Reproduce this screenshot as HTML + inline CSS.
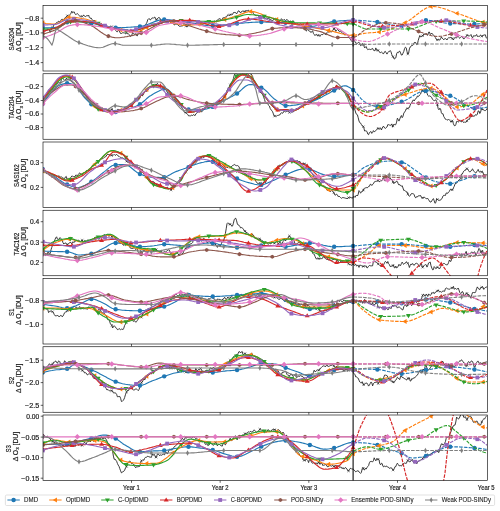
<!DOCTYPE html>
<html><head><meta charset="utf-8"><style>
html,body{margin:0;padding:0;background:#fff;width:500px;height:511px;overflow:hidden}
svg text{font-family:"Liberation Sans", sans-serif;font-size:6.5px;fill:#1a1a1a;stroke:#1a1a1a;stroke-width:0.18px}
svg{will-change:transform}
</style></head><body>
<svg width="500" height="511" viewBox="0 0 500 511" style="position:absolute;left:0;top:0">
<rect width="500" height="511" fill="#fff"/>
<clipPath id="c0"><rect x="43" y="5.5" width="444.35" height="65.5"/></clipPath>
<g clip-path="url(#c0)" fill="none" stroke-linejoin="round">
<path d="M43 33l.8-2.6 .8 .7 .8-.1 .8-.4 .8-.5 .8-1.2 .8 .5 .8 .8 .8 2.1 .8-2 .8-1.9 .8-.9 .8-1.4 .8-1.5 .8-.6 .8-.5 .8-1 .8-.1 .8-1 .8-.1 .8 .7 .8-1.1 .8-1.4 .8-.3 .8 .7 .8 .2 .8-1.9 .8-.8 .8 0 .8-1.6 .8-.2 .8 .5 .8-.7 .8-1 .8-1.2 .8-2 .8 1.6 .8-.6 .8-.3 .8 1.9 .8 .9 .8-.8 .8-.4 .8 .9 .8 .9 .8 1.1 .8-.1 .8-.2 .8 .4 .8-.9 .8-.5 .8 1.2 .8 .3 .8-.7 .8-.2 .8 .1 .8-.8 .8 2.5 .8 .9 .8-.6 .8 1.4 .8 .9 .8 1 .8-.9 .8 1.3 .8 2.4 .8 .5 .8-1.6 .8 1.2 .8 1.3 .8 .3 .8 .9 .8-1.2 .8 .2 .8 .1 .8 1.3 .8-.6 .8-1 .8-.2 .8 2.2 .8 .3 .8-.1 .8 .2 .8-.6 .8-.6 .8 .1 .8 1.2 .8 1.7 .8-.8 .8 .7 .8 1.2 .8 1 .8 .2 .8-1.4 .8-.2 .8 1.8 .8 1.5 .8 0 .8-.6 .8-.3 .8 .3 .8 .1 .8 .5 .8-.7 .8 .4 .8 .3 .8 .5 .8 .7 .8 1.6 .8-.1 .8-1.1 .8-2.4 .8 .6 .8 .8 .8 .3 .8-.9 .8 2.1 .8 .2 .8-2.5 .8-1.2 .8-.7 .8-.5 .8-.3 .8-.6 .8-2.4 .8-1.1 .8-.9 .8-.4 .8-1.4 .8-1.6 .8-2.6 .8-.8 .8-.1 .8 1.3 .8-.5 .8-1.3 .8-.3 .8 .3 .8-.9 .8-.1 .8 1.7 .8 1.4 .8-1.6 .8-.9 .8-.4 .8 .6 .8 1.9 .8 .8 .8-.3 .8 .2 .8 .1 .8-.3 .8-.9 .8 .8 .8 .7 .8-.3 .8 .1 .8 .1 .8 .9 .8 1 .8-.4 .8 .5 .8 1.1 .8 .8 .8 .1 .8-1.8 .8 1.3 .8 .1 .8 .5 .8 1 .8 .4 .8-.2 .8-.3 .8 .4 .8-1.2 .8-.2 .8 .4 .8-.2 .8 1.5 .8 .1 .8-.1 .8-1.7 .8-.8 .8 .4 .8 .2 .8-.8 .8 .2 .8 .3 .8 .5 .8-1.1 .8 .2 .8-1.1 .8-.8 .8-.1 .8-.1 .8 1.2 .8 .8 .8-.3 .8 .4 .8 .5 .8-.9 .8-.6 .8-.8 .8-.6 .8 .9 .8-.8 .8 1.2 .8 .4 .8 .4 .8-1 .8-.7 .8 .3 .8-.5 .8-.1 .8 0 .8-.3 .8-.6 .8-.6 .8-.5 .8-1.2 .8 .5 .8 0 .8 1.4 .8-.5 .8-2.3 .8 .4 .8-.3 .8-.8 .8 .4 .8-1.2 .8-1.4 .8 .5 .8 .2 .8-.6 .8-.9 .8 .8 .8-.3 .8-1.8 .8-.2 .8 .2 .8 .1 .8 1.2 .8-1.3 .8-1.6 .8-.2 .8 1.1 .8 1.2 .8-1.5 .8-.5 .8 .1 .8 .1 .8 .9 .8-1.4 .8 0 .8 0 .8-.2 .8-.4 .8 1.7 .8-.4 .8-.3 .8-.3 .8 .8 .8 1.7 .8 1.1 .8 .5 .8 .6 .8 0 .8-.2 .8 .7 .8 .2 .8-.2 .8 1 .8 .6 .8-.6 .8-.2 .8 1.4 .8 .9 .8-1.1 .8-.3 .8 .7 .8 .5 .8-1.4 .8 1.5 .8 .9 .8-.6 .8 1.3 .8-.3 .8-.8 .8 0 .8-.9 .8 1.1 .8 1.6 .8-.7 .8 1 .8-.4 .8 .1 .8-1.1 .8-1.6 .8 1 .8 .8 .8-.9 .8 0 .8 1.1 .8-.6 .8-.8 .8 1.1 .8 1.3 .8-.2 .8 1.1 .8 .6 .8-1.2 .8-1.2 .8 .1 .8 1.6 .8 1.2 .8 .2 .8 .1 .8-.2 .8 .5 .8 0 .8 0 .8-.4 .8 .2 .8 1.1 .8 .2 .8 .8 .8 1.6 .8 1.1 .8 2.2 .8-.7 .8-.9 .8 1.2 .8 .4 .8 .2 .8 1.3 .8-1.1 .8-.8 .8 2.7 .8 1 .8 1.2 .8-1.1 .8-.1 .8 1.5 .8-1.1 .8 .6 .8 .9 .8-1 .8-.7 .8 0 .8-.1 .8-1.1 .8 .4 .8 .6 .8 .4 .8-2.2 .8-1.1 .8 .6 .8-.5 .8 0 .8 .2 .8 .1 .8-1.3 .8-.9 .8-1.6 .8 1.4 .8 1.9 .8-1.1 .8-.7 .8 .3 .8 1.4 .8 .1 .8-.5 .8 1.4 .8 .7 .8 .3 .8 0 .8 1.7 .8-.2 .8-.4 .8 0 .8 .9 .8 1.4 .8 .7 .8 1.7 .8 1.1 .8 1.3 .8 .3 .8-1.1 .8-1.3 .8 2.4 .8 1.5 .8-.1 .8 .1 .8-.7 .8-.2 .8 .8 .8 2.5 .8-.4 .8-1.2 .8-.5 .8 2 .8 2.3 .8-.8 .8-.7 .8 2.3 .8 1 .8-.4 .8-.1 .8 .4 .8-.3 .8-.3 .8-.6 .8 1.8 .8 .3 .8 .3 .8-2.9 .8 2 .8 1.2 .8-.8 .8 1 .8 1.3 .8 .1 .8-.8 .8 .6 .8 1.3 .8-.3 .8-1.8 .8-.3 .8 1.4 .8 1.3 .8-1.5 .8-1 .8 0 .8-1.1 .8 1.3 .8 2.8 .8 1.9 .8 .4 .8 2.2 .8-.7 .8-.5 .8-4.1 .8-1.5 .8 .5 .8-1.4 .8-.2 .8 1.8 .8 2.1 .8-.1 .8-1.8 .8-1.8 .8-2.9 .8-1.3 .8 .6 .8 3.8 .8 2.5 .8-1 .8-4.2 .8-2 .8-.3 .8-1.4 .8 .3 .8-.9 .8-2 .8-.3 .8 .4 .8 1.9 .8-.2 .8-3.8 .8-2.7 .8-2.4 .8 1.4 .8-.2 .8-1.1 .8 .3 .8-2 .8 .4 .8 .1 .8-1 .8 1.8 .8-.1 .8-2.9 .8-.2 .8 2.3 .8-.2 .8-1 .8 1 .8 1 .8 .8 .8 1.4 .8 .8 .8 1.7 .8 .1 .8-.6 .8 .5 .8 .3 .8-1.5 .8-1.7 .8 1.4 .8 .5 .8 1 .8-1.1 .8-.1 .8 .4 .8 1 .8-1.5 .8-.9 .8 .2 .8-.4 .8 .4 .8 .1 .8 1 .8 1.1 .8-1.9 .8-.6 .8 .3 .8 .2 .8-1.7 .8 .1 .8 1.2 .8 .7 .8-.8 .8-1 .8-.2 .8 1.7 .8 1.1 .8-1.2 .8-.7 .8-.5 .8-1.5 .8 .1 .8 .4 .8 .4 .8-.8 .8-.8 .8 2.5 .8 .8 .8-2 .8 0 .8 .3 .8-.4 .8-1.2 .8 2 .8-.5 .8 .8 .8-.8 .8-.9 .8 .7 .8 .8 .8-1.4 .8 0 .8-.3 .8-.1 .8 3 .8 .4" stroke="#262626" stroke-width="0.9"/>
<path d="M51.4 26.33L53.8 28.73M51.4 28.73L53.8 26.33" stroke="#262626" stroke-width="0.55"/><path d="M66.2 14.53L68.6 16.93M66.2 16.93L68.6 14.53" stroke="#262626" stroke-width="0.55"/><path d="M81 15.27L83.4 17.67M81 17.67L83.4 15.27" stroke="#262626" stroke-width="0.55"/><path d="M95.8 22.44L98.2 24.84M95.8 24.84L98.2 22.44" stroke="#262626" stroke-width="0.55"/><path d="M110.6 25.39L113 27.79M110.6 27.79L113 25.39" stroke="#262626" stroke-width="0.55"/><path d="M125.4 31.77L127.8 34.17M125.4 34.17L127.8 31.77" stroke="#262626" stroke-width="0.55"/><path d="M140.2 29.43L142.6 31.83M140.2 31.83L142.6 29.43" stroke="#262626" stroke-width="0.55"/><path d="M155 18.4L157.4 20.8M155 20.8L157.4 18.4" stroke="#262626" stroke-width="0.55"/><path d="M169.8 21.61L172.2 24.01M169.8 24.01L172.2 21.61" stroke="#262626" stroke-width="0.55"/><path d="M184.6 24.66L187 27.06M184.6 27.06L187 24.66" stroke="#262626" stroke-width="0.55"/><path d="M199.4 22.73L201.8 25.13M199.4 25.13L201.8 22.73" stroke="#262626" stroke-width="0.55"/><path d="M214.2 20.36L216.6 22.76M214.2 22.76L216.6 20.36" stroke="#262626" stroke-width="0.55"/><path d="M229 13.62L231.4 16.02M229 16.02L231.4 13.62" stroke="#262626" stroke-width="0.55"/><path d="M243.8 10.28L246.2 12.68M243.8 12.68L246.2 10.28" stroke="#262626" stroke-width="0.55"/><path d="M258.6 14.92L261 17.32M258.6 17.32L261 14.92" stroke="#262626" stroke-width="0.55"/><path d="M273.4 17.94L275.8 20.34M273.4 20.34L275.8 17.94" stroke="#262626" stroke-width="0.55"/><path d="M288.2 20.32L290.6 22.72M288.2 22.72L290.6 20.32" stroke="#262626" stroke-width="0.55"/><path d="M303 25.82L305.4 28.22M303 28.22L305.4 25.82" stroke="#262626" stroke-width="0.55"/><path d="M317.8 34.21L320.2 36.61M317.8 36.61L320.2 34.21" stroke="#262626" stroke-width="0.55"/><path d="M332.6 27.7L335 30.1M332.6 30.1L335 27.7" stroke="#262626" stroke-width="0.55"/><path d="M347.4 35.54L349.8 37.94M347.4 37.94L349.8 35.54" stroke="#262626" stroke-width="0.55"/><path d="M362.2 43.43L364.6 45.83M362.2 45.83L364.6 43.43" stroke="#262626" stroke-width="0.55"/><path d="M377 49.06L379.4 51.46M377 51.46L379.4 49.06" stroke="#262626" stroke-width="0.55"/><path d="M391.8 55.5L394.2 57.9M391.8 57.9L394.2 55.5" stroke="#262626" stroke-width="0.55"/><path d="M406.6 52.89L409 55.29M406.6 55.29L409 52.89" stroke="#262626" stroke-width="0.55"/><path d="M421.4 34.56L423.8 36.96M421.4 36.96L423.8 34.56" stroke="#262626" stroke-width="0.55"/><path d="M436.2 38.71L438.6 41.11M436.2 41.11L438.6 38.71" stroke="#262626" stroke-width="0.55"/><path d="M451 37.19L453.4 39.59M451 39.59L453.4 37.19" stroke="#262626" stroke-width="0.55"/><path d="M465.8 34.05L468.2 36.45M465.8 36.45L468.2 34.05" stroke="#262626" stroke-width="0.55"/><path d="M480.6 34.99L483 37.39M480.6 37.39L483 34.99" stroke="#262626" stroke-width="0.55"/>
<path d="M43 28l1.5 0 1.5-.1 1.5 0 1.5-.1 1.5-.1 1.5-.1 1.5-.1 1.5-.1 1.5-.2 1.5-.5 1.5-.6 1.5-.7 1.5-.8 1.5-.8 1.5-.8 1.5-.8 1.5-.5 1.5-.5 1.5-.2 1.5 0 1.5 .1 1.5 .1 1.5 .1 1.5 .1 1.5 .2 1.5 .2 1.5 .2 1.5 .3 1.5 .2 1.5 .2 1.5 .2 1.5 .2 1.5 .3 1.5 .3 1.5 .3 1.5 .4 1.5 .3 1.5 .4 1.5 .4 1.5 .3 1.5 .4 1.5 .3 1.5 .3 1.5 .3 1.5 .3 1.5 .1 1.5 .2 1.5 0 1.5 0 1.5 0 1.5 0 1.5 0 1.5-.1 1.5 0 1.5-.1 1.5-.1 1.5-.1 1.5-.1 1.5-.1 1.5-.1 1.5-.1 1.5-.1 1.5-.1 1.5-.2 1.5-.1 1.5-.3 1.5-.3 1.5-.5 1.5-.5 1.5-.5 1.5-.6 1.5-.6 1.5-.6 1.5-.6 1.5-.5 1.5-.5 1.5-.5 1.5-.4 1.5-.2 1.5-.2 1.5-.1 1.5 0 1.5 .1 1.5 .1 1.5 .2 1.5 .1 1.5 .2 1.5 .3 1.5 .2 1.5 .2 1.5 .3 1.5 .2 1.5 .3 1.5 .2 1.5 .2 1.5 .2 1.5 .2 1.5 .3 1.5 .2 1.5 .3 1.5 .3 1.5 .2 1.5 .3 1.5 .3 1.5 .2 1.5 .2 1.5 .3 1.5 .2 1.5 .1 1.5 .2 1.5 .1 1.5 0 1.5 .1 1.5-.1 1.5 0 1.5-.1 1.5-.1 1.5-.1 1.5-.2 1.5-.1 1.5-.2 1.5-.2 1.5-.1 1.5-.2 1.5-.2 1.5-.2 1.5-.1 1.5-.2 1.5-.1 1.5-.1 1.5-.2 1.5-.1 1.5-.1 1.5-.1 1.5-.2 1.5-.1 1.5-.1 1.5-.1 1.5-.1 1.5-.1 1.5-.1 1.5-.1 1.5 0 1.5-.1 1.5 0 1.5 0 1.5 0 1.5 0 1.5 .1 1.5 0 1.5 0 1.5 .1 1.5 0 1.5 .1 1.5 0 1.5 .1 1.5 0 1.5 .1 1.5 .1 1.5 0 1.5 .1 1.5 .1 1.5 .2 1.5 .2 1.5 .2 1.5 .3 1.5 .2 1.5 .4 1.5 .3 1.5 .3 1.5 .3 1.5 .3 1.5 .3 1.5 .2 1.5 .2 1.5 .2 1.5 .1 1.5 0 1.5 0 1.5-.2 1.5-.2 1.5-.3 1.5-.3 1.5-.4 1.5-.4 1.5-.4 1.5-.5 1.5-.4 1.5-.4 1.5-.4 1.5-.4 1.5-.3 1.5-.3 1.5-.1 1.5-.2 1.5-.1 1.5-.2 1.5-.1 1.5-.1 1.5-.1 1.5-.1 1.5-.1 1.5-.1 1.5-.1 1.5 0 1.5 0" stroke="#1f77b4" stroke-width="1.15"/>
<path d="M353.5 20.3l1.5 0 1.5 0 1.5 .1 1.5 0 1.5 .1 1.5 .1 1.5 .1 1.5 .1 1.5 .2 1.5 .1 1.5 .1 1.5 .2 1.5 .1 1.5 .2 1.5 .1 1.5 .2 1.5 .2 1.5 .2 1.5 .3 1.5 .3 1.5 .3 1.5 .4 1.5 .3 1.5 .4 1.5 .3 1.5 .3 1.5 .3 1.5 .2 1.5 .2 1.5 .2 1.5 .1 1.5 0 1.5-.1 1.5-.2 1.5-.3 1.5-.4 1.5-.4 1.5-.5 1.5-.5 1.5-.5 1.5-.5 1.5-.5 1.5-.5 1.5-.4 1.5-.4 1.5-.2 1.5-.2 1.5-.1 1.5 0 1.5 0 1.5 .2 1.5 .1 1.5 .3 1.5 .2 1.5 .3 1.5 .3 1.5 .3 1.5 .3 1.5 .2 1.5 .3 1.5 .2 1.5 .2 1.5 .2 1.5 .1 1.5 0 1.5 .1 1.5 0 1.5 .1 1.5 0 1.5 .1 1.5 0 1.5 0 1.5 .1 1.5 0 1.5 0 1.5 0 1.5 .1 1.5 0 1.5 0 1.5 0 1.5 0 1.5 0 1.5-.1 1.5-.1 1.5-.1 1.5-.2 1.5-.1 1.5-.2 1.5-.2" stroke="#1f77b4" stroke-width="1.15" stroke-dasharray="3.6 1.2"/>
<circle cx="42.83" cy="28" r="2.2" fill="#1f77b4"/><circle cx="67.11" cy="22.2" r="2.2" fill="#1f77b4"/><circle cx="91.38" cy="23.21" r="2.2" fill="#1f77b4"/><circle cx="115.66" cy="27.75" r="2.2" fill="#1f77b4"/><circle cx="139.94" cy="26.46" r="2.2" fill="#1f77b4"/><circle cx="164.21" cy="19.5" r="2.2" fill="#1f77b4"/><circle cx="188.49" cy="22.51" r="2.2" fill="#1f77b4"/><circle cx="212.77" cy="25.75" r="2.2" fill="#1f77b4"/><circle cx="237.04" cy="23.54" r="2.2" fill="#1f77b4"/><circle cx="261.32" cy="22" r="2.2" fill="#1f77b4"/><circle cx="285.6" cy="22.79" r="2.2" fill="#1f77b4"/><circle cx="309.87" cy="26.5" r="2.2" fill="#1f77b4"/><circle cx="334.15" cy="21.46" r="2.2" fill="#1f77b4"/><circle cx="353.1" cy="20.25" r="2.2" fill="#1f77b4"/><circle cx="377.38" cy="21.99" r="2.2" fill="#1f77b4"/><circle cx="401.65" cy="25.99" r="2.2" fill="#1f77b4"/><circle cx="425.93" cy="20.25" r="2.2" fill="#1f77b4"/><circle cx="450.21" cy="23.51" r="2.2" fill="#1f77b4"/><circle cx="474.48" cy="24" r="2.2" fill="#1f77b4"/>
<path d="M43 22.7l1.5 .4 1.5 .4 1.5 .2 1.5 .1 1.5 .1 1.5 .1 1.5 0 1.5 0 1.5-.2 1.5-.5 1.5-.8 1.5-.9 1.5-1 1.5-1 1.5-.9 1.5-.8 1.5-.5 1.5-.2 1.5 0 1.5 .1 1.5 .1 1.5 .2 1.5 .2 1.5 .2 1.5 .2 1.5 .3 1.5 .2 1.5 .3 1.5 .3 1.5 .4 1.5 .5 1.5 .5 1.5 .5 1.5 .6 1.5 .6 1.5 .6 1.5 .5 1.5 .5 1.5 .5 1.5 .5 1.5 .5 1.5 .6 1.5 .5 1.5 .5 1.5 .5 1.5 .5 1.5 .5 1.5 .4 1.5 .4 1.5 .3 1.5 .2 1.5 .2 1.5 .2 1.5 .2 1.5 .2 1.5 .2 1.5 .1 1.5 .2 1.5 .1 1.5 .1 1.5 .1 1.5 0 1.5 0 1.5-.3 1.5-.5 1.5-.6 1.5-.8 1.5-.9 1.5-.8 1.5-.8 1.5-.6 1.5-.5 1.5-.6 1.5-.5 1.5-.5 1.5-.6 1.5-.4 1.5-.5 1.5-.4 1.5-.3 1.5-.2 1.5-.2 1.5 0 1.5 .1 1.5 .3 1.5 .3 1.5 .4 1.5 .5 1.5 .4 1.5 .5 1.5 .4 1.5 .4 1.5 .3 1.5 .1 1.5 0 1.5 0 1.5 0 1.5-.1 1.5-.1 1.5-.1 1.5-.1 1.5-.2 1.5-.2 1.5-.1 1.5-.2 1.5-.2 1.5-.2 1.5-.2 1.5-.2 1.5-.3 1.5-.2 1.5-.2 1.5-.3 1.5-.2 1.5-.3 1.5-.4 1.5-.3 1.5-.4 1.5-.4 1.5-.4 1.5-.4 1.5-.4 1.5-.4 1.5-.5 1.5-.4 1.5-.4 1.5-.5 1.5-.4 1.5-.5 1.5-.5 1.5-.6 1.5-.6 1.5-.7 1.5-.5 1.5-.6 1.5-.4 1.5-.4 1.5-.2 1.5 0 1.5 .1 1.5 .3 1.5 .4 1.5 .4 1.5 .6 1.5 .5 1.5 .6 1.5 .7 1.5 .5 1.5 .6 1.5 .5 1.5 .4 1.5 .5 1.5 .5 1.5 .5 1.5 .5 1.5 .5 1.5 .5 1.5 .5 1.5 .5 1.5 .4 1.5 .4 1.5 .3 1.5 .4 1.5 .3 1.5 .3 1.5 .3 1.5 .3 1.5 .3 1.5 .3 1.5 .3 1.5 .3 1.5 .2 1.5 .3 1.5 .3 1.5 .3 1.5 .3 1.5 .3 1.5 .3 1.5 .2 1.5 .3 1.5 .3 1.5 .3 1.5 .3 1.5 .2 1.5 .3 1.5 .3 1.5 .3 1.5 .3 1.5 .3 1.5 .3 1.5 .3 1.5 .3 1.5 .3 1.5 .4 1.5 .4 1.5 .4 1.5 .4 1.5 .4 1.5 .4 1.5 .3 1.5 .3 1.5 .3 1.5 .3 1.5 .2 1.5 .1 1.5 0" stroke="#ff7f0e" stroke-width="1.15"/>
<path d="M353.5 35.2l1.5-.1 1.5-.2 1.5-.2 1.5-.3 1.5-.4 1.5-.3 1.5-.3 1.5-.2 1.5-.2 1.5-.1 1.5-.2 1.5-.1 1.5 0 1.5-.1 1.5-.1 1.5-.1 1.5-.2 1.5-.2 1.5-.2 1.5-.3 1.5-.4 1.5-.4 1.5-.5 1.5-.5 1.5-.6 1.5-.6 1.5-.6 1.5-.7 1.5-.6 1.5-.7 1.5-.7 1.5-.7 1.5-.7 1.5-.7 1.5-.7 1.5-.9 1.5-.9 1.5-1 1.5-1.1 1.5-1.2 1.5-1.2 1.5-1.2 1.5-1.1 1.5-1.2 1.5-1.1 1.5-1.1 1.5-.9 1.5-.9 1.5-.7 1.5-.6 1.5-.4 1.5-.3 1.5 0 1.5 .1 1.5 .1 1.5 .3 1.5 .3 1.5 .4 1.5 .4 1.5 .4 1.5 .5 1.5 .6 1.5 .5 1.5 .6 1.5 .5 1.5 .6 1.5 .5 1.5 .6 1.5 .4 1.5 .5 1.5 .5 1.5 .5 1.5 .5 1.5 .6 1.5 .5 1.5 .6 1.5 .6 1.5 .5 1.5 .6 1.5 .5 1.5 .5 1.5 .6 1.5 .4 1.5 .5 1.5 .4 1.5 .4 1.5 .3 1.5 .4 1.5 .2" stroke="#ff7f0e" stroke-width="1.15" stroke-dasharray="3.6 1.2"/>
<path d="M40.23 22.64L44.39 20.17L44.39 25.11Z" fill="#ff7f0e"/><path d="M66.21 17.32L70.37 14.85L70.37 19.79Z" fill="#ff7f0e"/><path d="M92.18 22.11L96.34 19.64L96.34 24.58Z" fill="#ff7f0e"/><path d="M118.16 30.1L122.32 27.63L122.32 32.57Z" fill="#ff7f0e"/><path d="M144.13 27.47L148.29 25L148.29 29.94Z" fill="#ff7f0e"/><path d="M170.11 22.39L174.27 19.92L174.27 24.86Z" fill="#ff7f0e"/><path d="M196.09 24.31L200.25 21.84L200.25 26.78Z" fill="#ff7f0e"/><path d="M222.06 19.46L226.22 16.99L226.22 21.93Z" fill="#ff7f0e"/><path d="M248.04 11.51L252.2 9.04L252.2 13.98Z" fill="#ff7f0e"/><path d="M274.01 19.51L278.17 17.04L278.17 21.98Z" fill="#ff7f0e"/><path d="M299.99 25.54L304.15 23.07L304.15 28.01Z" fill="#ff7f0e"/><path d="M325.96 30.46L330.12 27.99L330.12 32.93Z" fill="#ff7f0e"/><path d="M350.5 35.24L354.66 32.77L354.66 37.71Z" fill="#ff7f0e"/><path d="M376.48 32.1L380.64 29.63L380.64 34.57Z" fill="#ff7f0e"/><path d="M402.45 22.73L406.61 20.26L406.61 25.2Z" fill="#ff7f0e"/><path d="M428.43 6.6L432.59 4.13L432.59 9.07Z" fill="#ff7f0e"/><path d="M454.4 13.35L458.56 10.88L458.56 15.82Z" fill="#ff7f0e"/><path d="M480.38 22.12L484.54 19.65L484.54 24.59Z" fill="#ff7f0e"/>
<path d="M43 29.2l1.5 0 1.5-.1 1.5 0 1.5-.1 1.5-.1 1.5-.1 1.5-.2 1.5-.1 1.5-.3 1.5-.6 1.5-.7 1.5-.9 1.5-.9 1.5-1 1.5-.8 1.5-.7 1.5-.4 1.5-.2 1.5 0 1.5 0 1.5 0 1.5 0 1.5 0 1.5 0 1.5 0 1.5 0 1.5 0 1.5 0 1.5 0 1.5 0 1.5 0 1.5 0 1.5 .2 1.5 .2 1.5 .3 1.5 .4 1.5 .4 1.5 .4 1.5 .5 1.5 .5 1.5 .5 1.5 .5 1.5 .5 1.5 .4 1.5 .3 1.5 .4 1.5 .4 1.5 .3 1.5 .5 1.5 .3 1.5 .4 1.5 .4 1.5 .3 1.5 .3 1.5 .3 1.5 .1 1.5 .2 1.5 0 1.5-.1 1.5-.1 1.5-.2 1.5-.4 1.5-.3 1.5-.5 1.5-.4 1.5-.5 1.5-.5 1.5-.5 1.5-.5 1.5-.4 1.5-.5 1.5-.4 1.5-.4 1.5-.5 1.5-.4 1.5-.5 1.5-.5 1.5-.5 1.5-.4 1.5-.3 1.5-.3 1.5-.3 1.5-.1 1.5-.2 1.5-.1 1.5-.1 1.5-.1 1.5-.1 1.5-.1 1.5-.1 1.5-.1 1.5 0 1.5-.1 1.5 0 1.5 0 1.5 0 1.5 .1 1.5 0 1.5 .1 1.5 0 1.5 .1 1.5 .1 1.5 .1 1.5 .1 1.5 .1 1.5 .1 1.5 0 1.5 .1 1.5 0 1.5 .1 1.5 0 1.5 0 1.5-.1 1.5-.1 1.5-.1 1.5-.1 1.5-.2 1.5-.2 1.5-.3 1.5-.3 1.5-.2 1.5-.3 1.5-.3 1.5-.3 1.5-.3 1.5-.3 1.5-.4 1.5-.2 1.5-.4 1.5-.5 1.5-.5 1.5-.5 1.5-.5 1.5-.4 1.5-.3 1.5-.2 1.5 0 1.5 .1 1.5 .1 1.5 .1 1.5 .1 1.5 .2 1.5 .2 1.5 .3 1.5 .2 1.5 .2 1.5 .3 1.5 .2 1.5 .3 1.5 .3 1.5 .3 1.5 .4 1.5 .5 1.5 .4 1.5 .4 1.5 .5 1.5 .4 1.5 .4 1.5 .4 1.5 .3 1.5 .3 1.5 .3 1.5 .2 1.5 .3 1.5 .2 1.5 .2 1.5 .1 1.5 .1 1.5 0 1.5 0 1.5 0 1.5 0 1.5 .1 1.5 0 1.5 0 1.5 0 1.5 0 1.5 0 1.5 0 1.5 0 1.5 0 1.5 .1 1.5 0 1.5 0 1.5 0 1.5 0 1.5 .1 1.5 0 1.5 0 1.5 0 1.5 .1 1.5 0 1.5 0 1.5 0 1.5 .1 1.5 0 1.5 .1 1.5 0 1.5 .1 1.5 0 1.5 .1 1.5 0 1.5 .1 1.5 .1 1.5 .1 1.5 .1" stroke="#2ca02c" stroke-width="1.15"/>
<path d="M353.5 24.1l1.5 .4 1.5 .6 1.5 .6 1.5 .8 1.5 .7 1.5 .7 1.5 .6 1.5 .4 1.5 .1 1.5 0 1.5 0 1.5 0 1.5 0 1.5 0 1.5 0 1.5 0 1.5 0 1.5 0 1.5 0 1.5 0 1.5 0 1.5 0 1.5 0 1.5 0 1.5 0 1.5 0 1.5 0 1.5 0 1.5 0 1.5 0 1.5 0 1.5 0 1.5 0 1.5 0 1.5 0 1.5 0 1.5 0 1.5-.1 1.5-.2 1.5-.3 1.5-.4 1.5-.5 1.5-.6 1.5-.6 1.5-.6 1.5-.6 1.5-.6 1.5-.6 1.5-.6 1.5-.5 1.5-.5 1.5-.3 1.5-.3 1.5-.2 1.5 0 1.5-.1 1.5 0 1.5-.1 1.5 0 1.5 0 1.5-.1 1.5 0 1.5 0 1.5-.1 1.5 0 1.5 0 1.5 0 1.5-.1 1.5 0 1.5 0 1.5 0 1.5 0 1.5 0 1.5 0 1.5 0 1.5 0 1.5 .1 1.5 0 1.5 .1 1.5 0 1.5 .1 1.5 0 1.5 .1 1.5 .1 1.5 .1 1.5 .1 1.5 .1 1.5 .1 1.5 .1" stroke="#2ca02c" stroke-width="1.15" stroke-dasharray="3.6 1.2"/>
<path d="M42.83 31.8L45.3 27.64L40.36 27.64Z" fill="#2ca02c"/><path d="M70.51 24.6L72.98 20.44L68.04 20.44Z" fill="#2ca02c"/><path d="M98.18 25.99L100.65 21.83L95.71 21.83Z" fill="#2ca02c"/><path d="M125.86 33.31L128.33 29.15L123.39 29.15Z" fill="#2ca02c"/><path d="M153.53 27.58L156 23.42L151.06 23.42Z" fill="#2ca02c"/><path d="M181.21 23.16L183.68 19L178.74 19Z" fill="#2ca02c"/><path d="M208.88 24.09L211.35 19.93L206.41 19.93Z" fill="#2ca02c"/><path d="M236.56 19.98L239.03 15.82L234.09 15.82Z" fill="#2ca02c"/><path d="M264.23 18.98L266.7 14.82L261.76 14.82Z" fill="#2ca02c"/><path d="M291.91 25.14L294.38 20.98L289.44 20.98Z" fill="#2ca02c"/><path d="M319.58 25.59L322.05 21.43L317.11 21.43Z" fill="#2ca02c"/><path d="M347.26 26.31L349.73 22.15L344.79 22.15Z" fill="#2ca02c"/><path d="M353.1 26.66L355.57 22.5L350.63 22.5Z" fill="#2ca02c"/><path d="M380.78 31.6L383.25 27.44L378.31 27.44Z" fill="#2ca02c"/><path d="M408.45 31.6L410.92 27.44L405.98 27.44Z" fill="#2ca02c"/><path d="M436.13 24.06L438.6 19.9L433.66 19.9Z" fill="#2ca02c"/><path d="M463.8 23.6L466.27 19.44L461.33 19.44Z" fill="#2ca02c"/>
<path d="M43 31l1.5-.3 1.5-.3 1.5-.3 1.5-.4 1.5-.4 1.5-.4 1.5-.4 1.5-.5 1.5-.6 1.5-.8 1.5-.9 1.5-.9 1.5-1 1.5-.9 1.5-.8 1.5-.7 1.5-.4 1.5-.2 1.5 0 1.5 0 1.5 .1 1.5 0 1.5 .1 1.5 .1 1.5 .1 1.5 .1 1.5 .1 1.5 .1 1.5 .2 1.5 .1 1.5 .2 1.5 .1 1.5 .3 1.5 .4 1.5 .4 1.5 .5 1.5 .5 1.5 .6 1.5 .5 1.5 .6 1.5 .5 1.5 .5 1.5 .5 1.5 .4 1.5 .3 1.5 .3 1.5 .3 1.5 .3 1.5 .3 1.5 .3 1.5 .3 1.5 .3 1.5 .2 1.5 .2 1.5 .2 1.5 .1 1.5 .1 1.5 0 1.5-.1 1.5-.1 1.5-.2 1.5-.3 1.5-.4 1.5-.4 1.5-.5 1.5-.5 1.5-.5 1.5-.5 1.5-.4 1.5-.5 1.5-.5 1.5-.4 1.5-.5 1.5-.5 1.5-.5 1.5-.6 1.5-.5 1.5-.6 1.5-.4 1.5-.5 1.5-.3 1.5-.2 1.5-.1 1.5-.1 1.5-.1 1.5-.1 1.5-.1 1.5 0 1.5-.1 1.5 0 1.5-.1 1.5 0 1.5-.1 1.5 0 1.5 0 1.5 0 1.5 0 1.5-.1 1.5 .1 1.5 .1 1.5 .3 1.5 .3 1.5 .3 1.5 .4 1.5 .4 1.5 .5 1.5 .5 1.5 .5 1.5 .5 1.5 .4 1.5 .5 1.5 .4 1.5 .3 1.5 .3 1.5 .3 1.5 .1 1.5 .1 1.5 0 1.5-.2 1.5-.2 1.5-.4 1.5-.4 1.5-.5 1.5-.5 1.5-.5 1.5-.6 1.5-.6 1.5-.6 1.5-.5 1.5-.6 1.5-.5 1.5-.4 1.5-.4 1.5-.3 1.5-.2 1.5-.1 1.5 0 1.5 .1 1.5 0 1.5 .2 1.5 .1 1.5 .2 1.5 .2 1.5 .2 1.5 .3 1.5 .2 1.5 .3 1.5 .2 1.5 .3 1.5 .2 1.5 .3 1.5 .2 1.5 .2 1.5 .2 1.5 .2 1.5 .1 1.5 .1 1.5 .1 1.5 .2 1.5 .1 1.5 .1 1.5 .1 1.5 .1 1.5 .1 1.5 .1 1.5 .1 1.5 0 1.5 .1 1.5 .1 1.5 0 1.5 0 1.5 0 1.5 0 1.5 0 1.5 0 1.5 0 1.5 0 1.5 0 1.5 0 1.5 0 1.5 0 1.5 0 1.5 0 1.5 0 1.5 0 1.5 0 1.5 0 1.5 0 1.5 0 1.5 0 1.5 0 1.5 0 1.5 0 1.5 0 1.5 0 1.5 0 1.5 0 1.5-.2 1.5-.2 1.5-.3 1.5-.4 1.5-.3 1.5-.4 1.5-.3 1.5-.2 1.5-.2" stroke="#d62728" stroke-width="1.15"/>
<path d="M353.5 21.5l1.5 .1 1.5 .3 1.5 .3 1.5 .4 1.5 .4 1.5 .5 1.5 .5 1.5 .5 1.5 .5 1.5 .5 1.5 .3 1.5 .4 1.5 .2 1.5 .1 1.5 0 1.5 0 1.5-.1 1.5 0 1.5-.1 1.5 0 1.5-.1 1.5-.1 1.5-.1 1.5-.1 1.5-.2 1.5-.1 1.5-.1 1.5-.2 1.5-.1 1.5-.1 1.5-.2 1.5-.1 1.5-.2 1.5-.1 1.5-.2 1.5-.1 1.5-.1 1.5-.1 1.5-.2 1.5-.1 1.5-.2 1.5-.2 1.5-.2 1.5-.1 1.5-.2 1.5-.2 1.5-.2 1.5-.2 1.5-.2 1.5-.2 1.5-.1 1.5-.2 1.5-.1 1.5-.1 1.5-.1 1.5-.1 1.5-.1 1.5 0 1.5 0 1.5 .1 1.5 .1 1.5 .1 1.5 .2 1.5 .3 1.5 .2 1.5 .3 1.5 .3 1.5 .3 1.5 .3 1.5 .3 1.5 .3 1.5 .3 1.5 .3 1.5 .2 1.5 .2 1.5 .2 1.5 .2 1.5 .1 1.5 .1 1.5 .1 1.5 .1 1.5 0 1.5 .1 1.5 .1 1.5 .1 1.5 0 1.5 .1 1.5 0 1.5 0" stroke="#d62728" stroke-width="1.15" stroke-dasharray="3.6 1.2"/>
<path d="M42.83 28.38L45.3 32.54L40.36 32.54Z" fill="#d62728"/><path d="M72.2 18.22L74.67 22.38L69.73 22.38Z" fill="#d62728"/><path d="M101.58 22.75L104.05 26.91L99.11 26.91Z" fill="#d62728"/><path d="M130.95 28.38L133.42 32.54L128.48 32.54Z" fill="#d62728"/><path d="M160.33 19.83L162.8 23.99L157.86 23.99Z" fill="#d62728"/><path d="M189.7 17.65L192.17 21.81L187.23 21.81Z" fill="#d62728"/><path d="M219.08 23.9L221.55 28.06L216.61 28.06Z" fill="#d62728"/><path d="M248.45 16.41L250.92 20.57L245.98 20.57Z" fill="#d62728"/><path d="M277.83 20.17L280.3 24.33L275.36 24.33Z" fill="#d62728"/><path d="M307.2 21.4L309.67 25.56L304.73 25.56Z" fill="#d62728"/><path d="M336.58 21.4L339.05 25.56L334.11 25.56Z" fill="#d62728"/><path d="M353.1 18.9L355.57 23.06L350.63 23.06Z" fill="#d62728"/><path d="M382.47 23.71L384.94 27.87L380 27.87Z" fill="#d62728"/><path d="M411.85 21.23L414.32 25.39L409.38 25.39Z" fill="#d62728"/><path d="M441.22 18.4L443.69 22.56L438.75 22.56Z" fill="#d62728"/><path d="M470.6 22.69L473.07 26.85L468.13 26.85Z" fill="#d62728"/>
<path d="M43 25l1.5 0 1.5-.1 1.5 0 1.5-.1 1.5-.1 1.5-.1 1.5-.1 1.5-.1 1.5-.3 1.5-.4 1.5-.7 1.5-.7 1.5-.8 1.5-.7 1.5-.7 1.5-.6 1.5-.4 1.5-.1 1.5 0 1.5 .1 1.5 0 1.5 .1 1.5 .2 1.5 .1 1.5 .2 1.5 .2 1.5 .2 1.5 .2 1.5 .2 1.5 .2 1.5 .2 1.5 .3 1.5 .3 1.5 .4 1.5 .4 1.5 .5 1.5 .5 1.5 .6 1.5 .5 1.5 .6 1.5 .5 1.5 .5 1.5 .4 1.5 .4 1.5 .3 1.5 .3 1.5 .3 1.5 .3 1.5 .3 1.5 .3 1.5 .3 1.5 .3 1.5 .2 1.5 .2 1.5 .2 1.5 .1 1.5 .1 1.5 0 1.5-.1 1.5-.1 1.5-.3 1.5-.3 1.5-.4 1.5-.4 1.5-.5 1.5-.5 1.5-.5 1.5-.5 1.5-.5 1.5-.4 1.5-.4 1.5-.3 1.5-.4 1.5-.4 1.5-.4 1.5-.4 1.5-.4 1.5-.4 1.5-.3 1.5-.3 1.5-.2 1.5-.1 1.5 0 1.5 0 1.5 0 1.5 0 1.5 0 1.5 0 1.5 0 1.5 .1 1.5 0 1.5 0 1.5 0 1.5 0 1.5 .1 1.5 0 1.5 0 1.5 .1 1.5 0 1.5 0 1.5 .1 1.5 0 1.5 0 1.5 .1 1.5 0 1.5 .1 1.5 .1 1.5 .2 1.5 .1 1.5 .2 1.5 .2 1.5 .3 1.5 .2 1.5 .3 1.5 .2 1.5 .2 1.5 .3 1.5 .2 1.5 .2 1.5 .1 1.5 .2 1.5 .1 1.5 0 1.5 0 1.5 0 1.5-.2 1.5-.2 1.5-.3 1.5-.4 1.5-.4 1.5-.5 1.5-.5 1.5-.5 1.5-.6 1.5-.5 1.5-.5 1.5-.6 1.5-.4 1.5-.5 1.5-.4 1.5-.3 1.5-.3 1.5-.2 1.5-.1 1.5 0 1.5 .1 1.5 .3 1.5 .5 1.5 .5 1.5 .7 1.5 .7 1.5 .7 1.5 .8 1.5 .7 1.5 .7 1.5 .6 1.5 .5 1.5 .4 1.5 .3 1.5 .3 1.5 .3 1.5 .3 1.5 .3 1.5 .2 1.5 .2 1.5 .1 1.5 0 1.5 .1 1.5 .1 1.5 0 1.5 .1 1.5 .1 1.5 0 1.5 .1 1.5 0 1.5 0 1.5 .1 1.5 0 1.5 0 1.5 .1 1.5 0 1.5 0 1.5 0 1.5 0 1.5 0 1.5 0 1.5 0 1.5-.1 1.5-.2 1.5-.3 1.5-.4 1.5-.4 1.5-.5 1.5-.5 1.5-.6 1.5-.5 1.5-.6 1.5-.5 1.5-.6 1.5-.5 1.5-.4 1.5-.4 1.5-.4 1.5-.3 1.5-.2 1.5 0" stroke="#9467bd" stroke-width="1.15"/>
<path d="M353.5 20.3l1.5 .1 1.5 .2 1.5 .3 1.5 .3 1.5 .4 1.5 .4 1.5 .5 1.5 .5 1.5 .6 1.5 .5 1.5 .5 1.5 .5 1.5 .5 1.5 .5 1.5 .4 1.5 .4 1.5 .3 1.5 .3 1.5 .2 1.5 0 1.5 0 1.5 0 1.5-.1 1.5-.1 1.5-.2 1.5-.1 1.5-.2 1.5-.3 1.5-.2 1.5-.2 1.5-.3 1.5-.3 1.5-.2 1.5-.3 1.5-.3 1.5-.3 1.5-.2 1.5-.3 1.5-.2 1.5-.2 1.5-.2 1.5-.2 1.5-.2 1.5-.2 1.5-.2 1.5-.2 1.5-.2 1.5-.2 1.5-.2 1.5-.2 1.5-.2 1.5-.2 1.5-.2 1.5-.2 1.5-.1 1.5-.2 1.5-.1 1.5-.1 1.5-.1 1.5 0 1.5 0 1.5 0 1.5 0 1.5 .1 1.5 .2 1.5 .3 1.5 .2 1.5 .4 1.5 .3 1.5 .4 1.5 .4 1.5 .4 1.5 .5 1.5 .4 1.5 .5 1.5 .4 1.5 .4 1.5 .4 1.5 .4 1.5 .3 1.5 .3 1.5 .3 1.5 .2 1.5 .1 1.5 .2 1.5 .2 1.5 .1 1.5 .2 1.5 .1" stroke="#9467bd" stroke-width="1.15" stroke-dasharray="3.6 1.2"/>
<rect x="40.93" y="23.1" width="3.8" height="3.8" fill="#9467bd"/><rect x="72" y="17.21" width="3.8" height="3.8" fill="#9467bd"/><rect x="103.08" y="23.73" width="3.8" height="3.8" fill="#9467bd"/><rect x="134.15" y="27.29" width="3.8" height="3.8" fill="#9467bd"/><rect x="165.23" y="19.6" width="3.8" height="3.8" fill="#9467bd"/><rect x="196.3" y="20.05" width="3.8" height="3.8" fill="#9467bd"/><rect x="227.37" y="23.34" width="3.8" height="3.8" fill="#9467bd"/><rect x="258.45" y="15.86" width="3.8" height="3.8" fill="#9467bd"/><rect x="289.52" y="25.03" width="3.8" height="3.8" fill="#9467bd"/><rect x="320.6" y="25.85" width="3.8" height="3.8" fill="#9467bd"/><rect x="351.2" y="18.36" width="3.8" height="3.8" fill="#9467bd"/><rect x="382.27" y="25.85" width="3.8" height="3.8" fill="#9467bd"/><rect x="413.35" y="21.57" width="3.8" height="3.8" fill="#9467bd"/><rect x="444.42" y="18.35" width="3.8" height="3.8" fill="#9467bd"/><rect x="475.5" y="25.09" width="3.8" height="3.8" fill="#9467bd"/>
<path d="M43 33.9l1.5-.3 1.5-.4 1.5-.5 1.5-.4 1.5-.6 1.5-.5 1.5-.6 1.5-.6 1.5-.7 1.5-.9 1.5-.9 1.5-1 1.5-1.1 1.5-1 1.5-.9 1.5-.9 1.5-.7 1.5-.5 1.5-.4 1.5-.4 1.5-.1 1.5 .1 1.5 .2 1.5 .3 1.5 .3 1.5 .5 1.5 .5 1.5 .6 1.5 .6 1.5 .6 1.5 .6 1.5 .6 1.5 .8 1.5 .9 1.5 1.1 1.5 1.1 1.5 1.1 1.5 1.1 1.5 1.1 1.5 1 1.5 .9 1.5 .8 1.5 .5 1.5 .5 1.5 .4 1.5 .4 1.5 .3 1.5 .2 1.5 .1 1.5 0 1.5 0 1.5-.2 1.5-.2 1.5-.2 1.5-.3 1.5-.2 1.5-.3 1.5-.3 1.5-.3 1.5-.3 1.5-.4 1.5-.4 1.5-.4 1.5-.4 1.5-.5 1.5-.5 1.5-.6 1.5-.8 1.5-.8 1.5-.8 1.5-.9 1.5-.8 1.5-.9 1.5-.7 1.5-.7 1.5-.7 1.5-.7 1.5-.7 1.5-.7 1.5-.5 1.5-.5 1.5-.4 1.5-.2 1.5-.1 1.5-.1 1.5-.1 1.5-.1 1.5 0 1.5 .1 1.5 .3 1.5 .4 1.5 .5 1.5 .6 1.5 .6 1.5 .7 1.5 .7 1.5 .6 1.5 .5 1.5 .5 1.5 .5 1.5 .5 1.5 .5 1.5 .5 1.5 .5 1.5 .4 1.5 .5 1.5 .4 1.5 .4 1.5 .4 1.5 .4 1.5 .4 1.5 .4 1.5 .4 1.5 .3 1.5 .3 1.5 .3 1.5 .2 1.5 .2 1.5 .1 1.5 .2 1.5 .1 1.5 .2 1.5 .1 1.5 .1 1.5 .1 1.5 .1 1.5 .1 1.5 0 1.5 .1 1.5 0 1.5 0 1.5 0 1.5 0 1.5-.2 1.5-.1 1.5-.2 1.5-.3 1.5-.3 1.5-.3 1.5-.3 1.5-.3 1.5-.3 1.5-.4 1.5-.3 1.5-.3 1.5-.4 1.5-.5 1.5-.4 1.5-.5 1.5-.5 1.5-.4 1.5-.4 1.5-.2 1.5-.2 1.5-.1 1.5-.1 1.5-.2 1.5-.1 1.5-.1 1.5-.1 1.5-.1 1.5 0 1.5-.1 1.5 0 1.5 0 1.5 0 1.5 .1 1.5 0 1.5 .1 1.5 .2 1.5 .1 1.5 .1 1.5 .2 1.5 .1 1.5 .2 1.5 .1 1.5 .3 1.5 .2 1.5 .3 1.5 .3 1.5 .4 1.5 .3 1.5 .4 1.5 .3 1.5 .4 1.5 .5 1.5 .6 1.5 .6 1.5 .7 1.5 .7 1.5 .7 1.5 .6 1.5 .6 1.5 .4 1.5 .3 1.5 .2 1.5 0 1.5 0 1.5 0 1.5 0 1.5 0 1.5 0 1.5 0 1.5 0 1.5 0 1.5 0" stroke="#8c564b" stroke-width="1.15"/>
<path d="M353.5 37.5l1.5-.5 1.5-.7 1.5-1.1 1.5-1.2 1.5-1.2 1.5-1.2 1.5-1.1 1.5-.7 1.5-.8 1.5-.7 1.5-.7 1.5-.8 1.5-.7 1.5-.7 1.5-.6 1.5-.6 1.5-.5 1.5-.4 1.5-.3 1.5-.2 1.5 0 1.5 0 1.5 0 1.5 .1 1.5 .1 1.5 .1 1.5 .2 1.5 .1 1.5 .2 1.5 .2 1.5 .2 1.5 .3 1.5 .4 1.5 .5 1.5 .6 1.5 .6 1.5 .7 1.5 .8 1.5 .7 1.5 .7 1.5 .7 1.5 .7 1.5 .5 1.5 .5 1.5 .6 1.5 .5 1.5 .5 1.5 .6 1.5 .5 1.5 .5 1.5 .4 1.5 .4 1.5 .3 1.5 .3 1.5 .1 1.5 .1 1.5-.1 1.5-.1 1.5-.2 1.5-.3 1.5-.3 1.5-.4 1.5-.4 1.5-.3 1.5-.4 1.5-.4 1.5-.4 1.5-.4 1.5-.5 1.5-.5 1.5-.5 1.5-.6 1.5-.5 1.5-.5 1.5-.5 1.5-.5 1.5-.4 1.5-.4 1.5-.4 1.5-.4 1.5-.4 1.5-.4 1.5-.3 1.5-.4 1.5-.3 1.5-.3 1.5-.3 1.5-.3 1.5-.3" stroke="#8c564b" stroke-width="1.15" stroke-dasharray="3.6 1.2"/>
<path d="M42.83 31.87L44.65 32.92L44.65 35.02L42.83 36.07L41.01 35.02L41.01 32.92Z" fill="#8c564b"/><path d="M75.6 18.44L77.42 19.49L77.42 21.59L75.6 22.64L73.78 21.59L73.78 19.49Z" fill="#8c564b"/><path d="M108.38 34.01L110.2 35.06L110.2 37.16L108.38 38.21L106.56 37.16L106.56 35.06Z" fill="#8c564b"/><path d="M141.15 30.95L142.97 32L142.97 34.1L141.15 35.15L139.33 34.1L139.33 32Z" fill="#8c564b"/><path d="M173.92 18.91L175.74 19.96L175.74 22.06L173.92 23.11L172.1 22.06L172.1 19.96Z" fill="#8c564b"/><path d="M206.7 29.08L208.52 30.13L208.52 32.23L206.7 33.28L204.88 32.23L204.88 30.13Z" fill="#8c564b"/><path d="M239.47 33.15L241.29 34.2L241.29 36.3L239.47 37.35L237.65 36.3L237.65 34.2Z" fill="#8c564b"/><path d="M272.24 26.53L274.06 27.58L274.06 29.68L272.24 30.73L270.42 29.68L270.42 27.58Z" fill="#8c564b"/><path d="M305.02 26.4L306.84 27.45L306.84 29.55L305.02 30.6L303.2 29.55L303.2 27.45Z" fill="#8c564b"/><path d="M337.79 35.4L339.61 36.45L339.61 38.55L337.79 39.6L335.97 38.55L335.97 36.45Z" fill="#8c564b"/><path d="M353.1 35.4L354.92 36.45L354.92 38.55L353.1 39.6L351.28 38.55L351.28 36.45Z" fill="#8c564b"/><path d="M385.87 20.66L387.69 21.71L387.69 23.81L385.87 24.86L384.05 23.81L384.05 21.71Z" fill="#8c564b"/><path d="M418.65 29.37L420.47 30.42L420.47 32.52L418.65 33.57L416.83 32.52L416.83 30.42Z" fill="#8c564b"/><path d="M451.42 31.8L453.24 32.85L453.24 34.95L451.42 36L449.6 34.95L449.6 32.85Z" fill="#8c564b"/><path d="M484.19 22.52L486.01 23.57L486.01 25.67L484.19 26.72L482.37 25.67L482.37 23.57Z" fill="#8c564b"/>
<path d="M43 37.5l1.5-.4 1.5-.4 1.5-.5 1.5-.5 1.5-.5 1.5-.6 1.5-.6 1.5-.6 1.5-.7 1.5-.8 1.5-.9 1.5-1 1.5-.9 1.5-1 1.5-.8 1.5-.8 1.5-.6 1.5-.4 1.5-.3 1.5-.3 1.5-.2 1.5-.2 1.5 0 1.5 0 1.5 .1 1.5 .1 1.5 .1 1.5 .1 1.5 .1 1.5 .2 1.5 .2 1.5 .1 1.5 .2 1.5 .2 1.5 .2 1.5 .2 1.5 .2 1.5 .3 1.5 .2 1.5 .3 1.5 .3 1.5 .3 1.5 .3 1.5 .3 1.5 .3 1.5 .2 1.5 .2 1.5 .2 1.5 .2 1.5 .2 1.5 .2 1.5 .2 1.5 .2 1.5 .1 1.5 .2 1.5 .2 1.5 .2 1.5 .1 1.5 .3 1.5 .2 1.5 .2 1.5 .2 1.5 .2 1.5 .1 1.5 .2 1.5 .1 1.5 0 1.5 0 1.5-.2 1.5-.6 1.5-.8 1.5-.9 1.5-1 1.5-1 1.5-1 1.5-.8 1.5-.7 1.5-.5 1.5-.2 1.5-.3 1.5-.3 1.5-.2 1.5-.3 1.5-.2 1.5-.2 1.5-.2 1.5-.2 1.5-.1 1.5-.1 1.5-.1 1.5 0 1.5 0 1.5 0 1.5 .1 1.5 .1 1.5 .2 1.5 .2 1.5 .2 1.5 .2 1.5 .3 1.5 .3 1.5 .3 1.5 .2 1.5 .3 1.5 .3 1.5 .3 1.5 .3 1.5 .4 1.5 .4 1.5 .3 1.5 .4 1.5 .4 1.5 .4 1.5 .4 1.5 .3 1.5 .4 1.5 .3 1.5 .4 1.5 .4 1.5 .4 1.5 .3 1.5 .4 1.5 .3 1.5 .4 1.5 .3 1.5 .3 1.5 .3 1.5 .3 1.5 .4 1.5 .3 1.5 .3 1.5 .3 1.5 .3 1.5 .3 1.5 .2 1.5 .2 1.5 .1 1.5 0 1.5 0 1.5-.1 1.5-.1 1.5-.1 1.5-.2 1.5-.2 1.5-.2 1.5-.3 1.5-.2 1.5-.3 1.5-.2 1.5-.3 1.5-.3 1.5-.4 1.5-.5 1.5-.5 1.5-.5 1.5-.5 1.5-.5 1.5-.5 1.5-.4 1.5-.5 1.5-.3 1.5-.4 1.5-.3 1.5-.3 1.5-.3 1.5-.3 1.5-.3 1.5-.3 1.5-.2 1.5-.2 1.5-.2 1.5-.2 1.5-.2 1.5-.2 1.5-.2 1.5-.1 1.5-.2 1.5-.1 1.5-.2 1.5-.1 1.5 0 1.5-.1 1.5 0 1.5 0 1.5 .1 1.5 .2 1.5 .1 1.5 .3 1.5 .2 1.5 .4 1.5 .3 1.5 .3 1.5 .4 1.5 .4 1.5 .4 1.5 .6 1.5 .7 1.5 .9 1.5 .9 1.5 1 1.5 1 1.5 1.1 1.5 1.3 1.5 1.5 1.5 1.3 1.5 .9" stroke="#e377c2" stroke-width="1.15"/>
<path d="M353.5 39.3l1.5 .4 1.5 .4 1.5 .3 1.5 .3 1.5 .3 1.5 .2 1.5 .1 1.5 .1 1.5 .1 1.5 0 1.5-.2 1.5-.3 1.5-.4 1.5-.6 1.5-.6 1.5-.6 1.5-.7 1.5-.8 1.5-.7 1.5-.8 1.5-.7 1.5-.7 1.5-.6 1.5-.7 1.5-.7 1.5-.7 1.5-.7 1.5-.8 1.5-.7 1.5-.7 1.5-.8 1.5-.6 1.5-.6 1.5-.6 1.5-.6 1.5-.5 1.5-.6 1.5-.6 1.5-.5 1.5-.5 1.5-.5 1.5-.3 1.5-.3 1.5-.2 1.5-.1 1.5 .1 1.5 .2 1.5 .3 1.5 .4 1.5 .5 1.5 .5 1.5 .6 1.5 .7 1.5 .7 1.5 .7 1.5 .7 1.5 .6 1.5 .7 1.5 .6 1.5 .6 1.5 .6 1.5 .6 1.5 .7 1.5 .6 1.5 .7 1.5 .6 1.5 .6 1.5 .5 1.5 .5 1.5 .5 1.5 .5 1.5 .5 1.5 .4 1.5 .4 1.5 .4 1.5 .4 1.5 .4 1.5 .3 1.5 .3 1.5 .3 1.5 .3 1.5 .3 1.5 .3 1.5 .3 1.5 .2 1.5 .3 1.5 .2 1.5 .2 1.5 .2" stroke="#e377c2" stroke-width="1.15" stroke-dasharray="3.6 1.2"/>
<path d="M42.83 34.82L45.58 37.57L42.83 40.32L40.08 37.57Z" fill="#e377c2"/><path d="M77.3 21.75L80.05 24.5L77.3 27.25L74.55 24.5Z" fill="#e377c2"/><path d="M111.78 26.22L114.53 28.97L111.78 31.72L109.03 28.97Z" fill="#e377c2"/><path d="M146.25 29.77L149 32.52L146.25 35.27L143.5 32.52Z" fill="#e377c2"/><path d="M180.72 20L183.47 22.75L180.72 25.5L177.97 22.75Z" fill="#e377c2"/><path d="M215.19 26.3L217.94 29.05L215.19 31.8L212.44 29.05Z" fill="#e377c2"/><path d="M249.67 33.25L252.42 36L249.67 38.75L246.92 36Z" fill="#e377c2"/><path d="M284.14 26.22L286.89 28.97L284.14 31.72L281.39 28.97Z" fill="#e377c2"/><path d="M318.61 21.77L321.36 24.52L318.61 27.27L315.86 24.52Z" fill="#e377c2"/><path d="M353.1 36.43L355.85 39.18L353.1 41.93L350.35 39.18Z" fill="#e377c2"/><path d="M387.57 31.22L390.32 33.97L387.57 36.72L384.82 33.97Z" fill="#e377c2"/><path d="M422.05 18.78L424.8 21.53L422.05 24.28L419.3 21.53Z" fill="#e377c2"/><path d="M456.52 31.92L459.27 34.67L456.52 37.42L453.77 34.67Z" fill="#e377c2"/>
<path d="M43 36.1l1.5 .5 1.5 .9 1.5 1.3 1.5 1.9 1.5 2.2 1.5 2.3 1.5-4.9 1.5-7.8 1.5-3.4 1.5 .6 1.5 1 1.5 .9 1.5 .8 1.5 1 1.5 1 1.5 1 1.5 1.1 1.5 1 1.5 1 1.5 1 1.5 .9 1.5 .8 1.5 .7 1.5 .7 1.5 .5 1.5 .5 1.5 .6 1.5 .5 1.5 .5 1.5 .5 1.5 .4 1.5 .4 1.5 .4 1.5 .3 1.5 .3 1.5 .1 1.5 .1 1.5 0 1.5-.2 1.5-.3 1.5-.6 1.5-.6 1.5-.6 1.5-.6 1.5-.6 1.5-.4 1.5-.2 1.5-.1 1.5 .2 1.5 .3 1.5 .4 1.5 .4 1.5 .3 1.5 .1 1.5 0 1.5 0 1.5 0 1.5 0 1.5 0 1.5 0 1.5 0 1.5 0 1.5 0 1.5 0 1.5 0 1.5 0 1.5 0 1.5 0 1.5 0 1.5 0 1.5 0 1.5 0 1.5 0 1.5 0 1.5-.1 1.5-.2 1.5-.2 1.5-.1 1.5-.2 1.5-.2 1.5-.1 1.5-.1 1.5 0 1.5 0 1.5 .1 1.5 .1 1.5 .1 1.5 .1 1.5 .2 1.5 .1 1.5 .1 1.5 .2 1.5 .1 1.5 .1 1.5 0 1.5 0 1.5 0 1.5 0 1.5 0 1.5 0 1.5 0 1.5-.1 1.5 0 1.5 0 1.5-.1 1.5 0 1.5-.1 1.5 0 1.5 0 1.5-.1 1.5 0 1.5-.1 1.5 0 1.5-.1 1.5 0 1.5 0 1.5-.1 1.5 0 1.5 0 1.5 0 1.5 0 1.5 0 1.5 0 1.5 0 1.5 0 1.5 0 1.5 0 1.5 0 1.5 0 1.5 0 1.5 0 1.5 0 1.5 0 1.5 0 1.5 0 1.5 0 1.5 0 1.5 0 1.5 0 1.5 0 1.5 0 1.5 0 1.5 0 1.5 0 1.5 0 1.5 0 1.5 0 1.5 0 1.5 0 1.5 0 1.5 0 1.5 0 1.5 0 1.5 0 1.5 0 1.5 0 1.5 0 1.5 0 1.5 0 1.5 0 1.5 0 1.5 0 1.5 0 1.5 0 1.5 0 1.5 0 1.5 0 1.5 0 1.5 0 1.5 0 1.5 0 1.5 0 1.5 0 1.5 0 1.5 0 1.5 0 1.5 0 1.5 0 1.5 0 1.5 0 1.5 0 1.5 0 1.5 0 1.5 0 1.5 0 1.5 0 1.5 0 1.5 0 1.5 0 1.5 0 1.5 0 1.5 0 1.5 0 1.5 0 1.5 0 1.5 0 1.5 0 1.5 0 1.5 0 1.5 0 1.5 0 1.5 0 1.5 0 1.5 0 1.5 0 1.5 0" stroke="#7f7f7f" stroke-width="1.15"/>
<path d="M353.5 44.5l1.5 0 1.5 0 1.5 0 1.5-.1 1.5 0 1.5 0 1.5 0 1.5-.1 1.5 0 1.5 0 1.5 0 1.5-.1 1.5 0 1.5 0 1.5-.1 1.5 0 1.5 0 1.5 0 1.5-.1 1.5 0 1.5 0 1.5 0 1.5 0 1.5 0 1.5 0 1.5 0 1.5 0 1.5 0 1.5 0 1.5 0 1.5 0 1.5 0 1.5 0 1.5 0 1.5 0 1.5 0 1.5 0 1.5 0 1.5 0 1.5 0 1.5 0 1.5 0 1.5 0 1.5 0 1.5 0 1.5 0 1.5 0 1.5 0 1.5 0 1.5 0 1.5 0 1.5 0 1.5 0 1.5 0 1.5 0 1.5 0 1.5 0 1.5 0 1.5 0 1.5 0 1.5 0 1.5 0 1.5 0 1.5 0 1.5 0 1.5 0 1.5 0 1.5 0 1.5 0 1.5 0 1.5 0 1.5 0 1.5 0 1.5 0 1.5 0 1.5 0 1.5 0 1.5 0 1.5 0 1.5 0 1.5 0 1.5 0 1.5 0 1.5 0 1.5 0 1.5 0 1.5 0 1.5 0 1.5 0" stroke="#7f7f7f" stroke-width="1.15" stroke-dasharray="3.6 1.2"/>
<path d="M42.83 33.22L44.33 36.02L42.83 38.82L41.33 36.02Z" fill="#7f7f7f"/><path d="M79 39.77L80.5 42.57L79 45.37L77.5 42.57Z" fill="#7f7f7f"/><path d="M115.17 40.72L116.67 43.52L115.17 46.32L113.67 43.52Z" fill="#7f7f7f"/><path d="M151.35 42.45L152.85 45.25L151.35 48.05L149.85 45.25Z" fill="#7f7f7f"/><path d="M187.52 42.45L189.02 45.25L187.52 48.05L186.02 45.25Z" fill="#7f7f7f"/><path d="M223.69 41.7L225.19 44.5L223.69 47.3L222.19 44.5Z" fill="#7f7f7f"/><path d="M259.86 41.7L261.36 44.5L259.86 47.3L258.36 44.5Z" fill="#7f7f7f"/><path d="M296.03 41.7L297.53 44.5L296.03 47.3L294.53 44.5Z" fill="#7f7f7f"/><path d="M332.21 41.7L333.71 44.5L332.21 47.3L330.71 44.5Z" fill="#7f7f7f"/><path d="M353.1 41.7L354.6 44.5L353.1 47.3L351.6 44.5Z" fill="#7f7f7f"/><path d="M389.27 41.2L390.77 44L389.27 46.8L387.77 44Z" fill="#7f7f7f"/><path d="M425.44 41.2L426.94 44L425.44 46.8L423.94 44Z" fill="#7f7f7f"/><path d="M461.62 41.2L463.12 44L461.62 46.8L460.12 44Z" fill="#7f7f7f"/>
</g>
<line x1="353.1" y1="5.5" x2="353.1" y2="71" stroke="#000" stroke-width="1.05"/>
<rect x="43" y="5.5" width="444.35" height="65.5" fill="none" stroke="#000" stroke-width="0.62"/>
<line x1="40.7" y1="18.2" x2="43" y2="18.2" stroke="#000" stroke-width="0.62"/>
<text x="39.3" y="20.65" text-anchor="end" textLength="14.2" lengthAdjust="spacingAndGlyphs">−0.8</text>
<line x1="40.7" y1="32.9" x2="43" y2="32.9" stroke="#000" stroke-width="0.62"/>
<text x="39.3" y="35.35" text-anchor="end" textLength="14.2" lengthAdjust="spacingAndGlyphs">−1.0</text>
<line x1="40.7" y1="47.7" x2="43" y2="47.7" stroke="#000" stroke-width="0.62"/>
<text x="39.3" y="50.15" text-anchor="end" textLength="14.2" lengthAdjust="spacingAndGlyphs">−1.2</text>
<line x1="40.7" y1="62.6" x2="43" y2="62.6" stroke="#000" stroke-width="0.62"/>
<text x="39.3" y="65.05" text-anchor="end" textLength="14.2" lengthAdjust="spacingAndGlyphs">−1.4</text>
<line x1="131.5" y1="71" x2="131.5" y2="73.3" stroke="#000" stroke-width="0.62"/>
<line x1="220.17" y1="71" x2="220.17" y2="73.3" stroke="#000" stroke-width="0.62"/>
<line x1="308.84" y1="71" x2="308.84" y2="73.3" stroke="#000" stroke-width="0.62"/>
<line x1="397.51" y1="71" x2="397.51" y2="73.3" stroke="#000" stroke-width="0.62"/>
<text transform="translate(14.4 39.25) rotate(-90)" text-anchor="middle" textLength="22.59" lengthAdjust="spacingAndGlyphs">SAS204</text>
<text transform="translate(21.4 37.05) rotate(-90)" text-anchor="middle" textLength="29.5" lengthAdjust="spacingAndGlyphs">Δ O<tspan font-size="4.1" dy="1.2">3</tspan><tspan dy="-1.2"> [DU]</tspan></text>
<clipPath id="c1"><rect x="43" y="73.75" width="444.35" height="65.5"/></clipPath>
<g clip-path="url(#c1)" fill="none" stroke-linejoin="round">
<path d="M43 100l.8-.5 .8-2 .8-.3 .8 .7 .8-1.9 .8-4.1 .8-2.1 .8 1.4 .8 1 .8-1.5 .8-1 .8-.6 .8-1.7 .8-.3 .8-.2 .8-1 .8-1.2 .8-1.3 .8-.4 .8-.7 .8 .7 .8 0 .8-3.5 .8-2.1 .8 .9 .8 1.2 .8 .8 .8-.3 .8-1.5 .8 .2 .8 1.1 .8-.6 .8 .9 .8 .2 .8 .9 .8 .9 .8 .7 .8 .3 .8-.3 .8 1.2 .8 .9 .8 1.2 .8 1.3 .8-.2 .8 .1 .8 .9 .8 1.6 .8 1.5 .8 .5 .8 1.9 .8 .6 .8-.2 .8 .2 .8 1.9 .8 1 .8-.4 .8 2.8 .8 1.6 .8-.2 .8 1 .8 2.1 .8-.4 .8-1.2 .8 .7 .8 .6 .8-.1 .8-.5 .8 2.1 .8 .4 .8 .7 .8 .7 .8 .8 .8-.4 .8 0 .8 1.5 .8 .9 .8-.5 .8 .8 .8-.5 .8-.2 .8 1 .8-.7 .8 .6 .8-.3 .8 0 .8-.9 .8 .5 .8 1.6 .8-.2 .8-.5 .8-.1 .8 .1 .8-1.2 .8-.1 .8 .6 .8-.4 .8 0 .8 .3 .8-.1 .8 .2 .8 1.1 .8-.2 .8-.6 .8-1.5 .8-1.5 .8-1.2 .8-.4 .8-1.4 .8 .5 .8 1.1 .8 .2 .8-1.5 .8-2.1 .8-.5 .8-1.1 .8-.1 .8-.9 .8 .1 .8 .5 .8-1.3 .8-.7 .8-2.2 .8-1.2 .8 .8 .8-.5 .8-2.2 .8-1.1 .8-1.3 .8 .3 .8 .4 .8-1.3 .8-1.8 .8-1.2 .8 .5 .8 0 .8-.9 .8-1.5 .8-1 .8 1.4 .8-.7 .8-.2 .8 .1 .8-1.4 .8 1.2 .8 1 .8 1 .8 1 .8-.6 .8-1.2 .8 1.4 .8 1.5 .8 .5 .8-.5 .8 .7 .8 2.5 .8 1.2 .8 .1 .8 .2 .8 2 .8-1.4 .8 2.3 .8 3 .8-.2 .8 .3 .8 .5 .8 1.9 .8-.2 .8 1.5 .8 .9 .8 .3 .8 1.5 .8-.3 .8 1.1 .8 1.7 .8 1.1 .8 1.8 .8 1.3 .8 0 .8 .3 .8 .8 .8 1.1 .8 1.2 .8-.1 .8 .2 .8-.5 .8-.4 .8 .5 .8-1 .8 .5 .8 .6 .8-1.8 .8-.5 .8-1.1 .8-.2 .8-.8 .8 0 .8-.3 .8 .2 .8 .3 .8-1.2 .8-.9 .8-1.1 .8-1 .8-1.2 .8-.8 .8 1.5 .8 1.2 .8-1.1 .8-.9 .8 .7 .8-1.5 .8-1.2 .8-.8 .8 0 .8 .9 .8 1.1 .8-1.9 .8-1.5 .8-.2 .8-.4 .8-1.1 .8 .7 .8 .3 .8-.7 .8-1.2 .8-2.8 .8-1.4 .8 .7 .8-1.8 .8-3.6 .8-1.2 .8-1.2 .8-1.3 .8-1.7 .8-1.9 .8-1.1 .8-1.3 .8-2 .8-3.2 .8-1.9 .8 .4 .8-.2 .8 1.1 .8 .5 .8-.7 .8-.8 .8 .3 .8 .3 .8-.9 .8 .8 .8 .1 .8 0 .8 .3 .8-1 .8 .3 .8-1 .8-.4 .8 .3 .8 1 .8 0 .8 1.2 .8 1.3 .8 3.3 .8 2.6 .8 .9 .8 2 .8 1.4 .8 1.9 .8-.3 .8 .4 .8 3.1 .8 .7 .8 .4 .8 1.3 .8 1.2 .8 2.3 .8 1.9 .8 3.3 .8 .8 .8-.7 .8 .9 .8 1.6 .8 .7 .8 2.3 .8 1.5 .8 .6 .8 1.3 .8 2.1 .8 1.9 .8 .6 .8-.5 .8 .2 .8-.6 .8 0 .8-.6 .8 .1 .8-1.6 .8-.6 .8 .5 .8-.3 .8-1.7 .8 0 .8 .6 .8-.2 .8-.7 .8 .3 .8 .3 .8 .9 .8-.8 .8-2.2 .8-.8 .8 1.8 .8 1.1 .8-.6 .8-.4 .8-1.6 .8-.9 .8 1 .8-.2 .8-.7 .8-1.6 .8 0 .8-.3 .8 .1 .8-1.2 .8-.9 .8 .1 .8 .8 .8-1.2 .8-1.5 .8-.9 .8 .1 .8 .7 .8-2.2 .8-.2 .8 1.2 .8 0 .8-1.2 .8 0 .8-.2 .8-.6 .8-.7 .8 .2 .8-.8 .8-.5 .8-1.7 .8-.1 .8-1.7 .8-.7 .8 .9 .8-.7 .8-.1 .8-.6 .8 .9 .8-1.4 .8-1.5 .8 .5 .8 .1 .8-1.3 .8 .7 .8 .9 .8-1.1 .8-1.6 .8-.6 .8 0 .8-2 .8-1.3 .8 1.4 .8 1.1 .8 2 .8-.6 .8-1.1 .8 .4 .8 1.5 .8 .1 .8 .6 .8 1.2 .8 1 .8 .9 .8 1.1 .8 1.9 .8 .7 .8-.3 .8 3.4 .8 .9 .8 1.3 .8 .6 .8 2.3 .8 2.3 .8 2.4 .8 2.9 .8 1.4 .8 .4 .8 2.9 .8 3.3 .8 1.7 .8 .4 .8 1.4 .8 1.3 .8 .1 .8 1.7 .8 3.4 .8-.2 .8 .2 .8 .5 .8 2.6 .8 .6 .8-2.1 .8-.6 .8-.5 .8 1.9 .8-.9 .8-1.9 .8 1.2 .8-.5 .8-.6 .8-.8 .8-1.5 .8-.1 .8 1 .8-1 .8-.4 .8 2.1 .8-1.9 .8-1.6 .8 0 .8 1.5 .8 .4 .8-.7 .8-.7 .8-2.4 .8 .1 .8 .3 .8 .5 .8-.5 .8-1.1 .8 3.3 .8-2.6 .8-.3 .8 .7 .8-.4 .8-2.5 .8-3.9 .8 1.2 .8 1.7 .8-2.1 .8-2.2 .8-1.3 .8 2.2 .8-1.4 .8-3.2 .8-1 .8-1.2 .8-2.1 .8-.3 .8-.1 .8-.3 .8-.6 .8-2.4 .8-1.8 .8-.5 .8-2 .8-1 .8 1.2 .8-1.6 .8-.6 .8-.8 .8-2 .8 .5 .8-.5 .8-1.3 .8-.7 .8-2.4 .8-1.9 .8 1.1 .8 .5 .8 1.6 .8-.4 .8-.7 .8 1.3 .8 2.3 .8 .7 .8-.2 .8 .4 .8 .3 .8 1.2 .8 1.7 .8 .7 .8 .7 .8-.8 .8-.2 .8 1.4 .8 3.5 .8 3.9 .8 1.1 .8-1.6 .8 .8 .8 3.8 .8 1.1 .8-.2 .8 2.9 .8 1.2 .8 1.4 .8 .2 .8 .8 .8-.3 .8-.8 .8 .8 .8 .9 .8 1.5 .8-1.4 .8-.1 .8 2.9 .8 1.8 .8 .4 .8-1.3 .8-3.1 .8-.1 .8 .6 .8-.4 .8-1.7 .8 1.6 .8 .5 .8-1.2 .8 .9 .8 1 .8-.8 .8 .4 .8-.2 .8-1.2 .8-1.1 .8-.8 .8 .4 .8-2.1 .8-1 .8 .5 .8-1.3 .8 .6 .8 .3 .8-1.3 .8-.4 .8 .5 .8-1.2 .8-3.1 .8 .1 .8 2.5 .8-1.4 .8-3.4 .8 .1 .8 1.3 .8-.4 .8 .9 .8 0 .8-.6 .8-1.6" stroke="#262626" stroke-width="0.9"/>
<path d="M51.4 87.9L53.8 90.3M51.4 90.3L53.8 87.9" stroke="#262626" stroke-width="0.55"/><path d="M66.2 78.06L68.6 80.46M66.2 80.46L68.6 78.06" stroke="#262626" stroke-width="0.55"/><path d="M81 90.61L83.4 93.01M81 93.01L83.4 90.61" stroke="#262626" stroke-width="0.55"/><path d="M95.8 103.06L98.2 105.46M95.8 105.46L98.2 103.06" stroke="#262626" stroke-width="0.55"/><path d="M110.6 108L113 110.4M110.6 110.4L113 108" stroke="#262626" stroke-width="0.55"/><path d="M125.4 106.71L127.8 109.11M125.4 109.11L127.8 106.71" stroke="#262626" stroke-width="0.55"/><path d="M140.2 93.81L142.6 96.21M140.2 96.21L142.6 93.81" stroke="#262626" stroke-width="0.55"/><path d="M155 83.52L157.4 85.92M155 85.92L157.4 83.52" stroke="#262626" stroke-width="0.55"/><path d="M169.8 92.78L172.2 95.18M169.8 95.18L172.2 92.78" stroke="#262626" stroke-width="0.55"/><path d="M184.6 111.47L187 113.87M184.6 113.87L187 111.47" stroke="#262626" stroke-width="0.55"/><path d="M199.4 109.8L201.8 112.2M199.4 112.2L201.8 109.8" stroke="#262626" stroke-width="0.55"/><path d="M214.2 103.43L216.6 105.83M214.2 105.83L216.6 103.43" stroke="#262626" stroke-width="0.55"/><path d="M229 83.66L231.4 86.06M229 86.06L231.4 83.66" stroke="#262626" stroke-width="0.55"/><path d="M243.8 73.3L246.2 75.7M243.8 75.7L246.2 73.3" stroke="#262626" stroke-width="0.55"/><path d="M258.6 90.5L261 92.9M258.6 92.9L261 90.5" stroke="#262626" stroke-width="0.55"/><path d="M273.4 114.9L275.8 117.3M273.4 117.3L275.8 114.9" stroke="#262626" stroke-width="0.55"/><path d="M288.2 111.34L290.6 113.74M288.2 113.74L290.6 111.34" stroke="#262626" stroke-width="0.55"/><path d="M303 103.16L305.4 105.56M303 105.56L305.4 103.16" stroke="#262626" stroke-width="0.55"/><path d="M317.8 96.2L320.2 98.6M317.8 98.6L320.2 96.2" stroke="#262626" stroke-width="0.55"/><path d="M332.6 87.41L335 89.81M332.6 89.81L335 87.41" stroke="#262626" stroke-width="0.55"/><path d="M347.4 96.05L349.8 98.45M347.4 98.45L349.8 96.05" stroke="#262626" stroke-width="0.55"/><path d="M362.2 125.54L364.6 127.94M362.2 127.94L364.6 125.54" stroke="#262626" stroke-width="0.55"/><path d="M377 127.14L379.4 129.54M377 129.54L379.4 127.14" stroke="#262626" stroke-width="0.55"/><path d="M391.8 124.71L394.2 127.11M391.8 127.11L394.2 124.71" stroke="#262626" stroke-width="0.55"/><path d="M406.6 107.21L409 109.61M406.6 109.61L409 107.21" stroke="#262626" stroke-width="0.55"/><path d="M421.4 89.08L423.8 91.48M421.4 91.48L423.8 89.08" stroke="#262626" stroke-width="0.55"/><path d="M436.2 103.6L438.6 106M436.2 106L438.6 103.6" stroke="#262626" stroke-width="0.55"/><path d="M451 119.62L453.4 122.02M451 122.02L453.4 119.62" stroke="#262626" stroke-width="0.55"/><path d="M465.8 119.69L468.2 122.09M465.8 122.09L468.2 119.69" stroke="#262626" stroke-width="0.55"/><path d="M480.6 107.54L483 109.94M480.6 109.94L483 107.54" stroke="#262626" stroke-width="0.55"/>
<path d="M43 103.5l1.5-2.2 1.5-2.1 1.5-1.9 1.5-1.9 1.5-1.8 1.5-1.6 1.5-1.6 1.5-1.6 1.5-1.4 1.5-1.3 1.5-.9 1.5-.6 1.5-.5 1.5-.4 1.5-.3 1.5-.2 1.5 .2 1.5 .2 1.5 .5 1.5 .5 1.5 .6 1.5 1.2 1.5 1.6 1.5 1.9 1.5 2.2 1.5 2.1 1.5 2.1 1.5 1.7 1.5 1.5 1.5 1.6 1.5 1.5 1.5 1.4 1.5 1.3 1.5 1.1 1.5 .9 1.5 .8 1.5 .7 1.5 .7 1.5 .6 1.5 .5 1.5 .3 1.5 .3 1.5 .2 1.5 .2 1.5 .2 1.5 .1 1.5 .1 1.5 0 1.5-.1 1.5-.2 1.5-.3 1.5-.3 1.5-.4 1.5-.4 1.5-.4 1.5-.4 1.5-.5 1.5-.5 1.5-.5 1.5-.5 1.5-.6 1.5-.7 1.5-.7 1.5-.7 1.5-.9 1.5-1.1 1.5-1.3 1.5-1.3 1.5-1.4 1.5-1.3 1.5-1.2 1.5-.9 1.5-1 1.5-.8 1.5-.9 1.5-.8 1.5-.7 1.5-.8 1.5-.7 1.5-.7 1.5-.7 1.5 .1 1.5 .8 1.5 1.2 1.5 1.6 1.5 1.7 1.5 1.8 1.5 1.5 1.5 1.6 1.5 1.8 1.5 1.9 1.5 2 1.5 1.8 1.5 1.5 1.5 1.2 1.5 .6 1.5 .2 1.5 .1 1.5 .1 1.5 0 1.5 .1 1.5 0 1.5 .1 1.5 0 1.5 0 1.5-.1 1.5-.2 1.5-.4 1.5-.3 1.5-.5 1.5-.5 1.5-.5 1.5-.5 1.5-.6 1.5-.7 1.5-.8 1.5-.9 1.5-1 1.5-.9 1.5-.9 1.5-.9 1.5-.8 1.5-.8 1.5-.8 1.5-.8 1.5-.7 1.5-.8 1.5-.9 1.5-.9 1.5-1 1.5-1.3 1.5-1.3 1.5-1.4 1.5-1.3 1.5-1.2 1.5-.9 1.5-.7 1.5-.2 1.5 .1 1.5 .2 1.5 .3 1.5 .5 1.5 .5 1.5 .6 1.5 .7 1.5 .6 1.5 .8 1.5 1.1 1.5 1.3 1.5 1.5 1.5 1.6 1.5 1.6 1.5 1.5 1.5 1.3 1.5 1.1 1.5 1.1 1.5 1.2 1.5 1.1 1.5 .9 1.5 .8 1.5 .6 1.5 .2 1.5 0 1.5 0 1.5-.1 1.5-.2 1.5-.1 1.5-.2 1.5-.2 1.5-.3 1.5-.3 1.5-.3 1.5-.3 1.5-.3 1.5-.3 1.5-.4 1.5-.3 1.5-.4 1.5-.4 1.5-.5 1.5-.5 1.5-.7 1.5-.6 1.5-.8 1.5-.7 1.5-.8 1.5-.9 1.5-.8 1.5-.8 1.5-.8 1.5-.8 1.5-.8 1.5-.8 1.5-.7 1.5-.7 1.5-.9 1.5-.9 1.5-.8 1.5-.7 1.5-.6 1.5-.2 1.5 .1 1.5 .5 1.5 .8 1.5 .9 1.5 1.1" stroke="#1f77b4" stroke-width="1.15"/>
<path d="M353.5 90.2l1.5 1.4 1.5 1.7 1.5 1.7 1.5 1.8 1.5 1.8 1.5 1.5 1.5 1.3 1.5 .9 1.5 .8 1.5 .7 1.5 .7 1.5 .7 1.5 .5 1.5 .4 1.5 .3 1.5 .1 1.5 0 1.5-.1 1.5-.1 1.5-.2 1.5-.2 1.5-.3 1.5-.3 1.5-.3 1.5-.4 1.5-.3 1.5-.4 1.5-.4 1.5-.4 1.5-.4 1.5-.4 1.5-.4 1.5-.6 1.5-.6 1.5-.7 1.5-.8 1.5-.9 1.5-.9 1.5-.9 1.5-1 1.5-.9 1.5-.8 1.5-.8 1.5-.7 1.5-.6 1.5-.5 1.5-.3 1.5-.1 1.5 0 1.5 0 1.5 .2 1.5 .1 1.5 .3 1.5 .2 1.5 .3 1.5 .4 1.5 .3 1.5 .4 1.5 .4 1.5 .4 1.5 .5 1.5 .4 1.5 .5 1.5 .4 1.5 .5 1.5 .6 1.5 .7 1.5 .9 1.5 .9 1.5 1 1.5 1 1.5 1 1.5 1.1 1.5 .9 1.5 1 1.5 .8 1.5 .8 1.5 .6 1.5 .4 1.5 .3 1.5 .1 1.5 0 1.5 0 1.5 0 1.5-.1 1.5-.1 1.5-.2 1.5-.3 1.5-.4" stroke="#1f77b4" stroke-width="1.15" stroke-dasharray="3.6 1.2"/>
<circle cx="42.83" cy="103.8" r="2.2" fill="#1f77b4"/><circle cx="67.11" cy="83.25" r="2.2" fill="#1f77b4"/><circle cx="91.38" cy="104.35" r="2.2" fill="#1f77b4"/><circle cx="115.66" cy="111.99" r="2.2" fill="#1f77b4"/><circle cx="139.94" cy="104.26" r="2.2" fill="#1f77b4"/><circle cx="164.21" cy="88.39" r="2.2" fill="#1f77b4"/><circle cx="188.49" cy="109.57" r="2.2" fill="#1f77b4"/><circle cx="212.77" cy="106.91" r="2.2" fill="#1f77b4"/><circle cx="237.04" cy="93.49" r="2.2" fill="#1f77b4"/><circle cx="261.32" cy="87.72" r="2.2" fill="#1f77b4"/><circle cx="285.6" cy="105.71" r="2.2" fill="#1f77b4"/><circle cx="309.87" cy="102.03" r="2.2" fill="#1f77b4"/><circle cx="334.15" cy="90.56" r="2.2" fill="#1f77b4"/><circle cx="353.1" cy="89.92" r="2.2" fill="#1f77b4"/><circle cx="377.38" cy="106.5" r="2.2" fill="#1f77b4"/><circle cx="401.65" cy="101.81" r="2.2" fill="#1f77b4"/><circle cx="425.93" cy="90.75" r="2.2" fill="#1f77b4"/><circle cx="450.21" cy="95.81" r="2.2" fill="#1f77b4"/><circle cx="474.48" cy="108.24" r="2.2" fill="#1f77b4"/>
<path d="M43 100.5l1.5-2.2 1.5-2.2 1.5-2.2 1.5-2 1.5-2 1.5-1.9 1.5-1.9 1.5-1.9 1.5-1.9 1.5-1.6 1.5-1.3 1.5-1.1 1.5-1 1.5-.8 1.5-.5 1.5 .1 1.5 .3 1.5 .6 1.5 .8 1.5 .8 1.5 1.4 1.5 1.7 1.5 2 1.5 2.1 1.5 2.2 1.5 2 1.5 2.1 1.5 2.2 1.5 2.3 1.5 2.3 1.5 2.2 1.5 1.8 1.5 1.6 1.5 1.4 1.5 1.3 1.5 1.2 1.5 .9 1.5 .7 1.5 .5 1.5 .4 1.5 .4 1.5 .3 1.5 .2 1.5 .2 1.5 0 1.5-.1 1.5-.1 1.5-.3 1.5-.2 1.5-.4 1.5-.3 1.5-.4 1.5-.4 1.5-.6 1.5-.7 1.5-.8 1.5-.8 1.5-.9 1.5-1 1.5-1.3 1.5-1.5 1.5-1.5 1.5-1.6 1.5-1.6 1.5-1.6 1.5-1.4 1.5-1.5 1.5-1.6 1.5-1.7 1.5-1.5 1.5-1.2 1.5-.8 1.5-.2 1.5-.1 1.5-.1 1.5 0 1.5 0 1.5 .2 1.5 .5 1.5 .7 1.5 .8 1.5 .9 1.5 .9 1.5 1.3 1.5 1.6 1.5 1.8 1.5 1.8 1.5 1.7 1.5 1.6 1.5 1.6 1.5 1.7 1.5 1.5 1.5 1.5 1.5 1.3 1.5 1.2 1.5 1.1 1.5 1.1 1.5 .9 1.5 .5 1.5-.1 1.5-.2 1.5-.4 1.5-.5 1.5-.5 1.5-.5 1.5-.5 1.5-.6 1.5-.6 1.5-.7 1.5-.7 1.5-.7 1.5-.7 1.5-.6 1.5-.6 1.5-.6 1.5-.7 1.5-.7 1.5-.8 1.5-1 1.5-1.3 1.5-2 1.5-2.7 1.5-2.9 1.5-2.8 1.5-2.3 1.5-2.2 1.5-2.1 1.5-1.9 1.5-1.6 1.5-1.4 1.5-1.3 1.5-1.2 1.5-.6 1.5 .1 1.5 .4 1.5 .7 1.5 .9 1.5 .9 1.5 1.2 1.5 1.6 1.5 1.9 1.5 2.2 1.5 2.1 1.5 2.2 1.5 1.9 1.5 2.1 1.5 2.1 1.5 2.1 1.5 2.1 1.5 2 1.5 2 1.5 1.7 1.5 1.6 1.5 1.5 1.5 1.4 1.5 1.1 1.5 .2 1.5-.1 1.5-.1 1.5-.2 1.5-.1 1.5 .1 1.5 .2 1.5 .4 1.5 .3 1.5 .2 1.5 0 1.5-.4 1.5-.6 1.5-.8 1.5-.9 1.5-1 1.5-1 1.5-.9 1.5-.9 1.5-.8 1.5-.8 1.5-.9 1.5-.9 1.5-.9 1.5-.8 1.5-.9 1.5-.9 1.5-.9 1.5-.8 1.5-.8 1.5-.9 1.5-.9 1.5-1 1.5-1 1.5-.9 1.5-.9 1.5-.8 1.5-.7 1.5-.5 1.5-.2 1.5 .1 1.5 .5 1.5 1 1.5 1.2 1.5 1.4 1.5 1.6 1.5 1.7 1.5 2.5 1.5 3.3 1.5 3" stroke="#ff7f0e" stroke-width="1.15"/>
<path d="M353.5 105l1.5 1.3 1.5 1.1 1.5 1.1 1.5 1 1.5 .8 1.5 .7 1.5 .5 1.5 .3 1.5 .2 1.5-.1 1.5-.2 1.5-.5 1.5-.7 1.5-.7 1.5-.8 1.5-.8 1.5-.7 1.5-.7 1.5-.7 1.5-.8 1.5-.7 1.5-.9 1.5-.8 1.5-.8 1.5-.9 1.5-.8 1.5-.8 1.5-.9 1.5-.7 1.5-.8 1.5-.7 1.5-.7 1.5-.6 1.5-.5 1.5-.5 1.5-.5 1.5-.5 1.5-.5 1.5-.5 1.5-.5 1.5-.5 1.5-.5 1.5-.4 1.5-.4 1.5-.4 1.5-.3 1.5-.3 1.5-.2 1.5-.2 1.5-.2 1.5 0 1.5 0 1.5 .3 1.5 .6 1.5 .8 1.5 1 1.5 1.2 1.5 1.2 1.5 1.3 1.5 1.2 1.5 1.1 1.5 1.2 1.5 1.5 1.5 1.6 1.5 1.5 1.5 1.5 1.5 1.3 1.5 .9 1.5 .5 1.5 0 1.5-.2 1.5-.2 1.5-.3 1.5-.4 1.5-.5 1.5-.5 1.5-.5 1.5-.6 1.5-.8 1.5-1.1 1.5-1.2 1.5-1.3 1.5-1.4 1.5-1.3 1.5-1.2 1.5-1 1.5-.9 1.5-.7 1.5-.8" stroke="#ff7f0e" stroke-width="1.15" stroke-dasharray="3.6 1.2"/>
<path d="M40.23 100.8L44.39 98.33L44.39 103.27Z" fill="#ff7f0e"/><path d="M66.21 76.56L70.37 74.09L70.37 79.03Z" fill="#ff7f0e"/><path d="M92.18 106.61L96.34 104.14L96.34 109.08Z" fill="#ff7f0e"/><path d="M118.16 110.31L122.32 107.84L122.32 112.78Z" fill="#ff7f0e"/><path d="M144.13 89.5L148.29 87.03L148.29 91.97Z" fill="#ff7f0e"/><path d="M170.11 95.39L174.27 92.92L174.27 97.86Z" fill="#ff7f0e"/><path d="M196.09 110.43L200.25 107.96L200.25 112.9Z" fill="#ff7f0e"/><path d="M222.06 96.75L226.22 94.28L226.22 99.22Z" fill="#ff7f0e"/><path d="M248.04 77.44L252.2 74.97L252.2 79.91Z" fill="#ff7f0e"/><path d="M274.01 109.57L278.17 107.1L278.17 112.04Z" fill="#ff7f0e"/><path d="M299.99 105.94L304.15 103.47L304.15 108.41Z" fill="#ff7f0e"/><path d="M325.96 90.67L330.12 88.2L330.12 93.14Z" fill="#ff7f0e"/><path d="M350.5 104.68L354.66 102.21L354.66 107.15Z" fill="#ff7f0e"/><path d="M376.48 107.43L380.64 104.96L380.64 109.9Z" fill="#ff7f0e"/><path d="M402.45 94.48L406.61 92.01L406.61 96.95Z" fill="#ff7f0e"/><path d="M428.43 88.25L432.59 85.78L432.59 90.72Z" fill="#ff7f0e"/><path d="M454.4 106.97L458.56 104.5L458.56 109.44Z" fill="#ff7f0e"/><path d="M480.38 94.22L484.54 91.75L484.54 96.69Z" fill="#ff7f0e"/>
<path d="M43 101.5l1.5-2.2 1.5-2.2 1.5-2.2 1.5-2 1.5-2 1.5-1.9 1.5-1.9 1.5-1.9 1.5-1.9 1.5-1.6 1.5-1.3 1.5-1.1 1.5-1 1.5-.8 1.5-.5 1.5 0 1.5 .2 1.5 .3 1.5 .4 1.5 .5 1.5 1.3 1.5 1.7 1.5 2 1.5 2.3 1.5 2.2 1.5 2.1 1.5 2.1 1.5 2.2 1.5 2.3 1.5 2.3 1.5 2.2 1.5 1.8 1.5 1.6 1.5 1.4 1.5 1.3 1.5 1.2 1.5 .9 1.5 .7 1.5 .5 1.5 .4 1.5 .4 1.5 .3 1.5 .2 1.5 .2 1.5 0 1.5-.1 1.5-.1 1.5-.3 1.5-.2 1.5-.4 1.5-.3 1.5-.4 1.5-.4 1.5-.6 1.5-.7 1.5-.8 1.5-.8 1.5-.9 1.5-1 1.5-1.3 1.5-1.5 1.5-1.5 1.5-1.6 1.5-1.6 1.5-1.6 1.5-1.4 1.5-1.5 1.5-1.6 1.5-1.7 1.5-1.5 1.5-1.2 1.5-.8 1.5-.2 1.5-.1 1.5-.1 1.5 0 1.5 0 1.5 .2 1.5 .5 1.5 .7 1.5 .8 1.5 .9 1.5 .9 1.5 1.3 1.5 1.6 1.5 1.8 1.5 1.8 1.5 1.7 1.5 1.6 1.5 1.6 1.5 1.7 1.5 1.5 1.5 1.5 1.5 1.3 1.5 1.2 1.5 1.1 1.5 1.1 1.5 .9 1.5 .5 1.5-.1 1.5-.2 1.5-.4 1.5-.5 1.5-.5 1.5-.5 1.5-.5 1.5-.6 1.5-.6 1.5-.7 1.5-.7 1.5-.7 1.5-.7 1.5-.6 1.5-.6 1.5-.6 1.5-.6 1.5-.8 1.5-.8 1.5-1 1.5-1.3 1.5-2.1 1.5-2.9 1.5-3.2 1.5-3 1.5-2.6 1.5-2.6 1.5-2.5 1.5-2.2 1.5-1.6 1.5-.8 1.5-.7 1.5-.5 1.5-.3 1.5 .1 1.5 .2 1.5 .5 1.5 .5 1.5 .7 1.5 1.1 1.5 1.6 1.5 2.2 1.5 2.4 1.5 2.4 1.5 2.4 1.5 2.1 1.5 2 1.5 2.2 1.5 2.1 1.5 2.1 1.5 2 1.5 1.9 1.5 1.7 1.5 1.6 1.5 1.5 1.5 1.4 1.5 1.1 1.5 .2 1.5-.1 1.5-.1 1.5-.2 1.5-.1 1.5 .1 1.5 .2 1.5 .4 1.5 .3 1.5 .2 1.5 0 1.5-.4 1.5-.6 1.5-.8 1.5-.9 1.5-1 1.5-1 1.5-.9 1.5-.9 1.5-.8 1.5-.8 1.5-.9 1.5-.9 1.5-.9 1.5-.8 1.5-.9 1.5-.9 1.5-.9 1.5-.8 1.5-.8 1.5-.9 1.5-.9 1.5-1 1.5-1 1.5-.9 1.5-.9 1.5-.8 1.5-.7 1.5-.5 1.5-.2 1.5 .1 1.5 .8 1.5 1.1 1.5 1.6 1.5 1.7 1.5 1.9 1.5 1.8 1.5 2.3 1.5 2.7 1.5 2.5" stroke="#2ca02c" stroke-width="1.15"/>
<path d="M353.5 105l1.5 1.2 1.5 1.2 1.5 1 1.5 1 1.5 .8 1.5 .7 1.5 .5 1.5 .4 1.5 .2 1.5-.1 1.5-.2 1.5-.5 1.5-.6 1.5-.7 1.5-.8 1.5-.8 1.5-.8 1.5-.7 1.5-.8 1.5-.7 1.5-.9 1.5-.8 1.5-.9 1.5-.8 1.5-1 1.5-.9 1.5-.9 1.5-1 1.5-.9 1.5-1 1.5-.9 1.5-1 1.5-.9 1.5-.9 1.5-.9 1.5-.8 1.5-1 1.5-1 1.5-1.1 1.5-1.1 1.5-1.1 1.5-.9 1.5-.7 1.5-.5 1.5-.2 1.5 .3 1.5 .8 1.5 1.1 1.5 1.4 1.5 1.5 1.5 1.6 1.5 1.6 1.5 1.5 1.5 1.2 1.5 .9 1.5 .9 1.5 .9 1.5 .8 1.5 .8 1.5 .7 1.5 .8 1.5 .6 1.5 .7 1.5 .5 1.5 .6 1.5 .5 1.5 .6 1.5 .5 1.5 .5 1.5 .5 1.5 .3 1.5 .3 1.5 .1 1.5 0 1.5 0 1.5-.2 1.5-.2 1.5-.2 1.5-.4 1.5-.4 1.5-.4 1.5-.6 1.5-.6 1.5-.7 1.5-.8 1.5-.9 1.5-.9 1.5-1.1 1.5-1.1" stroke="#2ca02c" stroke-width="1.15" stroke-dasharray="3.6 1.2"/>
<path d="M42.83 104.4L45.3 100.24L40.36 100.24Z" fill="#2ca02c"/><path d="M70.51 80.21L72.98 76.05L68.04 76.05Z" fill="#2ca02c"/><path d="M98.18 111.77L100.65 107.61L95.71 107.61Z" fill="#2ca02c"/><path d="M125.86 110.91L128.33 106.75L123.39 106.75Z" fill="#2ca02c"/><path d="M153.53 88.5L156 84.34L151.06 84.34Z" fill="#2ca02c"/><path d="M181.21 107.25L183.68 103.09L178.74 103.09Z" fill="#2ca02c"/><path d="M208.88 108.87L211.35 104.71L206.41 104.71Z" fill="#2ca02c"/><path d="M236.56 78.88L239.03 74.72L234.09 74.72Z" fill="#2ca02c"/><path d="M264.23 97.99L266.7 93.83L261.76 93.83Z" fill="#2ca02c"/><path d="M291.91 113.33L294.38 109.17L289.44 109.17Z" fill="#2ca02c"/><path d="M319.58 98.7L322.05 94.54L317.11 94.54Z" fill="#2ca02c"/><path d="M347.26 98.31L349.73 94.15L344.79 94.15Z" fill="#2ca02c"/><path d="M353.1 107.27L355.57 103.11L350.63 103.11Z" fill="#2ca02c"/><path d="M380.78 109.23L383.25 105.07L378.31 105.07Z" fill="#2ca02c"/><path d="M408.45 92.77L410.92 88.61L405.98 88.61Z" fill="#2ca02c"/><path d="M436.13 97.79L438.6 93.63L433.66 93.63Z" fill="#2ca02c"/><path d="M463.8 108.35L466.27 104.19L461.33 104.19Z" fill="#2ca02c"/>
<path d="M43 99.5l1.5-2.2 1.5-2.2 1.5-2.2 1.5-2 1.5-2 1.5-1.9 1.5-1.9 1.5-2 1.5-1.9 1.5-1.6 1.5-1.3 1.5-.9 1.5-.8 1.5-.7 1.5-.4 1.5 .1 1.5 .2 1.5 .5 1.5 .5 1.5 .7 1.5 1.3 1.5 1.7 1.5 2.1 1.5 2.2 1.5 2.1 1.5 2.1 1.5 2.1 1.5 2.2 1.5 2.3 1.5 2.3 1.5 2.2 1.5 1.8 1.5 1.6 1.5 1.4 1.5 1.2 1.5 1.2 1.5 .9 1.5 .8 1.5 .7 1.5 .6 1.5 .6 1.5 .5 1.5 .3 1.5 .3 1.5 0 1.5-.1 1.5-.1 1.5-.3 1.5-.2 1.5-.4 1.5-.3 1.5-.4 1.5-.4 1.5-.6 1.5-.7 1.5-.8 1.5-.8 1.5-.9 1.5-1 1.5-1.3 1.5-1.5 1.5-1.6 1.5-1.6 1.5-1.6 1.5-1.5 1.5-1.4 1.5-1.4 1.5-1.4 1.5-1.5 1.5-1.3 1.5-1.2 1.5-.8 1.5-.5 1.5-.4 1.5-.3 1.5-.2 1.5 0 1.5 .3 1.5 .5 1.5 .8 1.5 .8 1.5 1 1.5 .9 1.5 1.4 1.5 1.6 1.5 1.7 1.5 1.8 1.5 1.7 1.5 1.6 1.5 1.6 1.5 1.7 1.5 1.5 1.5 1.5 1.5 1.3 1.5 1.2 1.5 1.1 1.5 1.1 1.5 .9 1.5 .5 1.5-.1 1.5-.2 1.5-.4 1.5-.5 1.5-.5 1.5-.5 1.5-.5 1.5-.6 1.5-.6 1.5-.7 1.5-.7 1.5-.7 1.5-.7 1.5-.6 1.5-.6 1.5-.6 1.5-.7 1.5-.7 1.5-.8 1.5-1 1.5-1.3 1.5-2 1.5-2.7 1.5-2.9 1.5-2.8 1.5-2.3 1.5-2.3 1.5-2.1 1.5-2 1.5-1.5 1.5-1.1 1.5-1 1.5-.8 1.5-.5 1.5 .1 1.5 .2 1.5 .5 1.5 .5 1.5 .7 1.5 1 1.5 1.6 1.5 1.9 1.5 2.2 1.5 2.3 1.5 2.2 1.5 1.9 1.5 2.1 1.5 2.1 1.5 2.1 1.5 2.1 1.5 2 1.5 2 1.5 1.7 1.5 1.6 1.5 1.5 1.5 1.4 1.5 1.1 1.5 .2 1.5-.1 1.5-.1 1.5-.2 1.5-.1 1.5 .1 1.5 .2 1.5 .4 1.5 .3 1.5 .2 1.5 0 1.5-.4 1.5-.6 1.5-.8 1.5-.9 1.5-1 1.5-1 1.5-.9 1.5-.9 1.5-.8 1.5-.8 1.5-.9 1.5-.9 1.5-.9 1.5-.8 1.5-.9 1.5-.9 1.5-.9 1.5-.8 1.5-.8 1.5-.9 1.5-.9 1.5-1 1.5-1 1.5-.9 1.5-.9 1.5-.8 1.5-.7 1.5-.5 1.5-.2 1.5 .1 1.5 .5 1.5 1 1.5 1.2 1.5 1.4 1.5 1.6 1.5 1.7 1.5 2.4 1.5 3.3 1.5 3" stroke="#d62728" stroke-width="1.15"/>
<path d="M353.5 105.2l1.5 1.6 1.5 1.5 1.5 1.5 1.5 1.4 1.5 1.3 1.5 1.1 1.5 1 1.5 .8 1.5 .6 1.5 .4 1.5 .1 1.5-.1 1.5-.4 1.5-.6 1.5-.8 1.5-.9 1.5-1 1.5-1.1 1.5-2.1 1.5-3 1.5-3.4 1.5-3.3 1.5-2.9 1.5-2 1.5-1 1.5-.7 1.5-.6 1.5-.5 1.5-.5 1.5-.4 1.5-.4 1.5-.5 1.5-.5 1.5-.5 1.5-.5 1.5-.5 1.5-.5 1.5-.5 1.5-.5 1.5-.5 1.5-.5 1.5-.4 1.5-.4 1.5-.4 1.5-.3 1.5-.3 1.5-.3 1.5-.2 1.5-.1 1.5-.1 1.5-.1 1.5 .3 1.5 .7 1.5 1.1 1.5 1.3 1.5 1.5 1.5 1.6 1.5 1.6 1.5 2 1.5 2.4 1.5 2.6 1.5 2.7 1.5 2.7 1.5 2.5 1.5 2.4 1.5 2.6 1.5 2.8 1.5 2.6 1.5 2.1 1.5 1.5 1.5 .6 1.5-.2 1.5-.5 1.5-.7 1.5-.9 1.5-1 1.5-1 1.5-1.1 1.5-1.3 1.5-1.5 1.5-1.8 1.5-1.9 1.5-2.2 1.5-2.3 1.5-2.5 1.5-2.7 1.5-2.9 1.5-3 1.5-3.2" stroke="#d62728" stroke-width="1.15" stroke-dasharray="3.6 1.2"/>
<path d="M42.83 97.2L45.3 101.36L40.36 101.36Z" fill="#d62728"/><path d="M72.2 74.49L74.67 78.65L69.73 78.65Z" fill="#d62728"/><path d="M101.58 107.09L104.05 111.25L99.11 111.25Z" fill="#d62728"/><path d="M130.95 102.76L133.42 106.92L128.48 106.92Z" fill="#d62728"/><path d="M160.33 83.28L162.8 87.44L157.86 87.44Z" fill="#d62728"/><path d="M189.7 108.75L192.17 112.91L187.23 112.91Z" fill="#d62728"/><path d="M219.08 99.19L221.55 103.35L216.61 103.35Z" fill="#d62728"/><path d="M248.45 73.73L250.92 77.89L245.98 77.89Z" fill="#d62728"/><path d="M277.83 107.39L280.3 111.55L275.36 111.55Z" fill="#d62728"/><path d="M307.2 100.7L309.67 104.86L304.73 104.86Z" fill="#d62728"/><path d="M336.58 84.45L339.05 88.61L334.11 88.61Z" fill="#d62728"/><path d="M353.1 102.12L355.57 106.28L350.63 106.28Z" fill="#d62728"/><path d="M382.47 106L384.94 110.16L380 110.16Z" fill="#d62728"/><path d="M411.85 84.22L414.32 88.38L409.38 88.38Z" fill="#d62728"/><path d="M441.22 89.59L443.69 93.75L438.75 93.75Z" fill="#d62728"/><path d="M470.6 112.7L473.07 116.86L468.13 116.86Z" fill="#d62728"/>
<path d="M43 97.6l1.5-2.1 1.5-1.9 1.5-2 1.5-1.9 1.5-1.9 1.5-1.8 1.5-1.9 1.5-2 1.5-1.9 1.5-1.7 1.5-1.2 1.5-.8 1.5-.7 1.5-.5 1.5-.3 1.5 .1 1.5 .3 1.5 .6 1.5 .8 1.5 .8 1.5 1.4 1.5 1.7 1.5 2 1.5 2.1 1.5 2.2 1.5 2 1.5 2.1 1.5 2.3 1.5 2.4 1.5 2.3 1.5 2.1 1.5 1.8 1.5 1.4 1.5 1.2 1.5 1 1.5 .9 1.5 .8 1.5 .7 1.5 .6 1.5 .7 1.5 .5 1.5 .5 1.5 .4 1.5 .3 1.5 0 1.5-.1 1.5 0 1.5-.2 1.5-.2 1.5-.2 1.5-.2 1.5-.3 1.5-.5 1.5-.7 1.5-.8 1.5-.9 1.5-.9 1.5-1 1.5-1.1 1.5-1.3 1.5-1.4 1.5-1.5 1.5-1.5 1.5-1.5 1.5-1.4 1.5-1.3 1.5-1.3 1.5-1.4 1.5-1.4 1.5-1.2 1.5-1 1.5-.6 1.5-.1 1.5 .1 1.5 .1 1.5 .2 1.5 .3 1.5 .3 1.5 .7 1.5 1.3 1.5 1.6 1.5 1.9 1.5 1.9 1.5 1.7 1.5 1.3 1.5 1.2 1.5 1.2 1.5 1.1 1.5 1.2 1.5 1 1.5 1 1.5 .9 1.5 .8 1.5 .8 1.5 .6 1.5 .6 1.5 .6 1.5 .6 1.5 .5 1.5 .3 1.5 .2 1.5-.1 1.5-.2 1.5-.4 1.5-.5 1.5-.6 1.5-.6 1.5-.6 1.5-.6 1.5-.6 1.5-.7 1.5-.8 1.5-.8 1.5-.9 1.5-.9 1.5-1.2 1.5-1.2 1.5-1.5 1.5-1.4 1.5-1.6 1.5-1.6 1.5-1.5 1.5-1.5 1.5-1.4 1.5-1.6 1.5-1.7 1.5-1.8 1.5-1.7 1.5-1.4 1.5-1 1.5-.6 1.5 0 1.5 0 1.5 0 1.5 0 1.5 0 1.5 .2 1.5 .7 1.5 .9 1.5 1.2 1.5 1.4 1.5 1.6 1.5 1.5 1.5 1.5 1.5 1.5 1.5 1.6 1.5 1.8 1.5 1.9 1.5 1.9 1.5 1.9 1.5 1.8 1.5 1.6 1.5 1.5 1.5 1.4 1.5 1.4 1.5 1.3 1.5 .9 1.5 .5 1.5 .2 1.5 .2 1.5 .1 1.5 .1 1.5 .1 1.5 0 1.5 0 1.5-.2 1.5-.3 1.5-.6 1.5-.7 1.5-.8 1.5-.9 1.5-.9 1.5-.9 1.5-.8 1.5-.9 1.5-.9 1.5-1 1.5-1.2 1.5-1.1 1.5-1.3 1.5-1.1 1.5-1.2 1.5-1.1 1.5-1 1.5-.9 1.5-.7 1.5-.6 1.5-.6 1.5-.5 1.5-.6 1.5-.5 1.5-.4 1.5-.4 1.5-.3 1.5-.2 1.5-.1 1.5 .1 1.5 .2 1.5 .5 1.5 .6 1.5 .8 1.5 .9 1.5 .9 1.5 1.4 1.5 1.9 1.5 1.9" stroke="#9467bd" stroke-width="1.15"/>
<path d="M353.5 98.9l1.5 1.6 1.5 1.7 1.5 1.7 1.5 1.7 1.5 1.5 1.5 1.4 1.5 1.1 1.5 .7 1.5 .4 1.5 0 1.5-.1 1.5-.1 1.5-.2 1.5-.3 1.5-.3 1.5-.4 1.5-.4 1.5-.4 1.5-.5 1.5-.5 1.5-.5 1.5-.7 1.5-.8 1.5-1.1 1.5-1.3 1.5-1.3 1.5-1.5 1.5-1.4 1.5-1.4 1.5-1.3 1.5-1.2 1.5-1.2 1.5-1.3 1.5-1.4 1.5-1.4 1.5-1.3 1.5-1.3 1.5-1 1.5-.9 1.5-.5 1.5-.2 1.5 0 1.5 .2 1.5 .2 1.5 .3 1.5 .4 1.5 .4 1.5 .5 1.5 .4 1.5 .6 1.5 .5 1.5 .7 1.5 .8 1.5 1.1 1.5 1.1 1.5 1.3 1.5 1.4 1.5 1.4 1.5 1.4 1.5 1.4 1.5 1.3 1.5 1.3 1.5 1.4 1.5 1.6 1.5 1.6 1.5 1.5 1.5 1.2 1.5 1 1.5 .5 1.5 0 1.5-.1 1.5-.1 1.5-.1 1.5-.2 1.5-.2 1.5-.2 1.5-.2 1.5-.3 1.5-.3 1.5-.4 1.5-.3 1.5-.4 1.5-.3 1.5-.5 1.5-.7 1.5-.8 1.5-.9 1.5-.9 1.5-.9" stroke="#9467bd" stroke-width="1.15" stroke-dasharray="3.6 1.2"/>
<rect x="40.93" y="95.92" width="3.8" height="3.8" fill="#9467bd"/><rect x="72" y="76.48" width="3.8" height="3.8" fill="#9467bd"/><rect x="103.08" y="108.11" width="3.8" height="3.8" fill="#9467bd"/><rect x="134.15" y="97.77" width="3.8" height="3.8" fill="#9467bd"/><rect x="165.23" y="93.04" width="3.8" height="3.8" fill="#9467bd"/><rect x="196.3" y="108.64" width="3.8" height="3.8" fill="#9467bd"/><rect x="227.37" y="87.6" width="3.8" height="3.8" fill="#9467bd"/><rect x="258.45" y="88.43" width="3.8" height="3.8" fill="#9467bd"/><rect x="289.52" y="108.75" width="3.8" height="3.8" fill="#9467bd"/><rect x="320.6" y="90.1" width="3.8" height="3.8" fill="#9467bd"/><rect x="351.2" y="96.55" width="3.8" height="3.8" fill="#9467bd"/><rect x="382.27" y="105.38" width="3.8" height="3.8" fill="#9467bd"/><rect x="413.35" y="82.6" width="3.8" height="3.8" fill="#9467bd"/><rect x="444.42" y="99.11" width="3.8" height="3.8" fill="#9467bd"/><rect x="475.5" y="105.13" width="3.8" height="3.8" fill="#9467bd"/>
<path d="M43 99.7l1.5-1.4 1.5-1.4 1.5-1.3 1.5-1.3 1.5-1.2 1.5-1.1 1.5-1 1.5-1 1.5-1 1.5-1 1.5-1 1.5-.8 1.5-.7 1.5-.4 1.5-.1 1.5 0 1.5 0 1.5 0 1.5 0 1.5 .1 1.5 .6 1.5 1 1.5 1.2 1.5 1.4 1.5 1.4 1.5 1.3 1.5 1.3 1.5 1.3 1.5 1.5 1.5 1.5 1.5 1.5 1.5 1.5 1.5 1.4 1.5 1.2 1.5 1.2 1.5 1.1 1.5 1 1.5 1 1.5 .9 1.5 .8 1.5 .6 1.5 .5 1.5 .4 1.5 .4 1.5 .4 1.5 .3 1.5 .1 1.5 .1 1.5 0 1.5-.1 1.5 0 1.5-.1 1.5-.1 1.5-.1 1.5-.2 1.5-.1 1.5-.1 1.5-.2 1.5-.2 1.5-.2 1.5-.3 1.5-.4 1.5-.3 1.5-.5 1.5-.4 1.5-.5 1.5-.5 1.5-.6 1.5-.7 1.5-.8 1.5-.8 1.5-.8 1.5-.8 1.5-.7 1.5-.7 1.5-.7 1.5-.7 1.5-.7 1.5-.7 1.5-.6 1.5-.6 1.5-.5 1.5-.4 1.5-.5 1.5-.4 1.5-.2 1.5 0 1.5 .1 1.5 .3 1.5 .3 1.5 .4 1.5 .4 1.5 .5 1.5 .5 1.5 .5 1.5 .4 1.5 .4 1.5 .4 1.5 .3 1.5 .4 1.5 .3 1.5 .3 1.5 .4 1.5 .3 1.5 .3 1.5 .3 1.5 .2 1.5 .2 1.5 .2 1.5 .1 1.5 .1 1.5 .1 1.5 .1 1.5 .1 1.5 .1 1.5 0 1.5 .1 1.5 .1 1.5 .1 1.5 0 1.5 .1 1.5 0 1.5 .1 1.5 0 1.5 .1 1.5 0 1.5 0 1.5 .1 1.5 0 1.5 0 1.5 0 1.5 0 1.5 0 1.5-.1 1.5 0 1.5-.1 1.5-.1 1.5-.1 1.5 0 1.5-.2 1.5-.1 1.5-.1 1.5-.1 1.5-.1 1.5-.1 1.5-.2 1.5-.1 1.5-.1 1.5-.1 1.5-.1 1.5-.1 1.5 0 1.5-.1 1.5-.1 1.5 0 1.5 0 1.5 0 1.5 0 1.5 0 1.5 .1 1.5 0 1.5 0 1.5 .1 1.5 0 1.5 .1 1.5 0 1.5 .1 1.5 0 1.5 0 1.5 .1 1.5 0 1.5 0 1.5 0 1.5 0 1.5 .1 1.5 0 1.5 0 1.5 0 1.5 0 1.5 0 1.5 0 1.5 0 1.5 0 1.5 0 1.5 0 1.5 0 1.5 .1 1.5 0 1.5 0 1.5 0 1.5 0 1.5 0 1.5 0 1.5 0 1.5 0 1.5 0 1.5 .1 1.5 0 1.5 0 1.5 0 1.5 .1 1.5 0 1.5 0 1.5 .1 1.5 0 1.5 0" stroke="#8c564b" stroke-width="1.15"/>
<path d="M353.5 103.5l1.5 0 1.5 0 1.5 0 1.5 0 1.5 0 1.5 0 1.5 0 1.5 0 1.5 0 1.5 0 1.5 0 1.5 0 1.5 0 1.5 0 1.5-.1 1.5 0 1.5 0 1.5 0 1.5 0 1.5 0 1.5 0 1.5 0 1.5 0 1.5 0 1.5 0 1.5 0 1.5 0 1.5 0 1.5 0 1.5-.1 1.5 0 1.5 0 1.5 0 1.5 0 1.5 0 1.5 0 1.5 0 1.5 0 1.5 0 1.5 0 1.5 0 1.5 0 1.5 0 1.5-.1 1.5 0 1.5 0 1.5 0 1.5 0 1.5 0 1.5 0 1.5 0 1.5 0 1.5 0 1.5 0 1.5 0 1.5 0 1.5 0 1.5 0 1.5 0 1.5 0 1.5 0 1.5-.1 1.5 0 1.5 0 1.5 0 1.5 0 1.5 0 1.5 0 1.5 0 1.5 0 1.5 0 1.5 0 1.5 0 1.5 0 1.5 0 1.5 0 1.5 0 1.5 0 1.5 0 1.5-.1 1.5 0 1.5 0 1.5 0 1.5 0 1.5 0 1.5 0 1.5 0 1.5 0 1.5 0" stroke="#8c564b" stroke-width="1.15" stroke-dasharray="3.6 1.2"/>
<path d="M42.83 97.77L44.65 98.82L44.65 100.92L42.83 101.97L41.01 100.92L41.01 98.82Z" fill="#8c564b"/><path d="M75.6 84.31L77.42 85.36L77.42 87.46L75.6 88.51L73.78 87.46L73.78 85.36Z" fill="#8c564b"/><path d="M108.38 108.87L110.2 109.92L110.2 112.02L108.38 113.07L106.56 112.02L106.56 109.92Z" fill="#8c564b"/><path d="M141.15 106.41L142.97 107.46L142.97 109.56L141.15 110.61L139.33 109.56L139.33 107.46Z" fill="#8c564b"/><path d="M173.92 93.71L175.74 94.76L175.74 96.86L173.92 97.91L172.1 96.86L172.1 94.76Z" fill="#8c564b"/><path d="M206.7 101.09L208.52 102.14L208.52 104.24L206.7 105.29L204.88 104.24L204.88 102.14Z" fill="#8c564b"/><path d="M239.47 102.4L241.29 103.45L241.29 105.55L239.47 106.6L237.65 105.55L237.65 103.45Z" fill="#8c564b"/><path d="M272.24 100.51L274.06 101.56L274.06 103.66L272.24 104.71L270.42 103.66L270.42 101.56Z" fill="#8c564b"/><path d="M305.02 100.95L306.84 102L306.84 104.1L305.02 105.15L303.2 104.1L303.2 102Z" fill="#8c564b"/><path d="M337.79 101.15L339.61 102.2L339.61 104.3L337.79 105.35L335.97 104.3L335.97 102.2Z" fill="#8c564b"/><path d="M353.1 101.4L354.92 102.45L354.92 104.55L353.1 105.6L351.28 104.55L351.28 102.45Z" fill="#8c564b"/><path d="M385.87 101.31L387.69 102.36L387.69 104.46L385.87 105.51L384.05 104.46L384.05 102.36Z" fill="#8c564b"/><path d="M418.65 101.15L420.47 102.2L420.47 104.3L418.65 105.35L416.83 104.3L416.83 102.2Z" fill="#8c564b"/><path d="M451.42 101.03L453.24 102.08L453.24 104.18L451.42 105.23L449.6 104.18L449.6 102.08Z" fill="#8c564b"/><path d="M484.19 100.91L486.01 101.96L486.01 104.06L484.19 105.11L482.37 104.06L482.37 101.96Z" fill="#8c564b"/>
<path d="M43 103.7l1.5-1.7 1.5-1.6 1.5-1.5 1.5-1.5 1.5-1.5 1.5-1.3 1.5-1.4 1.5-1.2 1.5-1.3 1.5-1.3 1.5-1.3 1.5-1.2 1.5-1 1.5-.7 1.5-.3 1.5-.1 1.5-.2 1.5-.1 1.5 0 1.5 .1 1.5 .4 1.5 .7 1.5 .8 1.5 .9 1.5 .9 1.5 1.2 1.5 1.4 1.5 1.5 1.5 1.7 1.5 1.7 1.5 1.7 1.5 1.6 1.5 1.3 1.5 1.4 1.5 1.3 1.5 1.2 1.5 1.2 1.5 1.1 1.5 1.1 1.5 1 1.5 1 1.5 1.1 1.5 .9 1.5 .8 1.5 .6 1.5 .1 1.5 0 1.5-.2 1.5-.4 1.5-.4 1.5-.5 1.5-.5 1.5-.5 1.5-.4 1.5-.4 1.5-.4 1.5-.4 1.5-.4 1.5-.4 1.5-.4 1.5-.3 1.5-.5 1.5-.4 1.5-.4 1.5-.5 1.5-.4 1.5-.5 1.5-.6 1.5-.7 1.5-.8 1.5-.8 1.5-1 1.5-.9 1.5-.9 1.5-.7 1.5-.7 1.5-.5 1.5-.3 1.5-.2 1.5-.1 1.5-.2 1.5-.1 1.5-.1 1.5-.1 1.5-.1 1.5-.1 1.5-.1 1.5-.1 1.5 0 1.5 0 1.5 0 1.5 0 1.5 .2 1.5 .3 1.5 .5 1.5 .5 1.5 .6 1.5 .7 1.5 .7 1.5 .7 1.5 .7 1.5 .6 1.5 .5 1.5 .5 1.5 .6 1.5 .5 1.5 .6 1.5 .6 1.5 .6 1.5 .5 1.5 .5 1.5 .3 1.5 .3 1.5 .2 1.5 0 1.5 0 1.5 0 1.5-.1 1.5 0 1.5-.1 1.5-.1 1.5-.1 1.5-.1 1.5-.1 1.5-.1 1.5-.1 1.5-.1 1.5-.1 1.5-.1 1.5-.2 1.5-.2 1.5-.2 1.5-.3 1.5-.2 1.5-.2 1.5-.2 1.5-.2 1.5-.2 1.5-.1 1.5-.2 1.5-.1 1.5-.2 1.5-.1 1.5-.2 1.5-.1 1.5-.2 1.5-.1 1.5-.2 1.5-.1 1.5-.1 1.5-.1 1.5-.1 1.5-.1 1.5-.1 1.5-.1 1.5-.1 1.5-.1 1.5 0 1.5-.1 1.5 0 1.5 0 1.5 0 1.5 0 1.5 .1 1.5 .1 1.5 .1 1.5 .1 1.5 .2 1.5 .1 1.5 .2 1.5 .1 1.5 .2 1.5 .2 1.5 .2 1.5 .1 1.5 .2 1.5 .1 1.5 .2 1.5 .1 1.5 .1 1.5 0 1.5 .1 1.5 0 1.5 0 1.5 0 1.5 0 1.5-.1 1.5 0 1.5 0 1.5-.1 1.5 0 1.5 0 1.5-.1 1.5 0 1.5-.1 1.5 0 1.5-.1 1.5 0 1.5-.1 1.5 0 1.5-.1 1.5 0 1.5 0 1.5 0 1.5 0 1.5 0" stroke="#e377c2" stroke-width="1.15"/>
<path d="M353.5 103.2l1.5 0 1.5 0 1.5 0 1.5 0 1.5 0 1.5 0 1.5 0 1.5 0 1.5 0 1.5 0 1.5 0 1.5 0 1.5 0 1.5 0 1.5 0 1.5 0 1.5 0 1.5 0 1.5 0 1.5 0 1.5 0 1.5 0 1.5 0 1.5 0 1.5 0 1.5 0 1.5 0 1.5 0 1.5 0 1.5 0 1.5 0 1.5 0 1.5 0 1.5 0 1.5 0 1.5 0 1.5 0 1.5 0 1.5 0 1.5 0 1.5 0 1.5 0 1.5 0 1.5 0 1.5 0 1.5 0 1.5 0 1.5 0 1.5 0 1.5 0 1.5 0 1.5 0 1.5 0 1.5 0 1.5 0 1.5 0 1.5 0 1.5 0 1.5 0 1.5 0 1.5 0 1.5 0 1.5 0 1.5 0 1.5 0 1.5-.1 1.5 0 1.5 0 1.5 0 1.5 0 1.5 0 1.5 0 1.5 0 1.5 0 1.5 0 1.5 0 1.5 0 1.5 0 1.5 0 1.5 0 1.5 0 1.5-.1 1.5 0 1.5 0 1.5 0 1.5 0 1.5 0 1.5 0 1.5 0" stroke="#e377c2" stroke-width="1.15" stroke-dasharray="3.6 1.2"/>
<path d="M42.83 101.1L45.58 103.85L42.83 106.6L40.08 103.85Z" fill="#e377c2"/><path d="M77.3 83.62L80.05 86.37L77.3 89.12L74.55 86.37Z" fill="#e377c2"/><path d="M111.78 110.5L114.53 113.25L111.78 116L109.03 113.25Z" fill="#e377c2"/><path d="M146.25 101.01L149 103.76L146.25 106.51L143.5 103.76Z" fill="#e377c2"/><path d="M180.72 93.02L183.47 95.77L180.72 98.52L177.97 95.77Z" fill="#e377c2"/><path d="M215.19 104.25L217.94 107L215.19 109.75L212.44 107Z" fill="#e377c2"/><path d="M249.67 101.28L252.42 104.03L249.67 106.78L246.92 104.03Z" fill="#e377c2"/><path d="M284.14 98.75L286.89 101.5L284.14 104.25L281.39 101.5Z" fill="#e377c2"/><path d="M318.61 101.25L321.36 104L318.61 106.75L315.86 104Z" fill="#e377c2"/><path d="M353.1 100.5L355.85 103.25L353.1 106L350.35 103.25Z" fill="#e377c2"/><path d="M387.57 100.5L390.32 103.25L387.57 106L384.82 103.25Z" fill="#e377c2"/><path d="M422.05 100.48L424.8 103.23L422.05 105.98L419.3 103.23Z" fill="#e377c2"/><path d="M456.52 100.38L459.27 103.13L456.52 105.88L453.77 103.13Z" fill="#e377c2"/>
<path d="M43 101.6l1.5-2 1.5-1.9 1.5-1.8 1.5-1.7 1.5-1.7 1.5-1.6 1.5-1.5 1.5-1.4 1.5-1.4 1.5-1.4 1.5-1.3 1.5-1.2 1.5-1 1.5-.7 1.5-.6 1.5-.5 1.5-.3 1.5 0 1.5 .7 1.5 1.5 1.5 2 1.5 2.2 1.5 2.2 1.5 2 1.5 1.6 1.5 1.7 1.5 1.6 1.5 1.7 1.5 1.5 1.5 1.5 1.5 1.4 1.5 1.1 1.5 1 1.5 .9 1.5 .9 1.5 .9 1.5 .9 1.5 .7 1.5 .7 1.5 .5 1.5 .4 1.5 .3 1.5 0 1.5-.7 1.5-1 1.5-1.1 1.5-.8 1.5-.1 1.5 .1 1.5 .2 1.5 .3 1.5 .2 1.5 .3 1.5 .1 1.5-.1 1.5-.5 1.5-.9 1.5-1.1 1.5-1.2 1.5-1.4 1.5-1.4 1.5-1.3 1.5-1.7 1.5-1.9 1.5-2 1.5-2 1.5-1.9 1.5-1.6 1.5-1.6 1.5-1.7 1.5-1.5 1.5-1 1.5-.2 1.5 0 1.5 0 1.5 0 1.5 0 1.5 0 1.5 .6 1.5 1.5 1.5 2.1 1.5 2.5 1.5 2.6 1.5 2.4 1.5 1.9 1.5 1.9 1.5 2.1 1.5 2.1 1.5 2.1 1.5 1.9 1.5 1.7 1.5 1.5 1.5 1.1 1.5 .6 1.5 .1 1.5-.1 1.5-.2 1.5-.3 1.5-.4 1.5-.5 1.5-.5 1.5-.5 1.5-.5 1.5-.4 1.5-.4 1.5-.4 1.5-.3 1.5-.4 1.5-.3 1.5-.3 1.5-.3 1.5-.3 1.5-.4 1.5-.3 1.5-.4 1.5-.4 1.5-.5 1.5-.4 1.5-.6 1.5-.5 1.5-.7 1.5-.8 1.5-.9 1.5-1.1 1.5-1.2 1.5-1.4 1.5-1.4 1.5-1.6 1.5-2 1.5-2.4 1.5-2.4 1.5-2.1 1.5-2.3 1.5-2.3 1.5-1.7 1.5-1 1.5 .3 1.5 1.4 1.5 2.3 1.5 3 1.5 3.1 1.5 4.1 1.5 6.4 1.5 5.5 1.5 1.3 1.5 0 1.5 0 1.5 0 1.5 0 1.5 0 1.5-.1 1.5 0 1.5 0 1.5-.1 1.5 0 1.5-.2 1.5-.2 1.5-.4 1.5-.4 1.5-.4 1.5-.5 1.5-.5 1.5-.7 1.5-.9 1.5-.9 1.5-.8 1.5-.8 1.5-.4 1.5-.1 1.5 .3 1.5 .8 1.5 1 1.5 .9 1.5 .6 1.5 .1 1.5-.1 1.5-.3 1.5-.4 1.5-.6 1.5-.6 1.5-.7 1.5-.8 1.5-.9 1.5-.9 1.5-.9 1.5-1 1.5-1.1 1.5-1.9 1.5-2.2 1.5-2.3 1.5-2 1.5-1.5 1.5-.5 1.5 .2 1.5 .7 1.5 1 1.5 1.4 1.5 1.6 1.5 1.8 1.5 1.9 1.5 1.9 1.5 2.5 1.5 3.9 1.5 4.4 1.5 3.8 1.5 2.2" stroke="#7f7f7f" stroke-width="1.15"/>
<path d="M353.5 108.2l1.5 0 1.5-.1 1.5-.2 1.5-.1 1.5-.2 1.5-.3 1.5-.2 1.5-.3 1.5-.3 1.5-.2 1.5-.3 1.5-.3 1.5-.3 1.5-.3 1.5-.4 1.5-.4 1.5-.4 1.5-.4 1.5-.5 1.5-.5 1.5-.5 1.5-.6 1.5-.6 1.5-.6 1.5-.7 1.5-.7 1.5-.9 1.5-1 1.5-1.1 1.5-1.2 1.5-1.2 1.5-1.2 1.5-1.3 1.5-1.3 1.5-1.3 1.5-1.3 1.5-1.5 1.5-1.8 1.5-2 1.5-2 1.5-1.8 1.5-1.6 1.5-1.2 1.5-.6 1.5 .5 1.5 2.3 1.5 3 1.5 2.5 1.5 2.4 1.5 2.6 1.5 2.5 1.5 2.4 1.5 2.1 1.5 1.7 1.5 1.4 1.5 1.3 1.5 1.2 1.5 1.2 1.5 1.1 1.5 .9 1.5 .8 1.5 .7 1.5 .4 1.5 .2 1.5 0 1.5-.3 1.5-.4 1.5-.6 1.5-.7 1.5-.6 1.5-.7 1.5-.6 1.5-.7 1.5-.8 1.5-.9 1.5-.9 1.5-.9 1.5-.7 1.5-.6 1.5-.4 1.5-.1 1.5 0 1.5 .2 1.5 .3 1.5 .4 1.5 .6 1.5 .7 1.5 .8 1.5 1" stroke="#7f7f7f" stroke-width="1.15" stroke-dasharray="3.6 1.2"/>
<path d="M42.83 99.03L44.33 101.83L42.83 104.63L41.33 101.83Z" fill="#7f7f7f"/><path d="M79 87.4L80.5 90.2L79 93L77.5 90.2Z" fill="#7f7f7f"/><path d="M115.17 102.97L116.67 105.77L115.17 108.57L113.67 105.77Z" fill="#7f7f7f"/><path d="M151.35 79.29L152.85 82.09L151.35 84.89L149.85 82.09Z" fill="#7f7f7f"/><path d="M187.52 107.76L189.02 110.56L187.52 113.36L186.02 110.56Z" fill="#7f7f7f"/><path d="M223.69 97.97L225.19 100.77L223.69 103.57L222.19 100.77Z" fill="#7f7f7f"/><path d="M259.86 100.42L261.36 103.22L259.86 106.02L258.36 103.22Z" fill="#7f7f7f"/><path d="M296.03 92.95L297.53 95.75L296.03 98.55L294.53 95.75Z" fill="#7f7f7f"/><path d="M332.21 77.97L333.71 80.77L332.21 83.57L330.71 80.77Z" fill="#7f7f7f"/><path d="M353.1 105.45L354.6 108.25L353.1 111.05L351.6 108.25Z" fill="#7f7f7f"/><path d="M389.27 97.51L390.77 100.31L389.27 103.11L387.77 100.31Z" fill="#7f7f7f"/><path d="M425.44 79.88L426.94 82.68L425.44 85.48L423.94 82.68Z" fill="#7f7f7f"/><path d="M461.62 98.95L463.12 101.75L461.62 104.55L460.12 101.75Z" fill="#7f7f7f"/>
</g>
<line x1="353.1" y1="73.75" x2="353.1" y2="139.25" stroke="#000" stroke-width="1.05"/>
<rect x="43" y="73.75" width="444.35" height="65.5" fill="none" stroke="#000" stroke-width="0.62"/>
<line x1="40.7" y1="86.6" x2="43" y2="86.6" stroke="#000" stroke-width="0.62"/>
<text x="39.3" y="89.05" text-anchor="end" textLength="14.2" lengthAdjust="spacingAndGlyphs">−0.2</text>
<line x1="40.7" y1="100.5" x2="43" y2="100.5" stroke="#000" stroke-width="0.62"/>
<text x="39.3" y="102.95" text-anchor="end" textLength="14.2" lengthAdjust="spacingAndGlyphs">−0.4</text>
<line x1="40.7" y1="114" x2="43" y2="114" stroke="#000" stroke-width="0.62"/>
<text x="39.3" y="116.45" text-anchor="end" textLength="14.2" lengthAdjust="spacingAndGlyphs">−0.6</text>
<line x1="40.7" y1="127.6" x2="43" y2="127.6" stroke="#000" stroke-width="0.62"/>
<text x="39.3" y="130.05" text-anchor="end" textLength="14.2" lengthAdjust="spacingAndGlyphs">−0.8</text>
<line x1="131.5" y1="139.25" x2="131.5" y2="141.55" stroke="#000" stroke-width="0.62"/>
<line x1="220.17" y1="139.25" x2="220.17" y2="141.55" stroke="#000" stroke-width="0.62"/>
<line x1="308.84" y1="139.25" x2="308.84" y2="141.55" stroke="#000" stroke-width="0.62"/>
<line x1="397.51" y1="139.25" x2="397.51" y2="141.55" stroke="#000" stroke-width="0.62"/>
<text transform="translate(14.4 107.5) rotate(-90)" text-anchor="middle" textLength="22.82" lengthAdjust="spacingAndGlyphs">TAC204</text>
<text transform="translate(21.4 105.3) rotate(-90)" text-anchor="middle" textLength="29.5" lengthAdjust="spacingAndGlyphs">Δ O<tspan font-size="4.1" dy="1.2">3</tspan><tspan dy="-1.2"> [DU]</tspan></text>
<clipPath id="c2"><rect x="43" y="142" width="444.35" height="65.5"/></clipPath>
<g clip-path="url(#c2)" fill="none" stroke-linejoin="round">
<path d="M43 171.2l.8 .9 .8-.7 .8 1.3 .8 .7 .8-.1 .8-.5 .8-.5 .8 .7 .8 1.7 .8 1 .8 .5 .8 .2 .8-.1 .8-.8 .8-.3 .8 1.3 .8 .7 .8-.4 .8-.9 .8 .3 .8 .1 .8 .8 .8-.2 .8 .6 .8 .6 .8 .3 .8 .3 .8-1.7 .8-.7 .8 2.3 .8 1.1 .8-.3 .8-.9 .8-.4 .8-.9 .8-1.2 .8 .2 .8 .4 .8-.1 .8 .4 .8-1.9 .8 .1 .8 .8 .8-1.3 .8-1.2 .8-.4 .8 .7 .8 1.3 .8-.6 .8-.8 .8-.8 .8 .2 .8-.9 .8-1.4 .8-.3 .8 .2 .8-.1 .8-1.2 .8-.2 .8-.2 .8-2.6 .8-1.2 .8 .8 .8-.7 .8-1.1 .8-.6 .8-.7 .8-.3 .8-.8 .8-.4 .8-1.7 .8-.6 .8 .1 .8-.4 .8 0 .8-.8 .8-.8 .8-.1 .8-1 .8-1.3 .8-.3 .8 .1 .8 .1 .8 .4 .8 .3 .8 0 .8 .5 .8-.6 .8-.8 .8 .9 .8-.1 .8-.9 .8 .8 .8 1 .8 .2 .8 .8 .8 .3 .8 .4 .8-.1 .8 .6 .8 .3 .8 .6 .8-.5 .8 1.7 .8 1.6 .8 .1 .8 .1 .8 .5 .8-.4 .8 .3 .8 .9 .8 1.1 .8 1 .8-.2 .8 .8 .8-.7 .8 .6 .8 1.6 .8 1.2 .8-.8 .8-.4 .8 2 .8 .7 .8-.3 .8 .6 .8 1.2 .8 1.7 .8 .9 .8 .4 .8 2.6 .8 0 .8 .3 .8 1.4 .8 1.2 .8 1.9 .8-.1 .8-.8 .8 .2 .8 .5 .8 .9 .8 1 .8 .4 .8 1.4 .8-.2 .8 .2 .8 .5 .8-1.3 .8 .8 .8 1.5 .8 .3 .8 .2 .8 .3 .8-.3 .8 0 .8-.7 .8 .3 .8 1.8 .8-.7 .8 .1 .8 1.4 .8-.4 .8-1.8 .8-.9 .8-.6 .8-1 .8-.1 .8-.9 .8-.9 .8-.5 .8-.5 .8-.2 .8-1.6 .8-2.9 .8-.3 .8-2.1 .8-1.3 .8 0 .8-1.5 .8-.9 .8-.4 .8-2.1 .8-1.3 .8 .2 .8 0 .8-1.6 .8-2.3 .8-.5 .8 .3 .8 .7 .8-1 .8-.9 .8-.8 .8-1.5 .8-.4 .8-.8 .8-1.3 .8 0 .8-.2 .8-1 .8 .7 .8 .1 .8-.5 .8-1.4 .8 .3 .8 1 .8-.6 .8-1 .8 .9 .8 1 .8-.3 .8 .9 .8 1.6 .8-1 .8-.3 .8-.1 .8 1.2 .8 1.9 .8-.4 .8-.5 .8 .7 .8 1.5 .8 .9 .8 .1 .8 1.1 .8 .4 .8 1 .8 1 .8 .4 .8-.3 .8 .4 .8 .1 .8-.9 .8 .5 .8 .4 .8-.2 .8-1.1 .8-.7 .8-.3 .8-.7 .8 .3 .8 .7 .8 .2 .8-.2 .8 .6 .8 .5 .8 2.4 .8 .9 .8 .8 .8 .3 .8 1.1 .8 1.4 .8 .5 .8-.5 .8 1.3 .8 .1 .8 .1 .8 1.1 .8 .2 .8 .2 .8 .4 .8 1 .8 .5 .8 .1 .8 0 .8 1 .8 1.6 .8 1.4 .8 .3 .8 1.2 .8-.5 .8-.5 .8 .6 .8-.7 .8 .4 .8 0 .8-1.4 .8-.2 .8 .9 .8-1.7 .8-1.2 .8-.7 .8-1.5 .8-1.1 .8-1.3 .8-2.1 .8 .6 .8-1.9 .8-1.1 .8 .3 .8-1.1 .8-1.4 .8-.2 .8-1.2 .8-.8 .8-1 .8 .1 .8 .4 .8-.4 .8-.2 .8-.3 .8-1.2 .8-1 .8 .2 .8 .7 .8-1.1 .8-.7 .8-.6 .8-.1 .8-.2 .8-.6 .8-.5 .8-.6 .8 .2 .8 1.1 .8 .8 .8 .2 .8-.6 .8-.3 .8 1.2 .8 .2 .8-.6 .8 1.5 .8 1.1 .8 .5 .8-1.4 .8 .2 .8 1.4 .8-.7 .8 .7 .8 .7 .8 .6 .8 .7 .8 2.3 .8 2.3 .8 1 .8 .7 .8 1 .8 2.1 .8 1 .8 .6 .8-.4 .8 1.4 .8 .6 .8 1.5 .8 .8 .8 .1 .8 1.7 .8 1.8 .8 .5 .8 .4 .8-.3 .8 .4 .8 .8 .8 1.7 .8 1.6 .8 .2 .8-.2 .8 0 .8 1.2 .8-.1 .8-.9 .8 .5 .8 1.4 .8 1.1 .8 1.8 .8-.4 .8-.7 .8 1.1 .8 1.4 .8-.6 .8 .9 .8 .7 .8 .7 .8-.5 .8-.5 .8 .5 .8 .1 .8 .3 .8 0 .8 .8 .8-1 .8-.4 .8-.4 .8 .2 .8 .2 .8 .3 .8 .2 .8-1.3 .8-.4 .8 1 .8-1.5 .8-.9 .8 1 .8-1.7 .8-3.7 .8 1 .8 1.5 .8-.7 .8-1.4 .8 .2 .8-2.3 .8-.8 .8-.2 .8-.4 .8 .4 .8-.4 .8-1.1 .8-.1 .8-2 .8 0 .8 1.2 .8-1.2 .8-.5 .8-1.7 .8-.7 .8 0 .8-.2 .8-.6 .8 .1 .8 .8 .8 .2 .8-1 .8 .1 .8-.4 .8-2.5 .8-.2 .8 3 .8 .3 .8-1.5 .8-.6 .8-1.5 .8-.3 .8 1.2 .8-.3 .8 1.6 .8-.2 .8 1.4 .8 2.5 .8 .1 .8-1.4 .8 .3 .8-1.2 .8 .5 .8 2.1 .8 1.4 .8-.6 .8 1.2 .8 .4 .8-.4 .8 2.3 .8 2.5 .8-.2 .8 .9 .8 .7 .8-.2 .8 2.3 .8 1.6 .8 .6 .8-.5 .8-1.7 .8-.5 .8 .1 .8 .1 .8 1.1 .8 2.4 .8 .7 .8-1.3 .8 .3 .8-1.1 .8 .2 .8-.4 .8-.1 .8 1.9 .8 .6 .8-.3 .8-.3 .8 0 .8 .8 .8 .3 .8 .4 .8-.5 .8 1.3 .8 1.3 .8 1.1 .8-.1 .8-1.1 .8-1.5 .8-.8 .8 2.2 .8 2.5 .8-.7 .8-3.8 .8 .6 .8 .8 .8-.4 .8 .7 .8-.4 .8-1.1 .8-.9 .8-2.1 .8-.7 .8 .1 .8 .1 .8-2.5 .8 0 .8 .3 .8-1.2 .8-.8 .8-1.8 .8-.1 .8 .4 .8 .1 .8-2 .8-1.5 .8-2.3 .8-1.1 .8 .2 .8-1.3 .8-.9 .8-1.2 .8 0 .8-1.8 .8-3.8 .8 0 .8-1.6 .8-1.5 .8-.7 .8 0 .8-1.6 .8-.2 .8 .6 .8 1.5 .8 1.1 .8 0 .8-.7 .8-1.5 .8-.7 .8 2 .8 .7 .8 .7 .8 .8 .8-1.3 .8-1.2 .8-1.2 .8 2.3 .8 .3 .8-.4 .8 .6 .8-.8 .8 1.1 .8 2.7 .8-.2 .8-.1 .8 0 .8-.2" stroke="#262626" stroke-width="0.9"/>
<path d="M51.4 175.24L53.8 177.64M51.4 177.64L53.8 175.24" stroke="#262626" stroke-width="0.55"/><path d="M66.2 177.9L68.6 180.3M66.2 180.3L68.6 177.9" stroke="#262626" stroke-width="0.55"/><path d="M81 173.21L83.4 175.61M81 175.61L83.4 173.21" stroke="#262626" stroke-width="0.55"/><path d="M95.8 161.42L98.2 163.82M95.8 163.82L98.2 161.42" stroke="#262626" stroke-width="0.55"/><path d="M110.6 154.11L113 156.51M110.6 156.51L113 154.11" stroke="#262626" stroke-width="0.55"/><path d="M125.4 160.01L127.8 162.41M125.4 162.41L127.8 160.01" stroke="#262626" stroke-width="0.55"/><path d="M140.2 169.19L142.6 171.59M140.2 171.59L142.6 169.19" stroke="#262626" stroke-width="0.55"/><path d="M155 183.02L157.4 185.42M155 185.42L157.4 183.02" stroke="#262626" stroke-width="0.55"/><path d="M169.8 188.84L172.2 191.24M169.8 191.24L172.2 188.84" stroke="#262626" stroke-width="0.55"/><path d="M184.6 170.84L187 173.24M184.6 173.24L187 170.84" stroke="#262626" stroke-width="0.55"/><path d="M199.4 156.67L201.8 159.07M199.4 159.07L201.8 156.67" stroke="#262626" stroke-width="0.55"/><path d="M214.2 157.41L216.6 159.81M214.2 159.81L216.6 157.41" stroke="#262626" stroke-width="0.55"/><path d="M229 166.28L231.4 168.68M229 168.68L231.4 166.28" stroke="#262626" stroke-width="0.55"/><path d="M243.8 172.54L246.2 174.94M243.8 174.94L246.2 172.54" stroke="#262626" stroke-width="0.55"/><path d="M258.6 181.85L261 184.25M258.6 184.25L261 181.85" stroke="#262626" stroke-width="0.55"/><path d="M273.4 169.14L275.8 171.54M273.4 171.54L275.8 169.14" stroke="#262626" stroke-width="0.55"/><path d="M288.2 159.78L290.6 162.18M288.2 162.18L290.6 159.78" stroke="#262626" stroke-width="0.55"/><path d="M303 162.68L305.4 165.08M303 165.08L305.4 162.68" stroke="#262626" stroke-width="0.55"/><path d="M317.8 180.29L320.2 182.69M317.8 182.69L320.2 180.29" stroke="#262626" stroke-width="0.55"/><path d="M332.6 191.64L335 194.04M332.6 194.04L335 191.64" stroke="#262626" stroke-width="0.55"/><path d="M347.4 196.45L349.8 198.85M347.4 198.85L349.8 196.45" stroke="#262626" stroke-width="0.55"/><path d="M362.2 188.85L364.6 191.25M362.2 191.25L364.6 188.85" stroke="#262626" stroke-width="0.55"/><path d="M377 179.52L379.4 181.92M377 181.92L379.4 179.52" stroke="#262626" stroke-width="0.55"/><path d="M391.8 180.85L394.2 183.25M391.8 183.25L394.2 180.85" stroke="#262626" stroke-width="0.55"/><path d="M406.6 192.8L409 195.2M406.6 195.2L409 192.8" stroke="#262626" stroke-width="0.55"/><path d="M421.4 196.65L423.8 199.05M421.4 199.05L423.8 196.65" stroke="#262626" stroke-width="0.55"/><path d="M436.2 198.18L438.6 200.58M436.2 200.58L438.6 198.18" stroke="#262626" stroke-width="0.55"/><path d="M451 188.64L453.4 191.04M451 191.04L453.4 188.64" stroke="#262626" stroke-width="0.55"/><path d="M465.8 167.44L468.2 169.84M465.8 169.84L468.2 167.44" stroke="#262626" stroke-width="0.55"/><path d="M480.6 170.63L483 173.03M480.6 173.03L483 170.63" stroke="#262626" stroke-width="0.55"/>
<path d="M43 169.2l1.5 1 1.5 1 1.5 1 1.5 .9 1.5 1 1.5 1 1.5 .9 1.5 1 1.5 1 1.5 1 1.5 1.1 1.5 1 1.5 1 1.5 .9 1.5 .8 1.5 .7 1.5 .6 1.5 .6 1.5 .6 1.5 .5 1.5 .4 1.5 .3 1.5 0 1.5-.2 1.5-.3 1.5-.5 1.5-.6 1.5-.7 1.5-.8 1.5-.9 1.5-.8 1.5-.9 1.5-.8 1.5-1 1.5-1.1 1.5-1.2 1.5-1.2 1.5-1.3 1.5-1.3 1.5-1.2 1.5-1.1 1.5-1.2 1.5-1.3 1.5-1.2 1.5-1.2 1.5-.9 1.5-.6 1.5-.2 1.5-.2 1.5-.1 1.5-.1 1.5 0 1.5-.1 1.5 0 1.5 .1 1.5 .4 1.5 .8 1.5 1 1.5 1.2 1.5 1.2 1.5 1.3 1.5 1.1 1.5 1.1 1.5 .8 1.5 .7 1.5 .6 1.5 .6 1.5 .5 1.5 .5 1.5 .3 1.5 .3 1.5 .1 1.5 .1 1.5 .1 1.5 0 1.5 .1 1.5 0 1.5 .1 1.5 0 1.5 0 1.5-.3 1.5-.5 1.5-.7 1.5-.8 1.5-.8 1.5-.9 1.5-.8 1.5-.7 1.5-.6 1.5-.5 1.5-.6 1.5-.5 1.5-.5 1.5-.6 1.5-.5 1.5-.5 1.5-.6 1.5-.6 1.5-.6 1.5-.6 1.5-.5 1.5-.6 1.5-.5 1.5-.4 1.5-.4 1.5-.4 1.5-.3 1.5-.4 1.5-.2 1.5-.2 1.5-.1 1.5 0 1.5 .4 1.5 .6 1.5 .8 1.5 1 1.5 1.1 1.5 1.1 1.5 1.2 1.5 1.1 1.5 1.1 1.5 1 1.5 1 1.5 1.2 1.5 1.2 1.5 1.1 1.5 1.1 1.5 1.1 1.5 .9 1.5 .7 1.5 .6 1.5 .6 1.5 .6 1.5 .5 1.5 .5 1.5 .4 1.5 .4 1.5 .4 1.5 .4 1.5 .4 1.5 .4 1.5 .3 1.5 .3 1.5 .2 1.5 0 1.5-.2 1.5-.3 1.5-.5 1.5-.6 1.5-.7 1.5-.6 1.5-.7 1.5-.6 1.5-.6 1.5-.7 1.5-.8 1.5-.7 1.5-.8 1.5-.7 1.5-.7 1.5-.6 1.5-.6 1.5-.6 1.5-.6 1.5-.7 1.5-.6 1.5-.6 1.5-.6 1.5-.5 1.5-.5 1.5-.4 1.5-.3 1.5-.3 1.5-.1 1.5 0 1.5 .1 1.5 .3 1.5 .3 1.5 .4 1.5 .5 1.5 .5 1.5 .7 1.5 .7 1.5 .6 1.5 .7 1.5 .5 1.5 .5 1.5 .4 1.5 .3 1.5 .3 1.5 .3 1.5 .2 1.5 .1 1.5 0 1.5 0 1.5 0 1.5 0 1.5-.1 1.5-.1 1.5-.1 1.5-.1 1.5-.1 1.5-.1 1.5-.2 1.5-.2 1.5-.1" stroke="#1f77b4" stroke-width="1.15"/>
<path d="M353.5 174.8l1.5-.7 1.5-.9 1.5-1.1 1.5-1.2 1.5-1.2 1.5-1.2 1.5-1 1.5-.7 1.5-.7 1.5-.7 1.5-.6 1.5-.6 1.5-.5 1.5-.5 1.5-.4 1.5-.3 1.5-.3 1.5-.2 1.5-.3 1.5-.2 1.5-.2 1.5-.1 1.5-.1 1.5-.1 1.5 0 1.5 .1 1.5 .1 1.5 .1 1.5 .2 1.5 .3 1.5 .2 1.5 .3 1.5 .3 1.5 .5 1.5 .7 1.5 .9 1.5 1 1.5 1.1 1.5 1.1 1.5 1.1 1.5 1 1.5 1 1.5 1.1 1.5 1.1 1.5 1.1 1.5 1.1 1.5 1 1.5 .8 1.5 .8 1.5 .7 1.5 .7 1.5 .7 1.5 .6 1.5 .5 1.5 .4 1.5 .4 1.5 .3 1.5 .3 1.5 .3 1.5 .3 1.5 .2 1.5 .2 1.5 .1 1.5 0 1.5 0 1.5-.2 1.5-.5 1.5-.5 1.5-.6 1.5-.6 1.5-.6 1.5-.5 1.5-.5 1.5-.5 1.5-.6 1.5-.5 1.5-.6 1.5-.4 1.5-.4 1.5-.3 1.5-.2 1.5 0 1.5-.1 1.5 0 1.5 0 1.5-.1 1.5 0 1.5 0 1.5 0" stroke="#1f77b4" stroke-width="1.15" stroke-dasharray="3.6 1.2"/>
<circle cx="42.83" cy="169.09" r="2.2" fill="#1f77b4"/><circle cx="67.11" cy="184.54" r="2.2" fill="#1f77b4"/><circle cx="91.38" cy="181.59" r="2.2" fill="#1f77b4"/><circle cx="115.66" cy="164.9" r="2.2" fill="#1f77b4"/><circle cx="139.94" cy="173.93" r="2.2" fill="#1f77b4"/><circle cx="164.21" cy="177.3" r="2.2" fill="#1f77b4"/><circle cx="188.49" cy="167.13" r="2.2" fill="#1f77b4"/><circle cx="212.77" cy="161.77" r="2.2" fill="#1f77b4"/><circle cx="237.04" cy="178.53" r="2.2" fill="#1f77b4"/><circle cx="261.32" cy="184.92" r="2.2" fill="#1f77b4"/><circle cx="285.6" cy="174.77" r="2.2" fill="#1f77b4"/><circle cx="309.87" cy="169.47" r="2.2" fill="#1f77b4"/><circle cx="334.15" cy="176.25" r="2.2" fill="#1f77b4"/><circle cx="353.1" cy="174.89" r="2.2" fill="#1f77b4"/><circle cx="377.38" cy="162.52" r="2.2" fill="#1f77b4"/><circle cx="401.65" cy="162.33" r="2.2" fill="#1f77b4"/><circle cx="425.93" cy="177.46" r="2.2" fill="#1f77b4"/><circle cx="450.21" cy="183.75" r="2.2" fill="#1f77b4"/><circle cx="474.48" cy="176.28" r="2.2" fill="#1f77b4"/>
<path d="M43 171.1l1.5 .5 1.5 .4 1.5 .5 1.5 .6 1.5 .5 1.5 .5 1.5 .5 1.5 .6 1.5 .7 1.5 .7 1.5 .8 1.5 .8 1.5 .7 1.5 .6 1.5 .4 1.5 .1 1.5-.1 1.5-.2 1.5-.4 1.5-.6 1.5-.6 1.5-.7 1.5-.8 1.5-.9 1.5-.9 1.5-.8 1.5-.9 1.5-.9 1.5-1 1.5-1.1 1.5-1.2 1.5-1.3 1.5-1.3 1.5-1.3 1.5-1.3 1.5-1.2 1.5-1.3 1.5-1.4 1.5-1.5 1.5-1.5 1.5-1.5 1.5-1.4 1.5-1.2 1.5-.9 1.5-.6 1.5-.2 1.5 .1 1.5 .2 1.5 .4 1.5 .4 1.5 .6 1.5 .6 1.5 .7 1.5 1.2 1.5 1.6 1.5 1.8 1.5 1.7 1.5 1.4 1.5 1.2 1.5 1.2 1.5 1.1 1.5 1.1 1.5 1.1 1.5 1.2 1.5 1.3 1.5 1.3 1.5 1.8 1.5 2 1.5 2.3 1.5 2.2 1.5 1.9 1.5 1.6 1.5 1 1.5 .8 1.5 .7 1.5 .6 1.5 .5 1.5 .4 1.5 .4 1.5 .3 1.5 .3 1.5 .3 1.5 .3 1.5 .1 1.5 0 1.5-.5 1.5-1.1 1.5-1.4 1.5-1.7 1.5-1.7 1.5-1.8 1.5-1.7 1.5-2 1.5-2.2 1.5-2.3 1.5-2.3 1.5-2 1.5-1.8 1.5-1.5 1.5-1.5 1.5-1.5 1.5-1.5 1.5-1.2 1.5-1.1 1.5-.9 1.5-.6 1.5-.4 1.5-.3 1.5-.2 1.5 0 1.5 .3 1.5 .7 1.5 .8 1.5 1.1 1.5 1.1 1.5 1.1 1.5 1 1.5 .9 1.5 .8 1.5 .7 1.5 .8 1.5 .7 1.5 .8 1.5 .7 1.5 .8 1.5 .7 1.5 .7 1.5 .8 1.5 .8 1.5 .7 1.5 .7 1.5 .8 1.5 .8 1.5 .8 1.5 .9 1.5 1 1.5 1 1.5 .9 1.5 .8 1.5 .5 1.5 .3 1.5 0 1.5 0 1.5 0 1.5 0 1.5 0 1.5 0 1.5 0 1.5-.5 1.5-1.1 1.5-1.7 1.5-2 1.5-2 1.5-1.8 1.5-1.3 1.5-1.3 1.5-1.2 1.5-1.2 1.5-1 1.5-1 1.5-.7 1.5-.6 1.5-.5 1.5-.5 1.5-.4 1.5-.2 1.5 .1 1.5 .5 1.5 .9 1.5 1.1 1.5 1.3 1.5 1.5 1.5 1.4 1.5 1.4 1.5 1.2 1.5 1.3 1.5 1.3 1.5 1.3 1.5 1.4 1.5 1.4 1.5 1.4 1.5 1.3 1.5 1.2 1.5 1.3 1.5 1.4 1.5 1.4 1.5 1.4 1.5 1.3 1.5 1 1.5 .8 1.5 .4 1.5 0 1.5 0 1.5 0 1.5 0 1.5 0 1.5 0 1.5 0 1.5 0 1.5 0 1.5 0 1.5 0 1.5 0 1.5 0 1.5 0 1.5 0" stroke="#ff7f0e" stroke-width="1.15"/>
<path d="M353.5 189.8l1.5-1.1 1.5-1.9 1.5-2.3 1.5-2.6 1.5-2.8 1.5-2.6 1.5-2.3 1.5-1.7 1.5-1.6 1.5-1.6 1.5-1.5 1.5-1.3 1.5-1.3 1.5-1.1 1.5-1 1.5-1.1 1.5-1.1 1.5-.9 1.5-.8 1.5-.5 1.5-.2 1.5 .1 1.5 .3 1.5 .5 1.5 .6 1.5 .7 1.5 .8 1.5 .8 1.5 .9 1.5 .9 1.5 .9 1.5 .9 1.5 1.2 1.5 1.2 1.5 1.3 1.5 1.3 1.5 1.3 1.5 1.3 1.5 1.1 1.5 1.1 1.5 1 1.5 .9 1.5 .9 1.5 .9 1.5 .9 1.5 .8 1.5 .9 1.5 .8 1.5 .9 1.5 1 1.5 .9 1.5 .5 1.5 .1 1.5-.2 1.5-.5 1.5-.6 1.5-.9 1.5-.9 1.5-1 1.5-1.1 1.5-1 1.5-1.1 1.5-1.4 1.5-1.6 1.5-1.6 1.5-1.7 1.5-1.7 1.5-1.6 1.5-1.4 1.5-1.3 1.5-1.3 1.5-1.4 1.5-1.4 1.5-1.3 1.5-1.1 1.5-.8 1.5-.5 1.5 0 1.5 .2 1.5 .3 1.5 .6 1.5 .7 1.5 .7 1.5 .9 1.5 .8 1.5 .8 1.5 .7 1.5 .7 1.5 .7" stroke="#ff7f0e" stroke-width="1.15" stroke-dasharray="3.6 1.2"/>
<path d="M40.23 171.04L44.39 168.57L44.39 173.51Z" fill="#ff7f0e"/><path d="M66.21 179.87L70.37 177.4L70.37 182.34Z" fill="#ff7f0e"/><path d="M92.18 164.33L96.34 161.86L96.34 166.8Z" fill="#ff7f0e"/><path d="M118.16 153.21L122.32 150.74L122.32 155.68Z" fill="#ff7f0e"/><path d="M144.13 177.61L148.29 175.14L148.29 180.08Z" fill="#ff7f0e"/><path d="M170.11 187.74L174.27 185.27L174.27 190.21Z" fill="#ff7f0e"/><path d="M196.09 158.07L200.25 155.6L200.25 160.54Z" fill="#ff7f0e"/><path d="M222.06 164.87L226.22 162.4L226.22 167.34Z" fill="#ff7f0e"/><path d="M248.04 178.74L252.2 176.27L252.2 181.21Z" fill="#ff7f0e"/><path d="M274.01 168.66L278.17 166.19L278.17 171.13Z" fill="#ff7f0e"/><path d="M299.99 167.88L304.15 165.41L304.15 170.35Z" fill="#ff7f0e"/><path d="M325.96 189.79L330.12 187.32L330.12 192.26Z" fill="#ff7f0e"/><path d="M350.5 189.92L354.66 187.45L354.66 192.39Z" fill="#ff7f0e"/><path d="M376.48 160.89L380.64 158.42L380.64 163.36Z" fill="#ff7f0e"/><path d="M402.45 168.76L406.61 166.29L406.61 171.23Z" fill="#ff7f0e"/><path d="M428.43 186L432.59 183.53L432.59 188.47Z" fill="#ff7f0e"/><path d="M454.4 167.92L458.56 165.45L458.56 170.39Z" fill="#ff7f0e"/><path d="M480.38 164.04L484.54 161.57L484.54 166.51Z" fill="#ff7f0e"/>
<path d="M43 171.1l1.5 .5 1.5 .4 1.5 .5 1.5 .6 1.5 .5 1.5 .5 1.5 .5 1.5 .6 1.5 .7 1.5 .7 1.5 .8 1.5 .8 1.5 .7 1.5 .6 1.5 .4 1.5 .1 1.5-.1 1.5-.2 1.5-.4 1.5-.6 1.5-.6 1.5-.7 1.5-.8 1.5-.9 1.5-.9 1.5-.8 1.5-.9 1.5-.9 1.5-1 1.5-1.1 1.5-1.2 1.5-1.3 1.5-1.3 1.5-1.3 1.5-1.3 1.5-1.2 1.5-1.3 1.5-1.5 1.5-1.6 1.5-1.6 1.5-1.5 1.5-1.4 1.5-1.3 1.5-.9 1.5-.7 1.5-.2 1.5 .1 1.5 .3 1.5 .4 1.5 .6 1.5 .6 1.5 .8 1.5 .7 1.5 1.3 1.5 1.5 1.5 1.8 1.5 1.7 1.5 1.4 1.5 1.2 1.5 1.2 1.5 1.1 1.5 1.1 1.5 1.1 1.5 1.2 1.5 1.3 1.5 1.3 1.5 1.8 1.5 2 1.5 2.3 1.5 2.2 1.5 1.9 1.5 1.6 1.5 1 1.5 .8 1.5 .6 1.5 .6 1.5 .4 1.5 .5 1.5 .4 1.5 .5 1.5 .6 1.5 .4 1.5 .2 1.5-.2 1.5-.6 1.5-.9 1.5-1.1 1.5-1.3 1.5-1.4 1.5-1.5 1.5-1.5 1.5-1.6 1.5-1.9 1.5-2.2 1.5-2.4 1.5-2.3 1.5-2.1 1.5-1.8 1.5-1.5 1.5-1.6 1.5-1.5 1.5-1.4 1.5-1.3 1.5-1.1 1.5-.9 1.5-.5 1.5-.3 1.5-.3 1.5-.2 1.5-.1 1.5 0 1.5 .4 1.5 .6 1.5 .8 1.5 .9 1.5 1 1.5 .9 1.5 .9 1.5 .8 1.5 .8 1.5 .9 1.5 .9 1.5 .8 1.5 .9 1.5 .9 1.5 .9 1.5 .9 1.5 .8 1.5 .9 1.5 .8 1.5 .8 1.5 .8 1.5 .8 1.5 .7 1.5 .7 1.5 .7 1.5 .6 1.5 .6 1.5 .7 1.5 .6 1.5 .6 1.5 .5 1.5 .3 1.5 .3 1.5 0 1.5-.2 1.5-.3 1.5-.4 1.5-.6 1.5-.6 1.5-.7 1.5-.8 1.5-1.5 1.5-1.8 1.5-2 1.5-2 1.5-1.8 1.5-1.3 1.5-1 1.5-1 1.5-.9 1.5-.8 1.5-.6 1.5-.4 1.5 0 1.5 .2 1.5 .5 1.5 .7 1.5 .8 1.5 1 1.5 1.1 1.5 1.2 1.5 1.2 1.5 1.2 1.5 1.2 1.5 1.5 1.5 1.7 1.5 2 1.5 1.9 1.5 2 1.5 1.7 1.5 1.5 1.5 1.1 1.5 .7 1.5 .8 1.5 .6 1.5 .6 1.5 .6 1.5 .5 1.5 .5 1.5 .4 1.5 .5 1.5 .4 1.5 .3 1.5 .4 1.5 .4 1.5 .4 1.5 .4 1.5 .4 1.5 .3 1.5 .3 1.5 .1 1.5 .1 1.5-.4 1.5-1.1 1.5-1.4" stroke="#2ca02c" stroke-width="1.15"/>
<path d="M353.5 188.2l1.5-1.7 1.5-2 1.5-2.2 1.5-2.3 1.5-2.2 1.5-2.2 1.5-2 1.5-1.6 1.5-1.5 1.5-1.5 1.5-1.4 1.5-1.3 1.5-1.1 1.5-1.1 1.5-1 1.5-1.1 1.5-1 1.5-1 1.5-.8 1.5-.5 1.5-.2 1.5 .1 1.5 .3 1.5 .5 1.5 .6 1.5 .7 1.5 .8 1.5 .8 1.5 .9 1.5 .9 1.5 .9 1.5 .9 1.5 1.2 1.5 1.2 1.5 1.3 1.5 1.3 1.5 1.3 1.5 1.3 1.5 1.1 1.5 1.1 1.5 1 1.5 .9 1.5 .9 1.5 .9 1.5 .9 1.5 .8 1.5 .9 1.5 .8 1.5 .9 1.5 1 1.5 .9 1.5 .5 1.5 .1 1.5-.2 1.5-.5 1.5-.6 1.5-.9 1.5-.9 1.5-1 1.5-1.1 1.5-1 1.5-1.1 1.5-1.4 1.5-1.6 1.5-1.6 1.5-1.7 1.5-1.7 1.5-1.6 1.5-1.4 1.5-1.3 1.5-1.3 1.5-1.4 1.5-1.4 1.5-1.3 1.5-1.1 1.5-.8 1.5-.5 1.5 0 1.5 0 1.5 .1 1.5 .1 1.5 .2 1.5 .4 1.5 .4 1.5 .6 1.5 .8 1.5 .9 1.5 1.1 1.5 1.3" stroke="#2ca02c" stroke-width="1.15" stroke-dasharray="3.6 1.2"/>
<path d="M42.83 173.64L45.3 169.48L40.36 169.48Z" fill="#2ca02c"/><path d="M70.51 182.14L72.98 177.98L68.04 177.98Z" fill="#2ca02c"/><path d="M98.18 164.09L100.65 159.93L95.71 159.93Z" fill="#2ca02c"/><path d="M125.86 159.85L128.33 155.69L123.39 155.69Z" fill="#2ca02c"/><path d="M153.53 187.16L156 183L151.06 183Z" fill="#2ca02c"/><path d="M181.21 181.29L183.68 177.13L178.74 177.13Z" fill="#2ca02c"/><path d="M208.88 158.1L211.35 153.94L206.41 153.94Z" fill="#2ca02c"/><path d="M236.56 173.09L239.03 168.93L234.09 168.93Z" fill="#2ca02c"/><path d="M264.23 181.93L266.7 177.77L261.76 177.77Z" fill="#2ca02c"/><path d="M291.91 164.08L294.38 159.92L289.44 159.92Z" fill="#2ca02c"/><path d="M319.58 187.44L322.05 183.28L317.11 183.28Z" fill="#2ca02c"/><path d="M347.26 195.1L349.73 190.94L344.79 190.94Z" fill="#2ca02c"/><path d="M353.1 191.17L355.57 187.01L350.63 187.01Z" fill="#2ca02c"/><path d="M380.78 162.44L383.25 158.28L378.31 158.28Z" fill="#2ca02c"/><path d="M408.45 174.37L410.92 170.21L405.98 170.21Z" fill="#2ca02c"/><path d="M436.13 188.08L438.6 183.92L433.66 183.92Z" fill="#2ca02c"/><path d="M463.8 164.4L466.27 160.24L461.33 160.24Z" fill="#2ca02c"/>
<path d="M43 170.1l1.5 .6 1.5 .5 1.5 .6 1.5 .6 1.5 .6 1.5 .7 1.5 .6 1.5 .7 1.5 .8 1.5 .9 1.5 1 1.5 1 1.5 .9 1.5 .7 1.5 .5 1.5 .2 1.5-.1 1.5-.2 1.5-.4 1.5-.4 1.5-.6 1.5-.6 1.5-.6 1.5-.7 1.5-.6 1.5-.8 1.5-1 1.5-1.1 1.5-1.2 1.5-1.1 1.5-1.1 1.5-1 1.5-.7 1.5-.7 1.5-.5 1.5-.5 1.5-.5 1.5-.6 1.5-.7 1.5-1 1.5-1.7 1.5-2 1.5-2.2 1.5-2.2 1.5-1.9 1.5-1.5 1.5-.7 1.5-.1 1.5 .3 1.5 .3 1.5 .5 1.5 .5 1.5 .6 1.5 1 1.5 1.3 1.5 1.5 1.5 1.6 1.5 1.4 1.5 1.3 1.5 1.2 1.5 1.3 1.5 1.2 1.5 1.2 1.5 1.3 1.5 1.4 1.5 1.3 1.5 1.6 1.5 1.8 1.5 1.9 1.5 1.8 1.5 1.7 1.5 1.3 1.5 1 1.5 .7 1.5 .6 1.5 .5 1.5 .5 1.5 .6 1.5 .7 1.5 .7 1.5 .7 1.5 .6 1.5 .5 1.5 .3 1.5 0 1.5-.5 1.5-1.1 1.5-1.4 1.5-1.7 1.5-1.7 1.5-1.8 1.5-1.7 1.5-2 1.5-2.3 1.5-2.3 1.5-2.3 1.5-2 1.5-1.7 1.5-1.4 1.5-1.4 1.5-1.4 1.5-1.4 1.5-1.2 1.5-1.1 1.5-1 1.5-.7 1.5-.4 1.5-.2 1.5 .2 1.5 .4 1.5 .7 1.5 .8 1.5 1 1.5 1.1 1.5 1.2 1.5 1.1 1.5 1.1 1.5 1 1.5 1.2 1.5 1.1 1.5 1.3 1.5 1.3 1.5 1.3 1.5 1.4 1.5 1.4 1.5 1.4 1.5 1.6 1.5 1.8 1.5 2 1.5 2.1 1.5 2.1 1.5 2 1.5 1.7 1.5 1.4 1.5 1 1.5 .5 1.5 0 1.5-.3 1.5-.4 1.5-.6 1.5-.7 1.5-.8 1.5-.9 1.5-.9 1.5-.9 1.5-1.2 1.5-1.4 1.5-1.6 1.5-1.7 1.5-1.7 1.5-1.6 1.5-1.5 1.5-1.7 1.5-1.6 1.5-1.7 1.5-1.5 1.5-1.4 1.5-1.1 1.5-1 1.5-1.1 1.5-.9 1.5-.9 1.5-.6 1.5-.4 1.5-.1 1.5 .1 1.5 .2 1.5 .3 1.5 .3 1.5 .5 1.5 .5 1.5 .5 1.5 .6 1.5 .7 1.5 .6 1.5 .7 1.5 .8 1.5 1.1 1.5 1.4 1.5 1.5 1.5 1.7 1.5 1.6 1.5 1.6 1.5 1.5 1.5 1.2 1.5 1.3 1.5 1.3 1.5 1.3 1.5 1.3 1.5 1.3 1.5 1.1 1.5 1 1.5 .8 1.5 .6 1.5 .3 1.5 0 1.5 0 1.5-.2 1.5-.2 1.5-.3 1.5-.3 1.5-.4 1.5-.5 1.5-.4 1.5-.5 1.5-.6" stroke="#d62728" stroke-width="1.15"/>
<path d="M353.5 184.8l1.5-.9 1.5-1.1 1.5-1.3 1.5-1.4 1.5-1.6 1.5-1.6 1.5-1.5 1.5-1.6 1.5-1.4 1.5-1.3 1.5-1.4 1.5-1.6 1.5-1.6 1.5-1.6 1.5-1.5 1.5-1.4 1.5-1.3 1.5-1.1 1.5-.9 1.5-.5 1.5-.2 1.5 .1 1.5 .3 1.5 .6 1.5 .6 1.5 .8 1.5 .9 1.5 .9 1.5 .9 1.5 1 1.5 .9 1.5 1 1.5 1.1 1.5 1.3 1.5 1.3 1.5 1.3 1.5 1.3 1.5 1.2 1.5 1.2 1.5 1 1.5 1.1 1.5 1.1 1.5 1.1 1.5 1.1 1.5 1.2 1.5 1 1.5 1 1.5 .8 1.5 .8 1.5 .6 1.5 .4 1.5 .3 1.5 0 1.5-.2 1.5-.5 1.5-.6 1.5-.9 1.5-.9 1.5-1 1.5-1.1 1.5-1 1.5-1.1 1.5-1.4 1.5-1.6 1.5-1.6 1.5-1.7 1.5-1.7 1.5-1.6 1.5-1.4 1.5-1.3 1.5-1.3 1.5-1.4 1.5-1.4 1.5-1.3 1.5-1.1 1.5-.8 1.5-.5 1.5 0 1.5 0 1.5 .1 1.5 .1 1.5 .2 1.5 .4 1.5 .4 1.5 .6 1.5 .8 1.5 .9 1.5 1.1 1.5 1.3" stroke="#d62728" stroke-width="1.15" stroke-dasharray="3.6 1.2"/>
<path d="M42.83 167.45L45.3 171.61L40.36 171.61Z" fill="#d62728"/><path d="M72.2 177.52L74.67 181.68L69.73 181.68Z" fill="#d62728"/><path d="M101.58 162.63L104.05 166.79L99.11 166.79Z" fill="#d62728"/><path d="M130.95 159.22L133.42 163.38L128.48 163.38Z" fill="#d62728"/><path d="M160.33 182.73L162.8 186.89L157.86 186.89Z" fill="#d62728"/><path d="M189.7 163.94L192.17 168.1L187.23 168.1Z" fill="#d62728"/><path d="M219.08 161.37L221.55 165.53L216.61 165.53Z" fill="#d62728"/><path d="M248.45 188.6L250.92 192.76L245.98 192.76Z" fill="#d62728"/><path d="M277.83 165.13L280.3 169.29L275.36 169.29Z" fill="#d62728"/><path d="M307.2 163.51L309.67 167.67L304.73 167.67Z" fill="#d62728"/><path d="M336.58 186.15L339.05 190.31L334.11 190.31Z" fill="#d62728"/><path d="M353.1 182.32L355.57 186.48L350.63 186.48Z" fill="#d62728"/><path d="M382.47 155.93L384.94 160.09L380 160.09Z" fill="#d62728"/><path d="M411.85 171.95L414.32 176.11L409.38 176.11Z" fill="#d62728"/><path d="M441.22 179.99L443.69 184.15L438.75 184.15Z" fill="#d62728"/><path d="M470.6 156.15L473.07 160.31L468.13 160.31Z" fill="#d62728"/>
<path d="M43 170.2l1.5 1 1.5 1 1.5 1 1.5 1 1.5 1 1.5 .9 1.5 1 1.5 .9 1.5 1 1.5 1.1 1.5 1.1 1.5 1 1.5 .9 1.5 .6 1.5 .4 1.5 .3 1.5 .2 1.5 .2 1.5 .1 1.5 .1 1.5-.1 1.5-.6 1.5-.8 1.5-1.1 1.5-1.3 1.5-1.5 1.5-1.5 1.5-1.6 1.5-1.5 1.5-1.4 1.5-1.2 1.5-1.1 1.5-1.1 1.5-1.2 1.5-1.1 1.5-1.2 1.5-1 1.5-1 1.5-.9 1.5-.7 1.5-.6 1.5-.5 1.5-.5 1.5-.4 1.5-.5 1.5-.4 1.5-.4 1.5-.3 1.5-.3 1.5-.2 1.5-.1 1.5-.1 1.5 0 1.5 .2 1.5 .6 1.5 .7 1.5 .9 1.5 1 1.5 1.1 1.5 1.1 1.5 1 1.5 1 1.5 1 1.5 1 1.5 1.1 1.5 1.1 1.5 1.1 1.5 1.1 1.5 1 1.5 1 1.5 .9 1.5 .9 1.5 .8 1.5 .9 1.5 .9 1.5 .9 1.5 .8 1.5 .8 1.5 .7 1.5 .5 1.5 .5 1.5 .3 1.5 .1 1.5 0 1.5 .1 1.5 .1 1.5 0 1.5 0 1.5-.5 1.5-1.4 1.5-1.9 1.5-2.4 1.5-2.3 1.5-2.3 1.5-1.8 1.5-1.9 1.5-2.1 1.5-2.1 1.5-2 1.5-1.8 1.5-1.4 1.5-1 1.5-.3 1.5 0 1.5 .1 1.5 .2 1.5 .2 1.5 .2 1.5 .3 1.5 .3 1.5 .5 1.5 .8 1.5 .9 1.5 1.1 1.5 1.1 1.5 1.2 1.5 1.2 1.5 1.1 1.5 1.1 1.5 1.2 1.5 1.2 1.5 1.3 1.5 1.2 1.5 1.2 1.5 1.2 1.5 1.2 1.5 1.2 1.5 1.2 1.5 1.2 1.5 1.2 1.5 1 1.5 1 1.5 .9 1.5 .9 1.5 .9 1.5 1 1.5 .8 1.5 .8 1.5 .6 1.5 .5 1.5 .2 1.5 0 1.5-.2 1.5-.4 1.5-.5 1.5-.6 1.5-.6 1.5-.7 1.5-1 1.5-1.3 1.5-1.7 1.5-1.9 1.5-2 1.5-1.9 1.5-1.8 1.5-1.8 1.5-1.9 1.5-1.9 1.5-1.8 1.5-1.8 1.5-1.7 1.5-1.6 1.5-1.7 1.5-1.6 1.5-1 1.5-.1 1.5 .4 1.5 .6 1.5 .8 1.5 1 1.5 1.1 1.5 1.1 1.5 1.2 1.5 1.1 1.5 1 1.5 1.1 1.5 1.3 1.5 1.2 1.5 1.4 1.5 1.3 1.5 1.4 1.5 1.3 1.5 1.2 1.5 1.2 1.5 1 1.5 .8 1.5 .7 1.5 .7 1.5 .7 1.5 .7 1.5 .6 1.5 .6 1.5 .5 1.5 .4 1.5 .2 1.5 .1 1.5 0 1.5-.2 1.5-.4 1.5-.6 1.5-.7 1.5-.7 1.5-.8 1.5-.9 1.5-.8 1.5-.8" stroke="#9467bd" stroke-width="1.15"/>
<path d="M353.5 179.5l1.5-.9 1.5-.9 1.5-1 1.5-1 1.5-1.1 1.5-1.1 1.5-1.1 1.5-1 1.5-1.1 1.5-1 1.5-1.2 1.5-1.3 1.5-1.4 1.5-1.3 1.5-1.4 1.5-1.2 1.5-1.1 1.5-1 1.5-.8 1.5-.4 1.5-.2 1.5 .1 1.5 .2 1.5 .4 1.5 .6 1.5 .6 1.5 .7 1.5 .8 1.5 .9 1.5 .8 1.5 .9 1.5 1.1 1.5 1.4 1.5 1.7 1.5 1.9 1.5 2 1.5 1.9 1.5 1.9 1.5 1.7 1.5 1.4 1.5 1 1.5 .8 1.5 .8 1.5 .8 1.5 .7 1.5 .7 1.5 .6 1.5 .6 1.5 .4 1.5 .4 1.5 .3 1.5 .1 1.5 0 1.5-.3 1.5-.8 1.5-1.1 1.5-1.2 1.5-1.4 1.5-1.5 1.5-1.5 1.5-1.3 1.5-1.2 1.5-1.3 1.5-1.3 1.5-1.3 1.5-1.4 1.5-1.3 1.5-1.3 1.5-1.1 1.5-1.1 1.5-.8 1.5-.8 1.5-.7 1.5-.8 1.5-.7 1.5-.7 1.5-.6 1.5-.6 1.5-.5 1.5-.4 1.5-.3 1.5-.1 1.5 0 1.5 .1 1.5 .3 1.5 .5 1.5 .6 1.5 .7 1.5 .8" stroke="#9467bd" stroke-width="1.15" stroke-dasharray="3.6 1.2"/>
<rect x="40.93" y="168.19" width="3.8" height="3.8" fill="#9467bd"/><rect x="72" y="183.06" width="3.8" height="3.8" fill="#9467bd"/><rect x="103.08" y="160.44" width="3.8" height="3.8" fill="#9467bd"/><rect x="134.15" y="164.53" width="3.8" height="3.8" fill="#9467bd"/><rect x="165.23" y="181.86" width="3.8" height="3.8" fill="#9467bd"/><rect x="196.3" y="156.86" width="3.8" height="3.8" fill="#9467bd"/><rect x="227.37" y="173.51" width="3.8" height="3.8" fill="#9467bd"/><rect x="258.45" y="188.07" width="3.8" height="3.8" fill="#9467bd"/><rect x="289.52" y="157.6" width="3.8" height="3.8" fill="#9467bd"/><rect x="320.6" y="179.35" width="3.8" height="3.8" fill="#9467bd"/><rect x="351.2" y="177.79" width="3.8" height="3.8" fill="#9467bd"/><rect x="382.27" y="156.15" width="3.8" height="3.8" fill="#9467bd"/><rect x="413.35" y="178.23" width="3.8" height="3.8" fill="#9467bd"/><rect x="444.42" y="174.1" width="3.8" height="3.8" fill="#9467bd"/><rect x="475.5" y="156.85" width="3.8" height="3.8" fill="#9467bd"/>
<path d="M43 170.2l1.5 1.1 1.5 1.2 1.5 1.1 1.5 1.1 1.5 1.1 1.5 1 1.5 1.1 1.5 1.1 1.5 1.1 1.5 1.2 1.5 1.2 1.5 1.1 1.5 1.1 1.5 .8 1.5 .7 1.5 .6 1.5 .6 1.5 .5 1.5 .5 1.5 .2 1.5 .2 1.5-.1 1.5-.3 1.5-.4 1.5-.5 1.5-.6 1.5-.7 1.5-.7 1.5-.8 1.5-.7 1.5-.8 1.5-.7 1.5-.8 1.5-.8 1.5-.9 1.5-1 1.5-1 1.5-1 1.5-1 1.5-1 1.5-.9 1.5-1 1.5-.8 1.5-.9 1.5-.9 1.5-.9 1.5-.9 1.5-.8 1.5-.8 1.5-.6 1.5-.4 1.5-.3 1.5-.2 1.5-.2 1.5-.2 1.5-.1 1.5-.1 1.5 0 1.5 .3 1.5 .6 1.5 .7 1.5 1 1.5 .9 1.5 1 1.5 1 1.5 .7 1.5 .8 1.5 .7 1.5 .7 1.5 .7 1.5 .7 1.5 .7 1.5 .6 1.5 .6 1.5 .5 1.5 .3 1.5 .4 1.5 .2 1.5 .3 1.5 .3 1.5 .4 1.5 .5 1.5 .7 1.5 1.9 1.5 2.4 1.5 1.5 1.5 .1 1.5-.1 1.5-.2 1.5-.3 1.5-.4 1.5-.4 1.5-.5 1.5-.5 1.5-.5 1.5-.4 1.5-.5 1.5-.4 1.5-.4 1.5-.4 1.5-.4 1.5-.5 1.5-.4 1.5-.4 1.5-.5 1.5-.4 1.5-.4 1.5-.4 1.5-.4 1.5-.4 1.5-.4 1.5-.4 1.5-.4 1.5-.4 1.5-.4 1.5-.4 1.5-.3 1.5-.4 1.5-.3 1.5-.3 1.5-.2 1.5-.3 1.5-.2 1.5-.2 1.5-.3 1.5-.2 1.5-.2 1.5-.2 1.5-.1 1.5-.1 1.5 0 1.5 0 1.5 0 1.5 .1 1.5 0 1.5 .2 1.5 .1 1.5 .2 1.5 .1 1.5 .2 1.5 .2 1.5 .2 1.5 .2 1.5 .3 1.5 .2 1.5 .2 1.5 .3 1.5 .2 1.5 .2 1.5 .2 1.5 .2 1.5 .2 1.5 .2 1.5 .2 1.5 .1 1.5 .2 1.5 .1 1.5 .2 1.5 .2 1.5 .1 1.5 .2 1.5 .2 1.5 .2 1.5 .2 1.5 .2 1.5 .3 1.5 .3 1.5 .4 1.5 .4 1.5 .4 1.5 .4 1.5 .3 1.5 .2 1.5 .2 1.5 0 1.5-.1 1.5-.1 1.5-.2 1.5-.2 1.5-.3 1.5-.4 1.5-.4 1.5-.4 1.5-.4 1.5-.4 1.5-.4 1.5-.5 1.5-.4 1.5-.4 1.5-.4 1.5-.3 1.5-.3 1.5-.3 1.5-.1 1.5-.2 1.5 0 1.5 0 1.5 0 1.5 .1 1.5 .1 1.5 .2 1.5 .2 1.5 .1 1.5 .2 1.5 .1 1.5 .2" stroke="#8c564b" stroke-width="1.15"/>
<path d="M353.5 175.1l1.5 .1 1.5 .1 1.5 0 1.5 .1 1.5 .1 1.5 .1 1.5 .1 1.5 .1 1.5 0 1.5 .1 1.5 .1 1.5 .1 1.5 0 1.5 .1 1.5 .1 1.5 .1 1.5 0 1.5 .1 1.5 .1 1.5 0 1.5 .1 1.5 .1 1.5 .1 1.5 .1 1.5 .1 1.5 .1 1.5 .1 1.5 .1 1.5 .1 1.5 .1 1.5 .1 1.5 .2 1.5 .1 1.5 .1 1.5 .1 1.5 .1 1.5 .1 1.5 .1 1.5 .1 1.5 0 1.5 .1 1.5 0 1.5 0 1.5 0 1.5 0 1.5 0 1.5-.1 1.5-.1 1.5-.1 1.5-.2 1.5-.1 1.5-.2 1.5-.1 1.5-.2 1.5-.2 1.5-.1 1.5-.2 1.5-.2 1.5-.1 1.5-.2 1.5-.1 1.5-.1 1.5-.1 1.5 0 1.5-.1 1.5 0 1.5 0 1.5 0 1.5 0 1.5 0 1.5-.1 1.5 0 1.5 0 1.5 0 1.5 0 1.5 0 1.5 0 1.5 0 1.5-.1 1.5 0 1.5 0 1.5 0 1.5 0 1.5 0 1.5 0 1.5 0 1.5 0 1.5 0 1.5 0" stroke="#8c564b" stroke-width="1.15" stroke-dasharray="3.6 1.2"/>
<path d="M42.83 168L44.65 169.05L44.65 171.15L42.83 172.2L41.01 171.15L41.01 169.05Z" fill="#8c564b"/><path d="M75.6 186.6L77.42 187.65L77.42 189.75L75.6 190.8L73.78 189.75L73.78 187.65Z" fill="#8c564b"/><path d="M108.38 169.69L110.2 170.74L110.2 172.84L108.38 173.89L106.56 172.84L106.56 170.74Z" fill="#8c564b"/><path d="M141.15 168.72L142.97 169.77L142.97 171.87L141.15 172.92L139.33 171.87L139.33 169.77Z" fill="#8c564b"/><path d="M173.92 184.1L175.74 185.15L175.74 187.25L173.92 188.3L172.1 187.25L172.1 185.15Z" fill="#8c564b"/><path d="M206.7 175.22L208.52 176.27L208.52 178.37L206.7 179.42L204.88 178.37L204.88 176.27Z" fill="#8c564b"/><path d="M239.47 169.15L241.29 170.2L241.29 172.3L239.47 173.35L237.65 172.3L237.65 170.2Z" fill="#8c564b"/><path d="M272.24 172.87L274.06 173.92L274.06 176.02L272.24 177.07L270.42 176.02L270.42 173.92Z" fill="#8c564b"/><path d="M305.02 177.9L306.84 178.95L306.84 181.05L305.02 182.1L303.2 181.05L303.2 178.95Z" fill="#8c564b"/><path d="M337.79 171.65L339.61 172.7L339.61 174.8L337.79 175.85L335.97 174.8L335.97 172.7Z" fill="#8c564b"/><path d="M353.1 172.94L354.92 173.99L354.92 176.09L353.1 177.14L351.28 176.09L351.28 173.99Z" fill="#8c564b"/><path d="M385.87 174.67L387.69 175.72L387.69 177.82L385.87 178.87L384.05 177.82L384.05 175.72Z" fill="#8c564b"/><path d="M418.65 176.65L420.47 177.7L420.47 179.8L418.65 180.85L416.83 179.8L416.83 177.7Z" fill="#8c564b"/><path d="M451.42 174.14L453.24 175.19L453.24 177.29L451.42 178.34L449.6 177.29L449.6 175.19Z" fill="#8c564b"/><path d="M484.19 173.9L486.01 174.95L486.01 177.05L484.19 178.1L482.37 177.05L482.37 174.95Z" fill="#8c564b"/>
<path d="M43 170.2l1.5 .9 1.5 1 1.5 .9 1.5 1 1.5 1 1.5 1 1.5 1 1.5 1 1.5 1.1 1.5 1.2 1.5 1.2 1.5 1.2 1.5 1.1 1.5 1.1 1.5 .8 1.5 .8 1.5 .7 1.5 .8 1.5 .7 1.5 .5 1.5 .5 1.5 .2 1.5 .1 1.5-.2 1.5-.5 1.5-.6 1.5-.8 1.5-.8 1.5-1 1.5-.9 1.5-.9 1.5-.9 1.5-1.1 1.5-1.2 1.5-1.2 1.5-1.3 1.5-1.2 1.5-1.1 1.5-1 1.5-.8 1.5-.8 1.5-.7 1.5-.7 1.5-.6 1.5-.6 1.5-.6 1.5-.6 1.5-.8 1.5-.7 1.5-.7 1.5-.7 1.5-.6 1.5-.6 1.5-.4 1.5-.3 1.5-.1 1.5 .1 1.5 .3 1.5 .5 1.5 .6 1.5 .7 1.5 .7 1.5 .8 1.5 .8 1.5 .8 1.5 .9 1.5 1.1 1.5 1 1.5 .9 1.5 .8 1.5 .6 1.5 .6 1.5 .5 1.5 .6 1.5 .5 1.5 .4 1.5 .5 1.5 .4 1.5 .5 1.5 .4 1.5 .5 1.5 .4 1.5 .5 1.5 .6 1.5 .5 1.5 .6 1.5 .6 1.5 .6 1.5 .5 1.5 .4 1.5 .2 1.5 .1 1.5-.1 1.5-.3 1.5-.4 1.5-.5 1.5-.6 1.5-.7 1.5-.8 1.5-.7 1.5-.8 1.5-.8 1.5-.7 1.5-.7 1.5-.6 1.5-.6 1.5-.7 1.5-.6 1.5-.7 1.5-.6 1.5-.6 1.5-.6 1.5-.4 1.5-.3 1.5-.3 1.5-.1 1.5-.2 1.5-.2 1.5-.1 1.5-.1 1.5-.1 1.5-.1 1.5-.1 1.5-.1 1.5 0 1.5 0 1.5 0 1.5 0 1.5 .2 1.5 .2 1.5 .2 1.5 .2 1.5 .3 1.5 .3 1.5 .3 1.5 .2 1.5 .3 1.5 .3 1.5 .2 1.5 .2 1.5 .3 1.5 .3 1.5 .3 1.5 .2 1.5 .3 1.5 .3 1.5 .2 1.5 .3 1.5 .2 1.5 .2 1.5 .1 1.5 .2 1.5 .1 1.5 .1 1.5 .2 1.5 .1 1.5 .1 1.5 .1 1.5 .1 1.5 .1 1.5 .1 1.5 .1 1.5 .1 1.5 .1 1.5 .1 1.5 .1 1.5 .2 1.5 0 1.5 .1 1.5 .1 1.5 0 1.5 0 1.5-.1 1.5-.1 1.5-.1 1.5-.2 1.5-.2 1.5-.2 1.5-.2 1.5-.2 1.5-.3 1.5-.2 1.5-.2 1.5-.2 1.5-.3 1.5-.4 1.5-.4 1.5-.3 1.5-.4 1.5-.3 1.5-.4 1.5-.2 1.5-.2 1.5-.1 1.5 0 1.5 0 1.5 0 1.5 .1 1.5 .1 1.5 .1 1.5 .1 1.5 .1 1.5 .2 1.5 .1 1.5 .2 1.5 .1" stroke="#e377c2" stroke-width="1.15"/>
<path d="M353.5 175.1l1.5 .2 1.5 .3 1.5 .2 1.5 .3 1.5 .3 1.5 .3 1.5 .3 1.5 .3 1.5 .2 1.5 .2 1.5 .3 1.5 .2 1.5 .3 1.5 .2 1.5 .2 1.5 .3 1.5 .2 1.5 .2 1.5 .1 1.5 .1 1.5 .1 1.5 .1 1.5 0 1.5 0 1.5-.1 1.5 0 1.5-.1 1.5-.1 1.5-.1 1.5-.1 1.5-.1 1.5-.2 1.5-.1 1.5-.2 1.5-.1 1.5-.2 1.5-.1 1.5-.2 1.5-.1 1.5-.2 1.5-.1 1.5-.1 1.5-.1 1.5-.1 1.5-.1 1.5-.1 1.5 0 1.5-.1 1.5-.1 1.5-.1 1.5 0 1.5-.1 1.5-.1 1.5 0 1.5-.1 1.5 0 1.5-.1 1.5 0 1.5-.1 1.5-.1 1.5 0 1.5 0 1.5-.1 1.5 0 1.5-.1 1.5 0 1.5 0 1.5 0 1.5-.1 1.5 0 1.5 0 1.5 0 1.5 0 1.5-.1 1.5 0 1.5 0 1.5 0 1.5 0 1.5 0 1.5 0 1.5-.1 1.5 0 1.5 0 1.5 0 1.5 0 1.5 0 1.5 0 1.5 0 1.5 0" stroke="#e377c2" stroke-width="1.15" stroke-dasharray="3.6 1.2"/>
<path d="M42.83 167.33L45.58 170.08L42.83 172.83L40.08 170.08Z" fill="#e377c2"/><path d="M77.3 187.24L80.05 189.99L77.3 192.74L74.55 189.99Z" fill="#e377c2"/><path d="M111.78 167.84L114.53 170.59L111.78 173.34L109.03 170.59Z" fill="#e377c2"/><path d="M146.25 171.36L149 174.11L146.25 176.86L143.5 174.11Z" fill="#e377c2"/><path d="M180.72 182.75L183.47 185.5L180.72 188.25L177.97 185.5Z" fill="#e377c2"/><path d="M215.19 169.73L217.94 172.48L215.19 175.23L212.44 172.48Z" fill="#e377c2"/><path d="M249.67 170.95L252.42 173.7L249.67 176.45L246.92 173.7Z" fill="#e377c2"/><path d="M284.14 175.28L286.89 178.03L284.14 180.78L281.39 178.03Z" fill="#e377c2"/><path d="M318.61 174.07L321.36 176.82L318.61 179.57L315.86 176.82Z" fill="#e377c2"/><path d="M353.1 172.32L355.85 175.07L353.1 177.82L350.35 175.07Z" fill="#e377c2"/><path d="M387.57 177.25L390.32 180L387.57 182.75L384.82 180Z" fill="#e377c2"/><path d="M422.05 174.7L424.8 177.45L422.05 180.2L419.3 177.45Z" fill="#e377c2"/><path d="M456.52 173.5L459.27 176.25L456.52 179L453.77 176.25Z" fill="#e377c2"/>
<path d="M43 170.2l1.5 .9 1.5 1 1.5 1 1.5 .9 1.5 1 1.5 1 1.5 1 1.5 1 1.5 1.1 1.5 1.1 1.5 1.2 1.5 1.2 1.5 1.1 1.5 1.1 1.5 1 1.5 .8 1.5 .6 1.5 .6 1.5 .5 1.5 .5 1.5 .5 1.5 .3 1.5 .3 1.5 .1 1.5-.1 1.5-.3 1.5-.4 1.5-.7 1.5-.7 1.5-.8 1.5-.8 1.5-.7 1.5-.9 1.5-1 1.5-1.1 1.5-1.1 1.5-1.1 1.5-1 1.5-1 1.5-.9 1.5-.9 1.5-.8 1.5-.8 1.5-.8 1.5-.8 1.5-.8 1.5-.7 1.5-.8 1.5-.9 1.5-.9 1.5-.8 1.5-.8 1.5-.6 1.5-.5 1.5-.3 1.5-.3 1.5-.3 1.5-.3 1.5-.1 1.5-.2 1.5 0 1.5 .1 1.5 .3 1.5 .4 1.5 .5 1.5 .6 1.5 .6 1.5 .5 1.5 .5 1.5 .5 1.5 .5 1.5 .6 1.5 .6 1.5 .6 1.5 .7 1.5 .7 1.5 .8 1.5 .7 1.5 .8 1.5 .7 1.5 .7 1.5 .7 1.5 .6 1.5 .7 1.5 .7 1.5 .7 1.5 .7 1.5 .8 1.5 .7 1.5 .6 1.5 .7 1.5 .5 1.5 .5 1.5 .3 1.5 .3 1.5 .1 1.5 0 1.5-.2 1.5-.2 1.5-.4 1.5-.4 1.5-.5 1.5-.6 1.5-.5 1.5-.6 1.5-.6 1.5-.5 1.5-.5 1.5-.5 1.5-.5 1.5-.5 1.5-.5 1.5-.5 1.5-.5 1.5-.5 1.5-.6 1.5-.5 1.5-.5 1.5-.5 1.5-.4 1.5-.5 1.5-.5 1.5-.5 1.5-.5 1.5-.5 1.5-.6 1.5-.5 1.5-.4 1.5-.4 1.5-.4 1.5-.2 1.5-.2 1.5 0 1.5 0 1.5 .1 1.5 .1 1.5 .2 1.5 .2 1.5 .3 1.5 .2 1.5 .3 1.5 .3 1.5 .3 1.5 .3 1.5 .2 1.5 .3 1.5 .3 1.5 .4 1.5 .3 1.5 .4 1.5 .4 1.5 .4 1.5 .4 1.5 .4 1.5 .4 1.5 .4 1.5 .4 1.5 .4 1.5 .4 1.5 .4 1.5 .4 1.5 .3 1.5 .5 1.5 .4 1.5 .4 1.5 .4 1.5 .3 1.5 .2 1.5 .1 1.5 0 1.5 0 1.5 0 1.5 0 1.5-.1 1.5 0 1.5 0 1.5-.1 1.5 0 1.5 0 1.5-.1 1.5 0 1.5-.1 1.5-.1 1.5 0 1.5-.1 1.5-.1 1.5 0 1.5-.1 1.5-.1 1.5-.1 1.5-.1 1.5-.1 1.5 0 1.5-.2 1.5-.2 1.5-.3 1.5-.3 1.5-.4 1.5-.4 1.5-.4 1.5-.4 1.5-.4 1.5-.3 1.5-.2 1.5-.2 1.5-.1" stroke="#7f7f7f" stroke-width="1.15"/>
<path d="M353.5 175l1.5 0 1.5 0 1.5 0 1.5 0 1.5 0 1.5 0 1.5 0 1.5 0 1.5 0 1.5 0 1.5 0 1.5 0 1.5 0 1.5 0 1.5 0 1.5 0 1.5 0 1.5 0 1.5 0 1.5 0 1.5 0 1.5 0 1.5 0 1.5 0 1.5 0 1.5 .1 1.5 .1 1.5 .1 1.5 .2 1.5 .2 1.5 .2 1.5 .2 1.5 .2 1.5 .2 1.5 .2 1.5 .3 1.5 .2 1.5 .2 1.5 .2 1.5 .3 1.5 .2 1.5 .1 1.5 .2 1.5 .1 1.5 .1 1.5 .1 1.5 0 1.5 0 1.5 0 1.5 0 1.5 0 1.5-.1 1.5 0 1.5-.1 1.5 0 1.5-.1 1.5-.1 1.5 0 1.5-.1 1.5-.1 1.5-.1 1.5 0 1.5-.1 1.5-.1 1.5-.1 1.5 0 1.5-.1 1.5 0 1.5-.1 1.5 0 1.5 0 1.5 0 1.5 0 1.5 0 1.5 0 1.5 0 1.5 0 1.5 .1 1.5 0 1.5 0 1.5 0 1.5 .1 1.5 0 1.5 0 1.5 .1 1.5 0 1.5 .1 1.5 0 1.5 .1" stroke="#7f7f7f" stroke-width="1.15" stroke-dasharray="3.6 1.2"/>
<path d="M42.83 167.28L44.33 170.08L42.83 172.88L41.33 170.08Z" fill="#7f7f7f"/><path d="M79 187.19L80.5 189.99L79 192.79L77.5 189.99Z" fill="#7f7f7f"/><path d="M115.17 168.09L116.67 170.89L115.17 173.69L113.67 170.89Z" fill="#7f7f7f"/><path d="M151.35 167.44L152.85 170.24L151.35 173.04L149.85 170.24Z" fill="#7f7f7f"/><path d="M187.52 182.2L189.02 185L187.52 187.8L186.02 185Z" fill="#7f7f7f"/><path d="M223.69 170.97L225.19 173.77L223.69 176.57L222.19 173.77Z" fill="#7f7f7f"/><path d="M259.86 168.43L261.36 171.23L259.86 174.03L258.36 171.23Z" fill="#7f7f7f"/><path d="M296.03 177.2L297.53 180L296.03 182.8L294.53 180Z" fill="#7f7f7f"/><path d="M332.21 175.97L333.71 178.77L332.21 181.57L330.71 178.77Z" fill="#7f7f7f"/><path d="M353.1 172.2L354.6 175L353.1 177.8L351.6 175Z" fill="#7f7f7f"/><path d="M389.27 172.2L390.77 175L389.27 177.8L387.77 175Z" fill="#7f7f7f"/><path d="M425.44 175.95L426.94 178.75L425.44 181.55L423.94 178.75Z" fill="#7f7f7f"/><path d="M461.62 174.7L463.12 177.5L461.62 180.3L460.12 177.5Z" fill="#7f7f7f"/>
</g>
<line x1="353.1" y1="142" x2="353.1" y2="207.5" stroke="#000" stroke-width="1.05"/>
<rect x="43" y="142" width="444.35" height="65.5" fill="none" stroke="#000" stroke-width="0.62"/>
<line x1="40.7" y1="162.7" x2="43" y2="162.7" stroke="#000" stroke-width="0.62"/>
<text x="39.3" y="165.15" text-anchor="end" textLength="9.3" lengthAdjust="spacingAndGlyphs">0.3</text>
<line x1="40.7" y1="187.4" x2="43" y2="187.4" stroke="#000" stroke-width="0.62"/>
<text x="39.3" y="189.85" text-anchor="end" textLength="9.3" lengthAdjust="spacingAndGlyphs">0.2</text>
<line x1="131.5" y1="207.5" x2="131.5" y2="209.8" stroke="#000" stroke-width="0.62"/>
<line x1="220.17" y1="207.5" x2="220.17" y2="209.8" stroke="#000" stroke-width="0.62"/>
<line x1="308.84" y1="207.5" x2="308.84" y2="209.8" stroke="#000" stroke-width="0.62"/>
<line x1="397.51" y1="207.5" x2="397.51" y2="209.8" stroke="#000" stroke-width="0.62"/>
<text transform="translate(19.3 175.75) rotate(-90)" text-anchor="middle" textLength="22.59" lengthAdjust="spacingAndGlyphs">SAS162</text>
<text transform="translate(26.3 173.55) rotate(-90)" text-anchor="middle" textLength="29.5" lengthAdjust="spacingAndGlyphs">Δ O<tspan font-size="4.1" dy="1.2">3</tspan><tspan dy="-1.2"> [DU]</tspan></text>
<clipPath id="c3"><rect x="43" y="210.25" width="444.35" height="65.5"/></clipPath>
<g clip-path="url(#c3)" fill="none" stroke-linejoin="round">
<path d="M43 252.1l.8 2.9 .8 0 .8 .5 .8-.2 .8-.9 .8-2.2 .8 0 .8 2.1 .8-.9 .8-3.6 .8-2.5 .8-2.3 .8-2.7 .8-.4 .8-2.4 .8-1.8 .8-.9 .8 2.4 .8 .2 .8-.1 .8-1.6 .8 .5 .8 .6 .8 1.2 .8 2.7 .8 1.3 .8-.5 .8-.8 .8 1.3 .8 .7 .8-.6 .8-.3 .8-.6 .8-1.1 .8 .9 .8 .7 .8-1.8 .8 .3 .8 .3 .8-1.5 .8-.1 .8-.7 .8 .2 .8-.2 .8 .3 .8 .6 .8 .3 .8-.6 .8-.8 .8 2.5 .8-.8 .8-1.2 .8 .3 .8 .5 .8-1 .8-.2 .8 .1 .8 .2 .8-.9 .8 .3 .8-.2 .8-.4 .8 .4 .8-1.3 .8-1.3 .8 .8 .8 0 .8-.3 .8 .7 .8 1.2 .8-1.5 .8-.8 .8-.3 .8 .6 .8-1.1 .8-1.4 .8-.2 .8 1.4 .8 0 .8-1.9 .8 .4 .8 1.6 .8 0 .8-1.6 .8 .8 .8 1.4 .8-.3 .8 .3 .8 .5 .8 .3 .8 1.8 .8 .7 .8-.5 .8 1.6 .8 1.5 .8 .2 .8 .4 .8-.2 .8 1.1 .8-.2 .8 1.5 .8-1 .8-.7 .8 .3 .8 .7 .8 .4 .8 .3 .8 .9 .8 1.5 .8 .5 .8-.2 .8 .8 .8-1.2 .8-.3 .8 .9 .8 1.3 .8-1.1 .8 .7 .8 3 .8 1.3 .8-.8 .8-2.1 .8 .8 .8 1 .8-.9 .8-1.4 .8 .2 .8-.7 .8 1 .8 2.9 .8-1 .8-2.5 .8-.1 .8 1.5 .8 0 .8 .4 .8-.6 .8 .1 .8 .2 .8-1.3 .8-1.1 .8 .5 .8 .8 .8 .5 .8 .2 .8 .1 .8 0 .8-.5 .8 1.7 .8 .7 .8-1.5 .8-.4 .8 .6 .8-.4 .8-.7 .8-.5 .8-.5 .8 .4 .8 2.2 .8 .9 .8-1 .8 .8 .8 .8 .8-.3 .8-.3 .8-.3 .8-.9 .8 1 .8 .9 .8 1.4 .8-1.1 .8-1.8 .8 0 .8 1.2 .8-.5 .8-1.9 .8-1.6 .8-1.5 .8 .1 .8-.5 .8-.5 .8 0 .8-3.1 .8-.3 .8 0 .8-.5 .8-.8 .8-3.1 .8-.9 .8 .3 .8-.4 .8-.9 .8-.1 .8 .9 .8-1.1 .8 .6 .8 2.4 .8 .9 .8-.9 .8-1.5 .8-.1 .8 .3 .8 .4 .8 1.6 .8 1.8 .8-.3 .8-.9 .8-.1 .8 .6 .8 1.3 .8-1.3 .8 .9 .8-.5 .8 0 .8 .7 .8 2 .8 .9 .8 1.3 .8-2.5 .8-.6 .8 1.5 .8 .1 .8-2.2 .8-2.2 .8 .5 .8-1.9 .8-3.1 .8-3.5 .8-4.7 .8-5.1 .8-.9 .8 .7 .8 1.2 .8-.5 .8 .6 .8 1.5 .8-.4 .8-2.7 .8-3.4 .8-1.3 .8-.2 .8 2.5 .8 3.3 .8 .9 .8 .2 .8 1.2 .8 1.5 .8-.3 .8 .1 .8 1.1 .8 1 .8 1.5 .8-.2 .8 1.8 .8-.5 .8 .8 .8 1.1 .8 .5 .8 .3 .8-1.2 .8-.5 .8 1.6 .8 .1 .8 1.6 .8 1.9 .8-.2 .8-.4 .8 0 .8 1 .8 .3 .8-.4 .8 1.1 .8 0 .8 .8 .8 .4 .8 1.3 .8 .3 .8-.7 .8 0 .8 1 .8 1.1 .8-.2 .8-.7 .8 .3 .8 .3 .8-1.9 .8 .6 .8 .1 .8 1 .8-1 .8-.6 .8-.5 .8 .8 .8 1.2 .8 0 .8-2.4 .8 1 .8 3.2 .8-2 .8-1.8 .8-1.1 .8-1.7 .8 2.2 .8-1.1 .8-1.9 .8 .5 .8-1.7 .8-.9 .8 1.2 .8 .7 .8 .5 .8 1.1 .8 .4 .8 1.3 .8 2.7 .8 .8 .8-.7 .8-.5 .8-.7 .8-.2 .8 .1 .8 1.6 .8-1.1 .8 .1 .8-.5 .8-.4 .8 1.9 .8-1.1 .8-.5 .8 1 .8 .4 .8 1.3 .8 1.1 .8 2.2 .8 1 .8 .6 .8 3 .8 .8 .8 .2 .8 2.1 .8 1.8 .8 1.1 .8-1.2 .8 .6 .8 0 .8 .2 .8-.4 .8 .2 .8 .1 .8-1.6 .8-.6 .8 1.5 .8 .5 .8 .6 .8 .5 .8-.2 .8 .8 .8-.6 .8 0 .8 .8 .8-.2 .8-.5 .8-.3 .8-.6 .8 .1 .8 1 .8 .6 .8-.5 .8 1.2 .8 1.6 .8 0 .8-1.5 .8 .3 .8 0 .8 .2 .8 .2 .8 .1 .8 .3 .8-.3 .8-.1 .8 .8 .8 1 .8 .8 .8-.1 .8 .6 .8 .3 .8-1.5 .8 .2 .8 1.3 .8-.6 .8-.5 .8 1.9 .8-.8 .8-.2 .8 2.2 .8-2.3 .8 .2 .8 .2 .8 1 .8 .5 .8-1.2 .8 .4 .8-.1 .8-.2 .8 2.1 .8-.5 .8-1.3 .8-.8 .8 .3 .8 .3 .8-.2 .8 0 .8-4.5 .8-.7 .8 1.7 .8-.8 .8 1.1 .8 .3 .8 1.1 .8 .6 .8 .9 .8 0 .8 0 .8-.5 .8 .3 .8-.9 .8-1.9 .8-1.1 .8 .7 .8 1.2 .8-1.8 .8 2.1 .8 1 .8 1.9 .8 0 .8-.6 .8 .1 .8-1.2 .8 2.8 .8 .4 .8-1.9 .8 1.8 .8-.4 .8-1.4 .8-1.8 .8 1.3 .8-.1 .8-2 .8-1.4 .8 1.6 .8 .6 .8-.9 .8-.2 .8-1.4 .8 .6 .8 .9 .8 1.4 .8 2.8 .8-2.1 .8-1.5 .8 .8 .8-1.2 .8 1.3 .8 .6 .8-1.4 .8-.6 .8-.3 .8 .8 .8 .5 .8 2.4 .8-.8 .8-2.2 .8-.4 .8 3.7 .8 .2 .8-1.5 .8-.8 .8-.4 .8 .2 .8 2.3 .8-1.8 .8-2.4 .8-.4 .8-.5 .8 3.7 .8 2.3 .8 1.8 .8-.2 .8-3 .8 .8 .8 1.3 .8-.5 .8-1.2 .8 1 .8 .4 .8 .2 .8-1.8 .8-1.4 .8-.7 .8-.6 .8-.7 .8 .2 .8 .8 .8 .2 .8 .5 .8-.7 .8-2 .8-2.4 .8 1.3 .8 0 .8-3.6 .8-1.4 .8-.3 .8-.4 .8 .1 .8-.4 .8 .3 .8-1.4 .8 .3 .8-.5 .8-.1 .8 1.8 .8-.5 .8-.3 .8-.7 .8 .8 .8-.1 .8-2 .8-1.5 .8 2.6 .8 .7 .8-.8 .8-.3 .8-.1 .8-.6 .8-1.1 .8 .8 .8 .5 .8-1.3 .8 .4 .8 3 .8-.9 .8-1.9 .8-1.6 .8-2.4 .8 1.1 .8 2.8 .8 1.1 .8-3.2 .8 1.5 .8 3.5 .8-.6 .8-.6 .8 .4 .8-1.4" stroke="#262626" stroke-width="0.9"/>
<path d="M51.4 243.78L53.8 246.18M51.4 246.18L53.8 243.78" stroke="#262626" stroke-width="0.55"/><path d="M66.2 243.21L68.6 245.61M66.2 245.61L68.6 243.21" stroke="#262626" stroke-width="0.55"/><path d="M81 238.84L83.4 241.24M81 241.24L83.4 238.84" stroke="#262626" stroke-width="0.55"/><path d="M95.8 236.45L98.2 238.85M95.8 238.85L98.2 236.45" stroke="#262626" stroke-width="0.55"/><path d="M110.6 235.62L113 238.02M110.6 238.02L113 235.62" stroke="#262626" stroke-width="0.55"/><path d="M125.4 243.27L127.8 245.67M125.4 245.67L127.8 243.27" stroke="#262626" stroke-width="0.55"/><path d="M140.2 250.33L142.6 252.73M140.2 252.73L142.6 250.33" stroke="#262626" stroke-width="0.55"/><path d="M155 248.28L157.4 250.68M155 250.68L157.4 248.28" stroke="#262626" stroke-width="0.55"/><path d="M169.8 252.13L172.2 254.53M169.8 254.53L172.2 252.13" stroke="#262626" stroke-width="0.55"/><path d="M184.6 247.07L187 249.47M184.6 249.47L187 247.07" stroke="#262626" stroke-width="0.55"/><path d="M199.4 239.05L201.8 241.45M199.4 241.45L201.8 239.05" stroke="#262626" stroke-width="0.55"/><path d="M214.2 243.01L216.6 245.41M214.2 245.41L216.6 243.01" stroke="#262626" stroke-width="0.55"/><path d="M229 222.98L231.4 225.38M229 225.38L231.4 222.98" stroke="#262626" stroke-width="0.55"/><path d="M243.8 230L246.2 232.4M243.8 232.4L246.2 230" stroke="#262626" stroke-width="0.55"/><path d="M258.6 237.69L261 240.09M258.6 240.09L261 237.69" stroke="#262626" stroke-width="0.55"/><path d="M273.4 242.01L275.8 244.41M273.4 244.41L275.8 242.01" stroke="#262626" stroke-width="0.55"/><path d="M288.2 234.69L290.6 237.09M288.2 237.09L290.6 234.69" stroke="#262626" stroke-width="0.55"/><path d="M303 242.07L305.4 244.47M303 244.47L305.4 242.07" stroke="#262626" stroke-width="0.55"/><path d="M317.8 257.42L320.2 259.82M317.8 259.82L320.2 257.42" stroke="#262626" stroke-width="0.55"/><path d="M332.6 257.92L335 260.32M332.6 260.32L335 257.92" stroke="#262626" stroke-width="0.55"/><path d="M347.4 262.58L349.8 264.98M347.4 264.98L349.8 262.58" stroke="#262626" stroke-width="0.55"/><path d="M362.2 265.17L364.6 267.57M362.2 267.57L364.6 265.17" stroke="#262626" stroke-width="0.55"/><path d="M377 262.78L379.4 265.18M377 265.18L379.4 262.78" stroke="#262626" stroke-width="0.55"/><path d="M391.8 264.2L394.2 266.6M391.8 266.6L394.2 264.2" stroke="#262626" stroke-width="0.55"/><path d="M406.6 262.11L409 264.51M406.6 264.51L409 262.11" stroke="#262626" stroke-width="0.55"/><path d="M421.4 266.04L423.8 268.44M421.4 268.44L423.8 266.04" stroke="#262626" stroke-width="0.55"/><path d="M436.2 265.81L438.6 268.21M436.2 268.21L438.6 265.81" stroke="#262626" stroke-width="0.55"/><path d="M451 255.83L453.4 258.23M451 258.23L453.4 255.83" stroke="#262626" stroke-width="0.55"/><path d="M465.8 252.82L468.2 255.22M465.8 255.22L468.2 252.82" stroke="#262626" stroke-width="0.55"/><path d="M480.6 250.59L483 252.99M480.6 252.99L483 250.59" stroke="#262626" stroke-width="0.55"/>
<path d="M43 251l1.5 .1 1.5 .1 1.5 0 1.5 .1 1.5 .1 1.5 0 1.5 .1 1.5 0 1.5 0 1.5 .1 1.5 0 1.5 0 1.5 0 1.5 .1 1.5 0 1.5 .1 1.5 .1 1.5 .4 1.5 .5 1.5 .5 1.5 .6 1.5 .5 1.5 .4 1.5 .2 1.5 0 1.5-.1 1.5-.1 1.5-.2 1.5-.2 1.5-.2 1.5-.2 1.5-.3 1.5-.3 1.5-.4 1.5-.6 1.5-.7 1.5-.8 1.5-.8 1.5-.8 1.5-.8 1.5-.7 1.5-.9 1.5-.9 1.5-1 1.5-.8 1.5-.7 1.5-.4 1.5-.1 1.5 0 1.5 .1 1.5 .1 1.5 .1 1.5 .2 1.5 .2 1.5 .1 1.5 .2 1.5 .2 1.5 .4 1.5 .4 1.5 .5 1.5 .4 1.5 .4 1.5 .3 1.5 .1 1.5 0 1.5 0 1.5-.1 1.5 0 1.5-.1 1.5-.2 1.5-.1 1.5-.1 1.5-.1 1.5-.2 1.5-.3 1.5-.2 1.5-.3 1.5-.3 1.5-.2 1.5-.2 1.5 0 1.5 0 1.5 0 1.5 .1 1.5 .2 1.5 .1 1.5 .2 1.5 .1 1.5 .1 1.5 .2 1.5 .1 1.5 .2 1.5 .1 1.5 .2 1.5 .1 1.5 0 1.5 0 1.5-.2 1.5-.2 1.5-.3 1.5-.3 1.5-.3 1.5-.3 1.5-.3 1.5-.2 1.5-.2 1.5-.2 1.5-.2 1.5-.1 1.5-.1 1.5-.1 1.5 0 1.5 .1 1.5 .2 1.5 .3 1.5 .2 1.5 .4 1.5 .3 1.5 .3 1.5 .3 1.5 .3 1.5 .3 1.5 .3 1.5 .3 1.5 .3 1.5 .3 1.5 .3 1.5 .2 1.5 .1 1.5 0 1.5 0 1.5-.1 1.5 0 1.5-.1 1.5 0 1.5-.1 1.5-.1 1.5-.1 1.5-.2 1.5-.2 1.5-.3 1.5-.3 1.5-.3 1.5-.2 1.5 0 1.5 0 1.5 0 1.5 0 1.5 0 1.5 0 1.5 0 1.5 0 1.5 0 1.5 0 1.5 .2 1.5 .2 1.5 .2 1.5 .2 1.5 .2 1.5 .2 1.5 0 1.5 0 1.5-.1 1.5-.2 1.5-.2 1.5-.3 1.5-.3 1.5-.3 1.5-.2 1.5-.3 1.5-.2 1.5-.3 1.5-.3 1.5-.3 1.5-.3 1.5-.2 1.5-.1 1.5-.1 1.5 0 1.5 .2 1.5 .2 1.5 .2 1.5 .3 1.5 .3 1.5 .4 1.5 .3 1.5 .4 1.5 .3 1.5 .3 1.5 .3 1.5 .2 1.5 .2 1.5 .1 1.5 0 1.5 0 1.5 0 1.5 0 1.5-.1 1.5 0 1.5-.1 1.5-.1 1.5-.1 1.5 0 1.5-.1 1.5-.1 1.5-.1" stroke="#1f77b4" stroke-width="1.15"/>
<path d="M353.5 245.9l1.5-.1 1.5-.1 1.5-.1 1.5-.1 1.5-.2 1.5-.1 1.5-.1 1.5-.2 1.5-.1 1.5-.1 1.5-.2 1.5-.1 1.5 0 1.5-.1 1.5 0 1.5-.1 1.5 0 1.5 0 1.5 0 1.5 0 1.5 0 1.5 0 1.5 0 1.5 0 1.5 0 1.5 0 1.5 0 1.5 0 1.5 0 1.5 0 1.5 0 1.5 .1 1.5 0 1.5 0 1.5 .1 1.5 .1 1.5 .1 1.5 .1 1.5 .2 1.5 .1 1.5 .1 1.5 .2 1.5 .1 1.5 .2 1.5 .1 1.5 .1 1.5 .1 1.5 .1 1.5 0 1.5 .1 1.5 .1 1.5 0 1.5 .1 1.5 .1 1.5 0 1.5 .1 1.5 0 1.5 .1 1.5 0 1.5 .1 1.5 0 1.5 0 1.5 0 1.5 0 1.5 0 1.5 0 1.5-.1 1.5-.1 1.5-.1 1.5-.1 1.5-.2 1.5-.1 1.5-.2 1.5-.1 1.5-.2 1.5-.1 1.5-.1 1.5-.2 1.5 0 1.5-.1 1.5 0 1.5 0 1.5 0 1.5 .1 1.5 0 1.5 .1 1.5 .1 1.5 .1 1.5 .1" stroke="#1f77b4" stroke-width="1.15" stroke-dasharray="3.6 1.2"/>
<circle cx="42.83" cy="251.01" r="2.2" fill="#1f77b4"/><circle cx="67.11" cy="251.75" r="2.2" fill="#1f77b4"/><circle cx="91.38" cy="253.62" r="2.2" fill="#1f77b4"/><circle cx="115.66" cy="243.01" r="2.2" fill="#1f77b4"/><circle cx="139.94" cy="246.75" r="2.2" fill="#1f77b4"/><circle cx="164.21" cy="244.26" r="2.2" fill="#1f77b4"/><circle cx="188.49" cy="245.97" r="2.2" fill="#1f77b4"/><circle cx="212.77" cy="243.16" r="2.2" fill="#1f77b4"/><circle cx="237.04" cy="247.49" r="2.2" fill="#1f77b4"/><circle cx="261.32" cy="245.5" r="2.2" fill="#1f77b4"/><circle cx="285.6" cy="246.74" r="2.2" fill="#1f77b4"/><circle cx="309.87" cy="243" r="2.2" fill="#1f77b4"/><circle cx="334.15" cy="246.75" r="2.2" fill="#1f77b4"/><circle cx="353.1" cy="245.97" r="2.2" fill="#1f77b4"/><circle cx="377.38" cy="244.25" r="2.2" fill="#1f77b4"/><circle cx="401.65" cy="244.25" r="2.2" fill="#1f77b4"/><circle cx="425.93" cy="246" r="2.2" fill="#1f77b4"/><circle cx="450.21" cy="246.75" r="2.2" fill="#1f77b4"/><circle cx="474.48" cy="245" r="2.2" fill="#1f77b4"/>
<path d="M43 250.3l1.5-1.2 1.5-1.1 1.5-1 1.5-1 1.5-.9 1.5-.9 1.5-.8 1.5-.6 1.5-.6 1.5-.5 1.5-.6 1.5-.5 1.5-.4 1.5-.4 1.5-.4 1.5-.2 1.5-.2 1.5 0 1.5 .2 1.5 .4 1.5 .5 1.5 .5 1.5 .5 1.5 .5 1.5 .3 1.5 .1 1.5-.1 1.5-.1 1.5-.3 1.5-.4 1.5-.4 1.5-.4 1.5-.5 1.5-.4 1.5-.5 1.5-.4 1.5-.4 1.5-.6 1.5-.5 1.5-.6 1.5-.5 1.5-.4 1.5-.3 1.5-.2 1.5 .1 1.5 .4 1.5 .7 1.5 1 1.5 1.1 1.5 1.2 1.5 1.2 1.5 1.2 1.5 1 1.5 .9 1.5 .6 1.5 .7 1.5 .6 1.5 .5 1.5 .6 1.5 .5 1.5 .5 1.5 .4 1.5 .4 1.5 .3 1.5 .3 1.5 .2 1.5 .1 1.5 .2 1.5 .1 1.5 .2 1.5 .2 1.5 .2 1.5 .2 1.5 .3 1.5 .3 1.5 .4 1.5 .4 1.5 .5 1.5 .4 1.5 .3 1.5 .4 1.5 .3 1.5 .2 1.5 .1 1.5 .2 1.5 .1 1.5-.1 1.5-.6 1.5-1 1.5-1.2 1.5-1.5 1.5-1.5 1.5-1.5 1.5-1.3 1.5-1.2 1.5-1.2 1.5-1.2 1.5-1.3 1.5-1.3 1.5-1.1 1.5-.9 1.5-.6 1.5-.2 1.5-.1 1.5 0 1.5-.1 1.5 0 1.5 0 1.5 0 1.5-.1 1.5 0 1.5 0 1.5-.1 1.5 0 1.5-.1 1.5 0 1.5-.1 1.5-.1 1.5 0 1.5-.1 1.5-.3 1.5-.3 1.5-.4 1.5-.5 1.5-.5 1.5-.4 1.5-.3 1.5-.2 1.5-.1 1.5 0 1.5 .2 1.5 .1 1.5 .2 1.5 .3 1.5 .3 1.5 .3 1.5 .4 1.5 .4 1.5 .4 1.5 .6 1.5 .8 1.5 1.1 1.5 1.1 1.5 1.1 1.5 1.1 1.5 .8 1.5 .6 1.5 .2 1.5-.1 1.5-.2 1.5-.4 1.5-.4 1.5-.5 1.5-.4 1.5-.5 1.5-.4 1.5-.3 1.5-.4 1.5-.4 1.5-.3 1.5-.2 1.5 0 1.5 .1 1.5 .2 1.5 .3 1.5 .2 1.5 .4 1.5 .3 1.5 .4 1.5 .6 1.5 .8 1.5 .9 1.5 .9 1.5 1 1.5 1 1.5 1.1 1.5 1 1.5 .9 1.5 .9 1.5 .7 1.5 .8 1.5 .7 1.5 .7 1.5 .7 1.5 .6 1.5 .7 1.5 .6 1.5 .5 1.5 .6 1.5 .4 1.5 .5 1.5 .4 1.5 .4 1.5 .5 1.5 .4 1.5 .4 1.5 .5 1.5 .3 1.5 .4 1.5 .3 1.5 .3 1.5 .3 1.5 .2 1.5 .2 1.5 .1 1.5 0" stroke="#ff7f0e" stroke-width="1.15"/>
<path d="M353.5 261.7l1.5-.3 1.5-.5 1.5-.7 1.5-.8 1.5-.9 1.5-1 1.5-1 1.5-1 1.5-1 1.5-.9 1.5-1.2 1.5-1.3 1.5-1.5 1.5-1.3 1.5-1.2 1.5-.9 1.5-.6 1.5-.1 1.5 0 1.5 0 1.5 0 1.5 0 1.5 0 1.5 0 1.5 0 1.5 0 1.5 0 1.5 0 1.5 0 1.5 0 1.5 0 1.5 0 1.5 0 1.5 0 1.5 0 1.5 .1 1.5 .1 1.5 .1 1.5 .2 1.5 .2 1.5 .2 1.5 .2 1.5 .3 1.5 .2 1.5 .3 1.5 .2 1.5 .2 1.5 .2 1.5 .2 1.5 .1 1.5 .1 1.5 .1 1.5 0 1.5-.1 1.5-.2 1.5-.3 1.5-.4 1.5-.4 1.5-.5 1.5-.6 1.5-.5 1.5-.5 1.5-.6 1.5-.5 1.5-.4 1.5-.4 1.5-.3 1.5-.2 1.5-.1 1.5 0 1.5 0 1.5 0 1.5 0 1.5 0 1.5 0 1.5 .1 1.5 0 1.5 0 1.5 0 1.5 .1 1.5 0 1.5 0 1.5 .1 1.5 0 1.5 .1 1.5 0 1.5 .1 1.5 .2 1.5 .3" stroke="#ff7f0e" stroke-width="1.15" stroke-dasharray="3.6 1.2"/>
<path d="M40.23 250.4L44.39 247.93L44.39 252.87Z" fill="#ff7f0e"/><path d="M66.21 239.01L70.37 236.54L70.37 241.48Z" fill="#ff7f0e"/><path d="M92.18 239.12L96.34 236.65L96.34 241.59Z" fill="#ff7f0e"/><path d="M118.16 241.7L122.32 239.23L122.32 244.17Z" fill="#ff7f0e"/><path d="M144.13 249.87L148.29 247.4L148.29 252.34Z" fill="#ff7f0e"/><path d="M170.11 254.49L174.27 252.02L174.27 256.96Z" fill="#ff7f0e"/><path d="M196.09 236.71L200.25 234.24L200.25 239.18Z" fill="#ff7f0e"/><path d="M222.06 235.7L226.22 233.23L226.22 238.17Z" fill="#ff7f0e"/><path d="M248.04 235.34L252.2 232.87L252.2 237.81Z" fill="#ff7f0e"/><path d="M274.01 240.21L278.17 237.74L278.17 242.68Z" fill="#ff7f0e"/><path d="M299.99 243.66L304.15 241.19L304.15 246.13Z" fill="#ff7f0e"/><path d="M325.96 256.7L330.12 254.23L330.12 259.17Z" fill="#ff7f0e"/><path d="M350.5 261.73L354.66 259.26L354.66 264.2Z" fill="#ff7f0e"/><path d="M376.48 245.6L380.64 243.13L380.64 248.07Z" fill="#ff7f0e"/><path d="M402.45 245.5L406.61 243.03L406.61 247.97Z" fill="#ff7f0e"/><path d="M428.43 248.48L432.59 246.01L432.59 250.95Z" fill="#ff7f0e"/><path d="M454.4 242.51L458.56 240.04L458.56 244.98Z" fill="#ff7f0e"/><path d="M480.38 242.97L484.54 240.5L484.54 245.44Z" fill="#ff7f0e"/>
<path d="M43 249l1.5-1.3 1.5-1.2 1.5-1.1 1.5-1 1.5-1 1.5-.9 1.5-.7 1.5-.7 1.5-.5 1.5-.3 1.5-.4 1.5-.3 1.5-.4 1.5-.2 1.5-.2 1.5-.2 1.5-.1 1.5 0 1.5 .2 1.5 .4 1.5 .5 1.5 .6 1.5 .6 1.5 .5 1.5 .3 1.5 .2 1.5-.1 1.5-.3 1.5-.3 1.5-.5 1.5-.5 1.5-.5 1.5-.6 1.5-.5 1.5-.6 1.5-.4 1.5-.4 1.5-.5 1.5-.6 1.5-.5 1.5-.4 1.5-.4 1.5-.3 1.5-.1 1.5 0 1.5 .5 1.5 .7 1.5 .9 1.5 1 1.5 1.2 1.5 1.2 1.5 1.1 1.5 1 1.5 .9 1.5 .6 1.5 .7 1.5 .6 1.5 .6 1.5 .5 1.5 .6 1.5 .4 1.5 .5 1.5 .3 1.5 .3 1.5 .2 1.5 .2 1.5 .2 1.5 .1 1.5 .1 1.5 .1 1.5 .1 1.5 .2 1.5 .2 1.5 .4 1.5 .4 1.5 .6 1.5 .6 1.5 .6 1.5 .6 1.5 .6 1.5 .5 1.5 .4 1.5 .3 1.5 .3 1.5 .3 1.5 .1 1.5-.1 1.5-.6 1.5-1 1.5-1.3 1.5-1.4 1.5-1.5 1.5-1.5 1.5-1.3 1.5-1.2 1.5-1.1 1.5-1.1 1.5-1.2 1.5-1.2 1.5-1 1.5-.9 1.5-.7 1.5-.4 1.5-.3 1.5-.2 1.5-.3 1.5-.1 1.5-.2 1.5-.1 1.5-.2 1.5-.1 1.5-.1 1.5 0 1.5-.1 1.5 0 1.5-.1 1.5 0 1.5-.1 1.5 0 1.5-.1 1.5-.3 1.5-.4 1.5-.6 1.5-.5 1.5-.6 1.5-.6 1.5-.4 1.5-.3 1.5 0 1.5 0 1.5 .3 1.5 .3 1.5 .3 1.5 .5 1.5 .4 1.5 .5 1.5 .5 1.5 .6 1.5 .7 1.5 .8 1.5 .8 1.5 .8 1.5 .9 1.5 .8 1.5 .8 1.5 .9 1.5 .9 1.5 .4 1.5 0 1.5-.1 1.5-.1 1.5-.1 1.5-.2 1.5-.2 1.5-.2 1.5-.3 1.5-.3 1.5-.6 1.5-.7 1.5-.6 1.5-.3 1.5-.1 1.5 0 1.5 0 1.5 0 1.5 0 1.5 0 1.5 0 1.5 .3 1.5 .5 1.5 .9 1.5 1.1 1.5 1.3 1.5 1.4 1.5 1.5 1.5 1.4 1.5 1.4 1.5 1.2 1.5 1 1.5 .8 1.5 .7 1.5 .6 1.5 .7 1.5 .6 1.5 .5 1.5 .6 1.5 .5 1.5 .5 1.5 .4 1.5 .4 1.5 .4 1.5 .3 1.5 .4 1.5 .3 1.5 .4 1.5 .3 1.5 .4 1.5 .2 1.5 .3 1.5 .2 1.5 .2 1.5 .1 1.5 0 1.5-.2 1.5-.6 1.5-.8" stroke="#2ca02c" stroke-width="1.15"/>
<path d="M353.5 258.7l1.5-.8 1.5-.8 1.5-1 1.5-1 1.5-1.1 1.5-1 1.5-1.1 1.5-1.2 1.5-1.3 1.5-1.3 1.5-1.3 1.5-1.3 1.5-1.2 1.5-1 1.5-.9 1.5-1 1.5-.7 1.5-.3 1.5-.1 1.5-.1 1.5-.2 1.5-.1 1.5-.1 1.5-.1 1.5 0 1.5-.1 1.5-.1 1.5 0 1.5-.1 1.5 0 1.5-.1 1.5 0 1.5 0 1.5 0 1.5 0 1.5-.1 1.5 .1 1.5 .2 1.5 .3 1.5 .4 1.5 .4 1.5 .5 1.5 .6 1.5 .6 1.5 .6 1.5 .6 1.5 .6 1.5 .6 1.5 .5 1.5 .5 1.5 .4 1.5 .3 1.5 .2 1.5 .1 1.5 0 1.5 0 1.5-.2 1.5-.2 1.5-.2 1.5-.2 1.5-.3 1.5-.3 1.5-.4 1.5-.3 1.5-.3 1.5-.4 1.5-.3 1.5-.3 1.5-.2 1.5-.2 1.5-.2 1.5-.1 1.5-.1 1.5 0 1.5 .1 1.5 .1 1.5 .2 1.5 .2 1.5 .3 1.5 .3 1.5 .4 1.5 .4 1.5 .4 1.5 .5 1.5 .6 1.5 .5 1.5 .6 1.5 .6 1.5 .7" stroke="#2ca02c" stroke-width="1.15" stroke-dasharray="3.6 1.2"/>
<path d="M42.83 251.74L45.3 247.58L40.36 247.58Z" fill="#2ca02c"/><path d="M70.51 241.16L72.98 237L68.04 237Z" fill="#2ca02c"/><path d="M98.18 239.76L100.65 235.6L95.71 235.6Z" fill="#2ca02c"/><path d="M125.86 246.17L128.33 242.01L123.39 242.01Z" fill="#2ca02c"/><path d="M153.53 252.16L156 248L151.06 248Z" fill="#2ca02c"/><path d="M181.21 251.47L183.68 247.31L178.74 247.31Z" fill="#2ca02c"/><path d="M208.88 238.67L211.35 234.51L206.41 234.51Z" fill="#2ca02c"/><path d="M236.56 234.35L239.03 230.19L234.09 230.19Z" fill="#2ca02c"/><path d="M264.23 245.49L266.7 241.33L261.76 241.33Z" fill="#2ca02c"/><path d="M291.91 241.85L294.38 237.69L289.44 237.69Z" fill="#2ca02c"/><path d="M319.58 257.39L322.05 253.23L317.11 253.23Z" fill="#2ca02c"/><path d="M347.26 263.6L349.73 259.44L344.79 259.44Z" fill="#2ca02c"/><path d="M353.1 261.51L355.57 257.35L350.63 257.35Z" fill="#2ca02c"/><path d="M380.78 243.02L383.25 238.86L378.31 238.86Z" fill="#2ca02c"/><path d="M408.45 241.88L410.92 237.72L405.98 237.72Z" fill="#2ca02c"/><path d="M436.13 249.33L438.6 245.17L433.66 245.17Z" fill="#2ca02c"/><path d="M463.8 245.1L466.27 240.94L461.33 240.94Z" fill="#2ca02c"/>
<path d="M43 245l1.5 .1 1.5 .1 1.5 0 1.5 .1 1.5 0 1.5 0 1.5 .1 1.5 0 1.5 0 1.5 0 1.5 .1 1.5 0 1.5 0 1.5 0 1.5 0 1.5 0 1.5 0 1.5 0 1.5 0 1.5 0 1.5-.1 1.5-.2 1.5-.3 1.5-.3 1.5-.4 1.5-.3 1.5-.4 1.5-.4 1.5-.4 1.5-.3 1.5-.3 1.5-.3 1.5-.2 1.5-.2 1.5-.2 1.5-.3 1.5-.1 1.5-.2 1.5-.2 1.5-.1 1.5-.2 1.5-.2 1.5-.1 1.5-.1 1.5-.2 1.5-.1 1.5-.1 1.5 0 1.5 0 1.5 0 1.5 .3 1.5 .6 1.5 .6 1.5 .7 1.5 .6 1.5 .5 1.5 .3 1.5 .1 1.5 0 1.5-.1 1.5-.1 1.5-.1 1.5-.1 1.5-.1 1.5-.1 1.5-.1 1.5-.2 1.5-.1 1.5-.1 1.5-.2 1.5-.2 1.5-.2 1.5-.1 1.5-.2 1.5-.2 1.5-.1 1.5-.1 1.5-.1 1.5-.1 1.5 0 1.5-.1 1.5 0 1.5-.1 1.5 0 1.5-.1 1.5 0 1.5 0 1.5-.1 1.5-.1 1.5-.1 1.5 0 1.5-.1 1.5-.1 1.5-.1 1.5-.1 1.5-.1 1.5 0 1.5-.1 1.5 .1 1.5 0 1.5 0 1.5 0 1.5 0 1.5 .1 1.5 0 1.5 0 1.5 .1 1.5 0 1.5 .1 1.5 0 1.5 .1 1.5 0 1.5 .1 1.5 .1 1.5 0 1.5 0 1.5 .1 1.5 0 1.5 .1 1.5 0 1.5 0 1.5 .1 1.5 0 1.5 .1 1.5 0 1.5 .1 1.5 0 1.5 .1 1.5 .1 1.5 .3 1.5 .3 1.5 .3 1.5 .4 1.5 .4 1.5 .3 1.5 .3 1.5 .3 1.5 .2 1.5 .3 1.5 .3 1.5 .3 1.5 .3 1.5 .2 1.5 .2 1.5 .2 1.5 .2 1.5 .1 1.5 0 1.5 0 1.5 0 1.5 0 1.5 0 1.5 0 1.5 0 1.5 0 1.5 0 1.5 0 1.5-.2 1.5-.2 1.5-.2 1.5-.3 1.5-.2 1.5-.2 1.5-.2 1.5 0 1.5 0 1.5 .1 1.5 0 1.5 .1 1.5 .1 1.5 .2 1.5 .1 1.5 .2 1.5 .2 1.5 .2 1.5 .2 1.5 .3 1.5 .6 1.5 .8 1.5 .9 1.5 1.1 1.5 1.1 1.5 1.1 1.5 1.1 1.5 .9 1.5 1 1.5 1.1 1.5 1.2 1.5 1.1 1.5 1.2 1.5 1 1.5 .9 1.5 .8 1.5 .6 1.5 .3 1.5 0 1.5 0 1.5 0 1.5 0 1.5-.1 1.5 0 1.5-.1 1.5 0 1.5-.1 1.5-.1 1.5 0" stroke="#d62728" stroke-width="1.15"/>
<path d="M353.5 261.9l1.5-.5 1.5-.9 1.5-.9 1.5-.9 1.5-.6 1.5-.1 1.5 0 1.5 .1 1.5 .1 1.5 .1 1.5 .2 1.5 .2 1.5 .2 1.5 .3 1.5 .4 1.5 .9 1.5 1.4 1.5 1.5 1.5 1.6 1.5 1.5 1.5 1.7 1.5 1.7 1.5 1.9 1.5 1.8 1.5 1.8 1.5 1.6 1.5 1.7 1.5 1.9 1.5 1.7 1.5 1.2 1.5 .5 1.5-.4 1.5-1 1.5-1.4 1.5-1.7 1.5-1.8 1.5-1.7 1.5-1.5 1.5-1.5 1.5-1.6 1.5-1.7 1.5-1.7 1.5-1.7 1.5-1.5 1.5-1.5 1.5-1.2 1.5-1.1 1.5-.7 1.5-.7 1.5-.7 1.5-.5 1.5-.3 1.5-.1 1.5 .5 1.5 1 1.5 1.3 1.5 1.3 1.5 1.3 1.5 1.6 1.5 1.8 1.5 2 1.5 2 1.5 2.1 1.5 2 1.5 1.9 1.5 2.3 1.5 2.3 1.5 2.4 1.5 2.2 1.5 1.9 1.5 1.4 1.5 .7 1.5 0 1.5-.2 1.5-.3 1.5-.4 1.5-.5 1.5-.7 1.5-.8 1.5-1 1.5-1.1 1.5-3.3 1.5-6 1.5-6.1 1.5-4.4 1.5-4.1 1.5-3.9 1.5-3.5 1.5-3.1" stroke="#d62728" stroke-width="1.15" stroke-dasharray="3.6 1.2"/>
<path d="M42.83 242.41L45.3 246.57L40.36 246.57Z" fill="#d62728"/><path d="M72.2 242.9L74.67 247.06L69.73 247.06Z" fill="#d62728"/><path d="M101.58 237.82L104.05 241.98L99.11 241.98Z" fill="#d62728"/><path d="M130.95 240.39L133.42 244.55L128.48 244.55Z" fill="#d62728"/><path d="M160.33 237.86L162.8 242.02L157.86 242.02Z" fill="#d62728"/><path d="M189.7 236.65L192.17 240.81L187.23 240.81Z" fill="#d62728"/><path d="M219.08 237.41L221.55 241.57L216.61 241.57Z" fill="#d62728"/><path d="M248.45 240.56L250.92 244.72L245.98 244.72Z" fill="#d62728"/><path d="M277.83 242.9L280.3 247.06L275.36 247.06Z" fill="#d62728"/><path d="M307.2 242.85L309.67 247.01L304.73 247.01Z" fill="#d62728"/><path d="M336.58 259.9L339.05 264.06L334.11 264.06Z" fill="#d62728"/><path d="M353.1 259.38L355.57 263.54L350.63 263.54Z" fill="#d62728"/><path d="M382.47 262.88L384.94 267.04L380 267.04Z" fill="#d62728"/><path d="M411.85 270.57L414.32 274.73L409.38 274.73Z" fill="#d62728"/><path d="M441.22 261.56L443.69 265.72L438.75 265.72Z" fill="#d62728"/><path d="M470.6 285.24L473.07 289.4L468.13 289.4Z" fill="#d62728"/>
<path d="M43 241.8l1.5 .3 1.5 .3 1.5 .3 1.5 .2 1.5 .3 1.5 .3 1.5 .2 1.5 .3 1.5 .3 1.5 .2 1.5 .3 1.5 .3 1.5 .3 1.5 .3 1.5 .3 1.5 .2 1.5 .2 1.5 .2 1.5 .1 1.5 0 1.5 0 1.5-.3 1.5-.3 1.5-.6 1.5-.5 1.5-.7 1.5-.7 1.5-.7 1.5-.6 1.5-.6 1.5-.6 1.5-.4 1.5-.5 1.5-.4 1.5-.5 1.5-.5 1.5-.4 1.5-.4 1.5-.3 1.5-.1 1.5-.1 1.5 0 1.5 .2 1.5 .2 1.5 .2 1.5 .3 1.5 .3 1.5 .3 1.5 .3 1.5 .3 1.5 .3 1.5 .3 1.5 .3 1.5 .3 1.5 .3 1.5 .3 1.5 .3 1.5 .3 1.5 .2 1.5 .2 1.5 .1 1.5 0 1.5-.1 1.5-.1 1.5-.1 1.5-.2 1.5-.3 1.5-.2 1.5-.2 1.5-.2 1.5-.1 1.5 0 1.5-.1 1.5-.1 1.5 0 1.5-.1 1.5 0 1.5-.1 1.5 0 1.5-.1 1.5 0 1.5 0 1.5 0 1.5 0 1.5 .1 1.5 .1 1.5 .1 1.5 0 1.5 .1 1.5 .1 1.5 0 1.5 0 1.5 0 1.5-.1 1.5 0 1.5-.1 1.5 0 1.5-.1 1.5-.1 1.5 0 1.5-.1 1.5 0 1.5 0 1.5 0 1.5 0 1.5 .1 1.5 0 1.5 .1 1.5 0 1.5 .1 1.5 .1 1.5 .1 1.5 0 1.5 .1 1.5 .1 1.5 .1 1.5 .1 1.5 .2 1.5 .1 1.5 .2 1.5 .1 1.5 .2 1.5 .2 1.5 .1 1.5 .2 1.5 .2 1.5 .3 1.5 .2 1.5 .2 1.5 .3 1.5 .3 1.5 .2 1.5 .2 1.5 .3 1.5 .2 1.5 .2 1.5 .2 1.5 .2 1.5 .3 1.5 .2 1.5 .2 1.5 .1 1.5 .2 1.5 0 1.5 0 1.5 0 1.5-.1 1.5-.1 1.5-.1 1.5-.1 1.5-.2 1.5-.1 1.5-.2 1.5-.2 1.5-.2 1.5-.2 1.5-.3 1.5-.3 1.5-.3 1.5-.4 1.5-.3 1.5-.2 1.5-.3 1.5-.1 1.5 0 1.5 .1 1.5 .3 1.5 .4 1.5 .4 1.5 .5 1.5 .6 1.5 .5 1.5 .5 1.5 .4 1.5 .4 1.5 .4 1.5 .3 1.5 .4 1.5 .4 1.5 .4 1.5 .3 1.5 .3 1.5 .3 1.5 .3 1.5 .1 1.5 .2 1.5 0 1.5 .1 1.5 .1 1.5 0 1.5 .1 1.5 .1 1.5 0 1.5 0 1.5 .1 1.5 0 1.5 0 1.5 0 1.5 0 1.5 0 1.5-.1 1.5 0 1.5-.1 1.5-.1 1.5-.1 1.5-.1" stroke="#9467bd" stroke-width="1.15"/>
<path d="M353.5 250.4l1.5-.2 1.5-.2 1.5-.3 1.5-.3 1.5-.3 1.5-.3 1.5-.3 1.5-.2 1.5-.2 1.5-.2 1.5-.2 1.5-.2 1.5-.1 1.5-.2 1.5-.1 1.5-.1 1.5-.1 1.5-.1 1.5 0 1.5 0 1.5 .1 1.5 .2 1.5 .2 1.5 .3 1.5 .3 1.5 .4 1.5 .4 1.5 .3 1.5 .4 1.5 .3 1.5 .3 1.5 .3 1.5 .3 1.5 .3 1.5 .4 1.5 .3 1.5 .3 1.5 .2 1.5 .2 1.5 .2 1.5 0 1.5 0 1.5-.2 1.5-.2 1.5-.2 1.5-.3 1.5-.3 1.5-.4 1.5-.3 1.5-.3 1.5-.3 1.5-.3 1.5-.3 1.5-.4 1.5-.4 1.5-.3 1.5-.4 1.5-.3 1.5-.3 1.5-.3 1.5-.2 1.5-.1 1.5-.1 1.5-.1 1.5-.1 1.5-.1 1.5-.1 1.5-.1 1.5 0 1.5-.1 1.5-.1 1.5 0 1.5-.1 1.5-.1 1.5 0 1.5-.1 1.5 0 1.5 0 1.5-.1 1.5 0 1.5 0 1.5 0 1.5 0 1.5 0 1.5 .1 1.5 .1 1.5 .1 1.5 .1 1.5 .1" stroke="#9467bd" stroke-width="1.15" stroke-dasharray="3.6 1.2"/>
<rect x="40.93" y="239.88" width="3.8" height="3.8" fill="#9467bd"/><rect x="72" y="244.83" width="3.8" height="3.8" fill="#9467bd"/><rect x="103.08" y="235.6" width="3.8" height="3.8" fill="#9467bd"/><rect x="134.15" y="240.6" width="3.8" height="3.8" fill="#9467bd"/><rect x="165.23" y="238.6" width="3.8" height="3.8" fill="#9467bd"/><rect x="196.3" y="238.6" width="3.8" height="3.8" fill="#9467bd"/><rect x="227.37" y="240.66" width="3.8" height="3.8" fill="#9467bd"/><rect x="258.45" y="244.85" width="3.8" height="3.8" fill="#9467bd"/><rect x="289.52" y="241.17" width="3.8" height="3.8" fill="#9467bd"/><rect x="320.6" y="248.6" width="3.8" height="3.8" fill="#9467bd"/><rect x="351.2" y="248.56" width="3.8" height="3.8" fill="#9467bd"/><rect x="382.27" y="244.91" width="3.8" height="3.8" fill="#9467bd"/><rect x="413.35" y="250.6" width="3.8" height="3.8" fill="#9467bd"/><rect x="444.42" y="244.83" width="3.8" height="3.8" fill="#9467bd"/><rect x="475.5" y="243.6" width="3.8" height="3.8" fill="#9467bd"/>
<path d="M43 253.1l1.5 .3 1.5 .3 1.5 .3 1.5 .3 1.5 .2 1.5 .3 1.5 .2 1.5 .3 1.5 .2 1.5 .2 1.5 .2 1.5 .2 1.5 .2 1.5 .2 1.5 .3 1.5 .2 1.5 .1 1.5 .2 1.5 .1 1.5 .1 1.5 0 1.5-.1 1.5-.1 1.5-.3 1.5-.4 1.5-.4 1.5-.4 1.5-.5 1.5-.4 1.5-.4 1.5-.4 1.5-.3 1.5-.4 1.5-.3 1.5-.4 1.5-.4 1.5-.4 1.5-.4 1.5-.3 1.5-.2 1.5-.3 1.5-.1 1.5-.1 1.5 0 1.5 .1 1.5 0 1.5 .1 1.5 .2 1.5 .1 1.5 .2 1.5 .2 1.5 .1 1.5 .2 1.5 .2 1.5 .2 1.5 .1 1.5 .2 1.5 .2 1.5 .2 1.5 .2 1.5 .2 1.5 .2 1.5 .2 1.5 .2 1.5 .2 1.5 .2 1.5 .3 1.5 .2 1.5 .3 1.5 .3 1.5 .2 1.5 .3 1.5 .3 1.5 .2 1.5 .2 1.5 .1 1.5 .1 1.5 .1 1.5 0 1.5 0 1.5 0 1.5 0 1.5 0 1.5 0 1.5 0 1.5 0 1.5-.1 1.5-.2 1.5-.3 1.5-.4 1.5-.4 1.5-.6 1.5-.5 1.5-.6 1.5-.5 1.5-.5 1.5-.4 1.5-.3 1.5-.3 1.5-.2 1.5-.3 1.5-.2 1.5-.3 1.5-.2 1.5-.2 1.5-.1 1.5-.1 1.5-.1 1.5 0 1.5 0 1.5 .1 1.5 .1 1.5 .2 1.5 .1 1.5 .2 1.5 .2 1.5 .2 1.5 .2 1.5 .2 1.5 .2 1.5 .2 1.5 .2 1.5 .2 1.5 .3 1.5 .2 1.5 .2 1.5 .3 1.5 .2 1.5 .2 1.5 .3 1.5 .2 1.5 .2 1.5 .2 1.5 .2 1.5 .2 1.5 .2 1.5 .2 1.5 .2 1.5 .1 1.5 .1 1.5 .2 1.5 .1 1.5 .1 1.5 .1 1.5 0 1.5 .1 1.5 .1 1.5 .1 1.5 0 1.5 .1 1.5 0 1.5 0 1.5 .1 1.5-.1 1.5-.2 1.5-.3 1.5-.4 1.5-.5 1.5-.5 1.5-.6 1.5-.5 1.5-.6 1.5-.4 1.5-.5 1.5-.3 1.5-.4 1.5-.3 1.5-.4 1.5-.4 1.5-.3 1.5-.3 1.5-.2 1.5-.2 1.5-.1 1.5 0 1.5 0 1.5 .2 1.5 .3 1.5 .3 1.5 .4 1.5 .3 1.5 .4 1.5 .3 1.5 .3 1.5 .3 1.5 .2 1.5 .2 1.5 .2 1.5 .2 1.5 .2 1.5 .2 1.5 .2 1.5 .2 1.5 .1 1.5 .2 1.5 .2 1.5 .2 1.5 .2 1.5 .2 1.5 .2 1.5 .3 1.5 .2 1.5 .2 1.5 .1 1.5 .1 1.5 .1" stroke="#8c564b" stroke-width="1.15"/>
<path d="M353.5 256l1.5-.1 1.5-.2 1.5-.2 1.5-.3 1.5-.3 1.5-.2 1.5-.3 1.5-.2 1.5-.2 1.5-.1 1.5-.1 1.5-.1 1.5-.1 1.5-.1 1.5-.1 1.5 0 1.5-.1 1.5-.1 1.5 0 1.5-.1 1.5-.1 1.5-.1 1.5-.1 1.5-.1 1.5-.1 1.5-.1 1.5-.1 1.5-.1 1.5-.2 1.5-.1 1.5-.1 1.5-.1 1.5-.1 1.5-.1 1.5-.1 1.5-.1 1.5-.1 1.5-.1 1.5-.1 1.5 0 1.5-.1 1.5 0 1.5 0 1.5 0 1.5 .1 1.5 .1 1.5 .3 1.5 .2 1.5 .4 1.5 .3 1.5 .4 1.5 .4 1.5 .5 1.5 .4 1.5 .5 1.5 .4 1.5 .5 1.5 .4 1.5 .4 1.5 .3 1.5 .3 1.5 .3 1.5 .1 1.5 .2 1.5 0 1.5 0 1.5 0 1.5 0 1.5-.1 1.5 0 1.5-.1 1.5 0 1.5-.1 1.5-.1 1.5-.1 1.5-.1 1.5-.1 1.5-.2 1.5-.2 1.5-.1 1.5-.3 1.5-.2 1.5-.2 1.5-.3 1.5-.3 1.5-.3 1.5-.4 1.5-.3 1.5-.4" stroke="#8c564b" stroke-width="1.15" stroke-dasharray="3.6 1.2"/>
<path d="M42.83 250.93L44.65 251.98L44.65 254.08L42.83 255.13L41.01 254.08L41.01 251.98Z" fill="#8c564b"/><path d="M75.6 255.36L77.42 256.41L77.42 258.51L75.6 259.56L73.78 258.51L73.78 256.41Z" fill="#8c564b"/><path d="M108.38 248.4L110.2 249.45L110.2 251.55L108.38 252.6L106.56 251.55L106.56 249.45Z" fill="#8c564b"/><path d="M141.15 252.03L142.97 253.08L142.97 255.18L141.15 256.23L139.33 255.18L139.33 253.08Z" fill="#8c564b"/><path d="M173.92 254.58L175.74 255.63L175.74 257.73L173.92 258.78L172.1 257.73L172.1 255.63Z" fill="#8c564b"/><path d="M206.7 247.9L208.52 248.95L208.52 251.05L206.7 252.1L204.88 251.05L204.88 248.95Z" fill="#8c564b"/><path d="M239.47 252.08L241.29 253.13L241.29 255.23L239.47 256.28L237.65 255.23L237.65 253.13Z" fill="#8c564b"/><path d="M272.24 254.65L274.06 255.7L274.06 257.8L272.24 258.85L270.42 257.8L270.42 255.7Z" fill="#8c564b"/><path d="M305.02 247.15L306.84 248.2L306.84 250.3L305.02 251.35L303.2 250.3L303.2 248.2Z" fill="#8c564b"/><path d="M337.79 252.19L339.61 253.24L339.61 255.34L337.79 256.39L335.97 255.34L335.97 253.24Z" fill="#8c564b"/><path d="M353.1 253.9L354.92 254.95L354.92 257.05L353.1 258.1L351.28 257.05L351.28 254.95Z" fill="#8c564b"/><path d="M385.87 250.85L387.69 251.9L387.69 254L385.87 255.05L384.05 254L384.05 251.9Z" fill="#8c564b"/><path d="M418.65 248.9L420.47 249.95L420.47 252.05L418.65 253.1L416.83 252.05L416.83 249.95Z" fill="#8c564b"/><path d="M451.42 255.4L453.24 256.45L453.24 258.55L451.42 259.6L449.6 258.55L449.6 256.45Z" fill="#8c564b"/><path d="M484.19 252.2L486.01 253.25L486.01 255.35L484.19 256.4L482.37 255.35L482.37 253.25Z" fill="#8c564b"/>
<path d="M43 254.3l1.5 .4 1.5 .4 1.5 .3 1.5 .4 1.5 .3 1.5 .3 1.5 .4 1.5 .3 1.5 .3 1.5 .2 1.5 .3 1.5 .3 1.5 .3 1.5 .3 1.5 .3 1.5 .2 1.5 .3 1.5 .3 1.5 .2 1.5 .2 1.5 .1 1.5 .1 1.5 0 1.5-.1 1.5-.1 1.5-.2 1.5-.3 1.5-.3 1.5-.4 1.5-.4 1.5-.4 1.5-.3 1.5-.4 1.5-.4 1.5-.3 1.5-.4 1.5-.4 1.5-.5 1.5-.4 1.5-.5 1.5-.4 1.5-.4 1.5-.4 1.5-.3 1.5-.1 1.5-.1 1.5 0 1.5 0 1.5 0 1.5 .1 1.5 0 1.5 .1 1.5 0 1.5 .1 1.5 0 1.5 .1 1.5 0 1.5 .1 1.5 .1 1.5 0 1.5 .1 1.5 .1 1.5 .1 1.5 .1 1.5 .1 1.5 0 1.5 .1 1.5 0 1.5 0 1.5 0 1.5 0 1.5-.1 1.5-.1 1.5-.1 1.5-.1 1.5-.2 1.5-.1 1.5-.2 1.5-.2 1.5-.2 1.5-.1 1.5-.2 1.5-.1 1.5-.2 1.5-.1 1.5-.1 1.5-.2 1.5-.1 1.5-.2 1.5-.2 1.5-.2 1.5-.2 1.5-.3 1.5-.5 1.5-.6 1.5-.6 1.5-.8 1.5-.7 1.5-.8 1.5-.7 1.5-.7 1.5-.6 1.5-.6 1.5-.4 1.5-.4 1.5-.4 1.5-.5 1.5-.4 1.5-.3 1.5-.4 1.5-.3 1.5-.2 1.5-.2 1.5-.1 1.5 0 1.5 .1 1.5 .2 1.5 .2 1.5 .3 1.5 .4 1.5 .4 1.5 .4 1.5 .4 1.5 .4 1.5 .4 1.5 .3 1.5 .3 1.5 .4 1.5 .4 1.5 .3 1.5 .4 1.5 .4 1.5 .3 1.5 .4 1.5 .2 1.5 .2 1.5 .2 1.5 0 1.5 0 1.5-.1 1.5 0 1.5-.1 1.5-.1 1.5-.1 1.5-.1 1.5-.1 1.5-.1 1.5-.2 1.5-.1 1.5-.1 1.5-.1 1.5-.1 1.5-.1 1.5-.1 1.5-.1 1.5-.1 1.5-.2 1.5-.1 1.5-.2 1.5-.2 1.5-.2 1.5-.5 1.5-.7 1.5-.8 1.5-.9 1.5-.9 1.5-.9 1.5-.8 1.5-.7 1.5-.4 1.5-.3 1.5 0 1.5 .2 1.5 .3 1.5 .5 1.5 .5 1.5 .6 1.5 .7 1.5 .7 1.5 .7 1.5 .7 1.5 .7 1.5 .6 1.5 .7 1.5 .7 1.5 .8 1.5 .7 1.5 .8 1.5 .9 1.5 .8 1.5 .8 1.5 .8 1.5 .8 1.5 .7 1.5 .7 1.5 .6 1.5 .6 1.5 .6 1.5 .6 1.5 .5 1.5 .5 1.5 .5 1.5 .5 1.5 .4 1.5 .5 1.5 .4" stroke="#e377c2" stroke-width="1.15"/>
<path d="M353.5 259.5l1.5 .5 1.5 .5 1.5 .5 1.5 .5 1.5 .5 1.5 .3 1.5 .4 1.5 .2 1.5 .1 1.5 0 1.5-.3 1.5-.3 1.5-.6 1.5-.6 1.5-.6 1.5-.7 1.5-.7 1.5-.7 1.5-.6 1.5-.5 1.5-.4 1.5-.2 1.5 0 1.5 0 1.5 0 1.5 0 1.5 0 1.5 .1 1.5 0 1.5 0 1.5 .1 1.5 0 1.5 .1 1.5 0 1.5 .1 1.5 0 1.5 .1 1.5 0 1.5 .1 1.5 0 1.5 0 1.5 .1 1.5 0 1.5 0 1.5 0 1.5 0 1.5-.1 1.5 0 1.5-.1 1.5-.1 1.5-.1 1.5-.2 1.5-.1 1.5-.2 1.5-.2 1.5-.1 1.5-.2 1.5-.2 1.5-.2 1.5-.2 1.5-.2 1.5-.2 1.5-.1 1.5-.2 1.5-.1 1.5-.2 1.5-.1 1.5-.1 1.5-.1 1.5-.1 1.5-.1 1.5 0 1.5-.1 1.5-.1 1.5-.1 1.5 0 1.5-.1 1.5-.1 1.5 0 1.5-.1 1.5-.1 1.5 0 1.5-.1 1.5 0 1.5-.1 1.5 0 1.5 0 1.5-.1 1.5 0" stroke="#e377c2" stroke-width="1.15" stroke-dasharray="3.6 1.2"/>
<path d="M42.83 251.53L45.58 254.28L42.83 257.03L40.08 254.28Z" fill="#e377c2"/><path d="M77.3 257.75L80.05 260.5L77.3 263.25L74.55 260.5Z" fill="#e377c2"/><path d="M111.78 250.25L114.53 253L111.78 255.75L109.03 253Z" fill="#e377c2"/><path d="M146.25 251.5L149 254.25L146.25 257L143.5 254.25Z" fill="#e377c2"/><path d="M180.72 248.3L183.47 251.05L180.72 253.8L177.97 251.05Z" fill="#e377c2"/><path d="M215.19 237.75L217.94 240.5L215.19 243.25L212.44 240.5Z" fill="#e377c2"/><path d="M249.67 244.75L252.42 247.5L249.67 250.25L246.92 247.5Z" fill="#e377c2"/><path d="M284.14 242.18L286.89 244.93L284.14 247.68L281.39 244.93Z" fill="#e377c2"/><path d="M318.61 241.98L321.36 244.73L318.61 247.48L315.86 244.73Z" fill="#e377c2"/><path d="M353.1 256.68L355.85 259.43L353.1 262.18L350.35 259.43Z" fill="#e377c2"/><path d="M387.57 254L390.32 256.75L387.57 259.5L384.82 256.75Z" fill="#e377c2"/><path d="M422.05 254.74L424.8 257.49L422.05 260.24L419.3 257.49Z" fill="#e377c2"/><path d="M456.52 251.49L459.27 254.24L456.52 256.99L453.77 254.24Z" fill="#e377c2"/>
<path d="M43 254l1.5 .2 1.5 .2 1.5 .2 1.5 .2 1.5 .1 1.5 .2 1.5 .2 1.5 .1 1.5 .2 1.5 .2 1.5 .1 1.5 .2 1.5 .2 1.5 .2 1.5 .2 1.5 .2 1.5 .2 1.5 .2 1.5 .2 1.5 .1 1.5 .2 1.5 .1 1.5 .1 1.5 0 1.5 0 1.5-.1 1.5-.2 1.5-.3 1.5-.3 1.5-.4 1.5-.4 1.5-.4 1.5-.3 1.5-.4 1.5-.3 1.5-.3 1.5-.4 1.5-.4 1.5-.3 1.5-.4 1.5-.4 1.5-.4 1.5-.3 1.5-.3 1.5-.3 1.5-.2 1.5-.1 1.5-.1 1.5-.1 1.5-.1 1.5 0 1.5-.1 1.5-.1 1.5 0 1.5 0 1.5-.1 1.5 0 1.5 0 1.5 0 1.5 .1 1.5 0 1.5 .1 1.5 .1 1.5 .2 1.5 .1 1.5 .1 1.5 .1 1.5 .2 1.5 .1 1.5 0 1.5 .1 1.5 0 1.5 0 1.5 0 1.5-.2 1.5-.2 1.5-.3 1.5-.3 1.5-.3 1.5-.3 1.5-.4 1.5-.3 1.5-.2 1.5-.3 1.5-.3 1.5-.4 1.5-.3 1.5-.3 1.5-.4 1.5-.3 1.5-.3 1.5-.3 1.5-.3 1.5-.2 1.5-.2 1.5-.1 1.5 0 1.5-.1 1.5-.1 1.5 0 1.5-.1 1.5 0 1.5-.1 1.5 0 1.5-.1 1.5 0 1.5 0 1.5 0 1.5 0 1.5 .1 1.5 .1 1.5 .1 1.5 .2 1.5 .2 1.5 .1 1.5 .2 1.5 .2 1.5 .2 1.5 .2 1.5 .1 1.5 .1 1.5 .1 1.5 .1 1.5 .1 1.5 .1 1.5 .1 1.5 0 1.5 .1 1.5 .1 1.5 .1 1.5 .1 1.5 0 1.5 .1 1.5 .1 1.5 .1 1.5 .2 1.5 .1 1.5 .2 1.5 .1 1.5 .2 1.5 .2 1.5 .1 1.5 .1 1.5 0 1.5 0 1.5 0 1.5 0 1.5 0 1.5 0 1.5 0 1.5 0 1.5 0 1.5 0 1.5 0 1.5 0 1.5 0 1.5 0 1.5 0 1.5 0 1.5 0 1.5 0 1.5 0 1.5 0 1.5 0 1.5 0 1.5 0 1.5 0 1.5 0 1.5 .1 1.5 0 1.5 0 1.5 0 1.5 0 1.5 0 1.5 .1 1.5 0 1.5 .1 1.5 0 1.5 .1 1.5 0 1.5 .1 1.5 0 1.5 .1 1.5 .1 1.5 0 1.5 .1 1.5 .1 1.5 0 1.5 .1 1.5 .1 1.5 .1 1.5 0 1.5 .1 1.5 .1 1.5 .1 1.5 .1 1.5 .1 1.5 .1 1.5 .1 1.5 .1 1.5 .1 1.5 .1 1.5 .1 1.5 .1 1.5 .1 1.5 0" stroke="#7f7f7f" stroke-width="1.15"/>
<path d="M353.5 251.8l1.5 0 1.5 .1 1.5 0 1.5 0 1.5 .1 1.5 0 1.5 0 1.5 .1 1.5 0 1.5 0 1.5 0 1.5 .1 1.5 0 1.5 0 1.5 0 1.5 .1 1.5 0 1.5 0 1.5 0 1.5 .1 1.5 0 1.5 0 1.5 .1 1.5 0 1.5 .1 1.5 0 1.5 .1 1.5 0 1.5 .1 1.5 .1 1.5 .1 1.5 0 1.5 .1 1.5 .1 1.5 .1 1.5 .1 1.5 0 1.5 .1 1.5 .1 1.5 .1 1.5 .1 1.5 .1 1.5 0 1.5 .1 1.5 .1 1.5 0 1.5 .1 1.5 .1 1.5 0 1.5 .1 1.5 .1 1.5 0 1.5 .1 1.5 .1 1.5 0 1.5 .1 1.5 .1 1.5 0 1.5 .1 1.5 .1 1.5 0 1.5 .1 1.5 0 1.5 .1 1.5 0 1.5 .1 1.5 0 1.5 0 1.5 .1 1.5 0 1.5 0 1.5 0 1.5 0 1.5 0 1.5 0 1.5 0 1.5 0 1.5-.1 1.5 0 1.5 0 1.5 0 1.5-.1 1.5 0 1.5 0 1.5-.1 1.5 0 1.5-.1 1.5 0 1.5-.1" stroke="#7f7f7f" stroke-width="1.15" stroke-dasharray="3.6 1.2"/>
<path d="M42.83 251.22L44.33 254.02L42.83 256.82L41.33 254.02Z" fill="#7f7f7f"/><path d="M79 255.2L80.5 258L79 260.8L77.5 258Z" fill="#7f7f7f"/><path d="M115.17 248.16L116.67 250.96L115.17 253.76L113.67 250.96Z" fill="#7f7f7f"/><path d="M151.35 248.95L152.85 251.75L151.35 254.55L149.85 251.75Z" fill="#7f7f7f"/><path d="M187.52 242.7L189.02 245.5L187.52 248.3L186.02 245.5Z" fill="#7f7f7f"/><path d="M223.69 243.95L225.19 246.75L223.69 249.55L222.19 246.75Z" fill="#7f7f7f"/><path d="M259.86 246.45L261.36 249.25L259.86 252.05L258.36 249.25Z" fill="#7f7f7f"/><path d="M296.03 246.45L297.53 249.25L296.03 252.05L294.53 249.25Z" fill="#7f7f7f"/><path d="M332.21 247.69L333.71 250.49L332.21 253.29L330.71 250.49Z" fill="#7f7f7f"/><path d="M353.1 248.97L354.6 251.77L353.1 254.57L351.6 251.77Z" fill="#7f7f7f"/><path d="M389.27 249.72L390.77 252.52L389.27 255.32L387.77 252.52Z" fill="#7f7f7f"/><path d="M425.44 251.47L426.94 254.27L425.44 257.07L423.94 254.27Z" fill="#7f7f7f"/><path d="M461.62 252.7L463.12 255.5L461.62 258.3L460.12 255.5Z" fill="#7f7f7f"/>
</g>
<line x1="353.1" y1="210.25" x2="353.1" y2="275.75" stroke="#000" stroke-width="1.05"/>
<rect x="43" y="210.25" width="444.35" height="65.5" fill="none" stroke="#000" stroke-width="0.62"/>
<line x1="40.7" y1="221.7" x2="43" y2="221.7" stroke="#000" stroke-width="0.62"/>
<text x="39.3" y="224.15" text-anchor="end" textLength="9.3" lengthAdjust="spacingAndGlyphs">0.4</text>
<line x1="40.7" y1="242.2" x2="43" y2="242.2" stroke="#000" stroke-width="0.62"/>
<text x="39.3" y="244.65" text-anchor="end" textLength="9.3" lengthAdjust="spacingAndGlyphs">0.3</text>
<line x1="40.7" y1="262.4" x2="43" y2="262.4" stroke="#000" stroke-width="0.62"/>
<text x="39.3" y="264.85" text-anchor="end" textLength="9.3" lengthAdjust="spacingAndGlyphs">0.2</text>
<line x1="131.5" y1="275.75" x2="131.5" y2="278.05" stroke="#000" stroke-width="0.62"/>
<line x1="220.17" y1="275.75" x2="220.17" y2="278.05" stroke="#000" stroke-width="0.62"/>
<line x1="308.84" y1="275.75" x2="308.84" y2="278.05" stroke="#000" stroke-width="0.62"/>
<line x1="397.51" y1="275.75" x2="397.51" y2="278.05" stroke="#000" stroke-width="0.62"/>
<text transform="translate(19.3 244) rotate(-90)" text-anchor="middle" textLength="22.82" lengthAdjust="spacingAndGlyphs">TAC162</text>
<text transform="translate(26.3 241.8) rotate(-90)" text-anchor="middle" textLength="29.5" lengthAdjust="spacingAndGlyphs">Δ O<tspan font-size="4.1" dy="1.2">3</tspan><tspan dy="-1.2"> [DU]</tspan></text>
<clipPath id="c4"><rect x="43" y="278.5" width="444.35" height="65.5"/></clipPath>
<g clip-path="url(#c4)" fill="none" stroke-linejoin="round">
<path d="M43 307.3l.8 1.2 .8 .3 .8-.4 .8 1.1 .8-1.2 .8 1.4 .8 2.9 .8-1.2 .8-.1 .8-.4 .8 .4 .8 .4 .8 .9 .8 1.8 .8 1.3 .8 .1 .8 .1 .8-.8 .8 1.1 .8 .2 .8 .1 .8-1.1 .8 .2 .8 1.2 .8-.7 .8-1.7 .8-1.7 .8-.6 .8-.2 .8-.5 .8-1.2 .8-.3 .8 0 .8-.7 .8 .7 .8-.5 .8-1.2 .8-1.9 .8 0 .8 .7 .8 .3 .8-.1 .8 1 .8 0 .8-.9 .8-.7 .8 1.9 .8-.2 .8-.1 .8-.6 .8 .4 .8 .7 .8 0 .8 .2 .8-.1 .8 .4 .8-2.3 .8 .5 .8 1.4 .8-.7 .8-.8 .8-.3 .8 1.4 .8-1 .8 1.3 .8 .9 .8 1 .8 .4 .8-1.2 .8-.1 .8 .4 .8 .2 .8 2 .8 .4 .8 .3 .8 0 .8 1.1 .8 .7 .8 1.2 .8 1.2 .8 2.5 .8 .1 .8 .3 .8 3.2 .8 1.1 .8 1 .8 2.6 .8-1.1 .8-1.2 .8 .9 .8 1.2 .8 .5 .8 1.3 .8 0 .8-1.1 .8 .6 .8 .6 .8-.6 .8 .1 .8 .5 .8-1.5 .8-2.7 .8-1.3 .8-1.2 .8-1.4 .8-1.1 .8 0 .8-1.8 .8-.3 .8 .8 .8-.8 .8 1.4 .8 1.7 .8-.8 .8 .4 .8 1.2 .8-.7 .8-1.3 .8-1.2 .8-1.5 .8-.6 .8-.4 .8 .6 .8-1.9 .8-1.9 .8-.6 .8-.9 .8-1.7 .8 0 .8 .7 .8-2.2 .8-.3 .8 1.1 .8-.5 .8-1.8 .8 .3 .8-.8 .8 .3 .8-1.1 .8-1.1 .8 .2 .8-.7 .8-.7 .8 1 .8-1.2 .8-.2 .8-1.7 .8-1.7 .8 .2 .8 .9 .8 1 .8 .3 .8-1.6 .8-1.3 .8-.9 .8 .4 .8-.4 .8-1.5 .8 1.9 .8 .7 .8-.3 .8-2.5 .8-.4 .8-.4 .8-1.3 .8-.2 .8 .2 .8 1 .8 .4 .8 0 .8-1.7 .8-1 .8 1.1 .8 .4 .8 .3 .8 0 .8-1 .8 .1 .8-.7 .8 .7 .8 .8 .8-.2 .8-.1 .8-.7 .8 .7 .8 .8 .8-.4 .8 1.2 .8 2.5 .8-.9 .8-1.3 .8 .5 .8 .9 .8-2 .8 1.3 .8 1.3 .8-.3 .8 .2 .8-.6 .8 .6 .8 .4 .8 .1 .8 .2 .8 .3 .8 .6 .8-.9 .8-.5 .8 .1 .8-.2 .8-1.2 .8-.5 .8 .8 .8 1.2 .8-.3 .8 .9 .8 2.3 .8-1 .8-1.7 .8-.2 .8 .9 .8-.7 .8 .8 .8 .2 .8-.1 .8-1.2 .8 0 .8-1.5 .8 .9 .8 1.3 .8-.8 .8-1.7 .8 1.2 .8 .2 .8-.8 .8-.7 .8-.1 .8 .2 .8 .9 .8 0 .8 .1 .8-.8 .8-1.6 .8 1 .8 1 .8-2 .8-.2 .8-.8 .8-.3 .8 .9 .8 .7 .8-.2 .8-.3 .8-.5 .8-1.4 .8 1.2 .8 .1 .8-.5 .8-.2 .8-.1 .8 1 .8-1.1 .8-.6 .8 .9 .8 .2 .8 .8 .8 1.2 .8-.8 .8 .4 .8 1 .8-1.9 .8 .7 .8 1.3 .8 .7 .8 0 .8-1.9 .8 .1 .8-.4 .8-.5 .8-.6 .8-.1 .8 1.4 .8 .4 .8-.9 .8 .7 .8-.6 .8-1.1 .8-.2 .8 2.9 .8 .7 .8-.6 .8-.3 .8 .1 .8 1.4 .8 .6 .8 .6 .8-.3 .8-1.3 .8 .3 .8 1.3 .8-.4 .8 1.5 .8 .8 .8-.9 .8 1.1 .8 .5 .8 .1 .8-.4 .8 .5 .8 1.2 .8 1.2 .8-.4 .8-.9 .8-1 .8 .8 .8-.1 .8 .4 .8 .8 .8 .6 .8-.1 .8-.4 .8 .1 .8 .6 .8-1.1 .8 .6 .8 1.1 .8-.5 .8 .6 .8 .8 .8 .9 .8-1 .8-1.9 .8 .9 .8 1.1 .8 .7 .8 .5 .8 1.3 .8-.6 .8-1.7 .8-.3 .8 .4 .8 2.6 .8-.2 .8-.6 .8-.5 .8 1.3 .8 1.4 .8 0 .8 .1 .8 .7 .8 1.4 .8-1.7 .8-1.4 .8 .3 .8 .2 .8-.1 .8-.6 .8-.9 .8 .3 .8-.2 .8-1 .8 1.5 .8-1.3 .8-3.7 .8-.5 .8 .7 .8 0 .8-1.2 .8-3.1 .8-.4 .8 .9 .8 .5 .8-.8 .8 .8 .8 .4 .8-.4 .8-1.3 .8 .6 .8 .1 .8 0 .8 .8 .8-.4 .8 .4 .8-.6 .8 1.3 .8-.1 .8-1.8 .8 .3 .8-.1 .8-.8 .8 1.6 .8-.1 .8-1.5 .8 1 .8 1 .8-1.1 .8-.1 .8 1.7 .8-1.6 .8 .9 .8 1.5 .8-1.1 .8-2.6 .8 .9 .8 1 .8 .4 .8 1.1 .8 .3 .8-.3 .8 .5 .8 1.4 .8-.4 .8-1.8 .8 3 .8-.8 .8-.1 .8-1.6 .8 .5 .8 .9 .8 2.9 .8 .7 .8-.8 .8 0 .8 .6 .8-.8 .8 .3 .8 1 .8 1.8 .8-.8 .8-1.5 .8 1.1 .8 .8 .8-.3 .8-2.2 .8 .5 .8 1 .8-2.6 .8-.8 .8 .8 .8-.5 .8 .4 .8-.2 .8 .5 .8 1.8 .8-.8 .8-.7 .8 .8 .8 .6 .8 .8 .8 1.1 .8-.1 .8-3.2 .8-1 .8-1.1 .8 1.6 .8 .4 .8-1.9 .8-1.3 .8-.8 .8-.2 .8 2.5 .8 .8 .8-2.4 .8 1 .8-1.9 .8-1.9 .8 1.6 .8 .5 .8-1.1 .8-.6 .8 .9 .8-1.7 .8-.1 .8-.6 .8-2.7 .8-2.2 .8-.1 .8 1.7 .8 .2 .8-2.2 .8 1 .8 1.5 .8-2.6 .8 1 .8 .6 .8-.7 .8-2.2 .8 .3 .8-.6 .8 1.4 .8-1.4 .8-.1 .8-.9 .8-.3 .8-1.2 .8 1.4 .8 .6 .8-.3 .8 .9 .8-1 .8-.4 .8 .1 .8 .2 .8-2.6 .8-.8 .8 .4 .8 .7 .8 .1 .8 .2 .8-.7 .8-1 .8 .5 .8-.2 .8-1.5 .8 2.8 .8-.6 .8-.1 .8 .9 .8-.5 .8-.9 .8 2 .8 2.7 .8 .7 .8-.3 .8-1.6 .8 .6 .8 2.6 .8 1.2 .8-1.2 .8-1.6 .8 .3 .8 2.6 .8-1.7 .8 1 .8 1.8 .8 1.2 .8-3.7 .8-2.1 .8 0 .8 0 .8 .4 .8-1.4 .8-3 .8-1.6 .8 1.7 .8 .3 .8 .8 .8-2.2 .8 .1 .8-.8 .8 .3 .8 2.3 .8-1.2 .8-.8 .8 .2 .8-1.3" stroke="#262626" stroke-width="0.9"/>
<path d="M51.4 310.54L53.8 312.94M51.4 312.94L53.8 310.54" stroke="#262626" stroke-width="0.55"/><path d="M66.2 309.59L68.6 311.99M66.2 311.99L68.6 309.59" stroke="#262626" stroke-width="0.55"/><path d="M81 307.04L83.4 309.44M81 309.44L83.4 307.04" stroke="#262626" stroke-width="0.55"/><path d="M95.8 309.61L98.2 312.01M95.8 312.01L98.2 309.61" stroke="#262626" stroke-width="0.55"/><path d="M110.6 324.22L113 326.62M110.6 326.62L113 324.22" stroke="#262626" stroke-width="0.55"/><path d="M125.4 321.11L127.8 323.51M125.4 323.51L127.8 321.11" stroke="#262626" stroke-width="0.55"/><path d="M140.2 316.03L142.6 318.43M140.2 318.43L142.6 316.03" stroke="#262626" stroke-width="0.55"/><path d="M155 303.46L157.4 305.86M155 305.86L157.4 303.46" stroke="#262626" stroke-width="0.55"/><path d="M169.8 298.33L172.2 300.73M169.8 300.73L172.2 298.33" stroke="#262626" stroke-width="0.55"/><path d="M184.6 292.64L187 295.04M184.6 295.04L187 292.64" stroke="#262626" stroke-width="0.55"/><path d="M199.4 297.06L201.8 299.46M199.4 299.46L201.8 297.06" stroke="#262626" stroke-width="0.55"/><path d="M214.2 299.44L216.6 301.84M214.2 301.84L216.6 299.44" stroke="#262626" stroke-width="0.55"/><path d="M229 296.39L231.4 298.79M229 298.79L231.4 296.39" stroke="#262626" stroke-width="0.55"/><path d="M243.8 293.97L246.2 296.37M243.8 296.37L246.2 293.97" stroke="#262626" stroke-width="0.55"/><path d="M258.6 294.59L261 296.99M258.6 296.99L261 294.59" stroke="#262626" stroke-width="0.55"/><path d="M273.4 296.18L275.8 298.58M273.4 298.58L275.8 296.18" stroke="#262626" stroke-width="0.55"/><path d="M288.2 301.12L290.6 303.52M288.2 303.52L290.6 301.12" stroke="#262626" stroke-width="0.55"/><path d="M303 304.26L305.4 306.66M303 306.66L305.4 304.26" stroke="#262626" stroke-width="0.55"/><path d="M317.8 308.32L320.2 310.72M317.8 310.72L320.2 308.32" stroke="#262626" stroke-width="0.55"/><path d="M332.6 303.06L335 305.46M332.6 305.46L335 303.06" stroke="#262626" stroke-width="0.55"/><path d="M347.4 300.4L349.8 302.8M347.4 302.8L349.8 300.4" stroke="#262626" stroke-width="0.55"/><path d="M362.2 301.37L364.6 303.77M362.2 303.77L364.6 301.37" stroke="#262626" stroke-width="0.55"/><path d="M377 306.1L379.4 308.5M377 308.5L379.4 306.1" stroke="#262626" stroke-width="0.55"/><path d="M391.8 304.52L394.2 306.92M391.8 306.92L394.2 304.52" stroke="#262626" stroke-width="0.55"/><path d="M406.6 303.41L409 305.81M406.6 305.81L409 303.41" stroke="#262626" stroke-width="0.55"/><path d="M421.4 294.3L423.8 296.7M421.4 296.7L423.8 294.3" stroke="#262626" stroke-width="0.55"/><path d="M436.2 289.85L438.6 292.25M436.2 292.25L438.6 289.85" stroke="#262626" stroke-width="0.55"/><path d="M451 286.77L453.4 289.17M451 289.17L453.4 286.77" stroke="#262626" stroke-width="0.55"/><path d="M465.8 292.16L468.2 294.56M465.8 294.56L468.2 292.16" stroke="#262626" stroke-width="0.55"/><path d="M480.6 286.02L483 288.42M480.6 288.42L483 286.02" stroke="#262626" stroke-width="0.55"/>
<path d="M43 304.5l1.5 .2 1.5 .1 1.5 .2 1.5 .2 1.5 .2 1.5 .2 1.5 .2 1.5 .2 1.5 .3 1.5 .3 1.5 .4 1.5 .3 1.5 .4 1.5 .3 1.5 .2 1.5 0 1.5-.1 1.5-.2 1.5-.5 1.5-.5 1.5-.6 1.5-.6 1.5-.7 1.5-.6 1.5-.6 1.5-.7 1.5-.8 1.5-.8 1.5-.8 1.5-.7 1.5-.6 1.5-.3 1.5-.1 1.5 .2 1.5 .4 1.5 .6 1.5 .7 1.5 .7 1.5 .7 1.5 .7 1.5 .7 1.5 .9 1.5 .9 1.5 1 1.5 .9 1.5 .8 1.5 .5 1.5 .4 1.5 .3 1.5 .2 1.5 .2 1.5 .2 1.5 .2 1.5 .1 1.5 .1 1.5 .1 1.5 0 1.5 .1 1.5 0 1.5 .1 1.5 0 1.5 0 1.5 0 1.5 0 1.5 0 1.5-.1 1.5-.1 1.5-.2 1.5-.3 1.5-.3 1.5-.3 1.5-.2 1.5-.3 1.5-.2 1.5-.3 1.5-.2 1.5-.3 1.5-.3 1.5-.3 1.5-.4 1.5-.4 1.5-.5 1.5-.5 1.5-.6 1.5-.7 1.5-.7 1.5-.8 1.5-.7 1.5-.8 1.5-1.1 1.5-1.1 1.5-1.1 1.5-1 1.5-.9 1.5-.6 1.5-.4 1.5 0 1.5 .1 1.5 .1 1.5 .1 1.5 .2 1.5 .2 1.5 .1 1.5 .1 1.5 .1 1.5 .1 1.5 .1 1.5 .1 1.5 0 1.5 .1 1.5 .1 1.5 0 1.5 0 1.5 0 1.5 0 1.5-.1 1.5-.1 1.5 0 1.5-.1 1.5-.1 1.5-.1 1.5-.1 1.5-.1 1.5-.1 1.5-.1 1.5-.2 1.5-.1 1.5-.1 1.5-.1 1.5-.1 1.5-.1 1.5-.1 1.5 0 1.5 0 1.5-.1 1.5-.1 1.5 0 1.5-.1 1.5-.1 1.5-.2 1.5-.3 1.5-.2 1.5-.2 1.5-.2 1.5 0 1.5 0 1.5 .1 1.5 .2 1.5 .3 1.5 .3 1.5 .3 1.5 .4 1.5 .4 1.5 .4 1.5 .4 1.5 .5 1.5 .4 1.5 .6 1.5 .5 1.5 .6 1.5 .6 1.5 .6 1.5 .6 1.5 .7 1.5 .8 1.5 .7 1.5 .8 1.5 .7 1.5 .6 1.5 .6 1.5 .6 1.5 .6 1.5 .6 1.5 .6 1.5 .5 1.5 .4 1.5 .2 1.5 .1 1.5 0 1.5-.1 1.5-.1 1.5-.1 1.5-.2 1.5-.1 1.5-.2 1.5-.2 1.5-.2 1.5-.2 1.5-.3 1.5-.3 1.5-.4 1.5-.3 1.5-.3 1.5-.3 1.5-.3 1.5-.4 1.5-.3 1.5-.4 1.5-.4 1.5-.4 1.5-.3 1.5-.3 1.5-.3 1.5-.3 1.5-.2 1.5-.1" stroke="#1f77b4" stroke-width="1.15"/>
<path d="M353.5 302l1.5-.1 1.5 0 1.5-.1 1.5 0 1.5-.1 1.5 0 1.5 0 1.5-.1 1.5 0 1.5 0 1.5-.1 1.5 0 1.5 0 1.5 0 1.5 0 1.5 0 1.5 0 1.5 .1 1.5 .1 1.5 .1 1.5 .1 1.5 .2 1.5 .1 1.5 .2 1.5 .2 1.5 .1 1.5 .2 1.5 .1 1.5 .1 1.5 .1 1.5 0 1.5 0 1.5 0 1.5-.1 1.5-.2 1.5-.3 1.5-.3 1.5-.3 1.5-.3 1.5-.3 1.5-.4 1.5-.3 1.5-.3 1.5-.3 1.5-.2 1.5-.2 1.5-.1 1.5-.1 1.5 0 1.5 .1 1.5 0 1.5 .1 1.5 .2 1.5 .1 1.5 .2 1.5 .2 1.5 .2 1.5 .3 1.5 .2 1.5 .3 1.5 .2 1.5 .3 1.5 .3 1.5 .2 1.5 .3 1.5 .3 1.5 .3 1.5 .4 1.5 .4 1.5 .4 1.5 .4 1.5 .5 1.5 .4 1.5 .5 1.5 .4 1.5 .4 1.5 .5 1.5 .4 1.5 .3 1.5 .4 1.5 .3 1.5 .3 1.5 .3 1.5 .2 1.5 .3 1.5 .2 1.5 .2 1.5 .3 1.5 .2" stroke="#1f77b4" stroke-width="1.15" stroke-dasharray="3.6 1.2"/>
<circle cx="42.83" cy="304.51" r="2.2" fill="#1f77b4"/><circle cx="67.11" cy="308.25" r="2.2" fill="#1f77b4"/><circle cx="91.38" cy="299.03" r="2.2" fill="#1f77b4"/><circle cx="115.66" cy="309.22" r="2.2" fill="#1f77b4"/><circle cx="139.94" cy="310.75" r="2.2" fill="#1f77b4"/><circle cx="164.21" cy="306.58" r="2.2" fill="#1f77b4"/><circle cx="188.49" cy="295.01" r="2.2" fill="#1f77b4"/><circle cx="212.77" cy="296.5" r="2.2" fill="#1f77b4"/><circle cx="237.04" cy="295.03" r="2.2" fill="#1f77b4"/><circle cx="261.32" cy="293.25" r="2.2" fill="#1f77b4"/><circle cx="285.6" cy="299.74" r="2.2" fill="#1f77b4"/><circle cx="309.87" cy="309" r="2.2" fill="#1f77b4"/><circle cx="334.15" cy="305.67" r="2.2" fill="#1f77b4"/><circle cx="353.1" cy="301.98" r="2.2" fill="#1f77b4"/><circle cx="377.38" cy="301.5" r="2.2" fill="#1f77b4"/><circle cx="401.65" cy="303.24" r="2.2" fill="#1f77b4"/><circle cx="425.93" cy="299.5" r="2.2" fill="#1f77b4"/><circle cx="450.21" cy="302.54" r="2.2" fill="#1f77b4"/><circle cx="474.48" cy="308.9" r="2.2" fill="#1f77b4"/>
<path d="M43 308.2l1.5 0 1.5-.1 1.5 0 1.5-.1 1.5 0 1.5 0 1.5 0 1.5 0 1.5 0 1.5 .1 1.5 .1 1.5 .2 1.5 .1 1.5 .2 1.5 .1 1.5 .1 1.5 .1 1.5 0 1.5 0 1.5-.1 1.5-.1 1.5-.2 1.5-.1 1.5-.2 1.5-.1 1.5-.1 1.5-.1 1.5 0 1.5 .1 1.5 .1 1.5 .2 1.5 .3 1.5 .3 1.5 .4 1.5 .4 1.5 .6 1.5 .8 1.5 .9 1.5 .9 1.5 .9 1.5 .8 1.5 .8 1.5 .8 1.5 .9 1.5 .9 1.5 .9 1.5 .8 1.5 .7 1.5 .7 1.5 .4 1.5 .3 1.5 .1 1.5-.1 1.5-.1 1.5-.3 1.5-.3 1.5-.3 1.5-.5 1.5-.4 1.5-.4 1.5-.5 1.5-.4 1.5-.5 1.5-.6 1.5-.6 1.5-.7 1.5-.7 1.5-.7 1.5-.8 1.5-.9 1.5-.9 1.5-1.1 1.5-1 1.5-1.1 1.5-1.1 1.5-1.1 1.5-1 1.5-.9 1.5-.9 1.5-1.1 1.5-1 1.5-1.1 1.5-1 1.5-.9 1.5-.8 1.5-.7 1.5-.4 1.5-.1 1.5 0 1.5 .1 1.5 .1 1.5 .1 1.5 .2 1.5 .2 1.5 .2 1.5 .2 1.5 .2 1.5 .3 1.5 .2 1.5 .2 1.5 .2 1.5 .2 1.5 .1 1.5 .1 1.5 .2 1.5 .1 1.5 .2 1.5 .1 1.5 .2 1.5 .1 1.5 .1 1.5 .2 1.5 .1 1.5 .1 1.5 .1 1.5 .1 1.5 .1 1.5 .1 1.5 0 1.5 .1 1.5 0 1.5 0 1.5-.2 1.5-.2 1.5-.3 1.5-.3 1.5-.4 1.5-.5 1.5-.5 1.5-.5 1.5-.4 1.5-.6 1.5-.6 1.5-.8 1.5-.8 1.5-.7 1.5-.8 1.5-.5 1.5-.5 1.5-.3 1.5-.3 1.5-.3 1.5-.3 1.5-.2 1.5-.2 1.5-.2 1.5-.1 1.5 0 1.5 .1 1.5 .2 1.5 .4 1.5 .5 1.5 .6 1.5 .7 1.5 .6 1.5 .7 1.5 .7 1.5 .9 1.5 1 1.5 1.1 1.5 1.1 1.5 1.1 1.5 1 1.5 .9 1.5 .6 1.5 .6 1.5 .5 1.5 .6 1.5 .5 1.5 .5 1.5 .4 1.5 .3 1.5 .2 1.5 .2 1.5 0 1.5 0 1.5 0 1.5 0 1.5 0 1.5 0 1.5 0 1.5 0 1.5 0 1.5 0 1.5 0 1.5 0 1.5 0 1.5 0 1.5 0 1.5 0 1.5 0 1.5-.1 1.5-.3 1.5-.3 1.5-.4 1.5-.4 1.5-.5 1.5-.5 1.5-.5 1.5-.4 1.5-.5 1.5-.4 1.5-.5 1.5-.5 1.5-.4 1.5-.3" stroke="#ff7f0e" stroke-width="1.15"/>
<path d="M353.5 301.2l1.5 .8 1.5 1.3 1.5 1.5 1.5 1.7 1.5 1.6 1.5 1.4 1.5 1.2 1.5 1.2 1.5 1.1 1.5 1.2 1.5 1.1 1.5 1 1.5 .9 1.5 .8 1.5 .7 1.5 .6 1.5 .5 1.5 .3 1.5 .1 1.5 .2 1.5 .1 1.5 .2 1.5 .1 1.5 .1 1.5 .1 1.5 .1 1.5 .1 1.5 .1 1.5 0 1.5 .1 1.5 0 1.5 .1 1.5 0 1.5 0 1.5 0 1.5-.2 1.5-.3 1.5-.4 1.5-.5 1.5-.5 1.5-.7 1.5-.6 1.5-.7 1.5-.7 1.5-.7 1.5-.7 1.5-.6 1.5-.6 1.5-.6 1.5-.6 1.5-.6 1.5-.6 1.5-.6 1.5-.6 1.5-.6 1.5-.7 1.5-.5 1.5-.4 1.5-.2 1.5 0 1.5 .1 1.5 .3 1.5 .3 1.5 .4 1.5 .3 1.5 .4 1.5 .3 1.5 .2 1.5 .1 1.5 .1 1.5 0 1.5 0 1.5 0 1.5 0 1.5 0 1.5 0 1.5 0 1.5 0 1.5 0 1.5 0 1.5 0 1.5-.2 1.5-.5 1.5-.8 1.5-.9 1.5-1.2 1.5-1.3 1.5-1.3 1.5-1.3" stroke="#ff7f0e" stroke-width="1.15" stroke-dasharray="3.6 1.2"/>
<path d="M40.23 308.24L44.39 305.77L44.39 310.71Z" fill="#ff7f0e"/><path d="M66.21 308.99L70.37 306.52L70.37 311.46Z" fill="#ff7f0e"/><path d="M92.18 309.57L96.34 307.1L96.34 312.04Z" fill="#ff7f0e"/><path d="M118.16 322L122.32 319.53L122.32 324.47Z" fill="#ff7f0e"/><path d="M144.13 313.97L148.29 311.5L148.29 316.44Z" fill="#ff7f0e"/><path d="M170.11 297.33L174.27 294.86L174.27 299.8Z" fill="#ff7f0e"/><path d="M196.09 299.61L200.25 297.14L200.25 302.08Z" fill="#ff7f0e"/><path d="M222.06 301.5L226.22 299.03L226.22 303.97Z" fill="#ff7f0e"/><path d="M248.04 293.16L252.2 290.69L252.2 295.63Z" fill="#ff7f0e"/><path d="M274.01 294.62L278.17 292.15L278.17 297.09Z" fill="#ff7f0e"/><path d="M299.99 306.85L304.15 304.38L304.15 309.32Z" fill="#ff7f0e"/><path d="M325.96 307L330.12 304.53L330.12 309.47Z" fill="#ff7f0e"/><path d="M350.5 301.06L354.66 298.59L354.66 303.53Z" fill="#ff7f0e"/><path d="M376.48 319.83L380.64 317.36L380.64 322.3Z" fill="#ff7f0e"/><path d="M402.45 321.5L406.61 319.03L406.61 323.97Z" fill="#ff7f0e"/><path d="M428.43 312.06L432.59 309.59L432.59 314.53Z" fill="#ff7f0e"/><path d="M454.4 310.74L458.56 308.27L458.56 313.21Z" fill="#ff7f0e"/><path d="M480.38 306.82L484.54 304.35L484.54 309.29Z" fill="#ff7f0e"/>
<path d="M43 308.3l1.5 .1 1.5 .1 1.5 .1 1.5 .1 1.5 .1 1.5 .1 1.5 0 1.5 .1 1.5 .1 1.5 0 1.5 .1 1.5 .1 1.5 0 1.5 .1 1.5 0 1.5 .1 1.5 0 1.5 0 1.5 0 1.5-.1 1.5-.1 1.5-.2 1.5-.2 1.5-.1 1.5-.2 1.5-.2 1.5-.2 1.5-.2 1.5-.2 1.5-.3 1.5-.3 1.5-.2 1.5 .1 1.5 1.3 1.5 1.9 1.5 1.7 1.5 1.1 1.5 1 1.5 .9 1.5 .9 1.5 .8 1.5 .9 1.5 1 1.5 1.1 1.5 .9 1.5 .8 1.5 .5 1.5 .1 1.5 0 1.5 0 1.5 0 1.5 0 1.5 0 1.5 0 1.5 0 1.5-.2 1.5-.3 1.5-.5 1.5-.5 1.5-.6 1.5-.7 1.5-.7 1.5-.7 1.5-.7 1.5-.7 1.5-.6 1.5-.7 1.5-.7 1.5-.8 1.5-.7 1.5-.8 1.5-.8 1.5-.8 1.5-.9 1.5-.8 1.5-.9 1.5-.9 1.5-.9 1.5-1 1.5-.9 1.5-.8 1.5-.9 1.5-.8 1.5-.9 1.5-.9 1.5-1 1.5-.9 1.5-.8 1.5-.7 1.5-.5 1.5-.2 1.5 0 1.5 0 1.5 .2 1.5 .2 1.5 .2 1.5 .3 1.5 .3 1.5 .3 1.5 .3 1.5 .3 1.5 .3 1.5 .5 1.5 .5 1.5 .6 1.5 .6 1.5 .5 1.5 .5 1.5 .4 1.5 .2 1.5 0 1.5 0 1.5-.1 1.5-.1 1.5-.1 1.5-.2 1.5-.1 1.5-.2 1.5-.1 1.5-.2 1.5-.3 1.5-.3 1.5-.3 1.5-.4 1.5-.5 1.5-.4 1.5-.5 1.5-.4 1.5-.5 1.5-.5 1.5-.4 1.5-.6 1.5-.5 1.5-.6 1.5-.6 1.5-.5 1.5-.6 1.5-.4 1.5-.5 1.5-.4 1.5-.3 1.5-.4 1.5-.4 1.5-.4 1.5-.3 1.5-.2 1.5-.1 1.5-.1 1.5 .1 1.5 .3 1.5 .5 1.5 .7 1.5 .7 1.5 .8 1.5 .8 1.5 .8 1.5 .9 1.5 .9 1.5 1.1 1.5 1 1.5 1.1 1.5 1 1.5 1.1 1.5 1.1 1.5 1.1 1.5 .9 1.5 .8 1.5 .6 1.5 .3 1.5 .4 1.5 .3 1.5 .2 1.5 .3 1.5 .2 1.5 .2 1.5 .1 1.5 .1 1.5 .1 1.5 0 1.5 .1 1.5 0 1.5 .1 1.5 0 1.5 0 1.5 0 1.5 0 1.5 0 1.5 0 1.5 0 1.5-.3 1.5-.3 1.5-.5 1.5-.5 1.5-.5 1.5-.6 1.5-.5 1.5-.6 1.5-.4 1.5-.4 1.5-.5 1.5-.5 1.5-.5 1.5-.5 1.5-.4 1.5-.3 1.5-.1" stroke="#2ca02c" stroke-width="1.15"/>
<path d="M353.5 300.8l1.5 .5 1.5 .9 1.5 1.2 1.5 1.3 1.5 1.2 1.5 1.1 1.5 1 1.5 .9 1.5 1 1.5 .9 1.5 1 1.5 .9 1.5 .8 1.5 .8 1.5 .7 1.5 .8 1.5 .6 1.5 .1 1.5 0 1.5 0 1.5 0 1.5 0 1.5-.1 1.5 0 1.5 0 1.5-.1 1.5 0 1.5 0 1.5-.1 1.5 0 1.5-.1 1.5-.1 1.5 0 1.5-.1 1.5-.1 1.5 0 1.5-.2 1.5-.3 1.5-.4 1.5-.4 1.5-.6 1.5-.6 1.5-.7 1.5-.7 1.5-.6 1.5-.7 1.5-.7 1.5-.6 1.5-.8 1.5-.9 1.5-.9 1.5-.8 1.5-.6 1.5-.3 1.5 0 1.5 .2 1.5 .2 1.5 .3 1.5 .3 1.5 .4 1.5 .5 1.5 .4 1.5 .4 1.5 .4 1.5 .4 1.5 .5 1.5 .5 1.5 .5 1.5 .6 1.5 .5 1.5 .4 1.5 .3 1.5 .2 1.5 0 1.5 0 1.5-.1 1.5-.1 1.5-.2 1.5-.2 1.5-.2 1.5-.3 1.5-.4 1.5-.4 1.5-.5 1.5-.6 1.5-.6 1.5-.6 1.5-.8 1.5-.8" stroke="#2ca02c" stroke-width="1.15" stroke-dasharray="3.6 1.2"/>
<path d="M42.83 310.86L45.3 306.7L40.36 306.7Z" fill="#2ca02c"/><path d="M70.51 312.09L72.98 307.93L68.04 307.93Z" fill="#2ca02c"/><path d="M98.18 315.48L100.65 311.32L95.71 311.32Z" fill="#2ca02c"/><path d="M125.86 324.53L128.33 320.37L123.39 320.37Z" fill="#2ca02c"/><path d="M153.53 312.51L156 308.35L151.06 308.35Z" fill="#2ca02c"/><path d="M181.21 298.37L183.68 294.21L178.74 294.21Z" fill="#2ca02c"/><path d="M208.88 304.6L211.35 300.44L206.41 300.44Z" fill="#2ca02c"/><path d="M236.56 299.88L239.03 295.72L234.09 295.72Z" fill="#2ca02c"/><path d="M264.23 292.11L266.7 287.95L261.76 287.95Z" fill="#2ca02c"/><path d="M291.91 306.98L294.38 302.82L289.44 302.82Z" fill="#2ca02c"/><path d="M319.58 310.81L322.05 306.65L317.11 306.65Z" fill="#2ca02c"/><path d="M347.26 304.3L349.73 300.14L344.79 300.14Z" fill="#2ca02c"/><path d="M353.1 303.36L355.57 299.2L350.63 299.2Z" fill="#2ca02c"/><path d="M380.78 319.1L383.25 314.94L378.31 314.94Z" fill="#2ca02c"/><path d="M408.45 318.27L410.92 314.11L405.98 314.11Z" fill="#2ca02c"/><path d="M436.13 307.63L438.6 303.47L433.66 303.47Z" fill="#2ca02c"/><path d="M463.8 314.6L466.27 310.44L461.33 310.44Z" fill="#2ca02c"/>
<path d="M43 303.2l1.5-.3 1.5-.2 1.5-.2 1.5-.2 1.5-.1 1.5-.1 1.5-.2 1.5-.1 1.5 0 1.5-.1 1.5-.1 1.5 0 1.5 0 1.5-.1 1.5 0 1.5 0 1.5 0 1.5 0 1.5 0 1.5 0 1.5 .1 1.5 .2 1.5 .2 1.5 .2 1.5 .3 1.5 .4 1.5 .3 1.5 .4 1.5 .3 1.5 .3 1.5 .4 1.5 .4 1.5 .5 1.5 .4 1.5 .5 1.5 .5 1.5 .6 1.5 .5 1.5 .5 1.5 .6 1.5 .6 1.5 .6 1.5 .7 1.5 .6 1.5 .7 1.5 .6 1.5 .6 1.5 .5 1.5 .5 1.5 .6 1.5 .6 1.5 .6 1.5 .5 1.5 .5 1.5 .4 1.5 .3 1.5 .2 1.5 0 1.5-.1 1.5-.4 1.5-.5 1.5-.7 1.5-.7 1.5-.8 1.5-.8 1.5-.8 1.5-.7 1.5-.7 1.5-.6 1.5-.7 1.5-.6 1.5-.7 1.5-.7 1.5-.6 1.5-.7 1.5-.6 1.5-.6 1.5-.7 1.5-.6 1.5-.6 1.5-.7 1.5-.6 1.5-.7 1.5-.6 1.5-.5 1.5-.5 1.5-.4 1.5-.3 1.5-.3 1.5-.2 1.5-.3 1.5-.2 1.5-.2 1.5-.2 1.5-.1 1.5-.2 1.5 0 1.5-.1 1.5 .1 1.5 .3 1.5 .4 1.5 .5 1.5 .6 1.5 .6 1.5 .6 1.5 .6 1.5 .6 1.5 .5 1.5 .5 1.5 .5 1.5 .6 1.5 .6 1.5 .5 1.5 .5 1.5 .4 1.5 .3 1.5 .1 1.5-.1 1.5-.3 1.5-.5 1.5-.6 1.5-.7 1.5-.7 1.5-.8 1.5-.7 1.5-.6 1.5-.6 1.5-.7 1.5-.7 1.5-.7 1.5-.6 1.5-.7 1.5-.6 1.5-.4 1.5-.3 1.5-.2 1.5 0 1.5 .1 1.5 .2 1.5 .2 1.5 .3 1.5 .3 1.5 .3 1.5 .4 1.5 .3 1.5 .4 1.5 .4 1.5 .6 1.5 .6 1.5 .6 1.5 .8 1.5 .7 1.5 .8 1.5 .7 1.5 .7 1.5 .6 1.5 .6 1.5 .6 1.5 .6 1.5 .5 1.5 .6 1.5 .5 1.5 .6 1.5 .5 1.5 .5 1.5 .5 1.5 .5 1.5 .6 1.5 .6 1.5 .6 1.5 .6 1.5 .6 1.5 .4 1.5 .4 1.5 .3 1.5 .1 1.5 0 1.5-.2 1.5-.4 1.5-.5 1.5-.6 1.5-.6 1.5-.7 1.5-.6 1.5-.6 1.5-.5 1.5-.4 1.5-.5 1.5-.4 1.5-.4 1.5-.4 1.5-.4 1.5-.4 1.5-.4 1.5-.5 1.5-.5 1.5-.6 1.5-.6 1.5-.8 1.5-.7 1.5-.8 1.5-.7 1.5-.6 1.5-.5 1.5-.4 1.5-.2" stroke="#d62728" stroke-width="1.15"/>
<path d="M353.5 300.8l1.5 0 1.5 0 1.5 0 1.5 0 1.5 0 1.5 0 1.5 .1 1.5 0 1.5 0 1.5 .1 1.5 0 1.5 .1 1.5 .1 1.5 .1 1.5 .2 1.5 .2 1.5 .2 1.5 .2 1.5 .2 1.5 .2 1.5 .2 1.5 .2 1.5 0 1.5 .1 1.5 0 1.5 0 1.5 0 1.5-.1 1.5 0 1.5-.1 1.5 0 1.5-.1 1.5-.1 1.5-.1 1.5-.1 1.5-.1 1.5-.1 1.5-.1 1.5-.1 1.5-.1 1.5-.2 1.5-.2 1.5-.3 1.5-.3 1.5-.4 1.5-.4 1.5-.4 1.5-.4 1.5-.4 1.5-.4 1.5-.4 1.5-.3 1.5-.4 1.5-.3 1.5-.2 1.5-.2 1.5-.1 1.5-.1 1.5 0 1.5 .3 1.5 .4 1.5 .5 1.5 .7 1.5 .8 1.5 .9 1.5 .9 1.5 1 1.5 1 1.5 1 1.5 1 1.5 .9 1.5 .9 1.5 .8 1.5 .7 1.5 .5 1.5 .4 1.5 .3 1.5 0 1.5 0 1.5-.1 1.5 0 1.5-.1 1.5-.2 1.5-.2 1.5-.2 1.5-.3 1.5-.4 1.5-.4 1.5-.5" stroke="#d62728" stroke-width="1.15" stroke-dasharray="3.6 1.2"/>
<path d="M42.83 300.63L45.3 304.79L40.36 304.79Z" fill="#d62728"/><path d="M72.2 298.9L74.67 303.06L69.73 303.06Z" fill="#d62728"/><path d="M101.58 305.95L104.05 310.11L99.11 310.11Z" fill="#d62728"/><path d="M130.95 315.55L133.42 319.71L128.48 319.71Z" fill="#d62728"/><path d="M160.33 302.81L162.8 306.97L157.86 306.97Z" fill="#d62728"/><path d="M189.7 295.65L192.17 299.81L187.23 299.81Z" fill="#d62728"/><path d="M219.08 304.39L221.55 308.55L216.61 308.55Z" fill="#d62728"/><path d="M248.45 293.92L250.92 298.08L245.98 298.08Z" fill="#d62728"/><path d="M277.83 303.28L280.3 307.44L275.36 307.44Z" fill="#d62728"/><path d="M307.2 313.15L309.67 317.31L304.73 317.31Z" fill="#d62728"/><path d="M336.58 304.29L339.05 308.45L334.11 308.45Z" fill="#d62728"/><path d="M353.1 298.15L355.57 302.31L350.63 302.31Z" fill="#d62728"/><path d="M382.47 299.81L384.94 303.97L380 303.97Z" fill="#d62728"/><path d="M411.85 299.45L414.32 303.61L409.38 303.61Z" fill="#d62728"/><path d="M441.22 293.9L443.69 298.06L438.75 298.06Z" fill="#d62728"/><path d="M470.6 306.9L473.07 311.06L468.13 311.06Z" fill="#d62728"/>
<path d="M43 302l1.5-.2 1.5-.2 1.5-.1 1.5-.1 1.5-.1 1.5-.1 1.5-.1 1.5 0 1.5-.1 1.5 0 1.5 0 1.5 0 1.5 .1 1.5 0 1.5 .1 1.5 .2 1.5 .1 1.5 .2 1.5 .1 1.5 .2 1.5 .1 1.5 .2 1.5 .2 1.5 .3 1.5 .2 1.5 .3 1.5 .3 1.5 .3 1.5 .3 1.5 .3 1.5 .4 1.5 .4 1.5 .4 1.5 .6 1.5 .6 1.5 .6 1.5 .7 1.5 .6 1.5 .7 1.5 .6 1.5 .7 1.5 .6 1.5 .6 1.5 .8 1.5 .7 1.5 .8 1.5 .7 1.5 .7 1.5 .7 1.5 .5 1.5 .5 1.5 .4 1.5 .3 1.5 .1 1.5 0 1.5-.1 1.5-.1 1.5-.3 1.5-.2 1.5-.4 1.5-.3 1.5-.4 1.5-.5 1.5-.7 1.5-.9 1.5-1 1.5-1.1 1.5-1 1.5-1.1 1.5-1 1.5-.8 1.5-.8 1.5-.8 1.5-.8 1.5-.8 1.5-.8 1.5-.7 1.5-.7 1.5-.6 1.5-.6 1.5-.4 1.5-.4 1.5-.1 1.5-.2 1.5-.1 1.5-.1 1.5-.1 1.5 0 1.5-.1 1.5-.1 1.5 0 1.5-.1 1.5 0 1.5 0 1.5 0 1.5 .1 1.5 .2 1.5 .3 1.5 .3 1.5 .3 1.5 .4 1.5 .2 1.5 .2 1.5 .1 1.5 .1 1.5 .2 1.5 .1 1.5 .1 1.5 0 1.5 .1 1.5 .1 1.5 .1 1.5 0 1.5 .1 1.5 0 1.5 .1 1.5 0 1.5 0 1.5 .1 1.5 0 1.5 0 1.5 0 1.5 0 1.5 0 1.5 0 1.5-.2 1.5-.2 1.5-.3 1.5-.3 1.5-.4 1.5-.4 1.5-.4 1.5-.4 1.5-.4 1.5-.3 1.5-.4 1.5-.4 1.5-.5 1.5-.5 1.5-.4 1.5-.4 1.5-.4 1.5-.2 1.5-.2 1.5 0 1.5 .2 1.5 .2 1.5 .5 1.5 .5 1.5 .6 1.5 .7 1.5 .8 1.5 .7 1.5 .8 1.5 .8 1.5 .9 1.5 1.1 1.5 1.1 1.5 1.3 1.5 1.2 1.5 1.2 1.5 1.2 1.5 1.4 1.5 1.1 1.5 .6 1.5 .4 1.5 .3 1.5 .3 1.5 .3 1.5 .3 1.5 .2 1.5 .2 1.5 .1 1.5 .1 1.5 .1 1.5 0 1.5 0 1.5 0 1.5-.2 1.5-.2 1.5-.2 1.5-.3 1.5-.3 1.5-.4 1.5-.4 1.5-.3 1.5-.4 1.5-.6 1.5-.7 1.5-.8 1.5-.8 1.5-.9 1.5-.9 1.5-.8 1.5-.8 1.5-.7 1.5-.7 1.5-.6 1.5-.7 1.5-.7 1.5-.6 1.5-.6 1.5-.5 1.5-.4 1.5-.3 1.5-.1" stroke="#9467bd" stroke-width="1.15"/>
<path d="M353.5 300.8l1.5 .1 1.5 .1 1.5 .2 1.5 .2 1.5 .3 1.5 .3 1.5 .4 1.5 .3 1.5 .3 1.5 .4 1.5 .5 1.5 .7 1.5 .6 1.5 .7 1.5 .7 1.5 .6 1.5 .5 1.5 .4 1.5 .1 1.5 0 1.5-.1 1.5-.2 1.5-.3 1.5-.4 1.5-.4 1.5-.5 1.5-.5 1.5-.5 1.5-.4 1.5-.5 1.5-.4 1.5-.4 1.5-.5 1.5-.4 1.5-.5 1.5-.5 1.5-.4 1.5-.5 1.5-.3 1.5-.3 1.5-.2 1.5-.1 1.5-.2 1.5-.1 1.5-.2 1.5-.1 1.5-.1 1.5-.1 1.5-.1 1.5-.1 1.5-.1 1.5-.1 1.5-.1 1.5-.1 1.5 0 1.5-.1 1.5 0 1.5-.1 1.5 0 1.5 0 1.5 0 1.5 0 1.5 .1 1.5 .3 1.5 .4 1.5 .6 1.5 .6 1.5 .8 1.5 .7 1.5 .9 1.5 .8 1.5 .8 1.5 .8 1.5 .7 1.5 .7 1.5 .7 1.5 .8 1.5 .8 1.5 .8 1.5 .7 1.5 .7 1.5 .6 1.5 .6 1.5 .4 1.5 .5 1.5 .4 1.5 .4 1.5 .3 1.5 .3" stroke="#9467bd" stroke-width="1.15" stroke-dasharray="3.6 1.2"/>
<rect x="40.93" y="300.08" width="3.8" height="3.8" fill="#9467bd"/><rect x="72" y="300.17" width="3.8" height="3.8" fill="#9467bd"/><rect x="103.08" y="309.04" width="3.8" height="3.8" fill="#9467bd"/><rect x="134.15" y="314.52" width="3.8" height="3.8" fill="#9467bd"/><rect x="165.23" y="298.88" width="3.8" height="3.8" fill="#9467bd"/><rect x="196.3" y="300.16" width="3.8" height="3.8" fill="#9467bd"/><rect x="227.37" y="301.34" width="3.8" height="3.8" fill="#9467bd"/><rect x="258.45" y="294.6" width="3.8" height="3.8" fill="#9467bd"/><rect x="289.52" y="311.73" width="3.8" height="3.8" fill="#9467bd"/><rect x="320.6" y="311.35" width="3.8" height="3.8" fill="#9467bd"/><rect x="351.2" y="298.86" width="3.8" height="3.8" fill="#9467bd"/><rect x="382.27" y="306.28" width="3.8" height="3.8" fill="#9467bd"/><rect x="413.35" y="298.08" width="3.8" height="3.8" fill="#9467bd"/><rect x="444.42" y="296.35" width="3.8" height="3.8" fill="#9467bd"/><rect x="475.5" y="310.07" width="3.8" height="3.8" fill="#9467bd"/>
<path d="M43 303.2l1.5-.1 1.5-.1 1.5-.1 1.5-.1 1.5-.1 1.5-.1 1.5-.1 1.5-.1 1.5-.1 1.5-.1 1.5-.2 1.5-.1 1.5-.1 1.5-.1 1.5-.1 1.5-.1 1.5-.2 1.5-.1 1.5-.1 1.5-.2 1.5-.1 1.5-.2 1.5-.3 1.5-.2 1.5-.3 1.5-.3 1.5-.3 1.5-.3 1.5-.3 1.5-.2 1.5-.3 1.5-.3 1.5-.3 1.5-.3 1.5-.3 1.5-.4 1.5-.3 1.5-.3 1.5-.3 1.5-.2 1.5-.2 1.5-.1 1.5-.1 1.5 0 1.5 .2 1.5 .4 1.5 .4 1.5 .6 1.5 .5 1.5 .6 1.5 .6 1.5 .6 1.5 .5 1.5 .4 1.5 .3 1.5 .2 1.5 .3 1.5 .2 1.5 .3 1.5 .2 1.5 .2 1.5 .2 1.5 .1 1.5 .1 1.5 .1 1.5 0 1.5 0 1.5-.2 1.5-.1 1.5-.3 1.5-.2 1.5-.3 1.5-.4 1.5-.3 1.5-.3 1.5-.3 1.5-.3 1.5-.3 1.5-.3 1.5-.3 1.5-.3 1.5-.3 1.5-.3 1.5-.2 1.5-.2 1.5-.1 1.5 0 1.5 .1 1.5 .1 1.5 .1 1.5 .2 1.5 .2 1.5 .2 1.5 .2 1.5 .2 1.5 .3 1.5 .2 1.5 .2 1.5 .2 1.5 .3 1.5 .3 1.5 .2 1.5 .3 1.5 .3 1.5 .4 1.5 .3 1.5 .2 1.5 .3 1.5 .3 1.5 .2 1.5 .3 1.5 .2 1.5 .3 1.5 .2 1.5 .3 1.5 .2 1.5 .2 1.5 .3 1.5 .2 1.5 .2 1.5 .2 1.5 .3 1.5 .2 1.5 .3 1.5 .2 1.5 .3 1.5 .2 1.5 .2 1.5 .2 1.5 .1 1.5 .1 1.5 0 1.5-.3 1.5-.3 1.5-.5 1.5-.6 1.5-.6 1.5-.6 1.5-.7 1.5-.6 1.5-.6 1.5-.6 1.5-.6 1.5-.7 1.5-.7 1.5-.7 1.5-.7 1.5-.6 1.5-.6 1.5-.5 1.5-.4 1.5-.3 1.5 0 1.5 0 1.5 .2 1.5 .4 1.5 .4 1.5 .5 1.5 .6 1.5 .6 1.5 .6 1.5 .6 1.5 .5 1.5 .5 1.5 .4 1.5 .5 1.5 .4 1.5 .4 1.5 .5 1.5 .4 1.5 .4 1.5 .3 1.5 .2 1.5 .2 1.5 .1 1.5 .1 1.5 .1 1.5 0 1.5 .1 1.5 0 1.5 .1 1.5 0 1.5 .1 1.5 0 1.5 0 1.5 0 1.5 0 1.5 0 1.5 0 1.5-.1 1.5 0 1.5-.1 1.5 0 1.5-.1 1.5-.1 1.5-.1 1.5-.1 1.5-.2 1.5-.4 1.5-.4 1.5-.5 1.5-.5 1.5-.5 1.5-.4 1.5-.3 1.5-.2" stroke="#8c564b" stroke-width="1.15"/>
<path d="M353.5 301l1.5 .1 1.5 .1 1.5 .1 1.5 .2 1.5 .1 1.5 .2 1.5 .1 1.5 .1 1.5 0 1.5 0 1.5 0 1.5 0 1.5 0 1.5 0 1.5 0 1.5 0 1.5 0 1.5 0 1.5 0 1.5 0 1.5 0 1.5 0 1.5 .1 1.5 0 1.5 .1 1.5 .1 1.5 .1 1.5 .2 1.5 .1 1.5 .2 1.5 .1 1.5 .2 1.5 .2 1.5 .1 1.5 .2 1.5 .2 1.5 .1 1.5 .1 1.5 .1 1.5 .1 1.5 .1 1.5 .1 1.5 0 1.5 0 1.5-.1 1.5-.3 1.5-.3 1.5-.5 1.5-.5 1.5-.6 1.5-.6 1.5-.7 1.5-.7 1.5-.8 1.5-.7 1.5-.7 1.5-.7 1.5-.7 1.5-.6 1.5-.6 1.5-.4 1.5-.4 1.5-.3 1.5-.2 1.5-.1 1.5 0 1.5 .1 1.5 0 1.5 .2 1.5 .1 1.5 .2 1.5 .2 1.5 .3 1.5 .2 1.5 .4 1.5 .3 1.5 .4 1.5 .5 1.5 .4 1.5 .5 1.5 .6 1.5 .6 1.5 .6 1.5 .7 1.5 .7 1.5 .8 1.5 .8 1.5 .8 1.5 .9" stroke="#8c564b" stroke-width="1.15" stroke-dasharray="3.6 1.2"/>
<path d="M42.83 301.14L44.65 302.19L44.65 304.29L42.83 305.34L41.01 304.29L41.01 302.19Z" fill="#8c564b"/><path d="M75.6 298.51L77.42 299.56L77.42 301.66L75.6 302.71L73.78 301.66L73.78 299.56Z" fill="#8c564b"/><path d="M108.38 292.91L110.2 293.96L110.2 296.06L108.38 297.11L106.56 296.06L106.56 293.96Z" fill="#8c564b"/><path d="M141.15 299.89L142.97 300.94L142.97 303.04L141.15 304.09L139.33 303.04L139.33 300.94Z" fill="#8c564b"/><path d="M173.92 294.92L175.74 295.97L175.74 298.07L173.92 299.12L172.1 298.07L172.1 295.97Z" fill="#8c564b"/><path d="M206.7 300.02L208.52 301.07L208.52 303.17L206.7 304.22L204.88 303.17L204.88 301.07Z" fill="#8c564b"/><path d="M239.47 304.9L241.29 305.95L241.29 308.05L239.47 309.1L237.65 308.05L237.65 305.95Z" fill="#8c564b"/><path d="M272.24 293.65L274.06 294.7L274.06 296.8L272.24 297.85L270.42 296.8L270.42 294.7Z" fill="#8c564b"/><path d="M305.02 302.4L306.84 303.45L306.84 305.55L305.02 306.6L303.2 305.55L303.2 303.45Z" fill="#8c564b"/><path d="M337.79 302.38L339.61 303.43L339.61 305.53L337.79 306.58L335.97 305.53L335.97 303.43Z" fill="#8c564b"/><path d="M353.1 298.9L354.92 299.95L354.92 302.05L353.1 303.1L351.28 302.05L351.28 299.95Z" fill="#8c564b"/><path d="M385.87 299.9L387.69 300.95L387.69 303.05L385.87 304.1L384.05 303.05L384.05 300.95Z" fill="#8c564b"/><path d="M418.65 302.4L420.47 303.45L420.47 305.55L418.65 306.6L416.83 305.55L416.83 303.45Z" fill="#8c564b"/><path d="M451.42 291.9L453.24 292.95L453.24 295.05L451.42 296.1L449.6 295.05L449.6 292.95Z" fill="#8c564b"/><path d="M484.19 300.59L486.01 301.64L486.01 303.74L484.19 304.79L482.37 303.74L482.37 301.64Z" fill="#8c564b"/>
<path d="M43 303.2l1.5 0 1.5-.1 1.5-.1 1.5-.1 1.5-.1 1.5-.2 1.5-.2 1.5-.2 1.5-.3 1.5-.2 1.5-.3 1.5-.2 1.5-.3 1.5-.3 1.5-.4 1.5-.5 1.5-.5 1.5-.5 1.5-.6 1.5-.6 1.5-.6 1.5-.5 1.5-.6 1.5-.5 1.5-.5 1.5-.4 1.5-.6 1.5-.5 1.5-.5 1.5-.5 1.5-.5 1.5-.3 1.5-.3 1.5-.2 1.5 0 1.5 .2 1.5 .4 1.5 .5 1.5 .7 1.5 .8 1.5 .8 1.5 .8 1.5 .7 1.5 .7 1.5 .6 1.5 .5 1.5 .5 1.5 .4 1.5 .5 1.5 .4 1.5 .4 1.5 .3 1.5 .4 1.5 .2 1.5 .3 1.5 .2 1.5 .2 1.5 .2 1.5 .3 1.5 .2 1.5 .2 1.5 .1 1.5 .2 1.5 .2 1.5 .1 1.5 .1 1.5 .1 1.5 0 1.5 0 1.5 0 1.5-.1 1.5-.2 1.5-.2 1.5-.4 1.5-.3 1.5-.5 1.5-.4 1.5-.5 1.5-.5 1.5-.5 1.5-.5 1.5-.5 1.5-.5 1.5-.6 1.5-.8 1.5-.8 1.5-.8 1.5-.8 1.5-.7 1.5-.6 1.5-.4 1.5-.1 1.5 .1 1.5 .3 1.5 .4 1.5 .6 1.5 .6 1.5 .7 1.5 .8 1.5 .7 1.5 .8 1.5 .7 1.5 .6 1.5 .6 1.5 .6 1.5 .7 1.5 .7 1.5 .7 1.5 .7 1.5 .6 1.5 .6 1.5 .4 1.5 .4 1.5 .2 1.5 0 1.5 0 1.5-.1 1.5 0 1.5-.1 1.5-.1 1.5-.1 1.5-.1 1.5-.1 1.5-.2 1.5-.1 1.5-.1 1.5-.1 1.5-.1 1.5-.2 1.5-.1 1.5-.1 1.5-.2 1.5-.1 1.5-.2 1.5-.2 1.5-.2 1.5-.2 1.5-.3 1.5-.4 1.5-.6 1.5-.7 1.5-.9 1.5-.9 1.5-.8 1.5-.8 1.5-.6 1.5-.4 1.5-.1 1.5 0 1.5 0 1.5 .1 1.5 .1 1.5 .2 1.5 .1 1.5 .2 1.5 .2 1.5 .1 1.5 .2 1.5 .2 1.5 .2 1.5 .2 1.5 .2 1.5 .2 1.5 .2 1.5 .2 1.5 .2 1.5 .3 1.5 .2 1.5 .3 1.5 .2 1.5 .3 1.5 .3 1.5 .4 1.5 .5 1.5 .5 1.5 .5 1.5 .5 1.5 .5 1.5 .4 1.5 .4 1.5 .3 1.5 .2 1.5 .1 1.5 0 1.5-.1 1.5-.1 1.5-.2 1.5-.2 1.5-.2 1.5-.3 1.5-.3 1.5-.3 1.5-.3 1.5-.3 1.5-.3 1.5-.5 1.5-.6 1.5-.6 1.5-.8 1.5-.8 1.5-.8 1.5-.8 1.5-.8 1.5-.6 1.5-.6 1.5-.4" stroke="#e377c2" stroke-width="1.15"/>
<path d="M353.5 294.3l1.5-.3 1.5-.2 1.5-.2 1.5-.2 1.5-.1 1.5-.1 1.5 .1 1.5 .1 1.5 .2 1.5 .2 1.5 .3 1.5 .3 1.5 .4 1.5 .4 1.5 .5 1.5 .4 1.5 .5 1.5 .6 1.5 1.1 1.5 1.4 1.5 1.4 1.5 1.1 1.5 .4 1.5 .2 1.5 .1 1.5 .2 1.5 .2 1.5 .1 1.5 .1 1.5 .2 1.5 .1 1.5 .1 1.5 .1 1.5 .1 1.5 .1 1.5 0 1.5 .1 1.5 0 1.5 .1 1.5 0 1.5 0 1.5 .1 1.5 0 1.5 0 1.5 0 1.5-.1 1.5-.1 1.5-.2 1.5-.4 1.5-.4 1.5-.4 1.5-.5 1.5-.6 1.5-.6 1.5-.6 1.5-.6 1.5-.7 1.5-.6 1.5-.6 1.5-.6 1.5-.6 1.5-.5 1.5-.5 1.5-.4 1.5-.4 1.5-.3 1.5-.2 1.5-.1 1.5 0 1.5 .1 1.5 .1 1.5 .1 1.5 .2 1.5 .3 1.5 .3 1.5 .3 1.5 .4 1.5 .4 1.5 .5 1.5 .5 1.5 .6 1.5 .6 1.5 .7 1.5 .7 1.5 .7 1.5 .8 1.5 .8 1.5 .8 1.5 .9" stroke="#e377c2" stroke-width="1.15" stroke-dasharray="3.6 1.2"/>
<path d="M42.83 300.5L45.58 303.25L42.83 306L40.08 303.25Z" fill="#e377c2"/><path d="M77.3 293.13L80.05 295.88L77.3 298.63L74.55 295.88Z" fill="#e377c2"/><path d="M111.78 294.89L114.53 297.64L111.78 300.39L109.03 297.64Z" fill="#e377c2"/><path d="M146.25 300.5L149 303.25L146.25 306L143.5 303.25Z" fill="#e377c2"/><path d="M180.72 289.76L183.47 292.51L180.72 295.26L177.97 292.51Z" fill="#e377c2"/><path d="M215.19 302.25L217.94 305L215.19 307.75L212.44 305Z" fill="#e377c2"/><path d="M249.67 299.31L252.42 302.06L249.67 304.81L246.92 302.06Z" fill="#e377c2"/><path d="M284.14 294.8L286.89 297.55L284.14 300.3L281.39 297.55Z" fill="#e377c2"/><path d="M318.61 301.74L321.36 304.49L318.61 307.24L315.86 304.49Z" fill="#e377c2"/><path d="M353.1 291.64L355.85 294.39L353.1 297.14L350.35 294.39Z" fill="#e377c2"/><path d="M387.57 299.76L390.32 302.51L387.57 305.26L384.82 302.51Z" fill="#e377c2"/><path d="M422.05 301.72L424.8 304.47L422.05 307.22L419.3 304.47Z" fill="#e377c2"/><path d="M456.52 291.75L459.27 294.5L456.52 297.25L453.77 294.5Z" fill="#e377c2"/>
<path d="M43 302l1.5-.1 1.5-.1 1.5-.1 1.5-.1 1.5-.1 1.5-.2 1.5-.1 1.5-.2 1.5-.1 1.5-.2 1.5-.1 1.5-.2 1.5-.2 1.5-.2 1.5-.2 1.5-.2 1.5-.2 1.5-.3 1.5-.2 1.5-.3 1.5-.2 1.5-.3 1.5-.3 1.5-.3 1.5-.3 1.5-.5 1.5-.5 1.5-.5 1.5-.6 1.5-.6 1.5-.5 1.5-.4 1.5-.4 1.5-.2 1.5 0 1.5 .3 1.5 .4 1.5 .7 1.5 .7 1.5 .8 1.5 .8 1.5 .9 1.5 1.1 1.5 1.3 1.5 1.3 1.5 1.1 1.5 .7 1.5 .4 1.5 .2 1.5 .1 1.5 .2 1.5 .1 1.5 .2 1.5 0 1.5 .1 1.5 .1 1.5 0 1.5 0 1.5 0 1.5 0 1.5 0 1.5 0 1.5 0 1.5 0 1.5 0 1.5 0 1.5 0 1.5 0 1.5 0 1.5 0 1.5 0 1.5 0 1.5 0 1.5-.2 1.5-.3 1.5-.5 1.5-.6 1.5-.6 1.5-.7 1.5-.6 1.5-.7 1.5-.5 1.5-.4 1.5-.5 1.5-.4 1.5-.4 1.5-.5 1.5-.4 1.5-.4 1.5-.4 1.5-.4 1.5-.3 1.5-.3 1.5-.2 1.5-.1 1.5-.1 1.5 0 1.5 .2 1.5 .2 1.5 .3 1.5 .4 1.5 .4 1.5 .5 1.5 .4 1.5 .5 1.5 .4 1.5 .4 1.5 .3 1.5 .3 1.5 .3 1.5 .3 1.5 .3 1.5 .4 1.5 .3 1.5 .3 1.5 .2 1.5 .2 1.5 .2 1.5 .1 1.5 .1 1.5 0 1.5-.1 1.5-.2 1.5-.3 1.5-.3 1.5-.4 1.5-.4 1.5-.5 1.5-.4 1.5-.5 1.5-.5 1.5-.4 1.5-.4 1.5-.4 1.5-.3 1.5-.3 1.5-.3 1.5-.4 1.5-.3 1.5-.3 1.5-.3 1.5-.2 1.5-.2 1.5-.1 1.5 0 1.5 0 1.5 0 1.5 0 1.5 0 1.5 0 1.5 0 1.5 0 1.5 0 1.5 0 1.5 0 1.5 0 1.5 0 1.5 0 1.5 .1 1.5 .4 1.5 .5 1.5 .7 1.5 .7 1.5 .8 1.5 .8 1.5 .8 1.5 .6 1.5 .5 1.5 .4 1.5 .3 1.5 .2 1.5 .3 1.5 .2 1.5 .3 1.5 .2 1.5 .2 1.5 .1 1.5 .2 1.5 .1 1.5 .1 1.5 0 1.5 0 1.5 0 1.5-.1 1.5 0 1.5-.1 1.5-.1 1.5-.1 1.5-.1 1.5-.1 1.5-.1 1.5-.2 1.5-.1 1.5-.2 1.5-.3 1.5-.4 1.5-.4 1.5-.6 1.5-.5 1.5-.5 1.5-.5 1.5-.5 1.5-.4 1.5-.3 1.5-.3 1.5-.1" stroke="#7f7f7f" stroke-width="1.15"/>
<path d="M353.5 297l1.5 0 1.5 .1 1.5 0 1.5 .1 1.5 .1 1.5 .1 1.5 .1 1.5 .1 1.5 .1 1.5 .2 1.5 .1 1.5 .2 1.5 .3 1.5 .3 1.5 .4 1.5 .4 1.5 .5 1.5 .4 1.5 .5 1.5 .3 1.5 .3 1.5 .3 1.5 .1 1.5 0 1.5 0 1.5-.1 1.5 0 1.5-.1 1.5 0 1.5-.1 1.5-.1 1.5-.1 1.5-.1 1.5-.1 1.5-.2 1.5-.1 1.5-.1 1.5-.2 1.5-.1 1.5-.1 1.5-.2 1.5-.1 1.5-.1 1.5-.2 1.5-.1 1.5-.1 1.5-.1 1.5-.1 1.5-.1 1.5-.1 1.5-.1 1.5-.2 1.5-.1 1.5-.1 1.5-.1 1.5-.1 1.5-.1 1.5-.1 1.5-.1 1.5-.1 1.5-.1 1.5-.1 1.5-.1 1.5-.1 1.5-.1 1.5-.1 1.5-.1 1.5-.1 1.5-.1 1.5-.1 1.5-.1 1.5-.1 1.5-.1 1.5-.1 1.5-.1 1.5-.1 1.5-.1 1.5-.1 1.5 0 1.5-.1 1.5-.1 1.5-.1 1.5-.1 1.5-.1 1.5-.1 1.5 0 1.5-.1 1.5-.1 1.5-.1" stroke="#7f7f7f" stroke-width="1.15" stroke-dasharray="3.6 1.2"/>
<path d="M42.83 299.19L44.33 301.99L42.83 304.79L41.33 301.99Z" fill="#7f7f7f"/><path d="M79 294.7L80.5 297.5L79 300.3L77.5 297.5Z" fill="#7f7f7f"/><path d="M115.17 300.69L116.67 303.49L115.17 306.29L113.67 303.49Z" fill="#7f7f7f"/><path d="M151.35 301.7L152.85 304.5L151.35 307.3L149.85 304.5Z" fill="#7f7f7f"/><path d="M187.52 292.2L189.02 295L187.52 297.8L186.02 295Z" fill="#7f7f7f"/><path d="M223.69 299.2L225.19 302L223.69 304.8L222.19 302Z" fill="#7f7f7f"/><path d="M259.86 291.7L261.36 294.5L259.86 297.3L258.36 294.5Z" fill="#7f7f7f"/><path d="M296.03 297.91L297.53 300.71L296.03 303.51L294.53 300.71Z" fill="#7f7f7f"/><path d="M332.21 299.23L333.71 302.03L332.21 304.83L330.71 302.03Z" fill="#7f7f7f"/><path d="M353.1 294.2L354.6 297L353.1 299.8L351.6 297Z" fill="#7f7f7f"/><path d="M389.27 299.2L390.77 302L389.27 304.8L387.77 302Z" fill="#7f7f7f"/><path d="M425.44 296.67L426.94 299.47L425.44 302.27L423.94 299.47Z" fill="#7f7f7f"/><path d="M461.62 294.18L463.12 296.98L461.62 299.78L460.12 296.98Z" fill="#7f7f7f"/>
</g>
<line x1="353.1" y1="278.5" x2="353.1" y2="344" stroke="#000" stroke-width="1.05"/>
<rect x="43" y="278.5" width="444.35" height="65.5" fill="none" stroke="#000" stroke-width="0.62"/>
<line x1="40.7" y1="300.7" x2="43" y2="300.7" stroke="#000" stroke-width="0.62"/>
<text x="39.3" y="303.15" text-anchor="end" textLength="14.2" lengthAdjust="spacingAndGlyphs">−0.8</text>
<line x1="40.7" y1="324.4" x2="43" y2="324.4" stroke="#000" stroke-width="0.62"/>
<text x="39.3" y="326.85" text-anchor="end" textLength="14.2" lengthAdjust="spacingAndGlyphs">−1.0</text>
<line x1="131.5" y1="344" x2="131.5" y2="346.3" stroke="#000" stroke-width="0.62"/>
<line x1="220.17" y1="344" x2="220.17" y2="346.3" stroke="#000" stroke-width="0.62"/>
<line x1="308.84" y1="344" x2="308.84" y2="346.3" stroke="#000" stroke-width="0.62"/>
<line x1="397.51" y1="344" x2="397.51" y2="346.3" stroke="#000" stroke-width="0.62"/>
<text transform="translate(14.4 312.25) rotate(-90)" text-anchor="middle" textLength="7.44" lengthAdjust="spacingAndGlyphs">S1</text>
<text transform="translate(21.4 310.05) rotate(-90)" text-anchor="middle" textLength="29.5" lengthAdjust="spacingAndGlyphs">Δ O<tspan font-size="4.1" dy="1.2">3</tspan><tspan dy="-1.2"> [DU]</tspan></text>
<clipPath id="c5"><rect x="43" y="346.75" width="444.35" height="65.5"/></clipPath>
<g clip-path="url(#c5)" fill="none" stroke-linejoin="round">
<path d="M43 366.8l.8 .2 .8 1.6 .8-.9 .8-.3 .8-.2 .8-1.3 .8-1.1 .8-1.1 .8 1.2 .8 0 .8-.6 .8 0 .8-2 .8 .2 .8-1.2 .8-.3 .8 1.4 .8 .9 .8-1.8 .8-.7 .8 .9 .8 2.6 .8-.4 .8 0 .8 1.1 .8-1.9 .8-2.3 .8 .7 .8 1 .8 1.8 .8-1.6 .8 .4 .8-.1 .8 .1 .8 .6 .8-.1 .8-.6 .8-.3 .8 .6 .8 .2 .8 .8 .8 1.4 .8 .8 .8 .8 .8 .8 .8 1.6 .8-1.3 .8 .2 .8 2 .8-.1 .8 1.1 .8 1.4 .8-.3 .8 .4 .8 1.6 .8 0 .8-.7 .8-.2 .8 .7 .8-.3 .8 .8 .8 1 .8 1.9 .8 .9 .8-.7 .8 .1 .8-.2 .8 .3 .8 1.7 .8 1.7 .8 .8 .8 .3 .8-1 .8-.9 .8 3.4 .8 2 .8 .3 .8 .6 .8 1.3 .8 1.6 .8-.7 .8 .9 .8 .4 .8 .1 .8-.1 .8 0 .8 .4 .8 1.8 .8 .1 .8-.4 .8 .6 .8 1.1 .8 2.5 .8-.2 .8 0 .8-.2 .8 1.9 .8 3.1 .8 0 .8-1 .8-.7 .8-2.1 .8-2.8 .8-2 .8-1.7 .8-.9 .8 .3 .8-2.3 .8-.5 .8-1.1 .8 .7 .8 2 .8 .8 .8-.1 .8-.6 .8-.4 .8 .1 .8 .6 .8 .9 .8-.8 .8-2.7 .8-2.9 .8-1.8 .8-.2 .8-1.6 .8-1.7 .8 1.1 .8-1.4 .8-1.8 .8-1.6 .8-.5 .8 .2 .8-1.6 .8-.2 .8 .5 .8 .3 .8-1.6 .8-1.7 .8-.6 .8 .8 .8-.3 .8-1.4 .8 0 .8-1.2 .8-1.8 .8 .4 .8 1.9 .8 .7 .8-1.1 .8-1.5 .8-.5 .8 .8 .8-.5 .8-1.3 .8 1.1 .8-.1 .8 1 .8 .5 .8 .4 .8 .5 .8-.6 .8-1.5 .8 .4 .8 2.1 .8-.2 .8-1.9 .8 .2 .8 3.4 .8 2 .8-.9 .8-1 .8-.6 .8-1.9 .8 1.5 .8 2.6 .8-.3 .8-1.8 .8 2 .8 .5 .8-.2 .8-1 .8-.5 .8-.6 .8 1 .8 .4 .8-1.3 .8 .3 .8-.1 .8 1.1 .8-.7 .8-2.4 .8 1.7 .8 .9 .8-1.3 .8-.3 .8-.2 .8-.6 .8 1.1 .8 1.5 .8-.2 .8 .4 .8-.1 .8-.4 .8-.8 .8 .6 .8 1.2 .8-.6 .8-1.7 .8-1.5 .8-.2 .8 1 .8-.2 .8-1.5 .8 1.2 .8 .7 .8-.4 .8 0 .8 1.9 .8-1.2 .8-2.6 .8 .3 .8 1.5 .8-.1 .8-.7 .8-.5 .8-.7 .8-.9 .8-.7 .8-.5 .8-2.8 .8 .7 .8 1 .8-2.4 .8-1 .8 1.7 .8-1.1 .8-2.4 .8-1.5 .8-.5 .8-.5 .8-.6 .8-.6 .8 .2 .8-1.5 .8-1.7 .8 .4 .8 1 .8-1 .8-.4 .8 3.1 .8 .1 .8-1.2 .8 .1 .8 1.3 .8 .7 .8-1.2 .8 .2 .8-.2 .8 .3 .8-1.2 .8-.3 .8 1.8 .8 .9 .8 .5 .8-.2 .8 1.4 .8 .3 .8 .8 .8-.1 .8 1.3 .8-.2 .8 .7 .8 .7 .8-1.4 .8 1.4 .8 2.6 .8-1.3 .8 .7 .8 2.1 .8 1.1 .8-.8 .8 .1 .8-.3 .8 1.3 .8 1.8 .8 .2 .8 0 .8 .7 .8 .3 .8 .2 .8-.2 .8 .1 .8 1.2 .8-.2 .8 2.1 .8 1.9 .8 .3 .8-.3 .8-2.3 .8 0 .8-.3 .8-.4 .8-.6 .8 1.1 .8 2.2 .8 .9 .8 .5 .8 .2 .8-.7 .8-1.2 .8 .6 .8 1.3 .8 .5 .8-1.3 .8-.4 .8 .9 .8 1.9 .8-.4 .8-1.1 .8-.2 .8 .6 .8-1 .8 .7 .8 .3 .8 .2 .8 .9 .8 1.3 .8 1.6 .8-1.9 .8-1 .8-1.9 .8-.8 .8 2.1 .8 .2 .8-2.8 .8-.4 .8 .5 .8-2 .8-2.3 .8 1.5 .8-.3 .8-.6 .8-1.1 .8 .8 .8-.2 .8-1.7 .8-.1 .8-1.1 .8-.8 .8-.6 .8-.2 .8 .2 .8 .9 .8-1.4 .8-.7 .8 1.6 .8 0 .8-.3 .8-.6 .8 .2 .8-.6 .8-.5 .8 1.1 .8 .7 .8 .6 .8 .3 .8-1.2 .8 1.2 .8 .1 .8 .7 .8 1 .8-.2 .8-.1 .8 1 .8 .1 .8 .9 .8 .2 .8-1.5 .8-.7 .8 1.2 .8 1.1 .8-.6 .8-1.6 .8-.5 .8 .7 .8 1 .8 1.6 .8 1 .8 1.2 .8 .8 .8 2.3 .8 0 .8 .7 .8 .5 .8 2 .8 1.8 .8 .7 .8 .3 .8-1.3 .8 1.7 .8 2 .8-1.2 .8-.9 .8-.2 .8 0 .8 1.4 .8 1.6 .8-1 .8-1.5 .8-1.6 .8 .7 .8 3.2 .8-2.2 .8-1 .8-.4 .8 .1 .8-.5 .8 .9 .8 .8 .8-2 .8 .2 .8-.2 .8-.2 .8-1.6 .8-.3 .8-2.3 .8-2.1 .8 0 .8 .3 .8 .1 .8 1.7 .8 1.8 .8-.7 .8 2.2 .8 1 .8-.6 .8 .2 .8 1.6 .8-.2 .8-1.6 .8-.8 .8-1.1 .8-1.8 .8 .7 .8 1.1 .8 .5 .8-3.3 .8-.2 .8 1.5 .8-.1 .8 .6 .8 .9 .8 .2 .8 .7 .8 0 .8-1.5 .8 .6 .8-1.2 .8 3.4 .8-.3 .8-2.2 .8 .5 .8-1.1 .8-.2 .8-.1 .8-1.2 .8-1 .8-.4 .8-1.5 .8-1.4 .8-1.8 .8-.4 .8 3.2 .8-1.1 .8-3.1 .8 .8 .8-1.1 .8-3.3 .8 .6 .8 2 .8 2.2 .8-.3 .8-.8 .8-1.3 .8-.8 .8-2.1 .8 1.2 .8-.3 .8-2.2 .8 1.5 .8 2.3 .8 .7 .8-1.6 .8-2.9 .8-.4 .8 .4 .8 1.3 .8-2.1 .8-1.3 .8 0 .8 2.5 .8 .8 .8-1.2 .8-.3 .8 1.5 .8 1.3 .8-2.3 .8 .7 .8 1 .8 .7 .8 1 .8-.6 .8-.6 .8 1 .8-.5 .8-1.5 .8-1.3 .8-1.6 .8 .5 .8-1 .8-.7 .8 .2 .8-1.3 .8 .6 .8 1.3 .8 1.2 .8 .1 .8 1.5 .8 2 .8-1 .8-2.9 .8-1.1 .8 1.1 .8 0 .8-1.4 .8-.2 .8 .6 .8 2.3 .8 3.2 .8 0 .8-3.5 .8-1 .8-1.2 .8-.2 .8 1.8 .8 .4 .8-.4 .8 .7 .8-.3 .8 .5 .8-1.2 .8 .3 .8-1 .8-.1 .8 .2" stroke="#262626" stroke-width="0.9"/>
<path d="M51.4 363.11L53.8 365.51M51.4 365.51L53.8 363.11" stroke="#262626" stroke-width="0.55"/><path d="M66.2 362.32L68.6 364.72M66.2 364.72L68.6 362.32" stroke="#262626" stroke-width="0.55"/><path d="M81 369.36L83.4 371.76M81 371.76L83.4 369.36" stroke="#262626" stroke-width="0.55"/><path d="M95.8 376.96L98.2 379.36M95.8 379.36L98.2 376.96" stroke="#262626" stroke-width="0.55"/><path d="M110.6 389.49L113 391.89M110.6 391.89L113 389.49" stroke="#262626" stroke-width="0.55"/><path d="M125.4 390.75L127.8 393.15M125.4 393.15L127.8 390.75" stroke="#262626" stroke-width="0.55"/><path d="M140.2 381.2L142.6 383.6M140.2 383.6L142.6 381.2" stroke="#262626" stroke-width="0.55"/><path d="M155 368.63L157.4 371.03M155 371.03L157.4 368.63" stroke="#262626" stroke-width="0.55"/><path d="M169.8 367.17L172.2 369.57M169.8 369.57L172.2 367.17" stroke="#262626" stroke-width="0.55"/><path d="M184.6 370.95L187 373.35M184.6 373.35L187 370.95" stroke="#262626" stroke-width="0.55"/><path d="M199.4 367.36L201.8 369.76M199.4 369.76L201.8 367.36" stroke="#262626" stroke-width="0.55"/><path d="M214.2 367.68L216.6 370.08M214.2 370.08L216.6 367.68" stroke="#262626" stroke-width="0.55"/><path d="M229 358.81L231.4 361.21M229 361.21L231.4 358.81" stroke="#262626" stroke-width="0.55"/><path d="M243.8 352.32L246.2 354.72M243.8 354.72L246.2 352.32" stroke="#262626" stroke-width="0.55"/><path d="M258.6 358.53L261 360.93M258.6 360.93L261 358.53" stroke="#262626" stroke-width="0.55"/><path d="M273.4 368.53L275.8 370.93M273.4 370.93L275.8 368.53" stroke="#262626" stroke-width="0.55"/><path d="M288.2 374.8L290.6 377.2M288.2 377.2L290.6 374.8" stroke="#262626" stroke-width="0.55"/><path d="M303 377.05L305.4 379.45M303 379.45L305.4 377.05" stroke="#262626" stroke-width="0.55"/><path d="M317.8 369.11L320.2 371.51M317.8 371.51L320.2 369.11" stroke="#262626" stroke-width="0.55"/><path d="M332.6 364.85L335 367.25M332.6 367.25L335 364.85" stroke="#262626" stroke-width="0.55"/><path d="M347.4 369.29L349.8 371.69M347.4 371.69L349.8 369.29" stroke="#262626" stroke-width="0.55"/><path d="M362.2 383.16L364.6 385.56M362.2 385.56L364.6 383.16" stroke="#262626" stroke-width="0.55"/><path d="M377 382.41L379.4 384.81M377 384.81L379.4 382.41" stroke="#262626" stroke-width="0.55"/><path d="M391.8 380.71L394.2 383.11M391.8 383.11L394.2 380.71" stroke="#262626" stroke-width="0.55"/><path d="M406.6 377.05L409 379.45M406.6 379.45L409 377.05" stroke="#262626" stroke-width="0.55"/><path d="M421.4 369.38L423.8 371.78M421.4 371.78L423.8 369.38" stroke="#262626" stroke-width="0.55"/><path d="M436.2 365.3L438.6 367.7M436.2 367.7L438.6 365.3" stroke="#262626" stroke-width="0.55"/><path d="M451 365.71L453.4 368.11M451 368.11L453.4 365.71" stroke="#262626" stroke-width="0.55"/><path d="M465.8 364.29L468.2 366.69M465.8 366.69L468.2 364.29" stroke="#262626" stroke-width="0.55"/><path d="M480.6 362.34L483 364.74M480.6 364.74L483 362.34" stroke="#262626" stroke-width="0.55"/>
<path d="M43 372.4l1.5-.3 1.5-.4 1.5-.3 1.5-.4 1.5-.3 1.5-.2 1.5-.3 1.5-.2 1.5-.2 1.5-.1 1.5-.1 1.5-.2 1.5-.1 1.5-.1 1.5-.2 1.5-.2 1.5-.6 1.5-1 1.5-1.1 1.5-1 1.5-.6 1.5 0 1.5 .2 1.5 .3 1.5 .4 1.5 .5 1.5 .5 1.5 .6 1.5 .6 1.5 .7 1.5 .7 1.5 .6 1.5 .6 1.5 .7 1.5 .7 1.5 .7 1.5 .8 1.5 .8 1.5 .8 1.5 .8 1.5 .8 1.5 .7 1.5 .9 1.5 .8 1.5 .8 1.5 .7 1.5 .7 1.5 .5 1.5 .5 1.5 .5 1.5 .5 1.5 .4 1.5 .4 1.5 .3 1.5 .3 1.5 .2 1.5 .2 1.5 .2 1.5 .1 1.5 .2 1.5 .1 1.5 .1 1.5 .1 1.5 0 1.5-.1 1.5-.2 1.5-.5 1.5-.5 1.5-.7 1.5-.7 1.5-.7 1.5-.7 1.5-.6 1.5-.6 1.5-.5 1.5-.6 1.5-.6 1.5-.6 1.5-.6 1.5-.5 1.5-.6 1.5-.5 1.5-.5 1.5-.5 1.5-.5 1.5-.5 1.5-.4 1.5-.3 1.5-.3 1.5-.3 1.5-.3 1.5-.2 1.5-.3 1.5-.2 1.5-.1 1.5 0 1.5 0 1.5 0 1.5 0 1.5 0 1.5 0 1.5 .1 1.5 0 1.5 .1 1.5 0 1.5 .1 1.5 .1 1.5 .2 1.5 .2 1.5 .1 1.5 .2 1.5 .1 1.5 0 1.5 0 1.5-.2 1.5-.1 1.5-.3 1.5-.2 1.5-.2 1.5-.3 1.5-.1 1.5-.2 1.5-.1 1.5-.1 1.5-.1 1.5-.1 1.5-.1 1.5-.1 1.5-.2 1.5-.2 1.5-.2 1.5-.3 1.5-.4 1.5-.3 1.5-.4 1.5-.5 1.5-.4 1.5-.4 1.5-.5 1.5-.5 1.5-.6 1.5-.6 1.5-.5 1.5-.3 1.5-.2 1.5 0 1.5 0 1.5 0 1.5 0 1.5 0 1.5 0 1.5 .1 1.5 0 1.5 .1 1.5 0 1.5 .3 1.5 .4 1.5 .6 1.5 .7 1.5 .6 1.5 .7 1.5 .6 1.5 .5 1.5 .5 1.5 .6 1.5 .5 1.5 .5 1.5 .5 1.5 .5 1.5 .5 1.5 .6 1.5 .6 1.5 .8 1.5 .6 1.5 .7 1.5 .5 1.5 .3 1.5 .1 1.5 0 1.5-.2 1.5-.2 1.5-.3 1.5-.4 1.5-.3 1.5-.4 1.5-.4 1.5-.4 1.5-.6 1.5-.6 1.5-.6 1.5-.6 1.5-.6 1.5-.4 1.5-.2 1.5-.2 1.5-.2 1.5-.1 1.5-.2 1.5-.1 1.5-.1 1.5-.1 1.5-.1 1.5 0 1.5-.1 1.5 0 1.5 0" stroke="#1f77b4" stroke-width="1.15"/>
<path d="M353.5 368.8l1.5 0 1.5 0 1.5 0 1.5 0 1.5 .1 1.5 0 1.5 0 1.5 .1 1.5 0 1.5 .1 1.5 0 1.5 .1 1.5 .1 1.5 0 1.5 .1 1.5 .1 1.5 .1 1.5 .2 1.5 .3 1.5 .3 1.5 .3 1.5 .4 1.5 .4 1.5 .3 1.5 .4 1.5 .4 1.5 .3 1.5 .3 1.5 .3 1.5 .1 1.5 .1 1.5 0 1.5 0 1.5-.1 1.5-.1 1.5-.2 1.5-.2 1.5-.3 1.5-.2 1.5-.3 1.5-.3 1.5-.3 1.5-.3 1.5-.3 1.5-.3 1.5-.2 1.5-.3 1.5-.2 1.5-.2 1.5-.3 1.5-.2 1.5-.2 1.5-.3 1.5-.2 1.5-.3 1.5-.2 1.5-.3 1.5-.2 1.5-.2 1.5-.1 1.5-.2 1.5-.1 1.5-.1 1.5 0 1.5 0 1.5 0 1.5 .1 1.5 .1 1.5 .1 1.5 .1 1.5 .1 1.5 .2 1.5 .2 1.5 .2 1.5 .1 1.5 .2 1.5 .3 1.5 .2 1.5 .2 1.5 .2 1.5 .2 1.5 .2 1.5 .3 1.5 .3 1.5 .3 1.5 .3 1.5 .3 1.5 .4 1.5 .3" stroke="#1f77b4" stroke-width="1.15" stroke-dasharray="3.6 1.2"/>
<circle cx="42.83" cy="372.47" r="2.2" fill="#1f77b4"/><circle cx="67.11" cy="368.73" r="2.2" fill="#1f77b4"/><circle cx="91.38" cy="369.75" r="2.2" fill="#1f77b4"/><circle cx="115.66" cy="381.65" r="2.2" fill="#1f77b4"/><circle cx="139.94" cy="385.49" r="2.2" fill="#1f77b4"/><circle cx="164.21" cy="376.35" r="2.2" fill="#1f77b4"/><circle cx="188.49" cy="371.25" r="2.2" fill="#1f77b4"/><circle cx="212.77" cy="372.5" r="2.2" fill="#1f77b4"/><circle cx="237.04" cy="370.05" r="2.2" fill="#1f77b4"/><circle cx="261.32" cy="363.75" r="2.2" fill="#1f77b4"/><circle cx="285.6" cy="367.76" r="2.2" fill="#1f77b4"/><circle cx="309.87" cy="376.25" r="2.2" fill="#1f77b4"/><circle cx="334.15" cy="369.95" r="2.2" fill="#1f77b4"/><circle cx="353.1" cy="368.75" r="2.2" fill="#1f77b4"/><circle cx="377.38" cy="369.49" r="2.2" fill="#1f77b4"/><circle cx="401.65" cy="373.74" r="2.2" fill="#1f77b4"/><circle cx="425.93" cy="370.01" r="2.2" fill="#1f77b4"/><circle cx="450.21" cy="367" r="2.2" fill="#1f77b4"/><circle cx="474.48" cy="369.43" r="2.2" fill="#1f77b4"/>
<path d="M43 370.9l1.5-.5 1.5-.5 1.5-.5 1.5-.5 1.5-.5 1.5-.5 1.5-.4 1.5-.5 1.5-.4 1.5-.5 1.5-.4 1.5-.4 1.5-.4 1.5-.5 1.5-.5 1.5-.5 1.5-.4 1.5-.3 1.5-.2 1.5 .1 1.5 .2 1.5 .5 1.5 .6 1.5 .7 1.5 .8 1.5 .9 1.5 .8 1.5 .9 1.5 1 1.5 1.1 1.5 1.2 1.5 1.4 1.5 1.3 1.5 1.2 1.5 1.2 1.5 1.1 1.5 1.2 1.5 1.2 1.5 1.1 1.5 1.1 1.5 1 1.5 .9 1.5 .8 1.5 .6 1.5 .7 1.5 .6 1.5 .6 1.5 .6 1.5 .4 1.5 .4 1.5 .2 1.5 .1 1.5 0 1.5-.1 1.5-.2 1.5-.2 1.5-.2 1.5-.3 1.5-.5 1.5-.8 1.5-1 1.5-1.2 1.5-1.3 1.5-1.2 1.5-1.1 1.5-1.1 1.5-1.1 1.5-1.2 1.5-1.2 1.5-1.1 1.5-1.1 1.5-1 1.5-.9 1.5-1 1.5-1 1.5-1 1.5-1 1.5-.9 1.5-.8 1.5-.7 1.5-.5 1.5-.2 1.5-.1 1.5 .2 1.5 .3 1.5 .5 1.5 .6 1.5 .6 1.5 .6 1.5 .6 1.5 .5 1.5 .4 1.5 .3 1.5 .4 1.5 .5 1.5 .3 1.5 .4 1.5 .4 1.5 .3 1.5 .2 1.5 .2 1.5 .2 1.5 0 1.5 0 1.5-.1 1.5-.1 1.5-.2 1.5-.2 1.5-.3 1.5-.2 1.5-.3 1.5-.3 1.5-.5 1.5-.5 1.5-.7 1.5-.8 1.5-.8 1.5-.8 1.5-.8 1.5-.9 1.5-.7 1.5-.8 1.5-.9 1.5-.8 1.5-.9 1.5-.8 1.5-.8 1.5-.5 1.5-.5 1.5-.5 1.5-.5 1.5-.5 1.5-.4 1.5-.4 1.5-.4 1.5-.2 1.5-.2 1.5-.2 1.5 0 1.5 .2 1.5 .5 1.5 .7 1.5 .8 1.5 1 1.5 1.1 1.5 1.1 1.5 1.1 1.5 1 1.5 1.1 1.5 1.1 1.5 1.3 1.5 1.4 1.5 1.3 1.5 1.3 1.5 1.1 1.5 1.1 1.5 .9 1.5 .8 1.5 .8 1.5 .7 1.5 .6 1.5 .7 1.5 .6 1.5 .5 1.5 .5 1.5 .4 1.5 .2 1.5 .2 1.5 .3 1.5 .1 1.5 .2 1.5 .1 1.5 .1 1.5 .1 1.5 0 1.5-.2 1.5-.5 1.5-.6 1.5-.7 1.5-.8 1.5-.8 1.5-.7 1.5-.7 1.5-.6 1.5-.6 1.5-.7 1.5-.6 1.5-.6 1.5-.6 1.5-.6 1.5-.5 1.5-.6 1.5-.5 1.5-.6 1.5-.6 1.5-.5 1.5-.3 1.5-.1 1.5 0 1.5 .1 1.5 .2 1.5 .1 1.5 .3 1.5 .2 1.5 .3 1.5 .3" stroke="#ff7f0e" stroke-width="1.15"/>
<path d="M353.5 368.9l1.5 .7 1.5 1 1.5 1.2 1.5 1.2 1.5 1.1 1.5 .9 1.5 .8 1.5 .8 1.5 .8 1.5 .8 1.5 .6 1.5 .6 1.5 .4 1.5 .2 1.5 0 1.5-.1 1.5-.2 1.5-.3 1.5-.3 1.5-.3 1.5-.5 1.5-.4 1.5-.5 1.5-.4 1.5-.5 1.5-.5 1.5-.5 1.5-.7 1.5-.7 1.5-.8 1.5-.9 1.5-.8 1.5-.7 1.5-.7 1.5-.6 1.5-.6 1.5-.6 1.5-.6 1.5-.6 1.5-.5 1.5-.5 1.5-.4 1.5-.4 1.5-.3 1.5-.3 1.5-.2 1.5-.2 1.5-.2 1.5-.2 1.5-.1 1.5-.1 1.5 0 1.5 .1 1.5 .4 1.5 .6 1.5 .7 1.5 .8 1.5 .9 1.5 .9 1.5 .9 1.5 .9 1.5 .9 1.5 1.1 1.5 1.2 1.5 1.2 1.5 1.3 1.5 1.1 1.5 1 1.5 .7 1.5 .6 1.5 .6 1.5 .5 1.5 .5 1.5 .5 1.5 .3 1.5 .3 1.5 .2 1.5 0 1.5 0 1.5 0 1.5 0 1.5 0 1.5 0 1.5 0 1.5 0 1.5 0 1.5 0 1.5-.2 1.5-.2" stroke="#ff7f0e" stroke-width="1.15" stroke-dasharray="3.6 1.2"/>
<path d="M40.23 370.95L44.39 368.48L44.39 373.42Z" fill="#ff7f0e"/><path d="M66.21 362.91L70.37 360.44L70.37 365.38Z" fill="#ff7f0e"/><path d="M92.18 375.84L96.34 373.37L96.34 378.31Z" fill="#ff7f0e"/><path d="M118.16 389L122.32 386.53L122.32 391.47Z" fill="#ff7f0e"/><path d="M144.13 376.16L148.29 373.69L148.29 378.63Z" fill="#ff7f0e"/><path d="M170.11 366.29L174.27 363.82L174.27 368.76Z" fill="#ff7f0e"/><path d="M196.09 372.48L200.25 370.01L200.25 374.95Z" fill="#ff7f0e"/><path d="M222.06 364.17L226.22 361.7L226.22 366.64Z" fill="#ff7f0e"/><path d="M248.04 355.01L252.2 352.54L252.2 357.48Z" fill="#ff7f0e"/><path d="M274.01 371.93L278.17 369.46L278.17 374.4Z" fill="#ff7f0e"/><path d="M299.99 379.94L304.15 377.47L304.15 382.41Z" fill="#ff7f0e"/><path d="M325.96 370.51L330.12 368.04L330.12 372.98Z" fill="#ff7f0e"/><path d="M350.5 368.8L354.66 366.33L354.66 371.27Z" fill="#ff7f0e"/><path d="M376.48 379.68L380.64 377.21L380.64 382.15Z" fill="#ff7f0e"/><path d="M402.45 369.98L406.61 367.51L406.61 372.45Z" fill="#ff7f0e"/><path d="M428.43 363.75L432.59 361.28L432.59 366.22Z" fill="#ff7f0e"/><path d="M454.4 378.55L458.56 376.08L458.56 381.02Z" fill="#ff7f0e"/><path d="M480.38 382L484.54 379.53L484.54 384.47Z" fill="#ff7f0e"/>
<path d="M43 369.9l1.5-.4 1.5-.4 1.5-.4 1.5-.4 1.5-.3 1.5-.4 1.5-.4 1.5-.4 1.5-.4 1.5-.4 1.5-.4 1.5-.3 1.5-.4 1.5-.5 1.5-.5 1.5-.5 1.5-.4 1.5-.3 1.5-.2 1.5 .1 1.5 .2 1.5 .5 1.5 .6 1.5 .7 1.5 .8 1.5 .9 1.5 .9 1.5 .8 1.5 .9 1.5 1.1 1.5 1.1 1.5 1.3 1.5 1.3 1.5 1.3 1.5 1.3 1.5 1.2 1.5 1.1 1.5 1.1 1.5 1.1 1.5 1.1 1.5 1 1.5 1 1.5 .9 1.5 .8 1.5 .6 1.5 .6 1.5 .6 1.5 .6 1.5 .5 1.5 .3 1.5 .2 1.5 0 1.5-.1 1.5-.1 1.5-.1 1.5-.2 1.5-.2 1.5-.3 1.5-.5 1.5-.8 1.5-1.1 1.5-1.3 1.5-1.3 1.5-1.2 1.5-1.2 1.5-1 1.5-1.2 1.5-1.1 1.5-1.1 1.5-1.1 1.5-1 1.5-1 1.5-.9 1.5-1 1.5-.9 1.5-1.1 1.5-.9 1.5-1 1.5-.8 1.5-.6 1.5-.5 1.5-.3 1.5-.1 1.5 .3 1.5 .4 1.5 .7 1.5 .8 1.5 .7 1.5 .8 1.5 .7 1.5 .5 1.5 .3 1.5 .3 1.5 .3 1.5 .3 1.5 .3 1.5 .3 1.5 .2 1.5 .2 1.5 .2 1.5 .1 1.5 .1 1.5 0 1.5 0 1.5-.1 1.5-.2 1.5-.2 1.5-.2 1.5-.2 1.5-.2 1.5-.3 1.5-.2 1.5-.3 1.5-.4 1.5-.4 1.5-.4 1.5-.4 1.5-.5 1.5-.6 1.5-.6 1.5-1 1.5-1.3 1.5-1.4 1.5-1.6 1.5-1.6 1.5-1.5 1.5-1.3 1.5-.9 1.5-.5 1.5-.3 1.5-.3 1.5-.3 1.5-.2 1.5-.1 1.5 0 1.5 .1 1.5 .1 1.5 .2 1.5 .2 1.5 .3 1.5 .2 1.5 .4 1.5 .6 1.5 .8 1.5 1 1.5 1 1.5 1.1 1.5 1 1.5 1.1 1.5 1.3 1.5 1.3 1.5 1.4 1.5 1.4 1.5 1.4 1.5 1.2 1.5 1.1 1.5 .9 1.5 .8 1.5 .8 1.5 .7 1.5 .6 1.5 .7 1.5 .6 1.5 .5 1.5 .5 1.5 .4 1.5 .2 1.5 .2 1.5 .3 1.5 .1 1.5 .2 1.5 .1 1.5 .1 1.5 .1 1.5 0 1.5-.2 1.5-.5 1.5-.6 1.5-.7 1.5-.8 1.5-.8 1.5-.7 1.5-.7 1.5-.6 1.5-.6 1.5-.7 1.5-.6 1.5-.6 1.5-.6 1.5-.6 1.5-.5 1.5-.6 1.5-.5 1.5-.6 1.5-.6 1.5-.5 1.5-.3 1.5-.1 1.5 0 1.5 .1 1.5 .2 1.5 .1 1.5 .3 1.5 .2 1.5 .3 1.5 .3" stroke="#2ca02c" stroke-width="1.15"/>
<path d="M353.5 368.9l1.5 .8 1.5 1 1.5 1.2 1.5 1.2 1.5 1.1 1.5 .8 1.5 .6 1.5 .6 1.5 .6 1.5 .6 1.5 .6 1.5 .5 1.5 .4 1.5 .4 1.5 .3 1.5 .2 1.5 .2 1.5 0 1.5-.1 1.5-.2 1.5-.2 1.5-.3 1.5-.4 1.5-.4 1.5-.4 1.5-.5 1.5-.6 1.5-.9 1.5-1 1.5-1.2 1.5-1.3 1.5-1.3 1.5-1.2 1.5-1 1.5-.9 1.5-.6 1.5-.5 1.5-.4 1.5-.4 1.5-.4 1.5-.3 1.5-.2 1.5-.2 1.5-.1 1.5 0 1.5 0 1.5 .1 1.5 .1 1.5 .1 1.5 .2 1.5 .1 1.5 .2 1.5 .2 1.5 .2 1.5 .2 1.5 .4 1.5 .4 1.5 .6 1.5 .6 1.5 .7 1.5 .8 1.5 .8 1.5 .7 1.5 .8 1.5 .9 1.5 1 1.5 1.2 1.5 1.2 1.5 1.3 1.5 1.3 1.5 1.1 1.5 .9 1.5 .7 1.5 .4 1.5 .3 1.5 .4 1.5 .3 1.5 .2 1.5 .2 1.5 .1 1.5 .1 1.5-.1 1.5-.1 1.5-.2 1.5-.3 1.5-.3 1.5-.4 1.5-.5 1.5-.5" stroke="#2ca02c" stroke-width="1.15" stroke-dasharray="3.6 1.2"/>
<path d="M42.83 372.57L45.3 368.41L40.36 368.41Z" fill="#2ca02c"/><path d="M70.51 365.2L72.98 361.04L68.04 361.04Z" fill="#2ca02c"/><path d="M98.18 381.01L100.65 376.85L95.71 376.85Z" fill="#2ca02c"/><path d="M125.86 391.22L128.33 387.06L123.39 387.06Z" fill="#2ca02c"/><path d="M153.53 374.15L156 369.99L151.06 369.99Z" fill="#2ca02c"/><path d="M181.21 372.86L183.68 368.7L178.74 368.7Z" fill="#2ca02c"/><path d="M208.88 373.83L211.35 369.67L206.41 369.67Z" fill="#2ca02c"/><path d="M236.56 358.78L239.03 354.62L234.09 354.62Z" fill="#2ca02c"/><path d="M264.23 364.07L266.7 359.91L261.76 359.91Z" fill="#2ca02c"/><path d="M291.91 381.24L294.38 377.08L289.44 377.08Z" fill="#2ca02c"/><path d="M319.58 376.75L322.05 372.59L317.11 372.59Z" fill="#2ca02c"/><path d="M347.26 370.22L349.73 366.06L344.79 366.06Z" fill="#2ca02c"/><path d="M353.1 371.4L355.57 367.24L350.63 367.24Z" fill="#2ca02c"/><path d="M380.78 382.59L383.25 378.43L378.31 378.43Z" fill="#2ca02c"/><path d="M408.45 369.81L410.92 365.65L405.98 365.65Z" fill="#2ca02c"/><path d="M436.13 369.04L438.6 364.88L433.66 364.88Z" fill="#2ca02c"/><path d="M463.8 384.61L466.27 380.45L461.33 380.45Z" fill="#2ca02c"/>
<path d="M43 368.9l1.5-.3 1.5-.4 1.5-.4 1.5-.3 1.5-.4 1.5-.3 1.5-.3 1.5-.4 1.5-.3 1.5-.4 1.5-.3 1.5-.3 1.5-.4 1.5-.4 1.5-.4 1.5-.4 1.5-.3 1.5-.3 1.5-.1 1.5 0 1.5 .3 1.5 .4 1.5 .6 1.5 .7 1.5 .8 1.5 .9 1.5 .9 1.5 .9 1.5 1.1 1.5 1.3 1.5 1.6 1.5 1.6 1.5 1.7 1.5 1.7 1.5 1.5 1.5 1.7 1.5 1.7 1.5 1.4 1.5 1 1.5 .8 1.5 .6 1.5 .6 1.5 .5 1.5 .5 1.5 .3 1.5 .3 1.5 .3 1.5 .3 1.5 .3 1.5 .1 1.5 .1 1.5 0 1.5-.1 1.5-.1 1.5-.1 1.5-.2 1.5-.3 1.5-.2 1.5-.5 1.5-.8 1.5-1 1.5-1.2 1.5-1.3 1.5-1.2 1.5-1.1 1.5-1.1 1.5-1.2 1.5-1.2 1.5-1.1 1.5-1.2 1.5-1 1.5-1 1.5-.9 1.5-.8 1.5-.9 1.5-.9 1.5-.8 1.5-.8 1.5-.7 1.5-.6 1.5-.4 1.5-.3 1.5 0 1.5 0 1.5 .1 1.5 .1 1.5 .1 1.5 .1 1.5 .2 1.5 .2 1.5 .1 1.5 .3 1.5 .4 1.5 .5 1.5 .5 1.5 .6 1.5 .4 1.5 .4 1.5 .3 1.5 .3 1.5 .2 1.5 .3 1.5 .3 1.5 .2 1.5 .1 1.5 .2 1.5 .1 1.5 0 1.5 0 1.5-.1 1.5-.2 1.5-.2 1.5-.2 1.5-.3 1.5-.3 1.5-.3 1.5-.3 1.5-.5 1.5-.7 1.5-.9 1.5-1 1.5-1.2 1.5-1.2 1.5-1.1 1.5-1.1 1.5-1 1.5-.8 1.5-.6 1.5-.4 1.5-.5 1.5-.4 1.5-.4 1.5-.3 1.5-.2 1.5-.2 1.5-.1 1.5 0 1.5 .2 1.5 .3 1.5 .4 1.5 .5 1.5 .5 1.5 .6 1.5 .7 1.5 .6 1.5 .7 1.5 .8 1.5 1.1 1.5 1.2 1.5 1.3 1.5 1.5 1.5 1.4 1.5 1.4 1.5 1.4 1.5 1.1 1.5 1 1.5 .8 1.5 .8 1.5 .7 1.5 .7 1.5 .6 1.5 .6 1.5 .5 1.5 .5 1.5 .3 1.5 .3 1.5 .2 1.5 .2 1.5 .2 1.5 .1 1.5 .2 1.5 .1 1.5 .1 1.5 .1 1.5 0 1.5 0 1.5 0 1.5-.4 1.5-.6 1.5-.7 1.5-.9 1.5-1 1.5-1 1.5-1 1.5-.9 1.5-.7 1.5-.7 1.5-.7 1.5-.7 1.5-.8 1.5-.6 1.5-.7 1.5-.5 1.5-.3 1.5-.2 1.5 0 1.5 0 1.5 0 1.5 0 1.5 0 1.5 0 1.5 0 1.5 .1 1.5 0 1.5 0 1.5 .1" stroke="#d62728" stroke-width="1.15"/>
<path d="M353.5 369l1.5 .4 1.5 .7 1.5 .9 1.5 1 1.5 1.1 1.5 1.1 1.5 1.1 1.5 1 1.5 .7 1.5 .6 1.5 .7 1.5 .7 1.5 .6 1.5 .6 1.5 .6 1.5 .4 1.5 .4 1.5 .3 1.5 .1 1.5-.1 1.5-.2 1.5-.5 1.5-.6 1.5-.8 1.5-.9 1.5-.9 1.5-1 1.5-1.1 1.5-1 1.5-1 1.5-.9 1.5-1 1.5-1.1 1.5-1.2 1.5-1.2 1.5-1.2 1.5-1 1.5-.9 1.5-.7 1.5-.5 1.5-.5 1.5-.4 1.5-.4 1.5-.3 1.5-.3 1.5-.2 1.5-.1 1.5 0 1.5 0 1.5 .1 1.5 0 1.5 .1 1.5 .1 1.5 .1 1.5 .1 1.5 .1 1.5 .2 1.5 .1 1.5 .3 1.5 .4 1.5 .6 1.5 .8 1.5 .8 1.5 .9 1.5 1 1.5 .9 1.5 .9 1.5 .8 1.5 .8 1.5 1 1.5 1 1.5 .9 1.5 1 1.5 .9 1.5 .7 1.5 .5 1.5 .3 1.5 .1 1.5 0 1.5 0 1.5-.1 1.5-.1 1.5-.2 1.5-.2 1.5-.4 1.5-.4 1.5-.5 1.5-.7 1.5-.7" stroke="#d62728" stroke-width="1.15" stroke-dasharray="3.6 1.2"/>
<path d="M42.83 366.37L45.3 370.53L40.36 370.53Z" fill="#d62728"/><path d="M72.2 359.9L74.67 364.06L69.73 364.06Z" fill="#d62728"/><path d="M101.58 381.73L104.05 385.89L99.11 385.89Z" fill="#d62728"/><path d="M130.95 385.15L133.42 389.31L128.48 389.31Z" fill="#d62728"/><path d="M160.33 365.21L162.8 369.37L157.86 369.37Z" fill="#d62728"/><path d="M189.7 367.34L192.17 371.5L187.23 371.5Z" fill="#d62728"/><path d="M219.08 367.32L221.55 371.48L216.61 371.48Z" fill="#d62728"/><path d="M248.45 354.93L250.92 359.09L245.98 359.09Z" fill="#d62728"/><path d="M277.83 372.07L280.3 376.23L275.36 376.23Z" fill="#d62728"/><path d="M307.2 378.65L309.67 382.81L304.73 382.81Z" fill="#d62728"/><path d="M336.58 366.15L339.05 370.31L334.11 370.31Z" fill="#d62728"/><path d="M353.1 366.41L355.57 370.57L350.63 370.57Z" fill="#d62728"/><path d="M382.47 379.4L384.94 383.56L380 383.56Z" fill="#d62728"/><path d="M411.85 362.13L414.32 366.29L409.38 366.29Z" fill="#d62728"/><path d="M441.22 360.43L443.69 364.59L438.75 364.59Z" fill="#d62728"/><path d="M470.6 374.9L473.07 379.06L468.13 379.06Z" fill="#d62728"/>
<path d="M43 367.9l1.5-.4 1.5-.4 1.5-.3 1.5-.4 1.5-.4 1.5-.3 1.5-.4 1.5-.3 1.5-.3 1.5-.3 1.5-.3 1.5-.3 1.5-.3 1.5-.4 1.5-.3 1.5-.3 1.5-.2 1.5-.2 1.5-.1 1.5 .1 1.5 .2 1.5 .5 1.5 .7 1.5 .8 1.5 .9 1.5 .9 1.5 1 1.5 .9 1.5 1.1 1.5 1.2 1.5 1.4 1.5 1.5 1.5 1.5 1.5 1.4 1.5 1.3 1.5 1.4 1.5 1.5 1.5 1.4 1.5 1.4 1.5 1.1 1.5 1 1.5 .7 1.5 .6 1.5 .6 1.5 .6 1.5 .4 1.5 .3 1.5 .1 1.5 0 1.5 0 1.5 0 1.5 0 1.5 0 1.5 0 1.5 0 1.5 0 1.5-.2 1.5-.5 1.5-.7 1.5-.9 1.5-1.1 1.5-1.2 1.5-1.1 1.5-1.1 1.5-1 1.5-1.1 1.5-1.2 1.5-1.3 1.5-1.2 1.5-1.3 1.5-1.1 1.5-.9 1.5-.9 1.5-.7 1.5-.8 1.5-.8 1.5-.7 1.5-.7 1.5-.5 1.5-.5 1.5-.4 1.5-.3 1.5-.1 1.5 .1 1.5 .2 1.5 .3 1.5 .4 1.5 .4 1.5 .4 1.5 .5 1.5 .4 1.5 .4 1.5 .4 1.5 .5 1.5 .5 1.5 .6 1.5 .5 1.5 .5 1.5 .5 1.5 .4 1.5 .3 1.5 .2 1.5 .1 1.5-.1 1.5-.2 1.5-.3 1.5-.4 1.5-.5 1.5-.5 1.5-.5 1.5-.5 1.5-.5 1.5-.4 1.5-.5 1.5-.4 1.5-.5 1.5-.5 1.5-.4 1.5-.5 1.5-.5 1.5-.6 1.5-.5 1.5-.5 1.5-.6 1.5-.6 1.5-.8 1.5-.8 1.5-.9 1.5-.9 1.5-.8 1.5-.9 1.5-.7 1.5-.7 1.5-.5 1.5-.4 1.5-.1 1.5 0 1.5 .3 1.5 .4 1.5 .7 1.5 .7 1.5 .8 1.5 .8 1.5 .8 1.5 .7 1.5 .7 1.5 .8 1.5 .9 1.5 .8 1.5 .9 1.5 .9 1.5 1 1.5 .9 1.5 1 1.5 .9 1.5 1.2 1.5 1.3 1.5 1.3 1.5 1.4 1.5 1.4 1.5 1.2 1.5 1.1 1.5 .7 1.5 .5 1.5 .1 1.5-.1 1.5-.1 1.5-.2 1.5-.3 1.5-.3 1.5-.3 1.5-.3 1.5-.4 1.5-.3 1.5-.3 1.5-.3 1.5-.3 1.5-.4 1.5-.3 1.5-.4 1.5-.3 1.5-.4 1.5-.4 1.5-.4 1.5-.4 1.5-.4 1.5-.5 1.5-.5 1.5-.6 1.5-.6 1.5-.7 1.5-.6 1.5-.6 1.5-.6 1.5-.5 1.5-.4 1.5-.2 1.5-.1 1.5 0 1.5 .1 1.5 .2 1.5 .2 1.5 .3 1.5 .3 1.5 .3 1.5 .4" stroke="#9467bd" stroke-width="1.15"/>
<path d="M353.5 370.2l1.5 .5 1.5 .7 1.5 .8 1.5 .9 1.5 .9 1.5 .8 1.5 .8 1.5 .6 1.5 .6 1.5 .6 1.5 .6 1.5 .6 1.5 .6 1.5 .5 1.5 .5 1.5 .4 1.5 .3 1.5 .2 1.5 .1 1.5 0 1.5-.3 1.5-.5 1.5-.6 1.5-.9 1.5-.9 1.5-1 1.5-1 1.5-1.1 1.5-1 1.5-1 1.5-.9 1.5-.9 1.5-1 1.5-1 1.5-1 1.5-1 1.5-1 1.5-.9 1.5-.9 1.5-.7 1.5-.6 1.5-.5 1.5-.5 1.5-.5 1.5-.5 1.5-.4 1.5-.3 1.5-.2 1.5-.1 1.5 0 1.5 .2 1.5 .3 1.5 .4 1.5 .5 1.5 .5 1.5 .6 1.5 .7 1.5 .7 1.5 .6 1.5 .7 1.5 .6 1.5 .6 1.5 .7 1.5 .7 1.5 .7 1.5 .8 1.5 .7 1.5 .8 1.5 .7 1.5 .7 1.5 .6 1.5 .6 1.5 .5 1.5 .5 1.5 .5 1.5 .5 1.5 .5 1.5 .5 1.5 .4 1.5 .3 1.5 .2 1.5 .2 1.5 0 1.5 0 1.5-.1 1.5-.2 1.5-.2 1.5-.3 1.5-.4" stroke="#9467bd" stroke-width="1.15" stroke-dasharray="3.6 1.2"/>
<rect x="40.93" y="366.07" width="3.8" height="3.8" fill="#9467bd"/><rect x="72" y="360.3" width="3.8" height="3.8" fill="#9467bd"/><rect x="103.08" y="383.49" width="3.8" height="3.8" fill="#9467bd"/><rect x="134.15" y="382.01" width="3.8" height="3.8" fill="#9467bd"/><rect x="165.23" y="364.36" width="3.8" height="3.8" fill="#9467bd"/><rect x="196.3" y="371.83" width="3.8" height="3.8" fill="#9467bd"/><rect x="227.37" y="362.4" width="3.8" height="3.8" fill="#9467bd"/><rect x="258.45" y="359.52" width="3.8" height="3.8" fill="#9467bd"/><rect x="289.52" y="378.56" width="3.8" height="3.8" fill="#9467bd"/><rect x="320.6" y="371.85" width="3.8" height="3.8" fill="#9467bd"/><rect x="351.2" y="368.15" width="3.8" height="3.8" fill="#9467bd"/><rect x="382.27" y="379.19" width="3.8" height="3.8" fill="#9467bd"/><rect x="413.35" y="361.02" width="3.8" height="3.8" fill="#9467bd"/><rect x="444.42" y="364.48" width="3.8" height="3.8" fill="#9467bd"/><rect x="475.5" y="375.6" width="3.8" height="3.8" fill="#9467bd"/>
<path d="M43 367.9l1.5-.3 1.5-.3 1.5-.3 1.5-.3 1.5-.3 1.5-.2 1.5-.3 1.5-.2 1.5-.3 1.5-.2 1.5-.1 1.5-.2 1.5-.2 1.5-.2 1.5-.1 1.5-.2 1.5-.2 1.5-.1 1.5-.1 1.5 0 1.5 0 1.5 0 1.5 0 1.5 0 1.5 0 1.5 0 1.5 0 1.5 0 1.5 0 1.5 0 1.5 0 1.5 0 1.5 0 1.5 0 1.5 0 1.5 0 1.5 0 1.5 0 1.5 0 1.5 0 1.5 0 1.5 0 1.5 0 1.5 0 1.5 0 1.5 .1 1.5 .2 1.5 .1 1.5 .2 1.5 .2 1.5 .2 1.5 .2 1.5 .2 1.5 .2 1.5 .1 1.5 .2 1.5 .2 1.5 .1 1.5 .2 1.5 .2 1.5 .2 1.5 .1 1.5 .1 1.5 .1 1.5 .1 1.5 0 1.5-.1 1.5-.2 1.5-.3 1.5-.4 1.5-.5 1.5-.5 1.5-.5 1.5-.5 1.5-.4 1.5-.3 1.5-.2 1.5-.1 1.5 .1 1.5 .2 1.5 .3 1.5 .3 1.5 .4 1.5 .3 1.5 .3 1.5 .1 1.5 0 1.5 0 1.5 0 1.5 0 1.5 0 1.5 0 1.5 0 1.5 0 1.5 0 1.5 0 1.5 0 1.5 0 1.5 0 1.5 0 1.5 0 1.5 0 1.5 0 1.5 0 1.5 0 1.5 0 1.5 0 1.5 0 1.5 0 1.5 0 1.5 0 1.5 0 1.5 0 1.5 0 1.5 0 1.5 0 1.5 0 1.5 0 1.5 0 1.5 0 1.5 0 1.5 0 1.5 0 1.5 0 1.5 0 1.5 0 1.5 0 1.5 0 1.5 0 1.5 0 1.5 0 1.5 0 1.5 0 1.5 0 1.5 0 1.5 0 1.5 0 1.5 0 1.5 0 1.5 0 1.5 0 1.5 0 1.5 0 1.5 0 1.5 0 1.5 0 1.5 0 1.5 0 1.5 0 1.5 0 1.5 0 1.5 0 1.5 0 1.5 0 1.5 0 1.5-.1 1.5 0 1.5-.1 1.5 0 1.5-.1 1.5-.1 1.5-.1 1.5-.1 1.5 0 1.5-.1 1.5-.1 1.5-.1 1.5-.1 1.5 0 1.5-.1 1.5-.1 1.5 0 1.5 0 1.5 0 1.5 0 1.5 0 1.5 0 1.5 0 1.5 0 1.5 0 1.5 0 1.5 0 1.5 0 1.5 0 1.5 0 1.5 0 1.5 0 1.5 0 1.5 0 1.5 0 1.5 0 1.5 0 1.5 0 1.5 0 1.5 0 1.5 0 1.5 0 1.5 0 1.5 0 1.5 0 1.5 .1 1.5 0 1.5 0 1.5 .1 1.5 0 1.5 0" stroke="#8c564b" stroke-width="1.15"/>
<path d="M353.5 364l1.5 0 1.5 0 1.5 0 1.5 0 1.5 0 1.5 0 1.5 0 1.5 0 1.5 0 1.5 0 1.5 0 1.5 0 1.5 0 1.5 0 1.5 0 1.5 0 1.5 0 1.5 0 1.5 0 1.5 0 1.5 0 1.5 0 1.5 0 1.5 0 1.5 0 1.5 0 1.5 .1 1.5 0 1.5 0 1.5 0 1.5 .1 1.5 0 1.5 0 1.5 0 1.5 .1 1.5 0 1.5 0 1.5 .1 1.5 0 1.5 0 1.5 0 1.5 .1 1.5 0 1.5 0 1.5 0 1.5 .1 1.5 0 1.5 0 1.5 .1 1.5 0 1.5 0 1.5 0 1.5 .1 1.5 0 1.5 0 1.5 .1 1.5 0 1.5 0 1.5 0 1.5 .1 1.5 0 1.5 0 1.5 0 1.5 0 1.5 0 1.5 0 1.5 0 1.5 0 1.5 0 1.5-.1 1.5 0 1.5 0 1.5-.1 1.5 0 1.5 0 1.5-.1 1.5 0 1.5-.1 1.5-.1 1.5 0 1.5-.1 1.5-.1 1.5 0 1.5-.1 1.5-.1 1.5-.1 1.5-.1 1.5 0 1.5-.1" stroke="#8c564b" stroke-width="1.15" stroke-dasharray="3.6 1.2"/>
<path d="M42.83 365.87L44.65 366.92L44.65 369.02L42.83 370.07L41.01 369.02L41.01 366.92Z" fill="#8c564b"/><path d="M75.6 361.65L77.42 362.7L77.42 364.8L75.6 365.85L73.78 364.8L73.78 362.7Z" fill="#8c564b"/><path d="M108.38 361.65L110.2 362.7L110.2 364.8L108.38 365.85L106.56 364.8L106.56 362.7Z" fill="#8c564b"/><path d="M141.15 364.89L142.97 365.94L142.97 368.04L141.15 369.09L139.33 368.04L139.33 365.94Z" fill="#8c564b"/><path d="M173.92 362.9L175.74 363.95L175.74 366.05L173.92 367.1L172.1 366.05L172.1 363.95Z" fill="#8c564b"/><path d="M206.7 362.9L208.52 363.95L208.52 366.05L206.7 367.1L204.88 366.05L204.88 363.95Z" fill="#8c564b"/><path d="M239.47 362.9L241.29 363.95L241.29 366.05L239.47 367.1L237.65 366.05L237.65 363.95Z" fill="#8c564b"/><path d="M272.24 362.9L274.06 363.95L274.06 366.05L272.24 367.1L270.42 366.05L270.42 363.95Z" fill="#8c564b"/><path d="M305.02 361.65L306.84 362.7L306.84 364.8L305.02 365.85L303.2 364.8L303.2 362.7Z" fill="#8c564b"/><path d="M337.79 361.65L339.61 362.7L339.61 364.8L337.79 365.85L335.97 364.8L335.97 362.7Z" fill="#8c564b"/><path d="M353.1 361.9L354.92 362.95L354.92 365.05L353.1 366.1L351.28 365.05L351.28 362.95Z" fill="#8c564b"/><path d="M385.87 361.9L387.69 362.95L387.69 365.05L385.87 366.1L384.05 365.05L384.05 362.95Z" fill="#8c564b"/><path d="M418.65 362.4L420.47 363.45L420.47 365.55L418.65 366.6L416.83 365.55L416.83 363.45Z" fill="#8c564b"/><path d="M451.42 362.9L453.24 363.95L453.24 366.05L451.42 367.1L449.6 366.05L449.6 363.95Z" fill="#8c564b"/><path d="M484.19 361.83L486.01 362.88L486.01 364.98L484.19 366.03L482.37 364.98L482.37 362.88Z" fill="#8c564b"/>
<path d="M43 368.6l1.5-.5 1.5-.6 1.5-.5 1.5-.5 1.5-.5 1.5-.4 1.5-.3 1.5-.2 1.5-.1 1.5 0 1.5 0 1.5 0 1.5 0 1.5 0 1.5 0 1.5 0 1.5 0 1.5 0 1.5 0 1.5 0 1.5 0 1.5 0 1.5 0 1.5 0 1.5 0 1.5-.1 1.5-.1 1.5 0 1.5-.1 1.5-.1 1.5-.1 1.5-.1 1.5-.1 1.5 0 1.5-.1 1.5-.1 1.5-.1 1.5-.1 1.5 0 1.5-.1 1.5 0 1.5 0 1.5 0 1.5 0 1.5 .1 1.5 .1 1.5 .1 1.5 .2 1.5 .2 1.5 .2 1.5 .2 1.5 .2 1.5 .2 1.5 .1 1.5 .1 1.5 .2 1.5 .1 1.5 .1 1.5 .2 1.5 .1 1.5 .1 1.5 .2 1.5 .1 1.5 .1 1.5 .1 1.5 .1 1.5 0 1.5 .1 1.5 0 1.5 0 1.5-.1 1.5-.2 1.5-.3 1.5-.3 1.5-.4 1.5-.3 1.5-.4 1.5-.3 1.5-.3 1.5-.3 1.5-.2 1.5-.1 1.5 0 1.5 0 1.5 .1 1.5 .1 1.5 .1 1.5 .1 1.5 .1 1.5 .1 1.5 .1 1.5 0 1.5 0 1.5 0 1.5 0 1.5 0 1.5 0 1.5 0 1.5 0 1.5 0 1.5 0 1.5 0 1.5 0 1.5 0 1.5 0 1.5 0 1.5 0 1.5 0 1.5 0 1.5 0 1.5 0 1.5 0 1.5 0 1.5 0 1.5 0 1.5 0 1.5 0 1.5 0 1.5 0 1.5 0 1.5 0 1.5 0 1.5 0 1.5 0 1.5 0 1.5 0 1.5 0 1.5 0 1.5 0 1.5 0 1.5 0 1.5 0 1.5 0 1.5 0 1.5 0 1.5 0 1.5 0 1.5 0 1.5 0 1.5 0 1.5 0 1.5 0 1.5 0 1.5 0 1.5 0 1.5 0 1.5 0 1.5 0 1.5 0 1.5 0 1.5 0 1.5 0 1.5 0 1.5 0 1.5 0 1.5 0 1.5 0 1.5 0 1.5 0 1.5 0 1.5 0 1.5 0 1.5 0 1.5 0 1.5-.1 1.5 0 1.5-.1 1.5 0 1.5 0 1.5-.1 1.5 0 1.5-.1 1.5 0 1.5-.1 1.5 0 1.5-.1 1.5 0 1.5-.1 1.5 0 1.5 0 1.5 0 1.5 0 1.5 0 1.5 0 1.5 0 1.5 0 1.5 0 1.5 0 1.5 0 1.5 0 1.5 0 1.5 0 1.5 0 1.5 0 1.5 0 1.5 0 1.5 0 1.5 0 1.5 0 1.5 0 1.5 0 1.5 0 1.5 0 1.5 0 1.5 0 1.5 0" stroke="#e377c2" stroke-width="1.15"/>
<path d="M353.5 363.8l1.5 0 1.5 0 1.5 0 1.5 0 1.5 0 1.5 0 1.5 0 1.5 0 1.5 0 1.5 0 1.5 0 1.5 0 1.5 0 1.5 0 1.5 0 1.5 0 1.5 0 1.5 0 1.5 0 1.5 0 1.5 0 1.5 0 1.5 0 1.5 0 1.5 0 1.5 0 1.5 0 1.5 0 1.5 0 1.5 0 1.5 0 1.5 0 1.5 0 1.5 0 1.5 0 1.5 0 1.5 0 1.5 0 1.5 0 1.5 0 1.5 0 1.5 0 1.5 0 1.5 0 1.5 0 1.5 0 1.5 0 1.5 0 1.5 0 1.5 0 1.5 0 1.5 0 1.5 0 1.5 0 1.5 0 1.5 0 1.5 0 1.5 0 1.5 0 1.5 0 1.5 0 1.5 0 1.5 0 1.5 0 1.5 0 1.5 0 1.5 0 1.5 0 1.5 0 1.5 0 1.5 0 1.5 0 1.5 0 1.5 0 1.5 .1 1.5 0 1.5 0 1.5 .1 1.5 0 1.5 0 1.5 .1 1.5 0 1.5 .1 1.5 0 1.5 .1 1.5 0 1.5 .1 1.5 0 1.5 .1" stroke="#e377c2" stroke-width="1.15" stroke-dasharray="3.6 1.2"/>
<path d="M42.83 365.95L45.58 368.7L42.83 371.45L40.08 368.7Z" fill="#e377c2"/><path d="M77.3 362.25L80.05 365L77.3 367.75L74.55 365Z" fill="#e377c2"/><path d="M111.78 361.23L114.53 363.98L111.78 366.73L109.03 363.98Z" fill="#e377c2"/><path d="M146.25 364.25L149 367L146.25 369.75L143.5 367Z" fill="#e377c2"/><path d="M180.72 361.75L183.47 364.5L180.72 367.25L177.97 364.5Z" fill="#e377c2"/><path d="M215.19 361.75L217.94 364.5L215.19 367.25L212.44 364.5Z" fill="#e377c2"/><path d="M249.67 361.75L252.42 364.5L249.67 367.25L246.92 364.5Z" fill="#e377c2"/><path d="M284.14 361.75L286.89 364.5L284.14 367.25L281.39 364.5Z" fill="#e377c2"/><path d="M318.61 361L321.36 363.75L318.61 366.5L315.86 363.75Z" fill="#e377c2"/><path d="M353.1 361L355.85 363.75L353.1 366.5L350.35 363.75Z" fill="#e377c2"/><path d="M387.57 361L390.32 363.75L387.57 366.5L384.82 363.75Z" fill="#e377c2"/><path d="M422.05 361L424.8 363.75L422.05 366.5L419.3 363.75Z" fill="#e377c2"/><path d="M456.52 361L459.27 363.75L456.52 366.5L453.77 363.75Z" fill="#e377c2"/>
<path d="M43 367.5l1.5 .1 1.5 .1 1.5 0 1.5 .1 1.5 .1 1.5 .1 1.5 0 1.5 .1 1.5 .1 1.5 0 1.5 .1 1.5 .1 1.5 0 1.5 .1 1.5 0 1.5 .1 1.5 0 1.5 0 1.5 .1 1.5 0 1.5 0 1.5 0 1.5 0 1.5 0 1.5 .1 1.5 0 1.5 0 1.5 0 1.5 0 1.5 0 1.5 0 1.5 0 1.5 0 1.5 0 1.5 0 1.5 0 1.5 0 1.5 0 1.5 0 1.5 0 1.5 0 1.5 0 1.5 0 1.5 0 1.5 0 1.5 0 1.5 0 1.5 0 1.5 0 1.5 0 1.5 0 1.5 0 1.5 0 1.5 0 1.5 0 1.5 0 1.5 0 1.5 0 1.5 0 1.5 0 1.5 0 1.5 0 1.5 0 1.5 0 1.5 0 1.5 0 1.5 0 1.5 0 1.5 0 1.5 0 1.5 0 1.5 0 1.5-.1 1.5 0 1.5 0 1.5 0 1.5 0 1.5 0 1.5-.1 1.5 0 1.5-.1 1.5 0 1.5-.1 1.5 0 1.5 0 1.5-.1 1.5 0 1.5-.1 1.5 0 1.5-.1 1.5 0 1.5 0 1.5-.1 1.5 0 1.5 0 1.5 0 1.5 0 1.5 0 1.5 0 1.5 0 1.5 0 1.5 0 1.5 0 1.5 0 1.5 0 1.5 0 1.5 0 1.5 0 1.5 0 1.5 0 1.5 0 1.5 0 1.5 0 1.5 0 1.5 0 1.5 0 1.5 0 1.5 0 1.5 0 1.5 0 1.5 0 1.5 0 1.5 0 1.5 0 1.5 0 1.5 0 1.5 0 1.5 0 1.5 0 1.5 0 1.5 0 1.5 0 1.5 0 1.5 0 1.5 0 1.5 0 1.5 0 1.5 0 1.5 0 1.5 0 1.5 0 1.5 0 1.5 0 1.5 0 1.5 0 1.5 0 1.5 .1 1.5 .1 1.5 .1 1.5 .1 1.5 .2 1.5 .1 1.5 .2 1.5 .2 1.5 .2 1.5 .2 1.5 .3 1.5 .2 1.5 .3 1.5 .5 1.5 .5 1.5 .6 1.5 .6 1.5 .7 1.5 .6 1.5 .5 1.5 .4 1.5 .2 1.5 .1 1.5 0 1.5-.1 1.5 0 1.5-.1 1.5-.1 1.5-.1 1.5-.1 1.5-.1 1.5-.1 1.5-.1 1.5-.1 1.5-.1 1.5-.1 1.5 0 1.5-.1 1.5-.1 1.5-.1 1.5 0 1.5-.1 1.5-.1 1.5-.1 1.5-.1 1.5-.1 1.5-.1 1.5-.1 1.5-.2 1.5-.2 1.5-.2 1.5-.3 1.5-.2 1.5-.3 1.5-.2 1.5-.3 1.5-.2 1.5-.3 1.5-.2 1.5-.2" stroke="#7f7f7f" stroke-width="1.15"/>
<path d="M353.5 369.9l1.5-.2 1.5-.2 1.5-.2 1.5-.2 1.5-.2 1.5-.2 1.5-.1 1.5-.2 1.5-.1 1.5-.2 1.5-.1 1.5-.1 1.5-.1 1.5-.1 1.5-.1 1.5-.1 1.5-.1 1.5-.1 1.5-.1 1.5-.1 1.5 0 1.5-.1 1.5 0 1.5 0 1.5 .1 1.5 .1 1.5 .1 1.5 .2 1.5 .2 1.5 .2 1.5 .3 1.5 .3 1.5 .3 1.5 .4 1.5 .3 1.5 .3 1.5 .4 1.5 .3 1.5 .4 1.5 .3 1.5 .3 1.5 .3 1.5 .3 1.5 .3 1.5 .2 1.5 .2 1.5 .1 1.5 .1 1.5 .1 1.5 .1 1.5 .1 1.5 .1 1.5 .1 1.5 .1 1.5 .1 1.5 .1 1.5 0 1.5 .1 1.5 .1 1.5 .1 1.5 0 1.5 .1 1.5 0 1.5 .1 1.5 0 1.5 .1 1.5 0 1.5 0 1.5 .1 1.5 0 1.5 0 1.5 0 1.5 0 1.5 0 1.5 0 1.5 0 1.5 0 1.5-.1 1.5 0 1.5 0 1.5 0 1.5 0 1.5-.1 1.5 0 1.5-.1 1.5 0 1.5-.1 1.5 0 1.5-.1" stroke="#7f7f7f" stroke-width="1.15" stroke-dasharray="3.6 1.2"/>
<path d="M42.83 364.71L44.33 367.51L42.83 370.31L41.33 367.51Z" fill="#7f7f7f"/><path d="M79 365.95L80.5 368.75L79 371.55L77.5 368.75Z" fill="#7f7f7f"/><path d="M115.17 365.95L116.67 368.75L115.17 371.55L113.67 368.75Z" fill="#7f7f7f"/><path d="M151.35 365.95L152.85 368.75L151.35 371.55L149.85 368.75Z" fill="#7f7f7f"/><path d="M187.52 365.2L189.02 368L187.52 370.8L186.02 368Z" fill="#7f7f7f"/><path d="M223.69 365.2L225.19 368L223.69 370.8L222.19 368Z" fill="#7f7f7f"/><path d="M259.86 365.2L261.36 368L259.86 370.8L258.36 368Z" fill="#7f7f7f"/><path d="M296.03 372.2L297.53 375L296.03 377.8L294.53 375Z" fill="#7f7f7f"/><path d="M332.21 370.22L333.71 373.02L332.21 375.82L330.71 373.02Z" fill="#7f7f7f"/><path d="M353.1 367.12L354.6 369.92L353.1 372.72L351.6 369.92Z" fill="#7f7f7f"/><path d="M389.27 364.2L390.77 367L389.27 369.8L387.77 367Z" fill="#7f7f7f"/><path d="M425.44 370.23L426.94 373.03L425.44 375.83L423.94 373.03Z" fill="#7f7f7f"/><path d="M461.62 371.7L463.12 374.5L461.62 377.3L460.12 374.5Z" fill="#7f7f7f"/>
</g>
<line x1="353.1" y1="346.75" x2="353.1" y2="412.25" stroke="#000" stroke-width="1.05"/>
<rect x="43" y="346.75" width="444.35" height="65.5" fill="none" stroke="#000" stroke-width="0.62"/>
<line x1="40.7" y1="360.2" x2="43" y2="360.2" stroke="#000" stroke-width="0.62"/>
<text x="39.3" y="362.65" text-anchor="end" textLength="14.2" lengthAdjust="spacingAndGlyphs">−1.5</text>
<line x1="40.7" y1="382.6" x2="43" y2="382.6" stroke="#000" stroke-width="0.62"/>
<text x="39.3" y="385.05" text-anchor="end" textLength="14.2" lengthAdjust="spacingAndGlyphs">−2.0</text>
<line x1="40.7" y1="405.3" x2="43" y2="405.3" stroke="#000" stroke-width="0.62"/>
<text x="39.3" y="407.75" text-anchor="end" textLength="14.2" lengthAdjust="spacingAndGlyphs">−2.5</text>
<line x1="131.5" y1="412.25" x2="131.5" y2="414.55" stroke="#000" stroke-width="0.62"/>
<line x1="220.17" y1="412.25" x2="220.17" y2="414.55" stroke="#000" stroke-width="0.62"/>
<line x1="308.84" y1="412.25" x2="308.84" y2="414.55" stroke="#000" stroke-width="0.62"/>
<line x1="397.51" y1="412.25" x2="397.51" y2="414.55" stroke="#000" stroke-width="0.62"/>
<text transform="translate(14.4 380.5) rotate(-90)" text-anchor="middle" textLength="7.44" lengthAdjust="spacingAndGlyphs">S2</text>
<text transform="translate(21.4 378.3) rotate(-90)" text-anchor="middle" textLength="29.5" lengthAdjust="spacingAndGlyphs">Δ O<tspan font-size="4.1" dy="1.2">3</tspan><tspan dy="-1.2"> [DU]</tspan></text>
<clipPath id="c6"><rect x="43" y="415" width="444.35" height="65.5"/></clipPath>
<g clip-path="url(#c6)" fill="none" stroke-linejoin="round">
<path d="M43 434.1l.8 .6 .8 1.1 .8 .6 .8 .5 .8-.6 .8-.1 .8 1.5 .8 .8 .8 .2 .8 1.8 .8 .7 .8 .5 .8 0 .8-.1 .8 1.8 .8-.9 .8 .6 .8 .9 .8 0 .8-.3 .8-.6 .8 .5 .8 1.2 .8 1 .8-.8 .8 .7 .8 .3 .8-.5 .8-.5 .8-.3 .8-.8 .8 1.3 .8 .5 .8-.5 .8 .6 .8-.3 .8-.6 .8 .6 .8 0 .8 1.1 .8-2.3 .8-.9 .8 .3 .8 1.1 .8 .6 .8-.9 .8-.2 .8 1.6 .8-.6 .8-1.5 .8-.8 .8-.9 .8 1.4 .8 1 .8-2.4 .8-.8 .8 .3 .8-1 .8 1.4 .8-1.7 .8-.4 .8 .7 .8 .8 .8-1.5 .8-2.7 .8-.3 .8 .7 .8-1.2 .8 .6 .8 .4 .8 1.5 .8-.2 .8-2.3 .8 1.8 .8 .9 .8-.9 .8-.1 .8 .1 .8 1.3 .8 1.6 .8 1.9 .8 1.2 .8-.1 .8 1.6 .8 2.6 .8-.2 .8 3 .8 5 .8 3.2 .8-.3 .8 1.2 .8 1 .8 2.2 .8 1.7 .8 1.2 .8 2.4 .8 2.1 .8 2 .8-.3 .8-1.2 .8 0 .8-.9 .8-2.3 .8-.6 .8-2.1 .8-2.4 .8-1 .8-.9 .8 .1 .8 1.9 .8 .7 .8-.4 .8 .6 .8 1.1 .8 1.8 .8 .9 .8-1.2 .8 .2 .8-.2 .8 .1 .8-.5 .8-3.2 .8-2.3 .8-.2 .8-.8 .8 .7 .8-2 .8-1 .8-.1 .8-.4 .8-.7 .8 .4 .8 .4 .8-.3 .8 1 .8-1.6 .8-2.1 .8 1.3 .8-1 .8 1.6 .8 1.9 .8-1.3 .8-2.4 .8-.3 .8 1.2 .8 .8 .8-1.1 .8 .6 .8-.4 .8-.8 .8 .2 .8 .5 .8-2.5 .8-.2 .8 1.7 .8-.3 .8-2.6 .8-1.1 .8-.3 .8 .2 .8-.8 .8 .4 .8-1 .8-1.5 .8-.8 .8-.3 .8-.7 .8-1.4 .8-.6 .8-.5 .8-1.1 .8-.3 .8-1.6 .8-1.2 .8 .7 .8 1.3 .8-.8 .8-2.4 .8 .6 .8-.1 .8-.1 .8 .2 .8 0 .8-.1 .8 .4 .8 .2 .8-1.1 .8-.3 .8 .2 .8 .7 .8 1.1 .8-.6 .8 .6 .8 .8 .8 .7 .8 .2 .8 .8 .8-.3 .8 .6 .8 .3 .8-.9 .8 1.8 .8 1.6 .8-.6 .8 .2 .8 1.6 .8-.4 .8-.5 .8-2.2 .8 1 .8 .4 .8 .9 .8 .6 .8-1 .8-1.3 .8-1.3 .8 2.7 .8 1.3 .8-1.1 .8-.7 .8 .8 .8 .7 .8 .3 .8 .4 .8-2.3 .8-1.1 .8 1.5 .8 .5 .8-1.6 .8-.7 .8-1.1 .8-1.1 .8-.6 .8-.9 .8 1.3 .8 .5 .8-.6 .8-1.9 .8-1.1 .8-1.2 .8 .3 .8 2.5 .8 1 .8-3.1 .8-.5 .8 .6 .8-.9 .8 .1 .8-.7 .8-.2 .8 .4 .8-1.3 .8-.9 .8 1 .8-.6 .8-1.3 .8-.4 .8 .5 .8-.9 .8 .2 .8 .5 .8-.7 .8-.2 .8-1.4 .8 1 .8 .9 .8 .7 .8-1 .8-.1 .8-1 .8-1.1 .8-.1 .8 .7 .8 1 .8-.8 .8 .6 .8 1.1 .8 .5 .8 0 .8-.4 .8-2 .8 0 .8 1.2 .8 .8 .8-.7 .8-1.2 .8-.3 .8-.4 .8 1 .8-1 .8 1.3 .8 1.3 .8-.6 .8-1.8 .8 1 .8 .4 .8 1 .8 2 .8-.5 .8-1.2 .8 1.1 .8 2.3 .8 .5 .8-.8 .8 .4 .8 2 .8 2 .8 1.9 .8 .7 .8 2 .8 1.2 .8-1.1 .8 1.8 .8 2.8 .8 .1 .8 1.3 .8 1.6 .8 0 .8 .6 .8 .8 .8 2.4 .8 .7 .8 .1 .8-.1 .8 3.2 .8 .9 .8-.4 .8 .6 .8-1.8 .8 .8 .8 .8 .8 2.1 .8-3 .8-.1 .8 1.5 .8 1.7 .8 .5 .8-.4 .8 .1 .8 1.2 .8-1.4 .8 .6 .8 .9 .8-2 .8 .2 .8 1.9 .8-.4 .8-1.3 .8 1.4 .8 1.7 .8-.9 .8 .2 .8-.4 .8-.1 .8 1.9 .8 .3 .8-.2 .8-1 .8 0 .8 .5 .8 .1 .8-.6 .8 .4 .8 1 .8-1.3 .8 0 .8 .4 .8-.2 .8-.4 .8 .9 .8 1.4 .8-.6 .8 .2 .8 1.4 .8-1.1 .8 1.3 .8-.2 .8-1.3 .8 .7 .8 1 .8 1.7 .8 .1 .8-1.3 .8-1.2 .8-.1 .8 .9 .8-.2 .8 .3 .8 .8 .8 1.1 .8 .7 .8-.8 .8-.2 .8-.2 .8 1.3 .8 .6 .8 .8 .8-1.1 .8-3.5 .8-1.4 .8 2.2 .8 .3 .8-1.7 .8 .9 .8-1.5 .8-1.2 .8-.8 .8-2.9 .8-1.3 .8 .6 .8-.7 .8 .6 .8-1.1 .8-3 .8 1.7 .8 1.3 .8-2.2 .8 1.1 .8-.5 .8 .4 .8 4.2 .8 1 .8-1.6 .8 .4 .8 2.8 .8 .5 .8-1 .8 .7 .8-.4 .8 0 .8 1.1 .8 0 .8 1.1 .8-.4 .8-.3 .8 .4 .8 1.6 .8 .6 .8-1.6 .8-2 .8-.1 .8-2.2 .8-1.2 .8 1.3 .8 1.3 .8-.1 .8-.1 .8 .5 .8-1.1 .8-1.6 .8 .3 .8-.7 .8 .3 .8 .2 .8-1.6 .8-1.6 .8 1 .8 .4 .8 0 .8-.7 .8-1.4 .8 0 .8 2.7 .8 .9 .8-.8 .8-.1 .8 1.7 .8-1.4 .8-1.5 .8 0 .8-.9 .8-.1 .8-.5 .8-.6 .8-1.2 .8-.9 .8 .9 .8-.1 .8-2.6 .8-1 .8-.1 .8 1.5 .8-.4 .8-.2 .8-1.4 .8 .4 .8-1.5 .8-.4 .8 .5 .8-1.4 .8-.5 .8 .9 .8-.6 .8 1.3 .8 .2 .8-4.1 .8-2.3 .8-2.1 .8-.1 .8 1.4 .8-.6 .8-1.3 .8-1.6 .8-3.4 .8-1.9 .8 1.4 .8-1 .8-1.2 .8-2.3 .8-1.6 .8-2.9 .8-1.7 .8-1.4 .8-.5 .8 0 .8-3.2 .8-4.9 .8 1.1 .8 .7 .8-.2 .8-1.7 .8-2.1 .8-.7 .8 .1 .8 .7 .8 2.4 .8-.2 .8-.5 .8 1.8 .8 1.2 .8-2.1 .8-.6 .8-.3 .8-.7 .8 .8 .8 1.3 .8 2.5 .8 1.6 .8 .3 .8-1 .8 .7 .8-1.4 .8 .8 .8 2.2 .8 .4 .8 .1 .8 .7 .8-1.8 .8-2.4 .8-1.2 .8-.7 .8 .1 .8-1.5 .8-1.1 .8-.9" stroke="#262626" stroke-width="0.9"/>
<path d="M51.4 440.47L53.8 442.87M51.4 442.87L53.8 440.47" stroke="#262626" stroke-width="0.55"/><path d="M66.2 443.13L68.6 445.53M66.2 445.53L68.6 443.13" stroke="#262626" stroke-width="0.55"/><path d="M81 444.1L83.4 446.5M81 446.5L83.4 444.1" stroke="#262626" stroke-width="0.55"/><path d="M95.8 435.82L98.2 438.22M95.8 438.22L98.2 435.82" stroke="#262626" stroke-width="0.55"/><path d="M110.6 446.89L113 449.29M110.6 449.29L113 446.89" stroke="#262626" stroke-width="0.55"/><path d="M125.4 465.21L127.8 467.61M125.4 467.61L127.8 465.21" stroke="#262626" stroke-width="0.55"/><path d="M140.2 459.52L142.6 461.92M140.2 461.92L142.6 459.52" stroke="#262626" stroke-width="0.55"/><path d="M155 455.98L157.4 458.38M155 458.38L157.4 455.98" stroke="#262626" stroke-width="0.55"/><path d="M169.8 448.53L172.2 450.93M169.8 450.93L172.2 448.53" stroke="#262626" stroke-width="0.55"/><path d="M184.6 436.19L187 438.59M184.6 438.59L187 436.19" stroke="#262626" stroke-width="0.55"/><path d="M199.4 440.07L201.8 442.47M199.4 442.47L201.8 440.07" stroke="#262626" stroke-width="0.55"/><path d="M214.2 441.27L216.6 443.67M214.2 443.67L216.6 441.27" stroke="#262626" stroke-width="0.55"/><path d="M229 437.58L231.4 439.98M229 439.98L231.4 437.58" stroke="#262626" stroke-width="0.55"/><path d="M243.8 432.36L246.2 434.76M243.8 434.76L246.2 432.36" stroke="#262626" stroke-width="0.55"/><path d="M258.6 427.99L261 430.39M258.6 430.39L261 427.99" stroke="#262626" stroke-width="0.55"/><path d="M273.4 428.48L275.8 430.88M273.4 430.88L275.8 428.48" stroke="#262626" stroke-width="0.55"/><path d="M288.2 440.32L290.6 442.72M288.2 442.72L290.6 440.32" stroke="#262626" stroke-width="0.55"/><path d="M303 459.14L305.4 461.54M303 461.54L305.4 459.14" stroke="#262626" stroke-width="0.55"/><path d="M317.8 461.2L320.2 463.6M317.8 463.6L320.2 461.2" stroke="#262626" stroke-width="0.55"/><path d="M332.6 465.19L335 467.59M332.6 467.59L335 465.19" stroke="#262626" stroke-width="0.55"/><path d="M347.4 469.69L349.8 472.09M347.4 472.09L349.8 469.69" stroke="#262626" stroke-width="0.55"/><path d="M362.2 467.32L364.6 469.72M362.2 469.72L364.6 467.32" stroke="#262626" stroke-width="0.55"/><path d="M377 458.03L379.4 460.43M377 460.43L379.4 458.03" stroke="#262626" stroke-width="0.55"/><path d="M391.8 468.82L394.2 471.22M391.8 471.22L394.2 468.82" stroke="#262626" stroke-width="0.55"/><path d="M406.6 459.07L409 461.47M406.6 461.47L409 459.07" stroke="#262626" stroke-width="0.55"/><path d="M421.4 457.23L423.8 459.63M421.4 459.63L423.8 457.23" stroke="#262626" stroke-width="0.55"/><path d="M436.2 449.68L438.6 452.08M436.2 452.08L438.6 449.68" stroke="#262626" stroke-width="0.55"/><path d="M451 426.76L453.4 429.16M451 429.16L453.4 426.76" stroke="#262626" stroke-width="0.55"/><path d="M465.8 418.54L468.2 420.94M465.8 420.94L468.2 418.54" stroke="#262626" stroke-width="0.55"/><path d="M480.6 420.78L483 423.18M480.6 423.18L483 420.78" stroke="#262626" stroke-width="0.55"/>
<path d="M43 444.2l1.5 0 1.5 0 1.5 0 1.5 0 1.5 0 1.5 0 1.5 0 1.5 0 1.5 0 1.5 0 1.5 0 1.5 0 1.5 0 1.5 0 1.5 0 1.5 0 1.5 0 1.5-.3 1.5-.3 1.5-.4 1.5-.5 1.5-.5 1.5-.5 1.5-.4 1.5-.4 1.5-.4 1.5-.4 1.5-.4 1.5-.3 1.5-.4 1.5-.4 1.5-.4 1.5-.3 1.5-.5 1.5-.4 1.5-.5 1.5-.5 1.5-.4 1.5-.3 1.5-.2 1.5-.1 1.5 .1 1.5 .3 1.5 .4 1.5 .5 1.5 .7 1.5 .6 1.5 .6 1.5 .8 1.5 1 1.5 1.1 1.5 1.2 1.5 1.1 1.5 1 1.5 .9 1.5 .9 1.5 .9 1.5 .9 1.5 .9 1.5 .9 1.5 .7 1.5 .6 1.5 .4 1.5 .2 1.5 0 1.5 0 1.5-.1 1.5-.1 1.5-.1 1.5-.1 1.5-.1 1.5-.1 1.5-.1 1.5-.1 1.5 0 1.5-.1 1.5 0 1.5-.1 1.5 0 1.5-.1 1.5-.1 1.5-.2 1.5-.2 1.5-.3 1.5-.3 1.5-.4 1.5-.3 1.5-.3 1.5-.3 1.5-.2 1.5-.3 1.5-.3 1.5-.2 1.5-.2 1.5-.2 1.5 0 1.5 0 1.5 0 1.5 .1 1.5 .2 1.5 .2 1.5 .2 1.5 .2 1.5 .2 1.5 .2 1.5 .2 1.5 .2 1.5 .2 1.5 .2 1.5 .2 1.5 .3 1.5 .3 1.5 .3 1.5 .4 1.5 .4 1.5 .5 1.5 .5 1.5 .6 1.5 .5 1.5 .5 1.5 .5 1.5 .4 1.5 .4 1.5 .4 1.5 .5 1.5 .4 1.5 .3 1.5 .3 1.5 .1 1.5 0 1.5-.2 1.5-.4 1.5-.5 1.5-.7 1.5-.7 1.5-.8 1.5-.7 1.5-.7 1.5-.7 1.5-.7 1.5-.7 1.5-.8 1.5-.8 1.5-.7 1.5-.6 1.5-.7 1.5-.6 1.5-.6 1.5-.5 1.5-.6 1.5-.5 1.5-.5 1.5-.4 1.5-.4 1.5-.3 1.5-.3 1.5-.3 1.5-.2 1.5-.2 1.5-.2 1.5-.1 1.5-.1 1.5 0 1.5 .1 1.5 .2 1.5 .2 1.5 .2 1.5 .3 1.5 .2 1.5 .3 1.5 .3 1.5 .3 1.5 .4 1.5 .4 1.5 .4 1.5 .4 1.5 .4 1.5 .4 1.5 .4 1.5 .6 1.5 .5 1.5 .6 1.5 .5 1.5 .5 1.5 .5 1.5 .3 1.5 .3 1.5 0 1.5 0 1.5-.2 1.5-.2 1.5-.3 1.5-.3 1.5-.2 1.5-.4 1.5-.4 1.5-.6 1.5-.5 1.5-.6 1.5-.6 1.5-.6 1.5-.5 1.5-.5 1.5-.4 1.5-.3 1.5-.1" stroke="#1f77b4" stroke-width="1.15"/>
<path d="M353.5 442.5l1.5 0 1.5 .1 1.5 0 1.5 .1 1.5 .1 1.5 0 1.5 .1 1.5 .1 1.5 .2 1.5 .1 1.5 .3 1.5 .2 1.5 .3 1.5 .3 1.5 .3 1.5 .3 1.5 .4 1.5 .4 1.5 .6 1.5 .5 1.5 .7 1.5 .6 1.5 .6 1.5 .6 1.5 .6 1.5 .5 1.5 .5 1.5 .4 1.5 .4 1.5 .4 1.5 .5 1.5 .5 1.5 .7 1.5 .8 1.5 .9 1.5 .8 1.5 .8 1.5 .5 1.5 .3 1.5 0 1.5-.1 1.5-.1 1.5-.2 1.5-.3 1.5-.2 1.5-.3 1.5-.3 1.5-.4 1.5-.4 1.5-.6 1.5-.7 1.5-.8 1.5-.9 1.5-.8 1.5-.8 1.5-.6 1.5-.6 1.5-.6 1.5-.6 1.5-.6 1.5-.5 1.5-.4 1.5-.3 1.5-.1 1.5 0 1.5 0 1.5 0 1.5 0 1.5 .1 1.5 0 1.5 .1 1.5 .1 1.5 .1 1.5 .1 1.5 .1 1.5 .1 1.5 .1 1.5 .1 1.5 .1 1.5 .1 1.5 .1 1.5 .1 1.5 .2 1.5 .1 1.5 .2 1.5 .2 1.5 .2 1.5 .2 1.5 .3" stroke="#1f77b4" stroke-width="1.15" stroke-dasharray="3.6 1.2"/>
<circle cx="42.83" cy="444.25" r="2.2" fill="#1f77b4"/><circle cx="67.11" cy="444.25" r="2.2" fill="#1f77b4"/><circle cx="91.38" cy="438.15" r="2.2" fill="#1f77b4"/><circle cx="115.66" cy="438.55" r="2.2" fill="#1f77b4"/><circle cx="139.94" cy="451.75" r="2.2" fill="#1f77b4"/><circle cx="164.21" cy="450.52" r="2.2" fill="#1f77b4"/><circle cx="188.49" cy="446.76" r="2.2" fill="#1f77b4"/><circle cx="212.77" cy="450.06" r="2.2" fill="#1f77b4"/><circle cx="237.04" cy="456.74" r="2.2" fill="#1f77b4"/><circle cx="261.32" cy="446.62" r="2.2" fill="#1f77b4"/><circle cx="285.6" cy="440.51" r="2.2" fill="#1f77b4"/><circle cx="309.87" cy="444.97" r="2.2" fill="#1f77b4"/><circle cx="334.15" cy="447.92" r="2.2" fill="#1f77b4"/><circle cx="353.1" cy="442.5" r="2.2" fill="#1f77b4"/><circle cx="377.38" cy="444.97" r="2.2" fill="#1f77b4"/><circle cx="401.65" cy="453.25" r="2.2" fill="#1f77b4"/><circle cx="425.93" cy="456.02" r="2.2" fill="#1f77b4"/><circle cx="450.21" cy="446.75" r="2.2" fill="#1f77b4"/><circle cx="474.48" cy="447.96" r="2.2" fill="#1f77b4"/>
<path d="M43 444.1l1.5-.9 1.5-.7 1.5-.8 1.5-.6 1.5-.5 1.5-.3 1.5-.3 1.5 0 1.5 .1 1.5 .2 1.5 .2 1.5 .3 1.5 .2 1.5 .3 1.5 .3 1.5 .2 1.5 .1 1.5 .1 1.5 0 1.5-.1 1.5 0 1.5-.1 1.5-.1 1.5-.2 1.5-.1 1.5-.1 1.5-.2 1.5-.1 1.5-.1 1.5-.1 1.5-.1 1.5-.1 1.5-.1 1.5 0 1.5 0 1.5 .1 1.5 .2 1.5 .2 1.5 .3 1.5 .3 1.5 .4 1.5 .8 1.5 1.5 1.5 1.9 1.5 2 1.5 1.8 1.5 1.8 1.5 2.1 1.5 2.1 1.5 1.8 1.5 1.5 1.5 .8 1.5 .5 1.5 .5 1.5 .4 1.5 .4 1.5 .3 1.5 .2 1.5 .2 1.5 .2 1.5 .2 1.5 .1 1.5 .1 1.5 .1 1.5 .1 1.5 0 1.5 .1 1.5 0 1.5 0 1.5 0 1.5 0 1.5-.1 1.5-.1 1.5 0 1.5-.1 1.5-.1 1.5-.2 1.5-.5 1.5-.9 1.5-1.1 1.5-1.1 1.5-1 1.5-1.2 1.5-1.3 1.5-1.2 1.5-1.2 1.5-1.1 1.5-1.1 1.5-1.1 1.5-1 1.5-1 1.5-.9 1.5-.9 1.5-.8 1.5-.7 1.5-.8 1.5-.7 1.5-.7 1.5-.7 1.5-.5 1.5-.5 1.5-.3 1.5-.1 1.5 0 1.5 .2 1.5 .1 1.5 .3 1.5 .2 1.5 .2 1.5 .2 1.5 .2 1.5 .1 1.5 0 1.5 0 1.5 0 1.5 0 1.5-.1 1.5 0 1.5 0 1.5-.1 1.5 0 1.5-.1 1.5-.3 1.5-.4 1.5-.5 1.5-.6 1.5-.7 1.5-.6 1.5-.6 1.5-.5 1.5-.4 1.5-.3 1.5-.2 1.5-.2 1.5-.2 1.5-.1 1.5-.2 1.5-.2 1.5-.2 1.5-.4 1.5-.4 1.5-.5 1.5-.5 1.5-.5 1.5-.4 1.5-.4 1.5-.3 1.5-.1 1.5-.1 1.5 0 1.5 0 1.5-.1 1.5 0 1.5 0 1.5 0 1.5 0 1.5 .1 1.5 .5 1.5 .9 1.5 1.1 1.5 1.2 1.5 1.3 1.5 1.7 1.5 2.1 1.5 2.3 1.5 2.4 1.5 2.5 1.5 2.3 1.5 2.1 1.5 1.7 1.5 1.2 1.5 .8 1.5 .6 1.5 .5 1.5 .5 1.5 .4 1.5 .3 1.5 .4 1.5 .4 1.5 .3 1.5 .5 1.5 .4 1.5 .6 1.5 .6 1.5 .6 1.5 .6 1.5 .5 1.5 .5 1.5 .3 1.5 .2 1.5 0 1.5 0 1.5-.1 1.5-.1 1.5-.2 1.5-.3 1.5-.3 1.5-.3 1.5-.4 1.5-.4 1.5-.5 1.5-.5 1.5-.6 1.5-1.4 1.5-2.4 1.5-2" stroke="#ff7f0e" stroke-width="1.15"/>
<path d="M353.5 453.6l1.5-.9 1.5-.8 1.5-.7 1.5-.7 1.5-.5 1.5-.5 1.5-.5 1.5-.5 1.5-.4 1.5-.4 1.5-.3 1.5-.3 1.5-.3 1.5-.2 1.5-.3 1.5-.3 1.5-.3 1.5-.3 1.5-.4 1.5-.3 1.5-.4 1.5-.4 1.5-.5 1.5-.5 1.5-.5 1.5-.6 1.5-.9 1.5-1.2 1.5-1.4 1.5-1.5 1.5-1.6 1.5-1.6 1.5-1.5 1.5-1.2 1.5-1.1 1.5-1 1.5-.9 1.5-.8 1.5-.9 1.5-.8 1.5-.8 1.5-.8 1.5-.7 1.5-.8 1.5-.8 1.5-.8 1.5-.7 1.5-.8 1.5-.7 1.5-.8 1.5-.8 1.5-.8 1.5-.9 1.5-1.1 1.5-1.3 1.5-1.2 1.5-1 1.5-.8 1.5-.8 1.5-.7 1.5-.7 1.5-.6 1.5-.6 1.5-.5 1.5-.4 1.5-.3 1.5-.2 1.5 0 1.5 .5 1.5 .9 1.5 1.3 1.5 1.6 1.5 1.6 1.5 1.7 1.5 1.6 1.5 1.3 1.5 1.2 1.5 1.3 1.5 1.3 1.5 1.4 1.5 1.2 1.5 1.3 1.5 1.1 1.5 1 1.5 .8 1.5 .7 1.5 .4 1.5 .5 1.5 .3" stroke="#ff7f0e" stroke-width="1.15" stroke-dasharray="3.6 1.2"/>
<path d="M40.23 444.18L44.39 441.71L44.39 446.65Z" fill="#ff7f0e"/><path d="M66.21 441.97L70.37 439.5L70.37 444.44Z" fill="#ff7f0e"/><path d="M92.18 440.5L96.34 438.03L96.34 442.97Z" fill="#ff7f0e"/><path d="M118.16 460L122.32 457.53L122.32 462.47Z" fill="#ff7f0e"/><path d="M144.13 463.5L148.29 461.03L148.29 465.97Z" fill="#ff7f0e"/><path d="M170.11 452.85L174.27 450.38L174.27 455.32Z" fill="#ff7f0e"/><path d="M196.09 440.53L200.25 438.06L200.25 443Z" fill="#ff7f0e"/><path d="M222.06 441.76L226.22 439.29L226.22 444.23Z" fill="#ff7f0e"/><path d="M248.04 435.6L252.2 433.13L252.2 438.07Z" fill="#ff7f0e"/><path d="M274.01 431.75L278.17 429.28L278.17 434.22Z" fill="#ff7f0e"/><path d="M299.99 456.61L304.15 454.14L304.15 459.08Z" fill="#ff7f0e"/><path d="M325.96 464.25L330.12 461.78L330.12 466.72Z" fill="#ff7f0e"/><path d="M350.5 453.85L354.66 451.38L354.66 456.32Z" fill="#ff7f0e"/><path d="M376.48 445.71L380.64 443.24L380.64 448.18Z" fill="#ff7f0e"/><path d="M402.45 430.46L406.61 427.99L406.61 432.93Z" fill="#ff7f0e"/><path d="M428.43 416.37L432.59 413.9L432.59 418.84Z" fill="#ff7f0e"/><path d="M454.4 405.51L458.56 403.04L458.56 407.98Z" fill="#ff7f0e"/><path d="M480.38 426.92L484.54 424.45L484.54 429.39Z" fill="#ff7f0e"/>
<path d="M43 442.9l1.5-.5 1.5-.5 1.5-.4 1.5-.4 1.5-.3 1.5-.2 1.5-.1 1.5 0 1.5 .1 1.5 .2 1.5 .3 1.5 .4 1.5 .4 1.5 .3 1.5 .4 1.5 .2 1.5 .2 1.5 0 1.5-.1 1.5-.1 1.5-.1 1.5-.2 1.5-.3 1.5-.2 1.5-.3 1.5-.2 1.5-.3 1.5-.2 1.5-.2 1.5-.3 1.5-.3 1.5-.3 1.5-.2 1.5-.3 1.5-.1 1.5-.1 1.5 .1 1.5 .2 1.5 .3 1.5 .3 1.5 .4 1.5 .8 1.5 1.6 1.5 2 1.5 2.3 1.5 2.3 1.5 2.2 1.5 1.9 1.5 2 1.5 2.2 1.5 2.1 1.5 1.8 1.5 1.5 1.5 .9 1.5 .3 1.5 .3 1.5 .2 1.5 .2 1.5 .1 1.5 .2 1.5 0 1.5 .1 1.5 0 1.5 0 1.5 0 1.5-.1 1.5 0 1.5-.1 1.5 0 1.5-.1 1.5-.1 1.5 0 1.5-.1 1.5-.2 1.5-.2 1.5-.4 1.5-.3 1.5-.5 1.5-.5 1.5-.6 1.5-.6 1.5-.7 1.5-.8 1.5-1.1 1.5-1.5 1.5-1.6 1.5-1.7 1.5-2.1 1.5-2.3 1.5-2.1 1.5-1.8 1.5-1.4 1.5-1.3 1.5-1.2 1.5-1.2 1.5-.8 1.5-.6 1.5-.3 1.5 .1 1.5 .1 1.5 .3 1.5 .2 1.5 .4 1.5 .3 1.5 .4 1.5 .4 1.5 .4 1.5 .4 1.5 .4 1.5 .3 1.5 .2 1.5 .3 1.5 .3 1.5 .2 1.5 .2 1.5 .1 1.5 0 1.5-.2 1.5-.4 1.5-.4 1.5-.6 1.5-.7 1.5-.6 1.5-.8 1.5-.7 1.5-.6 1.5-.7 1.5-.5 1.5-.5 1.5-.5 1.5-.5 1.5-.4 1.5-.5 1.5-.4 1.5-.5 1.5-.3 1.5-.4 1.5-.4 1.5-.3 1.5-.4 1.5-.4 1.5-.3 1.5-.3 1.5-.3 1.5-.3 1.5-.1 1.5-.2 1.5 0 1.5 0 1.5 0 1.5 .1 1.5 .1 1.5 .1 1.5 .1 1.5 .1 1.5 .2 1.5 .3 1.5 .7 1.5 1.1 1.5 1.2 1.5 1.3 1.5 1.4 1.5 1.6 1.5 1.9 1.5 1.9 1.5 1.9 1.5 1.7 1.5 1.3 1.5 1.1 1.5 1.1 1.5 1.1 1.5 1 1.5 1 1.5 1 1.5 .9 1.5 .9 1.5 .8 1.5 .6 1.5 .6 1.5 .5 1.5 .4 1.5 .2 1.5 0 1.5 0 1.5 0 1.5 0 1.5 0 1.5 0 1.5 0 1.5 0 1.5-.1 1.5 0 1.5 0 1.5-.1 1.5 0 1.5-.1 1.5 0 1.5-.1 1.5-.1 1.5-.1 1.5-.2 1.5-.2 1.5-.2 1.5-1.1 1.5-2.2 1.5-2.1" stroke="#2ca02c" stroke-width="1.15"/>
<path d="M353.5 451.4l1.5-.8 1.5-.8 1.5-.7 1.5-.6 1.5-.6 1.5-.4 1.5-.4 1.5-.2 1.5-.1 1.5 0 1.5 .2 1.5 .4 1.5 .4 1.5 .4 1.5 .4 1.5 .4 1.5 .2 1.5 0 1.5 0 1.5-.2 1.5-.3 1.5-.4 1.5-.4 1.5-.5 1.5-.6 1.5-.5 1.5-.7 1.5-.6 1.5-.6 1.5-.7 1.5-.6 1.5-.6 1.5-.6 1.5-.5 1.5-.5 1.5-.4 1.5-.4 1.5-.3 1.5-.3 1.5-.2 1.5-.3 1.5-.2 1.5-.3 1.5-.3 1.5-.3 1.5-.4 1.5-.4 1.5-.5 1.5-.8 1.5-.9 1.5-1.1 1.5-1.1 1.5-1 1.5-.9 1.5-.8 1.5-.8 1.5-.8 1.5-.8 1.5-.7 1.5-.6 1.5-.5 1.5-.2 1.5-.1 1.5 .6 1.5 1 1.5 1.3 1.5 1.3 1.5 1.2 1.5 1.2 1.5 1.2 1.5 1.4 1.5 1.3 1.5 1.3 1.5 1.4 1.5 1.4 1.5 1.5 1.5 1.5 1.5 1.4 1.5 1.4 1.5 1.1 1.5 1 1.5 .8 1.5 .8 1.5 .8 1.5 .7 1.5 .6 1.5 .5 1.5 .4 1.5 .4" stroke="#2ca02c" stroke-width="1.15" stroke-dasharray="3.6 1.2"/>
<path d="M42.83 445.55L45.3 441.39L40.36 441.39Z" fill="#2ca02c"/><path d="M70.51 445.58L72.98 441.42L68.04 441.42Z" fill="#2ca02c"/><path d="M98.18 441.89L100.65 437.73L95.71 437.73Z" fill="#2ca02c"/><path d="M125.86 467.1L128.33 462.94L123.39 462.94Z" fill="#2ca02c"/><path d="M153.53 467.46L156 463.3L151.06 463.3Z" fill="#2ca02c"/><path d="M181.21 447.04L183.68 442.88L178.74 442.88Z" fill="#2ca02c"/><path d="M208.88 445.62L211.35 441.46L206.41 441.46Z" fill="#2ca02c"/><path d="M236.56 440.09L239.03 435.93L234.09 435.93Z" fill="#2ca02c"/><path d="M264.23 433.61L266.7 429.45L261.76 429.45Z" fill="#2ca02c"/><path d="M291.91 447.51L294.38 443.35L289.44 443.35Z" fill="#2ca02c"/><path d="M319.58 461.85L322.05 457.69L317.11 457.69Z" fill="#2ca02c"/><path d="M347.26 460.64L349.73 456.48L344.79 456.48Z" fill="#2ca02c"/><path d="M353.1 454.24L355.57 450.08L350.63 450.08Z" fill="#2ca02c"/><path d="M380.78 451.83L383.25 447.67L378.31 447.67Z" fill="#2ca02c"/><path d="M408.45 442.87L410.92 438.71L405.98 438.71Z" fill="#2ca02c"/><path d="M436.13 432.53L438.6 428.37L433.66 428.37Z" fill="#2ca02c"/><path d="M463.8 440.64L466.27 436.48L461.33 436.48Z" fill="#2ca02c"/>
<path d="M43 449.2l1.5-.2 1.5-.2 1.5-.2 1.5-.2 1.5-.2 1.5-.2 1.5-.2 1.5-.2 1.5-.2 1.5-.1 1.5-.2 1.5-.2 1.5-.2 1.5-.2 1.5-.2 1.5-.2 1.5-.2 1.5-.2 1.5-.2 1.5-.1 1.5-.1 1.5-.1 1.5-.2 1.5-.1 1.5-.1 1.5-.1 1.5-.1 1.5 0 1.5-.1 1.5 0 1.5-.1 1.5 0 1.5 0 1.5-.1 1.5 0 1.5 0 1.5 0 1.5 0 1.5 0 1.5 .1 1.5 .1 1.5 .3 1.5 .3 1.5 .4 1.5 .3 1.5 .4 1.5 .4 1.5 .4 1.5 .4 1.5 .6 1.5 .6 1.5 .7 1.5 .6 1.5 .6 1.5 .6 1.5 .4 1.5 .2 1.5 0 1.5 0 1.5-.2 1.5-.2 1.5-.3 1.5-.3 1.5-.3 1.5-.4 1.5-.3 1.5-.4 1.5-.3 1.5-.3 1.5-.4 1.5-.4 1.5-.4 1.5-.4 1.5-.4 1.5-.4 1.5-.4 1.5-.2 1.5-.3 1.5-.2 1.5-.1 1.5-.2 1.5-.1 1.5-.2 1.5-.1 1.5-.1 1.5-.2 1.5-.1 1.5-.1 1.5-.1 1.5-.2 1.5-.1 1.5-.1 1.5-.1 1.5-.2 1.5-.1 1.5 0 1.5-.1 1.5 0 1.5 .1 1.5 .2 1.5 .4 1.5 .5 1.5 .5 1.5 .6 1.5 .7 1.5 .7 1.5 .7 1.5 .6 1.5 .7 1.5 .8 1.5 1 1.5 .9 1.5 1 1.5 .9 1.5 .9 1.5 .7 1.5 .5 1.5 .4 1.5 .4 1.5 .4 1.5 .4 1.5 .3 1.5 .3 1.5 .2 1.5 .1 1.5 .1 1.5-.1 1.5-.3 1.5-.5 1.5-.7 1.5-.8 1.5-1 1.5-1 1.5-1 1.5-.9 1.5-.9 1.5-.8 1.5-.9 1.5-.9 1.5-1 1.5-.9 1.5-1 1.5-.9 1.5-.9 1.5-.9 1.5-.7 1.5-.8 1.5-.6 1.5-.6 1.5-.6 1.5-.6 1.5-.6 1.5-.5 1.5-.4 1.5-.3 1.5-.1 1.5 0 1.5 .1 1.5 .3 1.5 .3 1.5 .4 1.5 .4 1.5 .8 1.5 1 1.5 1.1 1.5 1.3 1.5 1.3 1.5 1.2 1.5 1.3 1.5 1.3 1.5 1.5 1.5 1.5 1.5 1.5 1.5 1.5 1.5 1.4 1.5 1.3 1.5 1.3 1.5 1.3 1.5 1.5 1.5 1.4 1.5 1.4 1.5 1.4 1.5 1.2 1.5 1.2 1.5 .9 1.5 .7 1.5 .5 1.5 .1 1.5 0 1.5-.1 1.5-.2 1.5-.2 1.5-.3 1.5-.3 1.5-.4 1.5-.5 1.5-.9 1.5-1.3 1.5-1.6 1.5-1.8 1.5-1.8 1.5-1.7 1.5-1.8 1.5-2 1.5-2.2 1.5-2.5" stroke="#d62728" stroke-width="1.15"/>
<path d="M353.5 446.7l1.5-3.9 1.5-4.6 1.5-4.7 1.5-4.3 1.5-3.5 1.5-3.1 1.5-3 1.5-2.8 1.5-2.9 1.5-2.9 1.5-3.5 1.5-3.5 1.5-3.3 1.5-2.7 1.5-1.7 1.5-.2 1.5 .9 1.5 1.8 1.5 2.5 1.5 3 1.5 3.3 1.5 3.3 1.5 3.1 1.5 3.5 1.5 3.9 1.5 4.2 1.5 4.4 1.5 4.6 1.5 5 1.5 5.4 1.5 5.5 1.5 6 1.5 6.6 1.5 6.5 1.5 6 1.5 4.9 1.5 4.2 1.5 4.2 1.5 4.1 1.5 4.1 1.5 3.8 1.5 3.5 1.5 3.1 1.5 2.7 1.5 2.2 1.5 1.5 1.5 .9 1.5 .2 1.5-.4 1.5-.9 1.5-1.4 1.5-1.7 1.5-2.3 1.5-2.6 1.5-3.1 1.5-3.5 1.5-3.9 1.5-4.2 1.5-4.7 1.5-4.9 1.5-8.5 1.5-13.8 1.5-12.3 1.5-10.6 1.5-9.4 1.5-8.6 1.5-6 1.5-4.6 1.5-4.4 1.5-4.1 1.5-3.7 1.5-3.3 1.5-2.8 1.5-2.1 1.5-1.5 1.5-.7 1.5 0 1.5 0 1.5 .1 1.5 .1 1.5 .3 1.5 .4 1.5 .5 1.5 .7 1.5 1 1.5 1.1 1.5 1.5 1.5 1.8 1.5 2" stroke="#d62728" stroke-width="1.15" stroke-dasharray="3.6 1.2"/>
<path d="M42.83 446.63L45.3 450.79L40.36 450.79Z" fill="#d62728"/><path d="M72.2 442.88L74.67 447.04L69.73 447.04Z" fill="#d62728"/><path d="M101.58 441.67L104.05 445.83L99.11 445.83Z" fill="#d62728"/><path d="M130.95 449.11L133.42 453.27L128.48 453.27Z" fill="#d62728"/><path d="M160.33 442.79L162.8 446.95L157.86 446.95Z" fill="#d62728"/><path d="M189.7 440.4L192.17 444.56L187.23 444.56Z" fill="#d62728"/><path d="M219.08 452.99L221.55 457.15L216.61 457.15Z" fill="#d62728"/><path d="M248.45 447.38L250.92 451.54L245.98 451.54Z" fill="#d62728"/><path d="M277.83 434.15L280.3 438.31L275.36 438.31Z" fill="#d62728"/><path d="M307.2 453.9L309.67 458.06L304.73 458.06Z" fill="#d62728"/><path d="M336.58 464.8L339.05 468.96L334.11 468.96Z" fill="#d62728"/><path d="M353.1 445.01L355.57 449.17L350.63 449.17Z" fill="#d62728"/><path d="M382.47 399.65L384.94 403.81L380 403.81Z" fill="#d62728"/><path d="M411.85 490.03L414.32 494.19L409.38 494.19Z" fill="#d62728"/><path d="M441.22 486.18L443.69 490.34L438.75 490.34Z" fill="#d62728"/><path d="M470.6 382.42L473.07 386.58L468.13 386.58Z" fill="#d62728"/>
<path d="M43 450.4l1.5-.6 1.5-.5 1.5-.5 1.5-.5 1.5-.5 1.5-.5 1.5-.4 1.5-.4 1.5-.4 1.5-.3 1.5-.4 1.5-.4 1.5-.4 1.5-.3 1.5-.4 1.5-.3 1.5-.2 1.5-.2 1.5-.1 1.5-.1 1.5 0 1.5 .1 1.5 .1 1.5 .1 1.5 .2 1.5 .2 1.5 .3 1.5 .2 1.5 .2 1.5 .3 1.5 .2 1.5 .3 1.5 .2 1.5 .3 1.5 .3 1.5 .4 1.5 .3 1.5 .3 1.5 .4 1.5 .3 1.5 .3 1.5 .3 1.5 .3 1.5 .3 1.5 .3 1.5 .3 1.5 .2 1.5 .3 1.5 .3 1.5 .3 1.5 .3 1.5 .3 1.5 .4 1.5 .4 1.5 .4 1.5 .4 1.5 .4 1.5 .3 1.5 .3 1.5 .3 1.5 .1 1.5 0 1.5-.1 1.5-.2 1.5-.4 1.5-.5 1.5-.5 1.5-.6 1.5-.6 1.5-.6 1.5-.5 1.5-.5 1.5-.6 1.5-.6 1.5-.6 1.5-.7 1.5-.6 1.5-.6 1.5-.6 1.5-.6 1.5-.5 1.5-.4 1.5-.4 1.5-.3 1.5-.3 1.5-.3 1.5-.3 1.5-.3 1.5-.2 1.5-.3 1.5-.2 1.5-.1 1.5-.1 1.5-.1 1.5 0 1.5 .2 1.5 .3 1.5 .5 1.5 .5 1.5 .7 1.5 .6 1.5 .6 1.5 .6 1.5 .6 1.5 .5 1.5 .7 1.5 .6 1.5 .6 1.5 .7 1.5 .6 1.5 .7 1.5 .6 1.5 .6 1.5 .7 1.5 .7 1.5 .8 1.5 .8 1.5 .7 1.5 .7 1.5 .6 1.5 .6 1.5 .4 1.5 .2 1.5 .1 1.5-.1 1.5-.3 1.5-.3 1.5-.5 1.5-.6 1.5-.6 1.5-.6 1.5-.7 1.5-.7 1.5-.7 1.5-.6 1.5-.7 1.5-.8 1.5-.8 1.5-.8 1.5-.8 1.5-.9 1.5-.8 1.5-.8 1.5-.7 1.5-.7 1.5-.6 1.5-.6 1.5-.7 1.5-.6 1.5-.6 1.5-.5 1.5-.5 1.5-.4 1.5-.3 1.5-.3 1.5-.2 1.5-.2 1.5-.2 1.5-.1 1.5-.1 1.5-.1 1.5 .4 1.5 1.6 1.5 2 1.5 1.4 1.5 1.2 1.5 1.2 1.5 1.1 1.5 1.1 1.5 1 1.5 1 1.5 .9 1.5 .8 1.5 .8 1.5 .7 1.5 .8 1.5 .7 1.5 .7 1.5 .8 1.5 .6 1.5 .7 1.5 .5 1.5 .5 1.5 .4 1.5 .2 1.5 .1 1.5 0 1.5-.2 1.5-.3 1.5-.4 1.5-.5 1.5-.6 1.5-.7 1.5-.6 1.5-.7 1.5-.7 1.5-.7 1.5-.9 1.5-1 1.5-1 1.5-1.1 1.5-1.2 1.5-1.1 1.5-1.1 1.5-1 1.5-.9" stroke="#9467bd" stroke-width="1.15"/>
<path d="M353.5 443.7l1.5-.8 1.5-.8 1.5-.9 1.5-.8 1.5-.7 1.5-.6 1.5-.6 1.5-.3 1.5-.2 1.5 0 1.5 .1 1.5 .1 1.5 .1 1.5 .2 1.5 .2 1.5 .2 1.5 .3 1.5 .3 1.5 .3 1.5 .3 1.5 .4 1.5 .5 1.5 .7 1.5 .8 1.5 1 1.5 1.1 1.5 1.2 1.5 1.2 1.5 1.2 1.5 1.2 1.5 1.1 1.5 1.2 1.5 1.3 1.5 1.5 1.5 1.5 1.5 1.4 1.5 1.4 1.5 1.2 1.5 .9 1.5 .6 1.5 .3 1.5-.2 1.5-.3 1.5-.4 1.5-.6 1.5-.7 1.5-.8 1.5-.8 1.5-.9 1.5-.8 1.5-.8 1.5-.8 1.5-.9 1.5-1 1.5-1.1 1.5-1.1 1.5-1.1 1.5-1 1.5-1.1 1.5-1 1.5-.9 1.5-.8 1.5-.8 1.5-.8 1.5-.9 1.5-.8 1.5-.8 1.5-.8 1.5-.6 1.5-.5 1.5-.4 1.5-.3 1.5 0 1.5 0 1.5 .1 1.5 .1 1.5 .1 1.5 .1 1.5 .1 1.5 .2 1.5 .2 1.5 .2 1.5 .2 1.5 .5 1.5 .8 1.5 1 1.5 1.1 1.5 1.3 1.5 1.2" stroke="#9467bd" stroke-width="1.15" stroke-dasharray="3.6 1.2"/>
<rect x="40.93" y="448.55" width="3.8" height="3.8" fill="#9467bd"/><rect x="72" y="441.11" width="3.8" height="3.8" fill="#9467bd"/><rect x="103.08" y="446.2" width="3.8" height="3.8" fill="#9467bd"/><rect x="134.15" y="452.35" width="3.8" height="3.8" fill="#9467bd"/><rect x="165.23" y="441.68" width="3.8" height="3.8" fill="#9467bd"/><rect x="196.3" y="443.36" width="3.8" height="3.8" fill="#9467bd"/><rect x="227.37" y="455.59" width="3.8" height="3.8" fill="#9467bd"/><rect x="258.45" y="442.2" width="3.8" height="3.8" fill="#9467bd"/><rect x="289.52" y="442.26" width="3.8" height="3.8" fill="#9467bd"/><rect x="320.6" y="457.35" width="3.8" height="3.8" fill="#9467bd"/><rect x="351.2" y="442.04" width="3.8" height="3.8" fill="#9467bd"/><rect x="382.27" y="438.4" width="3.8" height="3.8" fill="#9467bd"/><rect x="413.35" y="459.85" width="3.8" height="3.8" fill="#9467bd"/><rect x="444.42" y="442.93" width="3.8" height="3.8" fill="#9467bd"/><rect x="475.5" y="437.33" width="3.8" height="3.8" fill="#9467bd"/>
<path d="M43 445l1.5-.2 1.5-.1 1.5-.2 1.5-.1 1.5-.2 1.5-.2 1.5-.1 1.5-.2 1.5-.1 1.5-.2 1.5-.2 1.5-.1 1.5-.2 1.5-.2 1.5-.2 1.5-.1 1.5-.2 1.5-.2 1.5-.2 1.5-.2 1.5-.2 1.5-.1 1.5-.2 1.5-.2 1.5-.2 1.5-.2 1.5-.2 1.5-.2 1.5-.2 1.5-.2 1.5-.2 1.5-.2 1.5-.2 1.5-.2 1.5-.3 1.5-.2 1.5-.2 1.5-.2 1.5-.3 1.5-.3 1.5-.3 1.5-.2 1.5-.1 1.5 0 1.5 0 1.5 0 1.5 0 1.5 0 1.5 0 1.5 0 1.5 0 1.5 0 1.5 0 1.5 0 1.5 0 1.5 0 1.5 0 1.5 0 1.5 0 1.5 0 1.5 0 1.5 0 1.5 0 1.5 0 1.5 0 1.5 0 1.5 0 1.5 0 1.5 0 1.5 0 1.5 0 1.5 0 1.5 0 1.5 0 1.5 0 1.5 0 1.5 0 1.5 0 1.5 0 1.5 0 1.5 0 1.5 0 1.5 0 1.5 0 1.5 0 1.5 0 1.5 0 1.5 0 1.5 0 1.5 0 1.5 0 1.5 0 1.5 0 1.5 0 1.5 0 1.5 0 1.5 0 1.5 0 1.5 0 1.5 0 1.5 0 1.5 0 1.5 0 1.5 0 1.5 0 1.5 0 1.5 0 1.5 0 1.5 0 1.5 0 1.5 0 1.5 0 1.5 0 1.5 0 1.5 0 1.5 0 1.5 0 1.5 0 1.5 0 1.5 0 1.5 0 1.5 0 1.5 0 1.5 0 1.5 0 1.5 0 1.5 0 1.5 0 1.5 0 1.5 0 1.5 0 1.5 0 1.5 0 1.5 0 1.5 0 1.5 0 1.5 0 1.5 0 1.5 0 1.5 0 1.5 0 1.5 0 1.5 0 1.5 0 1.5 0 1.5 0 1.5 0 1.5 0 1.5 0 1.5 0 1.5 0 1.5 0 1.5 0 1.5 0 1.5 0 1.5 0 1.5 0 1.5 0 1.5 0 1.5 0 1.5 0 1.5 0 1.5 0 1.5 0 1.5 0 1.5 0 1.5 0 1.5 0 1.5 0 1.5 0 1.5 0 1.5 0 1.5 0 1.5 0 1.5 0 1.5 0 1.5 0 1.5 0 1.5 0 1.5 0 1.5 0 1.5 0 1.5 0 1.5 0 1.5 0 1.5 0 1.5 0 1.5 0 1.5 0 1.5 0 1.5 0 1.5 0 1.5 0 1.5 0 1.5 0 1.5 0 1.5 0 1.5 0 1.5 0 1.5 0 1.5 0 1.5 0 1.5 0 1.5 0 1.5 0 1.5 0" stroke="#8c564b" stroke-width="1.15"/>
<path d="M353.5 436.8l1.5 0 1.5 0 1.5 0 1.5 0 1.5 0 1.5 0 1.5 0 1.5 0 1.5 0 1.5 0 1.5 0 1.5 0 1.5 0 1.5 0 1.5 0 1.5 0 1.5 0 1.5 0 1.5 0 1.5 0 1.5 0 1.5 0 1.5 0 1.5 0 1.5 0 1.5 0 1.5 0 1.5 0 1.5 0 1.5 0 1.5 0 1.5 0 1.5 0 1.5 0 1.5 0 1.5 0 1.5 0 1.5 0 1.5 0 1.5 0 1.5 0 1.5 0 1.5 0 1.5 0 1.5 0 1.5 0 1.5 0 1.5 0 1.5 0 1.5 0 1.5 0 1.5 0 1.5 0 1.5 0 1.5 0 1.5 0 1.5 0 1.5 0 1.5 0 1.5 0 1.5 0 1.5 0 1.5 0 1.5 0 1.5 0 1.5 0 1.5 0 1.5 0 1.5 0 1.5 0 1.5 0 1.5 0 1.5 0 1.5 0 1.5 0 1.5 0 1.5 0 1.5 0 1.5 0 1.5 0 1.5 0 1.5 0 1.5 0 1.5 0 1.5 0 1.5 0 1.5 0 1.5 0 1.5 0" stroke="#8c564b" stroke-width="1.15" stroke-dasharray="3.6 1.2"/>
<path d="M42.83 442.89L44.65 443.94L44.65 446.04L42.83 447.09L41.01 446.04L41.01 443.94Z" fill="#8c564b"/><path d="M75.6 439.21L77.42 440.26L77.42 442.36L75.6 443.41L73.78 442.36L73.78 440.26Z" fill="#8c564b"/><path d="M108.38 434.65L110.2 435.7L110.2 437.8L108.38 438.85L106.56 437.8L106.56 435.7Z" fill="#8c564b"/><path d="M141.15 434.65L142.97 435.7L142.97 437.8L141.15 438.85L139.33 437.8L139.33 435.7Z" fill="#8c564b"/><path d="M173.92 434.65L175.74 435.7L175.74 437.8L173.92 438.85L172.1 437.8L172.1 435.7Z" fill="#8c564b"/><path d="M206.7 434.65L208.52 435.7L208.52 437.8L206.7 438.85L204.88 437.8L204.88 435.7Z" fill="#8c564b"/><path d="M239.47 434.65L241.29 435.7L241.29 437.8L239.47 438.85L237.65 437.8L237.65 435.7Z" fill="#8c564b"/><path d="M272.24 434.65L274.06 435.7L274.06 437.8L272.24 438.85L270.42 437.8L270.42 435.7Z" fill="#8c564b"/><path d="M305.02 434.65L306.84 435.7L306.84 437.8L305.02 438.85L303.2 437.8L303.2 435.7Z" fill="#8c564b"/><path d="M337.79 434.65L339.61 435.7L339.61 437.8L337.79 438.85L335.97 437.8L335.97 435.7Z" fill="#8c564b"/><path d="M353.1 434.65L354.92 435.7L354.92 437.8L353.1 438.85L351.28 437.8L351.28 435.7Z" fill="#8c564b"/><path d="M385.87 434.65L387.69 435.7L387.69 437.8L385.87 438.85L384.05 437.8L384.05 435.7Z" fill="#8c564b"/><path d="M418.65 434.65L420.47 435.7L420.47 437.8L418.65 438.85L416.83 437.8L416.83 435.7Z" fill="#8c564b"/><path d="M451.42 434.65L453.24 435.7L453.24 437.8L451.42 438.85L449.6 437.8L449.6 435.7Z" fill="#8c564b"/><path d="M484.19 434.65L486.01 435.7L486.01 437.8L484.19 438.85L482.37 437.8L482.37 435.7Z" fill="#8c564b"/>
<path d="M43 436.8l1.5 0 1.5 0 1.5 0 1.5 0 1.5 0 1.5 0 1.5 0 1.5 0 1.5 0 1.5 0 1.5 0 1.5 0 1.5 0 1.5 0 1.5 0 1.5 0 1.5 0 1.5 0 1.5 0 1.5 0 1.5 0 1.5 0 1.5 0 1.5 0 1.5 0 1.5 0 1.5 0 1.5 0 1.5 0 1.5 0 1.5 0 1.5 0 1.5 0 1.5 0 1.5 0 1.5 0 1.5 0 1.5 0 1.5 0 1.5 0 1.5 0 1.5 0 1.5 0 1.5 0 1.5 0 1.5 0 1.5 0 1.5 0 1.5 0 1.5 0 1.5 0 1.5 0 1.5 0 1.5 0 1.5 0 1.5 0 1.5 0 1.5 0 1.5 0 1.5 0 1.5 0 1.5 0 1.5 0 1.5 0 1.5 0 1.5 0 1.5 0 1.5 0 1.5 0 1.5 0 1.5 0 1.5 0 1.5 0 1.5 0 1.5 0 1.5 0 1.5 0 1.5 0 1.5 0 1.5 0 1.5 0 1.5 0 1.5 0 1.5 0 1.5 0 1.5 0 1.5 0 1.5 0 1.5 0 1.5 0 1.5 0 1.5 0 1.5 0 1.5 0 1.5 0 1.5 0 1.5 0 1.5 0 1.5 0 1.5 0 1.5 0 1.5 0 1.5 0 1.5 0 1.5 0 1.5 0 1.5 0 1.5 0 1.5 0 1.5 0 1.5 0 1.5 0 1.5 0 1.5 0 1.5 0 1.5 0 1.5 0 1.5 0 1.5 0 1.5 0 1.5 0 1.5 0 1.5 0 1.5 0 1.5 0 1.5 0 1.5 0 1.5 0 1.5 0 1.5 0 1.5 0 1.5 0 1.5 0 1.5 0 1.5 0 1.5 0 1.5 0 1.5 0 1.5 0 1.5 0 1.5 0 1.5 0 1.5 0 1.5 0 1.5 0 1.5 0 1.5 0 1.5 0 1.5 0 1.5 0 1.5 0 1.5 0 1.5 0 1.5 0 1.5 0 1.5 0 1.5 0 1.5 0 1.5 0 1.5 0 1.5 0 1.5 0 1.5 0 1.5 0 1.5 0 1.5 0 1.5 0 1.5 0 1.5 0 1.5 0 1.5 0 1.5 0 1.5 0 1.5 0 1.5 0 1.5 0 1.5 0 1.5 0 1.5 0 1.5 0 1.5 0 1.5 0 1.5 0 1.5 0 1.5 0 1.5 0 1.5 0 1.5 0 1.5 0 1.5 0 1.5 0 1.5 0 1.5 0 1.5 0 1.5 0 1.5 0 1.5 0 1.5 0 1.5 0 1.5 0 1.5 0 1.5 0 1.5 0 1.5 0 1.5 0 1.5 0" stroke="#e377c2" stroke-width="1.15"/>
<path d="M353.5 436.8l1.5 0 1.5 0 1.5 0 1.5 0 1.5 0 1.5 0 1.5 0 1.5 0 1.5 0 1.5 0 1.5 0 1.5 0 1.5 0 1.5 0 1.5 0 1.5 0 1.5 0 1.5 0 1.5 0 1.5 0 1.5 0 1.5 0 1.5 0 1.5 0 1.5 0 1.5 0 1.5 0 1.5 0 1.5 0 1.5 0 1.5 0 1.5 0 1.5 0 1.5 0 1.5 0 1.5 0 1.5 0 1.5 0 1.5 0 1.5 0 1.5 0 1.5 0 1.5 0 1.5 0 1.5 0 1.5 0 1.5 0 1.5 0 1.5 0 1.5 0 1.5 0 1.5 0 1.5 0 1.5 0 1.5 0 1.5 0 1.5 0 1.5 0 1.5 0 1.5 0 1.5 0 1.5 0 1.5 0 1.5 0 1.5 0 1.5 0 1.5 0 1.5 0 1.5 0 1.5 0 1.5 0 1.5 0 1.5 0 1.5 0 1.5 0 1.5 0 1.5 0 1.5 0 1.5 0 1.5 0 1.5 0 1.5 0 1.5 0 1.5 0 1.5 0 1.5 0 1.5 0 1.5 0 1.5 0" stroke="#e377c2" stroke-width="1.15" stroke-dasharray="3.6 1.2"/>
<path d="M42.83 434L45.58 436.75L42.83 439.5L40.08 436.75Z" fill="#e377c2"/><path d="M77.3 434L80.05 436.75L77.3 439.5L74.55 436.75Z" fill="#e377c2"/><path d="M111.78 434L114.53 436.75L111.78 439.5L109.03 436.75Z" fill="#e377c2"/><path d="M146.25 434L149 436.75L146.25 439.5L143.5 436.75Z" fill="#e377c2"/><path d="M180.72 434L183.47 436.75L180.72 439.5L177.97 436.75Z" fill="#e377c2"/><path d="M215.19 434L217.94 436.75L215.19 439.5L212.44 436.75Z" fill="#e377c2"/><path d="M249.67 434L252.42 436.75L249.67 439.5L246.92 436.75Z" fill="#e377c2"/><path d="M284.14 434L286.89 436.75L284.14 439.5L281.39 436.75Z" fill="#e377c2"/><path d="M318.61 434L321.36 436.75L318.61 439.5L315.86 436.75Z" fill="#e377c2"/><path d="M353.1 434L355.85 436.75L353.1 439.5L350.35 436.75Z" fill="#e377c2"/><path d="M387.57 434L390.32 436.75L387.57 439.5L384.82 436.75Z" fill="#e377c2"/><path d="M422.05 434L424.8 436.75L422.05 439.5L419.3 436.75Z" fill="#e377c2"/><path d="M456.52 434L459.27 436.75L456.52 439.5L453.77 436.75Z" fill="#e377c2"/>
<path d="M43 436.8l1.5 .1 1.5 .2 1.5 .3 1.5 .3 1.5 .4 1.5 .7 1.5 .9 1.5 1.1 1.5 1.3 1.5 1.4 1.5 1.4 1.5 1.5 1.5 1.4 1.5 1.4 1.5 1.2 1.5 1.4 1.5 1.5 1.5 1.7 1.5 1.6 1.5 1.5 1.5 1.3 1.5 1.1 1.5 .8 1.5 .4 1.5 0 1.5-.2 1.5-.4 1.5-.4 1.5-.6 1.5-.6 1.5-.6 1.5-.5 1.5-.6 1.5-.5 1.5-.6 1.5-.6 1.5-.6 1.5-.7 1.5-.6 1.5-.6 1.5-.6 1.5-.6 1.5-.8 1.5-.7 1.5-.7 1.5-.5 1.5-.4 1.5 0 1.5 0 1.5 .1 1.5 .2 1.5 .2 1.5 .2 1.5 .2 1.5 .2 1.5 .2 1.5 .2 1.5 .2 1.5 .2 1.5 .1 1.5 .2 1.5 .2 1.5 .2 1.5 .1 1.5 .2 1.5 .2 1.5 .1 1.5 .2 1.5 .1 1.5 .1 1.5 .1 1.5 0 1.5 0 1.5 0 1.5 0 1.5 0 1.5 0 1.5 0 1.5 0 1.5 0 1.5 0 1.5 0 1.5 0 1.5 0 1.5 0 1.5 0 1.5 0 1.5 0 1.5 0 1.5 0 1.5 0 1.5 0 1.5 0 1.5 0 1.5 0 1.5 0 1.5 0 1.5 0 1.5-.1 1.5-.1 1.5 0 1.5-.1 1.5-.2 1.5-.1 1.5-.1 1.5-.2 1.5-.1 1.5-.2 1.5-.1 1.5-.2 1.5-.1 1.5-.2 1.5-.1 1.5-.2 1.5-.1 1.5-.1 1.5-.1 1.5 0 1.5-.1 1.5 0 1.5 0 1.5 0 1.5 0 1.5 0 1.5 0 1.5 0 1.5 0 1.5 0 1.5 0 1.5 0 1.5 0 1.5 0 1.5 0 1.5 0 1.5 0 1.5 0 1.5 0 1.5 0 1.5 0 1.5 0 1.5 0 1.5 0 1.5 0 1.5 0 1.5 0 1.5-.3 1.5-.7 1.5-1 1.5-1.1 1.5-1.3 1.5-1.4 1.5-1.4 1.5-1.3 1.5-1.3 1.5-1.1 1.5-.8 1.5-.6 1.5-.2 1.5 .3 1.5 .6 1.5 .8 1.5 1 1.5 1.4 1.5 1.8 1.5 1.9 1.5 1.9 1.5 1.5 1.5 1 1.5 .3 1.5 0 1.5 0 1.5 0 1.5 0 1.5 0 1.5 0 1.5 0 1.5 0 1.5 0 1.5 0 1.5 0 1.5 0 1.5 0 1.5 0 1.5 0 1.5 0 1.5 0 1.5 0 1.5 0 1.5 0 1.5 0 1.5 0 1.5 0 1.5 0 1.5 0 1.5 .1 1.5 .1 1.5 .1 1.5 .1 1.5 .1 1.5 .2 1.5 .1 1.5 .1 1.5 .2 1.5 0 1.5 .1 1.5 0" stroke="#7f7f7f" stroke-width="1.15"/>
<path d="M353.5 451.7l1.5 0 1.5 0 1.5 0 1.5-.1 1.5 0 1.5-.1 1.5 0 1.5-.1 1.5-.1 1.5-.1 1.5 0 1.5-.1 1.5-.1 1.5-.1 1.5 0 1.5-.1 1.5-.1 1.5 0 1.5-.1 1.5 0 1.5-.1 1.5 0 1.5 0 1.5 0 1.5 0 1.5 0 1.5 0 1.5 0 1.5 0 1.5 0 1.5 0 1.5 0 1.5 0 1.5 0 1.5 0 1.5 0 1.5 0 1.5 0 1.5 0 1.5 0 1.5 0 1.5 0 1.5 0 1.5 0 1.5 0 1.5 0 1.5 0 1.5 0 1.5 0 1.5 0 1.5 0 1.5 0 1.5 0 1.5 0 1.5 0 1.5 0 1.5 0 1.5 0 1.5 0 1.5 0 1.5 0 1.5 0 1.5 0 1.5 0 1.5 0 1.5 0 1.5 0 1.5 0 1.5 0 1.5 0 1.5 0 1.5 0 1.5 0 1.5 0 1.5 0 1.5 0 1.5 0 1.5 0 1.5 0 1.5 0 1.5 0 1.5 0 1.5 0 1.5 0 1.5 0 1.5 0 1.5 0 1.5 0 1.5 0" stroke="#7f7f7f" stroke-width="1.15" stroke-dasharray="3.6 1.2"/>
<path d="M42.83 433.95L44.33 436.75L42.83 439.55L41.33 436.75Z" fill="#7f7f7f"/><path d="M79 458.92L80.5 461.72L79 464.52L77.5 461.72Z" fill="#7f7f7f"/><path d="M115.17 446.46L116.67 449.26L115.17 452.06L113.67 449.26Z" fill="#7f7f7f"/><path d="M151.35 450.2L152.85 453L151.35 455.8L149.85 453Z" fill="#7f7f7f"/><path d="M187.52 450.2L189.02 453L187.52 455.8L186.02 453Z" fill="#7f7f7f"/><path d="M223.69 447.7L225.19 450.5L223.69 453.3L222.19 450.5Z" fill="#7f7f7f"/><path d="M259.86 447.7L261.36 450.5L259.86 453.3L258.36 450.5Z" fill="#7f7f7f"/><path d="M296.03 447.69L297.53 450.49L296.03 453.29L294.53 450.49Z" fill="#7f7f7f"/><path d="M332.21 447.7L333.71 450.5L332.21 453.3L330.71 450.5Z" fill="#7f7f7f"/><path d="M353.1 448.95L354.6 451.75L353.1 454.55L351.6 451.75Z" fill="#7f7f7f"/><path d="M389.27 447.7L390.77 450.5L389.27 453.3L387.77 450.5Z" fill="#7f7f7f"/><path d="M425.44 447.7L426.94 450.5L425.44 453.3L423.94 450.5Z" fill="#7f7f7f"/><path d="M461.62 447.7L463.12 450.5L461.62 453.3L460.12 450.5Z" fill="#7f7f7f"/>
</g>
<line x1="353.1" y1="415" x2="353.1" y2="480.5" stroke="#000" stroke-width="1.05"/>
<rect x="43" y="415" width="444.35" height="65.5" fill="none" stroke="#000" stroke-width="0.62"/>
<line x1="40.7" y1="416.2" x2="43" y2="416.2" stroke="#000" stroke-width="0.62"/>
<text x="39.3" y="418.65" text-anchor="end" textLength="13.02" lengthAdjust="spacingAndGlyphs">0.00</text>
<line x1="40.7" y1="437.1" x2="43" y2="437.1" stroke="#000" stroke-width="0.62"/>
<text x="39.3" y="439.55" text-anchor="end" textLength="17.92" lengthAdjust="spacingAndGlyphs">−0.05</text>
<line x1="40.7" y1="457.7" x2="43" y2="457.7" stroke="#000" stroke-width="0.62"/>
<text x="39.3" y="460.15" text-anchor="end" textLength="17.92" lengthAdjust="spacingAndGlyphs">−0.10</text>
<line x1="40.7" y1="478.2" x2="43" y2="478.2" stroke="#000" stroke-width="0.62"/>
<text x="39.3" y="480.65" text-anchor="end" textLength="17.92" lengthAdjust="spacingAndGlyphs">−0.15</text>
<line x1="131.5" y1="480.5" x2="131.5" y2="482.8" stroke="#000" stroke-width="0.62"/>
<line x1="220.17" y1="480.5" x2="220.17" y2="482.8" stroke="#000" stroke-width="0.62"/>
<line x1="308.84" y1="480.5" x2="308.84" y2="482.8" stroke="#000" stroke-width="0.62"/>
<line x1="397.51" y1="480.5" x2="397.51" y2="482.8" stroke="#000" stroke-width="0.62"/>
<text transform="translate(10.68 448.75) rotate(-90)" text-anchor="middle" textLength="7.44" lengthAdjust="spacingAndGlyphs">S3</text>
<text transform="translate(17.68 446.55) rotate(-90)" text-anchor="middle" textLength="29.5" lengthAdjust="spacingAndGlyphs">Δ O<tspan font-size="4.1" dy="1.2">3</tspan><tspan dy="-1.2"> [DU]</tspan></text>
<text x="131.5" y="489.9" text-anchor="middle" textLength="16.8" lengthAdjust="spacingAndGlyphs">Year 1</text>
<text x="220.17" y="489.9" text-anchor="middle" textLength="16.8" lengthAdjust="spacingAndGlyphs">Year 2</text>
<text x="308.84" y="489.9" text-anchor="middle" textLength="16.8" lengthAdjust="spacingAndGlyphs">Year 3</text>
<text x="397.51" y="489.9" text-anchor="middle" textLength="16.8" lengthAdjust="spacingAndGlyphs">Year 4</text>
<text x="486.18" y="489.9" text-anchor="middle" textLength="16.8" lengthAdjust="spacingAndGlyphs">Year 5</text>
<rect x="5.4" y="495.0" width="489.2" height="10.5" rx="1.2" fill="#fff" stroke="#d9d9d9" stroke-width="0.8"/>
<line x1="7.4" y1="500" x2="19.8" y2="500" stroke="#1f77b4" stroke-width="1.0"/>
<circle cx="13.6" cy="500" r="2.2" fill="#1f77b4"/>
<text x="24.1" y="502.4" textLength="14" lengthAdjust="spacingAndGlyphs" style="stroke-width:0.1px">DMD</text>
<line x1="49.2" y1="500" x2="61.6" y2="500" stroke="#ff7f0e" stroke-width="1.0"/>
<path d="M52.8 500L56.96 497.53L56.96 502.47Z" fill="#ff7f0e"/>
<text x="65.9" y="502.4" textLength="24.3" lengthAdjust="spacingAndGlyphs" style="stroke-width:0.1px">OptDMD</text>
<line x1="101.2" y1="500" x2="113.6" y2="500" stroke="#2ca02c" stroke-width="1.0"/>
<path d="M107.4 502.6L109.87 498.44L104.93 498.44Z" fill="#2ca02c"/>
<text x="117.9" y="502.4" textLength="30.5" lengthAdjust="spacingAndGlyphs" style="stroke-width:0.1px">C-OptDMD</text>
<line x1="160" y1="500" x2="172.4" y2="500" stroke="#d62728" stroke-width="1.0"/>
<path d="M166.2 497.4L168.67 501.56L163.73 501.56Z" fill="#d62728"/>
<text x="176.7" y="502.4" textLength="25.6" lengthAdjust="spacingAndGlyphs" style="stroke-width:0.1px">BOPDMD</text>
<line x1="214" y1="500" x2="226.4" y2="500" stroke="#9467bd" stroke-width="1.0"/>
<rect x="218.3" y="498.1" width="3.8" height="3.8" fill="#9467bd"/>
<text x="230.7" y="502.4" textLength="31.3" lengthAdjust="spacingAndGlyphs" style="stroke-width:0.1px">C-BOPDMD</text>
<line x1="274.2" y1="500" x2="286.6" y2="500" stroke="#8c564b" stroke-width="1.0"/>
<path d="M280.4 497.9L282.22 498.95L282.22 501.05L280.4 502.1L278.58 501.05L278.58 498.95Z" fill="#8c564b"/>
<text x="290.9" y="502.4" textLength="32.3" lengthAdjust="spacingAndGlyphs" style="stroke-width:0.1px">POD-SINDy</text>
<line x1="334.5" y1="500" x2="346.9" y2="500" stroke="#e377c2" stroke-width="1.0"/>
<path d="M340.7 497.25L343.45 500L340.7 502.75L337.95 500Z" fill="#e377c2"/>
<text x="351.2" y="502.4" textLength="62.3" lengthAdjust="spacingAndGlyphs" style="stroke-width:0.1px">Ensemble POD-SINDy</text>
<line x1="425" y1="500" x2="437.4" y2="500" stroke="#7f7f7f" stroke-width="1.0"/>
<path d="M431.2 497.2L432.7 500L431.2 502.8L429.7 500Z" fill="#7f7f7f"/>
<text x="441.7" y="502.4" textLength="49.2" lengthAdjust="spacingAndGlyphs" style="stroke-width:0.1px">Weak POD-SINDy</text>
</svg>
</body></html>
